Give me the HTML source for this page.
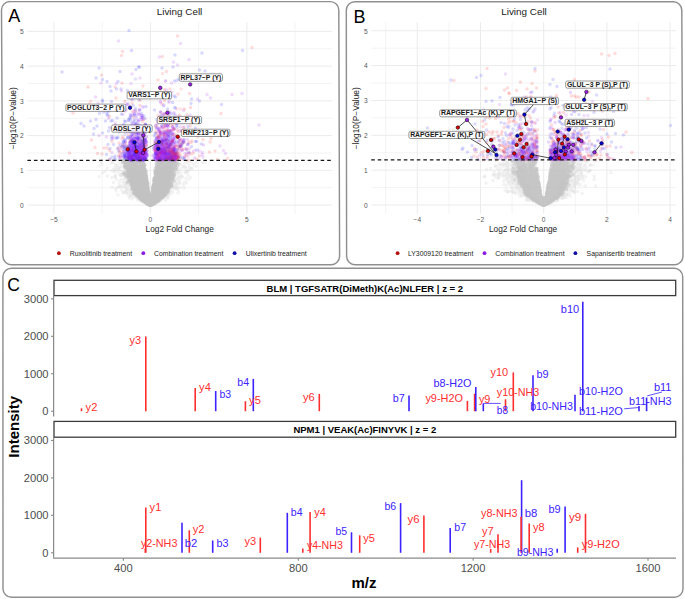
<!DOCTYPE html>
<html><head><meta charset="utf-8"><style>
html,body{margin:0;padding:0;background:#fff;}
svg{display:block;font-family:"Liberation Sans", sans-serif;}
</style></head><body>
<svg width="685" height="599" viewBox="0 0 685 599">
<path d="M10.00 1.60L330.30 1.60A8.5 8.5 0 0 1 338.80 10.10L339.60 256.30A8.5 8.5 0 0 1 331.10 264.80L11.40 264.80A8.5 8.5 0 0 1 2.90 256.30L1.50 10.10A8.5 8.5 0 0 1 10.00 1.60Z" fill="none" stroke="#8f8f8f" stroke-width="1.45"/>
<path d="M354.80 1.70L673.30 1.70A8.5 8.5 0 0 1 681.80 10.20L683.00 256.30A8.5 8.5 0 0 1 674.50 264.80L355.10 264.80A8.5 8.5 0 0 1 346.60 256.30L346.30 10.20A8.5 8.5 0 0 1 354.80 1.70Z" fill="none" stroke="#8f8f8f" stroke-width="1.45"/>
<path d="M11.40 268.20L674.20 268.20A8.5 8.5 0 0 1 682.70 276.70L683.00 588.80A8.5 8.5 0 0 1 674.50 597.30L11.50 597.30A8.5 8.5 0 0 1 3.00 588.80L2.90 276.70A8.5 8.5 0 0 1 11.40 268.20Z" fill="none" stroke="#8f8f8f" stroke-width="1.45"/>
<text x="8.2" y="22.3" font-size="18" fill="#000" text-anchor="start" font-weight="normal" >A</text>
<text x="353.6" y="22.5" font-size="18" fill="#000" text-anchor="start" font-weight="normal" >B</text>
<text x="7.3" y="290.6" font-size="17.5" fill="#000" text-anchor="start" font-weight="normal" >C</text>
<line x1="27.4" x2="332" y1="187.73" y2="187.73" stroke="#ebebeb" stroke-width="0.6"/>
<line x1="27.4" x2="332" y1="152.99" y2="152.99" stroke="#ebebeb" stroke-width="0.6"/>
<line x1="27.4" x2="332" y1="118.25" y2="118.25" stroke="#ebebeb" stroke-width="0.6"/>
<line x1="27.4" x2="332" y1="83.51" y2="83.51" stroke="#ebebeb" stroke-width="0.6"/>
<line x1="27.4" x2="332" y1="48.77" y2="48.77" stroke="#ebebeb" stroke-width="0.6"/>
<line x1="27.4" x2="332" y1="205.10" y2="205.10" stroke="#ebebeb" stroke-width="1"/>
<line x1="27.4" x2="332" y1="170.36" y2="170.36" stroke="#ebebeb" stroke-width="1"/>
<line x1="27.4" x2="332" y1="135.62" y2="135.62" stroke="#ebebeb" stroke-width="1"/>
<line x1="27.4" x2="332" y1="100.88" y2="100.88" stroke="#ebebeb" stroke-width="1"/>
<line x1="27.4" x2="332" y1="66.14" y2="66.14" stroke="#ebebeb" stroke-width="1"/>
<line x1="27.4" x2="332" y1="31.40" y2="31.40" stroke="#ebebeb" stroke-width="1"/>
<line y1="22.3" y2="213.7" x1="102.15" x2="102.15" stroke="#ebebeb" stroke-width="0.6"/>
<line y1="22.3" y2="213.7" x1="198.65" x2="198.65" stroke="#ebebeb" stroke-width="0.6"/>
<line y1="22.3" y2="213.7" x1="295.15" x2="295.15" stroke="#ebebeb" stroke-width="0.6"/>
<line y1="22.3" y2="213.7" x1="53.90" x2="53.90" stroke="#ebebeb" stroke-width="1"/>
<line y1="22.3" y2="213.7" x1="150.40" x2="150.40" stroke="#ebebeb" stroke-width="1"/>
<line y1="22.3" y2="213.7" x1="246.90" x2="246.90" stroke="#ebebeb" stroke-width="1"/>
<line x1="371.4" x2="676" y1="187.57" y2="187.57" stroke="#ebebeb" stroke-width="0.6"/>
<line x1="371.4" x2="676" y1="152.72" y2="152.72" stroke="#ebebeb" stroke-width="0.6"/>
<line x1="371.4" x2="676" y1="117.88" y2="117.88" stroke="#ebebeb" stroke-width="0.6"/>
<line x1="371.4" x2="676" y1="83.02" y2="83.02" stroke="#ebebeb" stroke-width="0.6"/>
<line x1="371.4" x2="676" y1="48.17" y2="48.17" stroke="#ebebeb" stroke-width="0.6"/>
<line x1="371.4" x2="676" y1="205.00" y2="205.00" stroke="#ebebeb" stroke-width="1"/>
<line x1="371.4" x2="676" y1="170.15" y2="170.15" stroke="#ebebeb" stroke-width="1"/>
<line x1="371.4" x2="676" y1="135.30" y2="135.30" stroke="#ebebeb" stroke-width="1"/>
<line x1="371.4" x2="676" y1="100.45" y2="100.45" stroke="#ebebeb" stroke-width="1"/>
<line x1="371.4" x2="676" y1="65.60" y2="65.60" stroke="#ebebeb" stroke-width="1"/>
<line x1="371.4" x2="676" y1="30.75" y2="30.75" stroke="#ebebeb" stroke-width="1"/>
<line y1="22.3" y2="213.7" x1="385.70" x2="385.70" stroke="#ebebeb" stroke-width="0.6"/>
<line y1="22.3" y2="213.7" x1="448.90" x2="448.90" stroke="#ebebeb" stroke-width="0.6"/>
<line y1="22.3" y2="213.7" x1="512.10" x2="512.10" stroke="#ebebeb" stroke-width="0.6"/>
<line y1="22.3" y2="213.7" x1="575.30" x2="575.30" stroke="#ebebeb" stroke-width="0.6"/>
<line y1="22.3" y2="213.7" x1="638.50" x2="638.50" stroke="#ebebeb" stroke-width="0.6"/>
<line y1="22.3" y2="213.7" x1="417.30" x2="417.30" stroke="#ebebeb" stroke-width="1"/>
<line y1="22.3" y2="213.7" x1="480.50" x2="480.50" stroke="#ebebeb" stroke-width="1"/>
<line y1="22.3" y2="213.7" x1="543.70" x2="543.70" stroke="#ebebeb" stroke-width="1"/>
<line y1="22.3" y2="213.7" x1="606.90" x2="606.90" stroke="#ebebeb" stroke-width="1"/>
<line y1="22.3" y2="213.7" x1="670.10" x2="670.10" stroke="#ebebeb" stroke-width="1"/>
<g transform="scale(.5)" fill="none" stroke="#c2c2c2" stroke-opacity="0.45" stroke-width="7.00" stroke-linecap="round"><path d="M246 325h0m0 23h0m2-23h0m4-4h0m1 11h0m0 34h0m1-32h0m1-12h0m1 5h0m0 2h0m0 5h0m0 7h0m0 5h0m0 18h0m1-15h0m1-15h0m1 11h0m0 7h0m1-2h0m1-28h0m0 19h0m0 7h0m0 3h0m0 5h0m0 10h0m1-34h0m0 7h0m0 19h0m0 2h0m0 2h0m0 2h0m0 3h0m1-34h0m0 11h0m0 14h0m0 1h0m0 3h0m0 0h0m0 3h0m0 6h0m1-18h0m0 15h0m0 3h0m0 6h0m0 0h0m1-50h0m0 11h0m0 10h0m0 1h0m0 8h0m0 1h0m0 6h0m0 3h0m0 10h0m0 1h0m1-38h0m0 13h0m0 2h0m1-31h0m0 2h0m0 3h0m0 25h0m0 7h0m0 7h0m0 0h0m0 2h0m0 0h0m0 7h0m1-47h0m0 2h0m0 3h0m0 19h0m0 5h0m0 5h0m0 14h0m1-33h0m0 1h0m0 5h0m0 7h0m0 4h0m0 4h0m0 3h0m0 3h0m0 4h0m0 2h0m0 4h0m0 5h0m1-51h0m0 16h0m0 8h0m0 8h0m0 1h0m0 0h0m0 2h0m0 6h0m0 1h0m0 0h0m0 7h0m1-51h0m0 7h0m0 25h0m0 1h0m0 0h0m0 1h0m0 7h0m0 3h0m0 3h0m0 3h0m1-61h0m0 16h0m0 15h0m0 14h0m0 1h0m0 1h0m0 0h0m0 2h0m0 3h0m0 9h0m0 1h0m0 0h0m0 3h0m1-39h0m0 1h0m0 4h0m0 4h0m0 6h0m0 5h0m0 7h0m0 0h0m0 2h0m0 0h0m0 1h0m0 4h0m1-60h0m0 20h0m0 1h0m0 23h0m0 2h0m0 3h0m0 0h0m0 1h0m0 4h0m0 1h0m0 9h0m0 3h0m1-53h0m0 14h0m0 15h0m0 0h0m0 3h0m0 6h0m0 7h0m0 0h0m0 1h0m0 1h0m0 1h0m0 2h0m0 3h0m1-69h0m0 4h0m0 6h0m0 12h0m0 9h0m0 0h0m0 7h0m0 5h0m0 2h0m0 6h0m0 0h0m0 1h0m0 9h0m0 0h0m0 2h0m0 0h0m0 5h0m1-67h0m0 23h0m0 0h0m0 2h0m0 2h0m0 14h0m0 4h0m0 1h0m0 0h0m0 2h0m0 1h0m0 2h0m0 2h0m0 3h0m0 2h0m0 2h0m0 3h0m0 0h0m0 1h0m0 0h0m0 4h0m0 2h0m1-42h0m0 16h0m0 1h0m0 8h0m0 4h0m0 2h0m0 0h0m0 3h0m0 1h0m0 1h0m0 0h0m0 3h0m0 0h0m0 0h0m0 3h0m1-68h0m0 10h0m0 2h0m0 7h0m0 20h0m0 2h0m0 1h0m0 1h0m0 6h0m0 0h0m0 0h0m0 1h0m0 0h0m0 6h0m0 0h0m0 2h0m0 0h0m0 2h0m0 0h0m0 1h0m0 0h0m0 3h0m0 2h0m0 2h0m0 2h0m0 0h0m0 2h0m1-67h0m0 1h0m0 6h0m0 10h0m0 1h0m0 14h0m0 8h0m0 2h0m0 1h0m0 3h0m0 2h0m0 1h0m0 5h0m0 5h0m0 1h0m0 1h0m0 1h0m0 1h0m1-58h0m0 7h0m0 2h0m0 26h0m0 3h0m0 4h0m0 7h0m0 0h0m0 1h0m0 3h0m0 2h0m0 2h0m0 0h0m0 1h0m0 0h0m0 2h0m0 1h0m1-46h0m0 14h0m0 7h0m0 1h0m0 2h0m0 2h0m0 4h0m0 0h0m0 1h0m0 4h0m0 1h0m0 0h0m0 1h0m0 2h0m0 0h0m0 1h0m0 0h0m0 1h0m0 0h0m0 2h0m0 1h0m0 2h0m0 0h0m0 0h0m0 0h0m0 1h0m0 0h0m1-63h0m0 11h0m0 4h0m0 5h0m0 6h0m0 4h0m0 2h0m0 9h0m0 1h0m0 0h0m0 4h0m0 3h0m0 1h0m0 1h0m0 1h0m0 1h0m0 1h0m0 1h0m0 0h0m0 6h0m0 0h0m0 1h0m0 0h0m0 0h0m0 1h0m0 1h0m0 3h0m1-56h0m0 21h0m0 3h0m0 5h0m0 0h0m0 7h0m0 0h0m0 2h0m0 0h0m0 1h0m0 0h0m0 1h0m0 0h0m0 1h0m0 1h0m0 0h0m0 0h0m0 2h0m0 0h0m0 2h0m0 2h0m0 2h0m0 0h0m0 1h0m0 1h0m0 4h0m0 0h0m1-77h0m0 3h0m0 6h0m0 1h0m0 36h0m0 2h0m0 4h0m0 0h0m0 1h0m0 2h0m0 0h0m0 5h0m0 0h0m0 3h0m0 2h0m0 1h0m0 2h0m0 1h0m0 2h0m0 0h0m0 1h0m0 0h0m1-73h0m0 21h0m0 6h0m0 7h0m0 4h0m0 1h0m0 3h0m0 0h0m0 3h0m0 3h0m0 0h0m0 1h0m0 3h0m0 1h0m0 2h0m0 8h0m0 1h0m0 0h0m0 5h0m0 0h0m0 3h0m0 2h0m0 0h0m0 0h0m0 1h0m0 0h0m0 1h0m0 0h0m0 0h0m0 0h0m0 1h0m0 1h0m1-75h0m0 5h0m0 6h0m0 2h0m0 7h0m0 5h0m0 5h0m0 6h0m0 8h0m0 1h0m0 1h0m0 3h0m0 2h0m0 3h0m0 1h0m0 0h0m0 1h0m0 2h0m0 4h0m0 0h0m0 0h0m0 2h0m0 2h0m0 1h0m0 1h0m0 1h0m0 0h0m0 1h0m0 0h0m0 1h0m0 4h0m0 0h0m0 1h0m0 0h0m0 0h0m0 0h0m1-76h0m0 1h0m0 2h0m0 14h0m0 2h0m0 1h0m0 6h0m0 4h0m0 3h0m0 7h0m0 0h0m0 5h0m0 0h0m0 3h0m0 2h0m0 1h0m0 1h0m0 0h0m0 5h0m0 4h0m0 2h0m0 1h0m0 3h0m0 1h0m0 2h0m0 1h0m0 0h0m0 0h0m0 1h0m0 1h0m0 0h0m0 1h0m0 0h0m0 2h0m0 1h0m0 0h0m1-49h0m0 8h0m0 1h0m0 3h0m0 3h0m0 8h0m0 3h0m0 2h0m0 2h0m0 2h0m0 1h0m0 1h0m0 3h0m0 1h0m0 1h0m0 3h0m0 0h0m0 1h0m0 1h0m0 2h0m0 0h0m0 0h0m0 1h0m0 1h0m0 1h0m0 0h0m0 1h0m0 0h0m1-45h0m0 6h0m0 2h0m0 1h0m0 4h0m0 5h0m0 4h0m0 0h0m0 0h0m0 0h0m0 3h0m0 1h0m0 5h0m0 1h0m0 2h0m0 1h0m0 1h0m0 2h0m0 0h0m0 1h0m0 0h0m0 1h0m0 0h0m0 1h0m0 0h0m0 1h0m0 0h0m0 4h0m1-61h0m0 1h0m0 7h0m0 1h0m0 1h0m0 1h0m0 7h0m0 4h0m0 4h0m0 0h0m0 4h0m0 5h0m0 5h0m0 2h0m0 1h0m0 0h0m0 1h0m0 1h0m0 1h0m0 1h0m0 0h0m0 4h0m0 0h0m0 0h0m0 2h0m0 0h0m0 1h0m0 0h0m0 0h0m0 0h0m0 0h0m0 2h0m0 0h0m0 0h0m0 0h0m0 2h0m0 0h0m0 1h0m0 1h0m0 0h0m0 0h0m0 0h0m0 0h0m0 0h0m1-59h0m0 18h0m0 2h0m0 4h0m0 3h0m0 1h0m0 0h0m0 1h0m0 2h0m0 1h0m0 2h0m0 2h0m0 4h0m0 4h0m0 2h0m0 0h0m0 0h0m0 2h0m0 0h0m0 0h0m0 1h0m0 1h0m0 0h0m0 0h0m0 1h0m0 1h0m0 1h0m0 0h0m0 0h0m0 1h0m0 0h0m0 0h0m0 0h0m0 0h0m0 1h0m0 0h0m0 1h0m0 1h0m0 0h0m0 1h0m0 0h0m0 0h0m0 1h0m0 0h0m0 0h0m0 0h0m0 1h0m0 0h0m0 1h0m0 1h0m1-52h0m0 4h0m0 10h0m0 3h0m0 1h0m0 2h0m0 2h0m0 1h0m0 0h0m0 5h0m0 1h0m0 0h0m0 2h0m0 3h0m0 1h0m0 1h0m0 0h0m0 0h0m0 1h0m0 0h0m0 5h0m0 0h0m0 1h0m0 1h0m0 1h0m0 0h0m0 1h0m0 0h0m0 0h0m0 0h0m0 0h0m0 1h0m0 2h0m0 0h0m0 0h0m0 1h0m0 0h0m0 1h0m0 0h0m0 1h0m0 0h0m1-42h0m0 3h0m0 3h0m0 4h0m0 1h0m0 3h0m0 1h0m0 0h0m0 1h0m0 1h0m0 2h0m0 3h0m0 1h0m0 1h0m0 4h0m0 1h0m0 1h0m0 1h0m0 3h0m0 0h0m0 1h0m0 1h0m0 1h0m0 1h0m0 0h0m0 0h0m0 1h0m0 0h0m0 0h0m0 0h0m0 1h0m0 0h0m0 2h0m0 0h0m0 0h0m0 0h0m0 1h0m1-28h0m0 5h0m0 1h0m0 4h0m0 1h0m0 2h0m0 3h0m0 1h0m0 1h0m0 1h0m0 0h0m0 0h0m0 0h0m0 1h0m0 0h0m0 0h0m0 1h0m0 0h0m0 0h0m0 0h0m0 1h0m0 0h0m0 0h0m0 0h0m0 0h0m0 0h0m0 1h0m0 1h0m0 0h0m0 0h0m0 1h0m0 1h0m0 0h0m0 0h0m0 0h0m0 0h0m0 0h0m0 1h0m0 0h0m0 0h0m0 0h0m0 0h0m0 1h0m0 1h0m1-32h0m0 5h0m0 4h0m0 2h0m0 0h0m0 4h0m0 1h0m0 1h0m0 0h0m0 1h0m0 0h0m0 1h0m0 0h0m0 1h0m0 2h0m0 0h0m0 2h0m0 0h0m0 1h0m0 0h0m0 1h0m0 1h0m0 0h0m0 0h0m0 0h0m0 0h0m0 0h0m0 0h0m0 0h0m0 0h0m0 1h0m0 0h0m0 0h0m0 1h0m0 0h0m0 1h0m0 1h0m0 0h0m0 0h0m0 0h0m0 0h0m0 0h0m0 0h0m0 1h0m0 0h0m1-27h0m0 4h0m0 6h0m0 2h0m0 2h0m0 1h0m0 0h0m0 0h0m0 3h0m0 0h0m0 1h0m0 0h0m0 0h0m0 1h0m0 0h0m0 0h0m0 1h0m0 0h0m0 0h0m0 0h0m0 0h0m0 1h0m0 0h0m0 0h0m0 1h0m0 0h0m0 0h0m0 0h0m0 1h0m0 0h0m0 0h0m0 0h0m0 0h0m0 0h0m0 0h0m0 1h0m0 0h0m0 0h0m0 0h0m0 0h0m0 0h0m0 1h0m0 0h0m0 0h0m0 0h0m0 0h0m0 1h0m0 0h0m0 0h0m0 0h0m0 0h0m0 0h0m0 0h0m0 1h0m0 0h0m0 0h0m1-17h0m0 1h0m0 1h0m0 2h0m0 1h0m0 0h0m0 1h0m0 0h0m0 1h0m0 0h0m0 1h0m0 1h0m0 0h0m0 1h0m0 0h0m0 0h0m0 0h0m0 1h0m0 0h0m0 1h0m0 0h0m0 0h0m0 0h0m0 0h0m0 1h0m0 0h0m0 0h0m0 0h0m0 0h0m0 0h0m0 1h0m0 0h0m0 0h0m0 0h0m0 0h0m0 1h0m0 0h0m0 0h0m0 0h0m0 1h0m0 0h0m0 0h0m0 0h0m0 0h0m0 0h0m0 0h0m0 0h0m0 0h0m0 0h0m0 0h0m0 1h0m0 0h0m1-18h0m0 1h0m0 0h0m0 1h0m0 1h0m0 0h0m0 1h0m0 0h0m0 3h0m0 1h0m0 0h0m0 0h0m0 1h0m0 1h0m0 0h0m0 0h0m0 2h0m0 0h0m0 2h0m0 0h0m0 0h0m0 0h0m0 0h0m0 0h0m0 1h0m0 0h0m0 0h0m0 0h0m0 0h0m0 1h0m0 0h0m0 0h0m0 0h0m0 0h0m0 0h0m0 1h0m0 0h0m0 0h0m0 0h0m0 0h0m0 0h0m0 0h0m0 0h0m0 1h0m0 0h0m0 0h0m0 0h0m0 0h0m0 0h0m0 0h0m0 0h0m0 0h0m0 0h0m0 0h0m0 0h0m0 0h0m0 0h0m0 0h0m0 0h0m0 0h0m0 0h0m0 0h0m0 0h0m0 0h0m0 0h0m0 0h0m0 1h0m0 0h0m0 0h0m0 0h0m1-19h0m0 1h0m0 0h0m0 1h0m0 1h0m0 1h0m0 0h0m0 0h0m0 1h0m0 1h0m0 0h0m0 0h0m0 1h0m0 0h0m0 0h0m0 1h0m0 0h0m0 1h0m0 0h0m0 0h0m0 1h0m0 1h0m0 0h0m0 0h0m0 2h0m0 0h0m0 0h0m0 1h0m0 0h0m0 0h0m0 1h0m0 0h0m0 0h0m0 0h0m0 0h0m0 1h0m0 0h0m0 0h0m0 0h0m0 0h0m0 0h0m0 0h0m0 0h0m0 1h0m0 0h0m0 0h0m0 0h0m0 0h0m0 1h0m0 0h0m0 0h0m0 0h0m0 0h0m0 0h0m0 0h0m0 0h0m0 0h0m0 0h0m0 0h0m0 0h0m0 0h0m0 0h0m0 0h0m0 0h0m0 0h0m0 1h0m0 0h0m0 0h0m0 0h0m0 0h0m0 0h0m0 0h0m0 0h0m0 0h0m0 0h0m0 0h0m1-18h0m0 1h0m0 0h0m0 0h0m0 1h0m0 1h0m0 0h0m0 2h0m0 1h0m0 1h0m0 1h0m0 0h0m0 0h0m0 1h0m0 0h0m0 0h0m0 0h0m0 1h0m0 1h0m0 0h0m0 0h0m0 0h0m0 1h0m0 0h0m0 0h0m0 0h0m0 0h0m0 0h0m0 1h0m0 0h0m0 0h0m0 1h0m0 0h0m0 0h0m0 1h0m0 0h0m0 0h0m0 0h0m0 0h0m0 1h0m0 0h0m0 0h0m0 0h0m0 0h0m0 0h0m0 0h0m0 0h0m0 0h0m0 0h0m0 1h0m0 0h0m0 0h0m0 0h0m0 0h0m0 0h0m0 0h0m0 0h0m0 0h0m0 0h0m0 0h0m0 0h0m0 0h0m0 0h0m0 0h0m0 0h0m0 1h0m0 0h0m0 0h0m0 0h0m0 0h0m0 0h0m0 0h0m0 0h0m0 0h0m0 0h0m0 0h0m0 0h0m0 0h0m0 0h0m0 0h0m0 0h0m0 0h0m0 0h0m0 0h0m0 0h0m0 0h0m0 0h0m0 0h0m1-18h0m0 2h0m0 1h0m0 2h0m0 1h0m0 1h0m0 0h0m0 1h0m0 0h0m0 1h0m0 0h0m0 0h0m0 1h0m0 0h0m0 0h0m0 1h0m0 0h0m0 0h0m0 0h0m0 1h0m0 0h0m0 0h0m0 0h0m0 0h0m0 0h0m0 1h0m0 0h0m0 0h0m0 1h0m0 0h0m0 0h0m0 0h0m0 1h0m0 0h0m0 0h0m0 0h0m0 0h0m0 0h0m0 1h0m0 0h0m0 0h0m0 0h0m0 0h0m0 0h0m0 1h0m0 0h0m0 0h0m0 0h0m0 0h0m0 0h0m0 0h0m0 0h0m0 0h0m0 0h0m0 0h0m0 0h0m0 0h0m0 0h0m0 1h0m0 0h0m0 0h0m0 0h0m0 0h0m0 0h0m0 0h0m0 0h0m0 0h0m1-18h0m0 2h0m0 0h0m0 4h0m0 0h0m0 2h0m0 1h0m0 1h0m0 0h0m0 0h0m0 1h0m0 0h0m0 0h0m0 0h0m0 1h0m0 0h0m0 0h0m0 1h0m0 0h0m0 0h0m0 0h0m0 0h0m0 1h0m0 0h0m0 0h0m0 0h0m0 0h0m0 0h0m0 0h0m0 0h0m0 0h0m0 1h0m0 0h0m0 0h0m0 0h0m0 0h0m0 0h0m0 0h0m0 0h0m0 0h0m0 0h0m0 0h0m0 0h0m0 1h0m0 0h0m0 0h0m0 0h0m0 0h0m0 0h0m0 0h0m0 0h0m0 0h0m0 0h0m0 0h0m0 0h0m0 0h0m0 0h0m0 1h0m0 0h0m0 0h0m0 0h0m0 0h0m0 0h0m0 0h0m0 0h0m0 0h0m0 0h0m0 0h0m0 0h0m0 1h0m1-20h0m0 2h0m0 0h0m0 1h0m0 0h0m0 1h0m0 0h0m0 0h0m0 0h0m0 0h0m0 1h0m0 1h0m0 1h0m0 0h0m0 1h0m0 0h0m0 2h0m0 2h0m0 0h0m0 0h0m0 1h0m0 0h0m0 1h0m0 0h0m0 0h0m0 0h0m0 1h0m0 0h0m0 0h0m0 1h0m0 0h0m0 0h0m0 1h0m0 0h0m0 0h0m0 1h0m0 0h0m0 0h0m0 0h0m0 0h0m0 0h0m0 0h0m0 0h0m0 0h0m0 1h0m0 0h0m0 0h0m1-28h0m0 1h0m0 1h0m0 2h0m0 1h0m0 0h0m0 6h0m0 0h0m0 4h0m0 1h0m0 0h0m0 1h0m0 0h0m0 2h0m0 0h0m0 0h0m0 1h0m0 0h0m0 0h0m0 1h0m0 1h0m0 0h0m0 1h0m0 1h0m0 0h0m0 0h0m0 0h0m0 0h0m0 0h0m0 1h0m0 0h0m0 0h0m0 0h0m0 0h0m0 0h0m0 1h0m0 0h0m0 0h0m0 0h0m0 0h0m0 0h0m0 0h0m0 0h0m0 0h0m0 0h0m0 1h0m0 0h0m0 0h0m0 0h0m0 1h0m1-33h0m0 3h0m0 8h0m0 1h0m0 4h0m0 0h0m0 1h0m0 0h0m0 1h0m0 1h0m0 0h0m0 0h0m0 3h0m0 2h0m0 1h0m0 0h0m0 1h0m0 0h0m0 0h0m0 1h0m0 0h0m0 0h0m0 0h0m0 0h0m0 1h0m0 0h0m0 0h0m0 1h0m0 0h0m0 0h0m0 0h0m0 0h0m0 1h0m0 0h0m0 0h0m0 1h0m0 0h0m0 0h0m0 0h0m0 0h0m0 1h0m1-39h0m0 0h0m0 1h0m0 5h0m0 3h0m0 2h0m0 1h0m0 0h0m0 4h0m0 0h0m0 2h0m0 0h0m0 1h0m0 1h0m0 3h0m0 0h0m0 3h0m0 1h0m0 0h0m0 1h0m0 0h0m0 1h0m0 1h0m0 0h0m0 0h0m0 0h0m0 1h0m0 0h0m0 1h0m0 1h0m0 0h0m0 0h0m0 1h0m0 0h0m0 0h0m0 0h0m0 0h0m0 0h0m0 0h0m0 1h0m0 1h0m0 0h0m0 0h0m0 0h0m0 1h0m0 1h0m1-49h0m0 11h0m0 1h0m0 2h0m0 0h0m0 0h0m0 1h0m0 0h0m0 0h0m0 1h0m0 1h0m0 4h0m0 2h0m0 5h0m0 1h0m0 1h0m0 1h0m0 1h0m0 1h0m0 0h0m0 3h0m0 0h0m0 0h0m0 1h0m0 0h0m0 1h0m0 0h0m0 1h0m0 0h0m0 1h0m0 1h0m0 0h0m0 1h0m0 1h0m0 0h0m0 0h0m0 1h0m0 0h0m0 0h0m0 1h0m0 0h0m0 0h0m0 0h0m0 1h0m0 0h0m0 1h0m0 0h0m0 0h0m0 0h0m0 1h0m0 1h0m1-48h0m0 12h0m0 0h0m0 1h0m0 1h0m0 2h0m0 3h0m0 1h0m0 2h0m0 3h0m0 2h0m0 2h0m0 0h0m0 1h0m0 3h0m0 1h0m0 1h0m0 2h0m0 0h0m0 1h0m0 0h0m0 0h0m0 0h0m0 1h0m0 2h0m0 0h0m0 0h0m0 0h0m0 1h0m0 0h0m0 0h0m0 0h0m0 1h0m0 0h0m0 0h0m0 1h0m0 0h0m0 0h0m0 1h0m0 0h0m0 0h0m0 1h0m0 0h0m0 0h0m0 0h0m0 1h0m1-69h0m0 9h0m0 0h0m0 11h0m0 13h0m0 2h0m0 2h0m0 6h0m0 0h0m0 1h0m0 3h0m0 1h0m0 1h0m0 0h0m0 1h0m0 1h0m0 3h0m0 1h0m0 1h0m0 0h0m0 0h0m0 2h0m0 0h0m0 2h0m0 1h0m0 0h0m0 1h0m0 0h0m0 0h0m0 1h0m0 1h0m0 0h0m0 1h0m0 0h0m0 1h0m0 0h0m0 0h0m0 0h0m0 1h0m0 1h0m0 0h0m0 0h0m0 1h0m1-45h0m0 1h0m0 10h0m0 2h0m0 7h0m0 4h0m0 3h0m0 2h0m0 0h0m0 2h0m0 2h0m0 1h0m0 1h0m0 0h0m0 1h0m0 0h0m0 1h0m0 0h0m0 0h0m0 1h0m0 0h0m0 2h0m0 0h0m0 1h0m0 0h0m0 1h0m0 0h0m0 1h0m0 0h0m1-77h0m0 16h0m0 23h0m0 6h0m0 1h0m0 2h0m0 3h0m0 0h0m0 1h0m0 0h0m0 2h0m0 0h0m0 1h0m0 5h0m0 2h0m0 0h0m0 1h0m0 0h0m0 0h0m0 2h0m0 1h0m0 0h0m0 2h0m0 0h0m0 0h0m0 1h0m0 2h0m0 2h0m0 1h0m0 1h0m0 0h0m0 1h0m0 0h0m0 1h0m1-76h0m0 18h0m0 3h0m0 0h0m0 1h0m0 16h0m0 7h0m0 0h0m0 1h0m0 1h0m0 1h0m0 2h0m0 3h0m0 2h0m0 2h0m0 1h0m0 0h0m0 5h0m0 0h0m0 1h0m0 0h0m0 1h0m0 3h0m0 2h0m0 0h0m0 2h0m0 0h0m0 0h0m0 1h0m0 1h0m0 0h0m0 0h0m1-73h0m0 3h0m0 5h0m0 3h0m0 1h0m0 15h0m0 3h0m0 0h0m0 10h0m0 2h0m0 2h0m0 4h0m0 0h0m0 1h0m0 6h0m0 0h0m0 3h0m0 1h0m0 0h0m0 2h0m0 0h0m0 1h0m0 2h0m0 0h0m0 0h0m0 1h0m0 0h0m0 1h0m0 0h0m0 1h0m0 1h0m0 0h0m0 0h0m0 1h0m0 0h0m0 1h0m0 0h0m0 0h0m0 1h0m0 0h0m0 1h0m0 0h0m0 0h0m1-64h0m0 9h0m0 4h0m0 4h0m0 0h0m0 7h0m0 3h0m0 7h0m0 0h0m0 5h0m0 1h0m0 0h0m0 1h0m0 0h0m0 1h0m0 0h0m0 1h0m0 0h0m0 5h0m0 1h0m0 1h0m0 1h0m0 4h0m0 0h0m0 1h0m0 0h0m0 1h0m0 1h0m0 0h0m0 2h0m0 0h0m0 2h0m0 0h0m0 1h0m1-46h0m0 6h0m0 0h0m0 0h0m0 2h0m0 0h0m0 1h0m0 4h0m0 6h0m0 3h0m0 3h0m0 4h0m0 1h0m0 4h0m0 3h0m0 1h0m0 2h0m0 0h0m0 3h0m0 1h0m0 2h0m1-70h0m0 30h0m0 4h0m0 2h0m0 2h0m0 6h0m0 1h0m0 1h0m0 0h0m0 1h0m0 1h0m0 5h0m0 1h0m0 2h0m0 5h0m0 0h0m0 0h0m0 0h0m0 1h0m0 0h0m0 1h0m0 2h0m0 0h0m0 0h0m0 2h0m0 0h0m0 0h0m0 1h0m0 3h0m0 2h0m1-78h0m0 3h0m0 8h0m0 0h0m0 11h0m0 1h0m0 1h0m0 1h0m0 7h0m0 1h0m0 6h0m0 0h0m0 3h0m0 2h0m0 5h0m0 1h0m0 6h0m0 0h0m0 1h0m0 0h0m0 1h0m0 0h0m0 2h0m0 4h0m0 3h0m0 1h0m0 1h0m0 1h0m0 0h0m0 0h0m0 2h0m0 1h0m1-76h0m0 5h0m0 16h0m0 1h0m0 3h0m0 5h0m0 5h0m0 9h0m0 1h0m0 5h0m0 1h0m0 3h0m0 0h0m0 4h0m0 3h0m0 1h0m0 1h0m0 1h0m0 0h0m0 5h0m0 3h0m0 0h0m0 3h0m1-52h0m0 4h0m0 8h0m0 7h0m0 5h0m0 2h0m0 2h0m0 2h0m0 0h0m0 4h0m0 2h0m0 0h0m0 1h0m0 1h0m0 1h0m0 1h0m0 1h0m0 0h0m0 1h0m0 0h0m0 2h0m0 1h0m1-66h0m0 11h0m0 4h0m0 16h0m0 1h0m0 3h0m0 3h0m0 1h0m0 1h0m0 4h0m0 3h0m0 1h0m0 2h0m0 2h0m0 2h0m0 7h0m0 1h0m0 1h0m0 1h0m0 2h0m0 1h0m0 2h0m0 0h0m0 0h0m1-66h0m0 16h0m0 2h0m0 4h0m0 4h0m0 6h0m0 1h0m0 6h0m0 1h0m0 2h0m0 6h0m0 4h0m0 5h0m0 2h0m0 0h0m0 1h0m0 0h0m0 2h0m0 0h0m0 0h0m0 0h0m0 2h0m0 1h0m0 0h0m0 0h0m0 2h0m1-67h0m0 16h0m0 22h0m0 4h0m0 3h0m0 6h0m0 1h0m0 2h0m0 1h0m0 0h0m0 1h0m0 2h0m0 1h0m0 0h0m0 1h0m0 0h0m0 1h0m0 0h0m0 0h0m0 3h0m0 1h0m0 1h0m0 1h0m0 1h0m0 0h0m0 0h0m1-70h0m0 11h0m0 10h0m0 6h0m0 6h0m0 0h0m0 6h0m0 4h0m0 3h0m0 1h0m0 1h0m0 1h0m0 2h0m0 1h0m0 0h0m0 5h0m0 3h0m0 0h0m0 2h0m0 3h0m1-69h0m0 13h0m0 24h0m0 3h0m0 1h0m0 4h0m0 4h0m0 1h0m0 1h0m0 1h0m0 1h0m0 2h0m0 1h0m0 7h0m0 0h0m0 4h0m0 1h0m0 1h0m0 2h0m1-59h0m0 4h0m0 23h0m0 3h0m0 1h0m0 6h0m0 1h0m0 6h0m0 0h0m0 1h0m0 5h0m0 1h0m0 2h0m0 0h0m0 1h0m0 1h0m0 1h0m1-37h0m0 4h0m0 8h0m0 2h0m0 2h0m0 0h0m0 3h0m0 2h0m0 2h0m0 0h0m0 0h0m0 1h0m0 0h0m0 0h0m0 4h0m0 4h0m0 2h0m0 2h0m0 1h0m0 1h0m0 1h0m1-60h0m0 17h0m0 10h0m0 6h0m0 12h0m0 0h0m0 5h0m0 2h0m0 0h0m0 4h0m1-33h0m0 1h0m0 1h0m0 4h0m0 1h0m0 2h0m0 4h0m0 1h0m0 3h0m0 1h0m0 1h0m0 0h0m0 1h0m0 0h0m0 4h0m0 5h0m0 2h0m0 1h0m1-57h0m0 3h0m0 9h0m0 9h0m0 3h0m0 11h0m0 2h0m0 3h0m0 2h0m0 3h0m0 2h0m0 0h0m0 2h0m0 2h0m1-55h0m0 5h0m0 15h0m0 11h0m0 5h0m0 4h0m0 4h0m0 1h0m0 3h0m0 4h0m0 7h0m1-62h0m0 0h0m0 19h0m0 8h0m0 11h0m0 3h0m0 1h0m0 3h0m0 13h0m0 3h0m1-55h0m0 5h0m0 25h0m0 9h0m0 3h0m0 3h0m0 7h0m1-43h0m0 6h0m0 0h0m0 2h0m0 13h0m0 2h0m0 9h0m0 14h0m1-62h0m0 17h0m0 5h0m0 0h0m0 11h0m0 11h0m0 7h0m0 3h0m0 4h0m0 3h0m1-59h0m0 2h0m0 3h0m0 6h0m0 11h0m0 9h0m0 0h0m0 1h0m0 3h0m1-16h0m0 13h0m0 6h0m0 2h0m0 3h0m0 11h0m1-51h0m0 16h0m0 0h0m0 2h0m0 3h0m0 11h0m0 1h0m0 1h0m0 1h0m0 0h0m0 2h0m0 8h0m1-43h0m0 18h0m0 1h0m0 5h0m0 15h0m1-37h0m0 20h0m0 3h0m0 5h0m0 13h0m0 1h0m1-36h0m0 10h0m0 1h0m0 18h0m1-5h0m1-29h0m0 4h0m0 11h0m0 14h0m0 8h0m0 5h0m2-47h0m0 32h0m4-37h0m0 1h0m0 15h0m1-16h0m0 6h0m0 6h0m3 4h0m3-10h0"/><path d="M249 334h0m1-9h0m0 7h0m0 16h0m3-24h0m2 29h0m1-20h0m0 5h0m0 0h0m1-17h0m0 21h0m1-16h0m0 14h0m0 2h0m0 10h0m1-15h0m0 4h0m0 11h0m1-12h0m0 7h0m0 3h0m1-19h0m0 3h0m0 1h0m0 6h0m0 8h0m0 12h0m0 1h0m1-35h0m0 1h0m0 1h0m0 17h0m0 4h0m0 18h0m1-46h0m0 2h0m0 19h0m0 9h0m0 2h0m0 8h0m1-31h0m0 0h0m0 9h0m0 3h0m0 8h0m0 5h0m0 1h0m1-36h0m0 30h0m0 0h0m0 1h0m0 9h0m1-35h0m0 5h0m0 11h0m0 0h0m0 13h0m0 4h0m0 4h0m0 17h0m1-47h0m0 8h0m0 1h0m0 2h0m0 6h0m0 6h0m0 5h0m0 6h0m0 2h0m0 1h0m0 6h0m0 4h0m0 6h0m1-45h0m0 4h0m0 0h0m0 8h0m0 1h0m0 4h0m0 4h0m0 4h0m0 0h0m0 5h0m0 2h0m0 10h0m1-47h0m0 8h0m0 4h0m0 9h0m0 9h0m0 4h0m0 5h0m0 1h0m0 0h0m1-38h0m0 28h0m0 1h0m0 5h0m0 2h0m0 1h0m0 1h0m0 8h0m1-56h0m0 5h0m0 10h0m0 14h0m0 17h0m0 6h0m0 0h0m1-54h0m0 0h0m0 19h0m0 5h0m0 1h0m0 6h0m0 4h0m0 4h0m0 1h0m0 3h0m0 0h0m0 2h0m0 1h0m0 10h0m1-55h0m0 8h0m0 12h0m0 2h0m0 5h0m0 6h0m0 1h0m0 1h0m0 8h0m0 0h0m0 4h0m0 3h0m0 2h0m0 1h0m0 1h0m0 1h0m0 2h0m0 1h0m1-64h0m0 22h0m0 1h0m0 7h0m0 0h0m0 1h0m0 5h0m0 3h0m0 4h0m0 3h0m0 4h0m0 11h0m0 2h0m0 2h0m0 2h0m0 1h0m1-67h0m0 12h0m0 3h0m0 14h0m0 0h0m0 5h0m0 9h0m0 2h0m0 6h0m0 2h0m0 4h0m0 2h0m0 4h0m0 1h0m0 2h0m0 0h0m0 1h0m1-48h0m0 16h0m0 3h0m0 1h0m0 3h0m0 6h0m0 1h0m0 1h0m0 3h0m0 2h0m0 1h0m0 5h0m0 5h0m0 2h0m0 1h0m0 0h0m0 1h0m1-49h0m0 3h0m0 3h0m0 5h0m0 0h0m0 9h0m0 0h0m0 1h0m0 1h0m0 7h0m0 5h0m0 2h0m0 0h0m0 3h0m0 1h0m0 1h0m0 0h0m0 1h0m0 0h0m0 0h0m0 3h0m0 0h0m0 1h0m0 1h0m0 3h0m1-42h0m0 3h0m0 0h0m0 3h0m0 4h0m0 3h0m0 3h0m0 1h0m0 1h0m0 5h0m0 1h0m0 2h0m0 2h0m0 1h0m0 3h0m0 6h0m0 1h0m0 2h0m1-68h0m0 19h0m0 20h0m0 10h0m0 0h0m0 0h0m0 3h0m0 1h0m0 2h0m0 4h0m0 1h0m0 0h0m0 2h0m0 3h0m0 0h0m0 1h0m0 2h0m0 2h0m1-69h0m0 21h0m0 2h0m0 12h0m0 1h0m0 2h0m0 4h0m0 0h0m0 7h0m0 0h0m0 2h0m0 0h0m0 1h0m0 1h0m0 2h0m0 0h0m0 3h0m0 0h0m0 5h0m0 0h0m0 0h0m0 0h0m0 3h0m0 6h0m1-53h0m0 2h0m0 6h0m0 0h0m0 1h0m0 6h0m0 3h0m0 3h0m0 3h0m0 2h0m0 5h0m0 2h0m0 3h0m0 2h0m0 1h0m0 1h0m0 1h0m0 0h0m0 2h0m0 1h0m0 2h0m0 1h0m0 3h0m0 3h0m1-68h0m0 5h0m0 4h0m0 1h0m0 3h0m0 3h0m0 15h0m0 10h0m0 2h0m0 5h0m0 1h0m0 2h0m0 0h0m0 0h0m0 1h0m0 2h0m0 3h0m0 2h0m0 4h0m0 1h0m1-73h0m0 6h0m0 19h0m0 1h0m0 6h0m0 2h0m0 2h0m0 4h0m0 4h0m0 10h0m0 1h0m0 2h0m0 2h0m0 1h0m0 3h0m0 1h0m0 1h0m0 0h0m0 8h0m0 1h0m0 1h0m0 0h0m0 1h0m0 1h0m1-75h0m0 24h0m0 7h0m0 0h0m0 2h0m0 2h0m0 1h0m0 1h0m0 1h0m0 4h0m0 2h0m0 0h0m0 2h0m0 5h0m0 1h0m0 4h0m0 2h0m0 7h0m0 2h0m0 2h0m0 0h0m0 1h0m0 0h0m0 0h0m0 1h0m0 1h0m0 1h0m0 0h0m0 2h0m0 3h0m0 0h0m1-74h0m0 5h0m0 0h0m0 21h0m0 25h0m0 1h0m0 2h0m0 1h0m0 2h0m0 2h0m0 0h0m0 1h0m0 0h0m0 1h0m0 2h0m0 1h0m0 0h0m0 0h0m0 2h0m0 1h0m0 0h0m0 0h0m0 1h0m0 0h0m0 1h0m0 1h0m0 0h0m0 1h0m0 2h0m1-79h0m0 8h0m0 12h0m0 2h0m0 15h0m0 1h0m0 0h0m0 2h0m0 1h0m0 0h0m0 6h0m0 1h0m0 1h0m0 1h0m0 1h0m0 2h0m0 2h0m0 1h0m0 1h0m0 3h0m0 0h0m0 1h0m0 0h0m0 0h0m0 3h0m0 0h0m0 0h0m0 0h0m0 2h0m0 2h0m0 0h0m0 1h0m0 1h0m0 1h0m0 1h0m0 2h0m0 0h0m0 0h0m0 1h0m0 0h0m0 0h0m0 2h0m0 0h0m0 0h0m0 2h0m0 0h0m0 1h0m0 2h0m1-69h0m0 14h0m0 2h0m0 5h0m0 12h0m0 5h0m0 5h0m0 1h0m0 0h0m0 2h0m0 2h0m0 1h0m0 1h0m0 3h0m0 2h0m0 1h0m0 0h0m0 1h0m0 1h0m0 1h0m0 0h0m0 1h0m0 0h0m0 3h0m0 0h0m0 2h0m0 0h0m0 0h0m0 0h0m0 1h0m0 0h0m0 0h0m0 1h0m0 1h0m0 1h0m1-61h0m0 19h0m0 2h0m0 1h0m0 1h0m0 5h0m0 1h0m0 3h0m0 2h0m0 1h0m0 2h0m0 1h0m0 2h0m0 1h0m0 2h0m0 1h0m0 1h0m0 1h0m0 1h0m0 1h0m0 3h0m0 1h0m0 0h0m0 0h0m0 1h0m0 0h0m0 1h0m0 0h0m0 2h0m0 3h0m0 0h0m0 0h0m0 1h0m0 0h0m0 1h0m1-50h0m0 3h0m0 1h0m0 5h0m0 1h0m0 2h0m0 1h0m0 1h0m0 2h0m0 0h0m0 11h0m0 0h0m0 2h0m0 1h0m0 0h0m0 1h0m0 0h0m0 0h0m0 3h0m0 3h0m0 1h0m0 2h0m0 0h0m0 1h0m0 1h0m0 0h0m0 1h0m0 0h0m0 0h0m0 0h0m0 1h0m0 1h0m0 0h0m0 0h0m0 3h0m0 0h0m0 1h0m0 0h0m0 0h0m0 0h0m0 0h0m0 1h0m0 0h0m0 1h0m0 0h0m0 1h0m1-59h0m0 5h0m0 3h0m0 3h0m0 6h0m0 0h0m0 2h0m0 2h0m0 9h0m0 2h0m0 2h0m0 2h0m0 1h0m0 3h0m0 3h0m0 0h0m0 1h0m0 4h0m0 2h0m0 0h0m0 1h0m0 0h0m0 0h0m0 0h0m0 1h0m0 0h0m0 0h0m0 0h0m0 1h0m0 0h0m0 1h0m0 0h0m0 2h0m0 0h0m0 1h0m0 1h0m0 0h0m0 0h0m0 0h0m0 1h0m1-52h0m0 1h0m0 1h0m0 4h0m0 9h0m0 0h0m0 4h0m0 5h0m0 0h0m0 3h0m0 4h0m0 0h0m0 4h0m0 2h0m0 1h0m0 3h0m0 0h0m0 0h0m0 1h0m0 0h0m0 1h0m0 2h0m0 0h0m0 1h0m0 1h0m0 0h0m0 1h0m0 1h0m0 0h0m0 0h0m0 1h0m1-48h0m0 5h0m0 3h0m0 10h0m0 2h0m0 6h0m0 3h0m0 2h0m0 3h0m0 3h0m0 2h0m0 0h0m0 0h0m0 0h0m0 1h0m0 0h0m0 1h0m0 3h0m0 0h0m0 0h0m0 1h0m0 0h0m0 0h0m0 2h0m0 1h0m0 1h0m0 0h0m0 0h0m0 0h0m0 1h0m0 1h0m0 0h0m0 0h0m0 1h0m0 0h0m1-54h0m0 15h0m0 1h0m0 1h0m0 3h0m0 0h0m0 0h0m0 1h0m0 4h0m0 0h0m0 1h0m0 2h0m0 0h0m0 2h0m0 0h0m0 2h0m0 1h0m0 1h0m0 1h0m0 0h0m0 0h0m0 3h0m0 1h0m0 0h0m0 3h0m0 0h0m0 1h0m0 0h0m0 1h0m0 0h0m0 0h0m0 1h0m0 1h0m0 1h0m0 0h0m0 0h0m0 0h0m0 0h0m0 1h0m0 0h0m0 0h0m0 0h0m0 2h0m0 0h0m0 0h0m0 0h0m0 0h0m0 1h0m0 0h0m0 0h0m0 0h0m0 0h0m0 1h0m0 0h0m0 0h0m0 0h0m0 0h0m0 0h0m0 1h0m0 0h0m0 0h0m1-42h0m0 1h0m0 5h0m0 0h0m0 3h0m0 5h0m0 2h0m0 6h0m0 1h0m0 3h0m0 1h0m0 1h0m0 2h0m0 0h0m0 1h0m0 1h0m0 0h0m0 1h0m0 2h0m0 0h0m0 1h0m0 1h0m0 0h0m0 1h0m0 0h0m0 0h0m0 0h0m0 0h0m0 0h0m0 0h0m0 1h0m0 0h0m0 0h0m0 0h0m0 0h0m0 1h0m0 0h0m0 1h0m0 1h0m0 0h0m0 0h0m0 0h0m0 0h0m0 1h0m0 0h0m0 0h0m0 1h0m1-40h0m0 17h0m0 1h0m0 0h0m0 1h0m0 0h0m0 2h0m0 1h0m0 2h0m0 2h0m0 1h0m0 5h0m0 1h0m0 0h0m0 0h0m0 1h0m0 2h0m0 1h0m0 0h0m0 1h0m0 0h0m0 0h0m0 1h0m0 0h0m0 0h0m0 0h0m0 0h0m0 0h0m0 0h0m0 0h0m0 0h0m0 0h0m0 0h0m0 0h0m0 0h0m0 1h0m0 0h0m0 0h0m1-31h0m0 10h0m0 3h0m0 3h0m0 0h0m0 1h0m0 0h0m0 0h0m0 2h0m0 0h0m0 0h0m0 1h0m0 0h0m0 0h0m0 1h0m0 0h0m0 1h0m0 1h0m0 1h0m0 0h0m0 0h0m0 0h0m0 0h0m0 1h0m0 0h0m0 0h0m0 0h0m0 0h0m0 0h0m0 1h0m0 0h0m0 0h0m0 1h0m0 0h0m0 2h0m0 0h0m0 0h0m0 0h0m0 1h0m0 0h0m0 0h0m0 0h0m0 0h0m0 0h0m0 0h0m0 1h0m0 0h0m0 0h0m0 0h0m0 1h0m0 0h0m0 0h0m1-18h0m0 0h0m0 1h0m0 1h0m0 0h0m0 1h0m0 0h0m0 1h0m0 1h0m0 1h0m0 1h0m0 2h0m0 1h0m0 0h0m0 0h0m0 0h0m0 1h0m0 0h0m0 1h0m0 1h0m0 0h0m0 0h0m0 0h0m0 0h0m0 1h0m0 0h0m0 0h0m0 0h0m0 1h0m0 0h0m0 0h0m0 1h0m0 0h0m0 0h0m0 0h0m0 0h0m0 1h0m0 0h0m0 0h0m0 0h0m0 0h0m0 0h0m0 1h0m0 0h0m0 0h0m0 0h0m0 0h0m0 0h0m0 1h0m1-19h0m0 1h0m0 1h0m0 1h0m0 1h0m0 0h0m0 1h0m0 0h0m0 1h0m0 1h0m0 1h0m0 0h0m0 1h0m0 0h0m0 1h0m0 2h0m0 0h0m0 1h0m0 0h0m0 1h0m0 0h0m0 0h0m0 1h0m0 0h0m0 0h0m0 1h0m0 1h0m0 0h0m0 0h0m0 0h0m0 0h0m0 0h0m0 0h0m0 0h0m0 0h0m0 0h0m0 0h0m0 0h0m0 0h0m0 1h0m0 0h0m0 0h0m0 0h0m0 0h0m0 0h0m0 0h0m0 0h0m0 0h0m0 0h0m0 0h0m0 1h0m0 0h0m0 0h0m0 0h0m0 1h0m1-18h0m0 3h0m0 1h0m0 1h0m0 2h0m0 0h0m0 0h0m0 1h0m0 0h0m0 1h0m0 0h0m0 0h0m0 1h0m0 0h0m0 2h0m0 0h0m0 1h0m0 0h0m0 0h0m0 0h0m0 1h0m0 0h0m0 0h0m0 0h0m0 0h0m0 0h0m0 0h0m0 0h0m0 1h0m0 0h0m0 0h0m0 0h0m0 0h0m0 0h0m0 1h0m0 0h0m0 0h0m0 0h0m0 0h0m0 0h0m0 0h0m0 0h0m0 0h0m0 0h0m0 0h0m0 1h0m0 0h0m0 0h0m0 0h0m0 0h0m0 0h0m0 0h0m0 0h0m0 0h0m0 0h0m0 0h0m0 0h0m0 1h0m0 0h0m1-21h0m0 3h0m0 0h0m0 0h0m0 0h0m0 1h0m0 0h0m0 1h0m0 1h0m0 1h0m0 3h0m0 0h0m0 1h0m0 1h0m0 0h0m0 1h0m0 0h0m0 0h0m0 0h0m0 1h0m0 0h0m0 0h0m0 0h0m0 0h0m0 1h0m0 0h0m0 0h0m0 0h0m0 0h0m0 0h0m0 1h0m0 0h0m0 0h0m0 0h0m0 0h0m0 0h0m0 1h0m0 0h0m0 0h0m0 1h0m0 0h0m0 0h0m0 0h0m0 0h0m0 1h0m0 0h0m0 0h0m0 0h0m0 0h0m0 0h0m0 0h0m0 0h0m0 0h0m0 0h0m0 1h0m0 0h0m0 0h0m0 0h0m0 0h0m0 0h0m0 0h0m0 0h0m0 0h0m0 0h0m0 0h0m0 0h0m0 0h0m0 1h0m0 0h0m0 0h0m0 0h0m0 0h0m0 0h0m0 0h0m0 0h0m0 0h0m0 0h0m0 0h0m1-20h0m0 0h0m0 1h0m0 2h0m0 0h0m0 0h0m0 2h0m0 0h0m0 0h0m0 1h0m0 1h0m0 1h0m0 1h0m0 1h0m0 0h0m0 0h0m0 0h0m0 0h0m0 1h0m0 0h0m0 0h0m0 1h0m0 0h0m0 0h0m0 1h0m0 0h0m0 1h0m0 0h0m0 0h0m0 0h0m0 0h0m0 1h0m0 0h0m0 0h0m0 1h0m0 0h0m0 0h0m0 1h0m0 0h0m0 0h0m0 0h0m0 1h0m0 0h0m0 1h0m0 0h0m0 0h0m0 0h0m0 0h0m0 0h0m0 0h0m0 0h0m0 0h0m0 0h0m0 0h0m0 0h0m0 0h0m0 0h0m0 0h0m0 1h0m0 0h0m0 0h0m0 0h0m0 0h0m0 0h0m0 0h0m0 0h0m0 0h0m0 0h0m0 0h0m0 0h0m0 0h0m0 0h0m0 0h0m0 0h0m0 0h0m0 0h0m0 0h0m0 0h0m1-19h0m0 2h0m0 1h0m0 0h0m0 0h0m0 0h0m0 1h0m0 1h0m0 0h0m0 1h0m0 0h0m0 0h0m0 1h0m0 1h0m0 1h0m0 1h0m0 1h0m0 0h0m0 1h0m0 0h0m0 1h0m0 1h0m0 0h0m0 0h0m0 1h0m0 0h0m0 0h0m0 0h0m0 1h0m0 0h0m0 0h0m0 0h0m0 0h0m0 0h0m0 1h0m0 0h0m0 0h0m0 0h0m0 0h0m0 0h0m0 0h0m0 0h0m0 0h0m0 0h0m0 0h0m0 1h0m0 0h0m0 0h0m0 0h0m0 0h0m0 0h0m0 0h0m0 0h0m0 1h0m0 0h0m0 0h0m0 0h0m0 0h0m0 0h0m0 0h0m1-19h0m0 1h0m0 2h0m0 1h0m0 0h0m0 1h0m0 2h0m0 0h0m0 0h0m0 1h0m0 0h0m0 1h0m0 1h0m0 0h0m0 2h0m0 1h0m0 0h0m0 1h0m0 0h0m0 0h0m0 1h0m0 0h0m0 0h0m0 0h0m0 0h0m0 1h0m0 0h0m0 0h0m0 0h0m0 0h0m0 0h0m0 1h0m0 0h0m0 0h0m0 0h0m0 0h0m0 0h0m0 0h0m0 0h0m0 0h0m0 1h0m0 0h0m0 0h0m0 0h0m0 0h0m0 0h0m0 0h0m0 0h0m0 0h0m0 0h0m0 0h0m0 0h0m0 1h0m0 0h0m1-21h0m0 1h0m0 1h0m0 0h0m0 1h0m0 0h0m0 1h0m0 0h0m0 0h0m0 2h0m0 0h0m0 0h0m0 0h0m0 1h0m0 0h0m0 1h0m0 0h0m0 0h0m0 1h0m0 1h0m0 1h0m0 0h0m0 3h0m0 1h0m0 0h0m0 1h0m0 0h0m0 0h0m0 0h0m0 0h0m0 1h0m0 0h0m0 0h0m0 0h0m0 0h0m0 0h0m0 1h0m0 0h0m0 1h0m0 0h0m0 0h0m0 0h0m0 0h0m0 0h0m0 0h0m0 1h0m0 0h0m0 0h0m0 0h0m0 0h0m0 0h0m1-26h0m0 2h0m0 2h0m0 1h0m0 3h0m0 1h0m0 0h0m0 0h0m0 4h0m0 1h0m0 1h0m0 1h0m0 0h0m0 0h0m0 1h0m0 0h0m0 0h0m0 0h0m0 1h0m0 0h0m0 0h0m0 1h0m0 1h0m0 0h0m0 0h0m0 0h0m0 0h0m0 0h0m0 1h0m0 0h0m0 0h0m0 1h0m0 0h0m0 0h0m0 0h0m0 0h0m0 0h0m0 1h0m0 0h0m0 0h0m0 0h0m0 0h0m0 1h0m0 0h0m0 0h0m0 0h0m0 0h0m0 0h0m0 0h0m0 1h0m0 0h0m0 0h0m1-35h0m0 2h0m0 4h0m0 2h0m0 1h0m0 1h0m0 3h0m0 1h0m0 2h0m0 0h0m0 0h0m0 3h0m0 0h0m0 1h0m0 2h0m0 1h0m0 2h0m0 1h0m0 0h0m0 1h0m0 0h0m0 1h0m0 0h0m0 0h0m0 1h0m0 0h0m0 0h0m0 0h0m0 0h0m0 1h0m0 0h0m0 0h0m0 0h0m0 1h0m0 0h0m0 1h0m0 0h0m0 0h0m0 1h0m0 0h0m0 0h0m0 0h0m0 0h0m0 0h0m0 0h0m0 1h0m0 0h0m0 0h0m0 0h0m0 0h0m0 1h0m1-36h0m0 4h0m0 1h0m0 2h0m0 2h0m0 0h0m0 1h0m0 2h0m0 0h0m0 4h0m0 0h0m0 0h0m0 1h0m0 1h0m0 0h0m0 4h0m0 1h0m0 1h0m0 0h0m0 2h0m0 0h0m0 0h0m0 0h0m0 0h0m0 0h0m0 1h0m0 0h0m0 0h0m0 1h0m0 0h0m0 1h0m0 0h0m0 1h0m0 2h0m0 0h0m0 0h0m0 0h0m0 0h0m0 1h0m0 0h0m0 0h0m0 1h0m0 0h0m0 0h0m0 0h0m0 0h0m0 1h0m0 1h0m0 0h0m1-41h0m0 3h0m0 12h0m0 3h0m0 3h0m0 1h0m0 0h0m0 2h0m0 0h0m0 1h0m0 1h0m0 2h0m0 0h0m0 0h0m0 1h0m0 0h0m0 1h0m0 1h0m0 0h0m0 2h0m0 1h0m0 1h0m0 0h0m0 0h0m0 0h0m0 0h0m0 1h0m0 1h0m0 1h0m0 2h0m1-49h0m0 3h0m0 0h0m0 3h0m0 2h0m0 7h0m0 1h0m0 0h0m0 3h0m0 4h0m0 4h0m0 1h0m0 0h0m0 0h0m0 1h0m0 0h0m0 4h0m0 0h0m0 1h0m0 1h0m0 0h0m0 1h0m0 0h0m0 0h0m0 1h0m0 1h0m0 0h0m0 2h0m0 1h0m0 1h0m0 0h0m0 0h0m0 0h0m0 0h0m0 0h0m0 1h0m0 0h0m0 0h0m0 0h0m0 1h0m0 2h0m0 0h0m0 0h0m0 1h0m0 0h0m0 0h0m1-45h0m0 0h0m0 1h0m0 7h0m0 2h0m0 4h0m0 2h0m0 1h0m0 1h0m0 0h0m0 1h0m0 1h0m0 1h0m0 1h0m0 4h0m0 0h0m0 0h0m0 0h0m0 1h0m0 1h0m0 2h0m0 2h0m0 0h0m0 1h0m0 0h0m0 1h0m0 1h0m0 0h0m0 2h0m0 1h0m0 0h0m0 1h0m0 0h0m0 1h0m0 0h0m0 1h0m0 1h0m0 0h0m0 1h0m0 0h0m0 0h0m0 1h0m0 0h0m1-60h0m0 2h0m0 7h0m0 6h0m0 6h0m0 2h0m0 6h0m0 2h0m0 0h0m0 2h0m0 1h0m0 1h0m0 4h0m0 1h0m0 1h0m0 0h0m0 0h0m0 2h0m0 2h0m0 5h0m0 3h0m0 0h0m0 1h0m0 1h0m0 0h0m0 0h0m0 1h0m0 0h0m0 1h0m0 1h0m0 0h0m0 0h0m0 0h0m0 1h0m0 1h0m1-69h0m0 11h0m0 14h0m0 3h0m0 2h0m0 7h0m0 0h0m0 1h0m0 3h0m0 2h0m0 0h0m0 2h0m0 2h0m0 1h0m0 0h0m0 2h0m0 0h0m0 0h0m0 2h0m0 0h0m0 0h0m0 1h0m0 5h0m0 1h0m0 0h0m0 0h0m0 1h0m0 0h0m0 1h0m0 1h0m0 1h0m0 0h0m0 0h0m0 0h0m0 1h0m0 0h0m0 0h0m0 0h0m0 1h0m0 0h0m0 1h0m0 1h0m0 0h0m0 0h0m0 1h0m0 0h0m0 0h0m1-55h0m0 1h0m0 11h0m0 4h0m0 5h0m0 11h0m0 0h0m0 1h0m0 3h0m0 3h0m0 2h0m0 1h0m0 1h0m0 0h0m0 0h0m0 2h0m0 0h0m0 2h0m0 1h0m0 0h0m0 1h0m0 2h0m0 0h0m0 0h0m0 1h0m0 1h0m0 0h0m0 1h0m0 1h0m1-82h0m0 9h0m0 19h0m0 5h0m0 12h0m0 3h0m0 10h0m0 1h0m0 1h0m0 0h0m0 2h0m0 2h0m0 2h0m0 0h0m0 0h0m0 1h0m0 2h0m0 1h0m0 1h0m0 1h0m0 1h0m0 2h0m0 1h0m0 0h0m0 1h0m0 1h0m0 0h0m0 0h0m0 2h0m1-65h0m0 3h0m0 2h0m0 12h0m0 5h0m0 2h0m0 4h0m0 1h0m0 1h0m0 10h0m0 4h0m0 0h0m0 3h0m0 1h0m0 4h0m0 0h0m0 2h0m0 3h0m0 2h0m0 0h0m0 2h0m0 1h0m0 1h0m0 0h0m0 1h0m0 0h0m0 1h0m0 1h0m1-81h0m0 15h0m0 2h0m0 18h0m0 1h0m0 1h0m0 3h0m0 0h0m0 7h0m0 9h0m0 1h0m0 2h0m0 5h0m0 5h0m0 2h0m0 0h0m0 1h0m0 3h0m0 1h0m0 2h0m1-56h0m0 1h0m0 0h0m0 7h0m0 2h0m0 10h0m0 9h0m0 1h0m0 9h0m0 1h0m0 0h0m0 3h0m0 0h0m0 4h0m0 0h0m0 1h0m0 1h0m0 1h0m0 2h0m0 1h0m0 1h0m1-66h0m0 7h0m0 11h0m0 4h0m0 4h0m0 2h0m0 0h0m0 3h0m0 3h0m0 1h0m0 4h0m0 1h0m0 4h0m0 2h0m0 2h0m0 0h0m0 4h0m0 1h0m0 0h0m0 4h0m0 0h0m0 4h0m0 1h0m0 0h0m0 1h0m0 0h0m0 1h0m0 0h0m0 0h0m0 0h0m0 3h0m1-48h0m0 3h0m0 10h0m0 4h0m0 4h0m0 0h0m0 6h0m0 3h0m0 0h0m0 1h0m0 2h0m0 1h0m0 1h0m0 1h0m0 1h0m0 1h0m0 4h0m0 1h0m0 0h0m0 1h0m0 0h0m0 1h0m0 2h0m0 1h0m1-62h0m0 4h0m0 6h0m0 12h0m0 2h0m0 5h0m0 5h0m0 0h0m0 1h0m0 9h0m0 0h0m0 4h0m0 1h0m0 3h0m0 3h0m0 1h0m0 0h0m0 1h0m0 0h0m0 0h0m0 1h0m1-67h0m0 20h0m0 14h0m0 2h0m0 8h0m0 1h0m0 2h0m0 2h0m0 1h0m0 0h0m0 2h0m0 2h0m0 2h0m0 2h0m0 5h0m0 1h0m0 1h0m0 0h0m0 2h0m0 0h0m1-55h0m0 3h0m0 20h0m0 5h0m0 7h0m0 4h0m0 1h0m0 0h0m0 1h0m0 2h0m0 1h0m0 2h0m0 0h0m0 2h0m0 2h0m0 0h0m0 1h0m0 1h0m0 1h0m0 1h0m0 1h0m1-56h0m0 7h0m0 18h0m0 1h0m0 10h0m0 1h0m0 0h0m0 1h0m0 1h0m0 4h0m0 2h0m0 2h0m0 1h0m0 0h0m0 1h0m0 1h0m0 0h0m0 1h0m0 1h0m0 1h0m0 1h0m0 1h0m0 0h0m0 1h0m0 1h0m1-72h0m0 11h0m0 9h0m0 0h0m0 3h0m0 8h0m0 5h0m0 1h0m0 1h0m0 2h0m0 10h0m0 2h0m0 0h0m0 1h0m0 2h0m0 0h0m0 2h0m0 1h0m0 0h0m0 1h0m0 3h0m0 1h0m0 3h0m0 0h0m0 3h0m1-51h0m0 3h0m0 3h0m0 7h0m0 3h0m0 1h0m0 0h0m0 6h0m0 4h0m0 11h0m0 0h0m0 5h0m0 0h0m0 3h0m1-61h0m0 6h0m0 16h0m0 8h0m0 16h0m0 2h0m0 1h0m0 2h0m0 0h0m0 1h0m0 2h0m0 1h0m0 0h0m0 2h0m0 2h0m0 3h0m0 2h0m0 4h0m1-73h0m0 5h0m0 1h0m0 12h0m0 1h0m0 13h0m0 14h0m0 1h0m0 3h0m0 1h0m0 1h0m0 0h0m0 5h0m0 1h0m0 1h0m0 1h0m0 2h0m0 1h0m0 1h0m0 2h0m0 1h0m0 2h0m0 0h0m0 1h0m0 0h0m1-51h0m0 11h0m0 0h0m0 3h0m0 0h0m0 3h0m0 3h0m0 2h0m0 8h0m0 0h0m0 3h0m0 1h0m0 6h0m0 0h0m0 2h0m0 2h0m0 5h0m1-37h0m0 15h0m0 2h0m0 1h0m0 1h0m0 5h0m0 1h0m0 7h0m0 6h0m1-63h0m0 12h0m0 5h0m0 1h0m0 14h0m0 3h0m0 3h0m0 2h0m0 1h0m0 0h0m0 3h0m0 5h0m0 1h0m0 1h0m0 0h0m0 1h0m0 1h0m0 0h0m0 1h0m0 1h0m0 3h0m1-62h0m0 8h0m0 4h0m0 27h0m0 1h0m0 9h0m0 2h0m0 1h0m0 1h0m0 5h0m0 2h0m1-58h0m0 5h0m0 9h0m0 12h0m0 12h0m0 1h0m0 0h0m0 2h0m0 1h0m0 0h0m0 3h0m0 8h0m1-30h0m0 20h0m0 9h0m0 1h0m0 0h0m0 2h0m1-32h0m0 1h0m0 0h0m0 1h0m0 6h0m0 7h0m0 2h0m0 4h0m0 3h0m0 1h0m0 3h0m0 0h0m1-40h0m0 10h0m0 19h0m0 0h0m0 1h0m0 9h0m0 1h0m1-43h0m0 6h0m0 0h0m0 9h0m0 3h0m0 4h0m0 3h0m0 3h0m0 1h0m0 1h0m0 1h0m0 3h0m0 6h0m1-41h0m0 26h0m0 6h0m0 1h0m0 1h0m1-43h0m0 7h0m0 16h0m0 2h0m0 10h0m0 4h0m1-31h0m0 8h0m0 7h0m0 3h0m0 3h0m0 9h0m0 9h0m1-35h0m0 0h0m0 14h0m0 3h0m1-23h0m0 2h0m1 1h0m0 8h0m0 16h0m0 11h0m1-44h0m0 1h0m0 4h0m0 4h0m0 8h0m0 2h0m0 10h0m1-21h0m1 6h0m0 2h0m0 10h0m1-29h0m0 19h0m2-12h0m0 21h0m1-5h0m1-16h0m1 2h0m2-2h0"/><path d="M248 345h0m3-17h0m0 4h0m1-3h0m1-4h0m1 27h0m3-7h0m0 18h0m1-31h0m0 6h0m0 17h0m1-26h0m1-4h0m0 12h0m0 2h0m0 11h0m1 0h0m0 12h0m1-19h0m0 5h0m0 11h0m1-37h0m0 41h0m0 8h0m1-49h0m0 22h0m0 3h0m0 22h0m0 7h0m1-55h0m0 7h0m0 2h0m0 7h0m0 3h0m0 8h0m0 6h0m1-29h0m0 1h0m0 4h0m0 24h0m0 8h0m0 1h0m0 5h0m0 7h0m0 0h0m1-46h0m0 15h0m0 3h0m0 21h0m0 2h0m1-39h0m0 22h0m0 4h0m0 3h0m0 1h0m0 1h0m0 4h0m0 3h0m0 0h0m0 1h0m0 1h0m0 15h0m1-62h0m0 3h0m0 33h0m0 9h0m0 3h0m0 4h0m0 0h0m1-39h0m0 1h0m0 3h0m0 6h0m0 15h0m0 5h0m0 9h0m0 2h0m0 4h0m1-50h0m0 15h0m0 7h0m0 1h0m0 13h0m0 1h0m0 1h0m0 1h0m0 2h0m0 9h0m0 4h0m1-30h0m0 0h0m0 3h0m0 9h0m0 4h0m0 2h0m0 0h0m0 4h0m0 2h0m1-30h0m0 13h0m0 4h0m0 13h0m0 0h0m0 1h0m0 2h0m0 7h0m1-66h0m0 10h0m0 8h0m0 24h0m0 1h0m0 5h0m0 1h0m0 2h0m0 5h0m0 5h0m0 2h0m0 1h0m0 2h0m1-58h0m0 12h0m0 0h0m0 6h0m0 2h0m0 3h0m0 12h0m0 15h0m0 2h0m0 3h0m0 1h0m0 0h0m0 2h0m1-19h0m0 1h0m0 0h0m0 0h0m0 1h0m0 4h0m0 3h0m0 2h0m0 2h0m0 1h0m0 1h0m0 2h0m0 1h0m0 3h0m1-69h0m0 0h0m0 10h0m0 23h0m0 3h0m0 3h0m0 0h0m0 1h0m0 0h0m0 2h0m0 4h0m0 1h0m0 2h0m0 1h0m0 1h0m0 2h0m0 1h0m0 1h0m0 2h0m0 0h0m0 3h0m0 6h0m0 5h0m1-46h0m0 7h0m0 2h0m0 1h0m0 2h0m0 6h0m0 2h0m0 10h0m0 1h0m0 0h0m0 2h0m0 2h0m0 1h0m0 1h0m0 4h0m0 0h0m0 5h0m0 0h0m1-62h0m0 12h0m0 6h0m0 5h0m0 8h0m0 1h0m0 4h0m0 4h0m0 0h0m0 1h0m0 2h0m0 9h0m0 1h0m0 1h0m0 3h0m0 6h0m1-71h0m0 5h0m0 9h0m0 13h0m0 2h0m0 3h0m0 8h0m0 4h0m0 1h0m0 8h0m0 3h0m0 1h0m0 1h0m0 2h0m0 2h0m0 0h0m0 3h0m0 3h0m0 3h0m0 2h0m1-70h0m0 5h0m0 10h0m0 17h0m0 6h0m0 5h0m0 1h0m0 7h0m0 1h0m0 2h0m0 0h0m0 0h0m0 1h0m0 2h0m0 0h0m0 0h0m0 1h0m0 7h0m0 2h0m0 0h0m0 1h0m1-65h0m0 2h0m0 1h0m0 13h0m0 4h0m0 15h0m0 2h0m0 2h0m0 8h0m0 2h0m0 3h0m0 4h0m0 0h0m0 1h0m0 1h0m0 1h0m0 0h0m0 2h0m0 1h0m0 1h0m0 2h0m0 1h0m1-74h0m0 27h0m0 3h0m0 4h0m0 1h0m0 0h0m0 6h0m0 7h0m0 1h0m0 2h0m0 3h0m0 0h0m0 2h0m0 0h0m0 2h0m0 1h0m0 0h0m0 1h0m0 0h0m0 5h0m0 0h0m0 0h0m0 0h0m0 1h0m0 3h0m0 1h0m0 0h0m0 1h0m0 3h0m0 1h0m0 1h0m1-59h0m0 18h0m0 5h0m0 13h0m0 4h0m0 13h0m0 1h0m0 1h0m0 0h0m0 0h0m0 0h0m0 1h0m0 0h0m0 4h0m1-70h0m0 3h0m0 17h0m0 10h0m0 8h0m0 2h0m0 1h0m0 4h0m0 0h0m0 1h0m0 1h0m0 3h0m0 3h0m0 1h0m0 0h0m0 1h0m0 2h0m0 4h0m0 1h0m0 2h0m0 0h0m0 1h0m0 0h0m0 3h0m0 1h0m0 1h0m1-61h0m0 20h0m0 9h0m0 1h0m0 7h0m0 3h0m0 1h0m0 0h0m0 1h0m0 3h0m0 1h0m0 1h0m0 1h0m0 0h0m0 1h0m0 0h0m0 0h0m0 1h0m0 1h0m0 1h0m0 1h0m0 1h0m0 0h0m0 1h0m0 0h0m0 2h0m0 1h0m0 0h0m0 2h0m0 0h0m0 1h0m0 0h0m0 2h0m1-51h0m0 5h0m0 0h0m0 1h0m0 4h0m0 3h0m0 9h0m0 6h0m0 4h0m0 1h0m0 2h0m0 5h0m0 0h0m0 1h0m0 1h0m0 0h0m0 0h0m0 1h0m0 1h0m0 2h0m0 3h0m0 2h0m1-69h0m0 7h0m0 29h0m0 5h0m0 0h0m0 9h0m0 1h0m0 1h0m0 0h0m0 2h0m0 0h0m0 1h0m0 0h0m0 0h0m0 3h0m0 1h0m0 1h0m0 1h0m0 1h0m0 1h0m0 0h0m0 0h0m0 1h0m0 0h0m0 1h0m0 2h0m0 0h0m0 0h0m0 1h0m0 0h0m0 0h0m0 0h0m0 1h0m0 1h0m1-64h0m0 8h0m0 0h0m0 4h0m0 2h0m0 0h0m0 12h0m0 3h0m0 10h0m0 1h0m0 1h0m0 6h0m0 2h0m0 6h0m0 1h0m0 3h0m0 0h0m0 0h0m0 0h0m0 0h0m0 1h0m0 1h0m0 2h0m0 0h0m0 0h0m0 1h0m0 0h0m0 0h0m0 0h0m0 0h0m0 2h0m1-75h0m0 12h0m0 7h0m0 3h0m0 3h0m0 3h0m0 2h0m0 2h0m0 4h0m0 1h0m0 1h0m0 1h0m0 1h0m0 1h0m0 3h0m0 0h0m0 3h0m0 2h0m0 6h0m0 2h0m0 1h0m0 4h0m0 1h0m0 1h0m0 2h0m0 0h0m0 1h0m0 0h0m0 1h0m0 0h0m0 0h0m0 1h0m0 0h0m0 2h0m0 0h0m0 0h0m0 1h0m0 1h0m0 0h0m0 0h0m0 1h0m0 0h0m1-60h0m0 5h0m0 5h0m0 1h0m0 0h0m0 5h0m0 1h0m0 2h0m0 7h0m0 1h0m0 3h0m0 1h0m0 2h0m0 2h0m0 2h0m0 4h0m0 1h0m0 1h0m0 0h0m0 1h0m0 0h0m0 1h0m0 2h0m0 0h0m0 0h0m0 1h0m0 1h0m0 1h0m0 2h0m0 1h0m0 3h0m0 1h0m0 1h0m0 1h0m0 0h0m0 0h0m0 1h0m0 0h0m0 0h0m0 2h0m1-61h0m0 6h0m0 2h0m0 1h0m0 23h0m0 1h0m0 4h0m0 1h0m0 0h0m0 1h0m0 6h0m0 1h0m0 0h0m0 1h0m0 1h0m0 1h0m0 1h0m0 0h0m0 0h0m0 1h0m0 1h0m0 1h0m0 0h0m0 0h0m0 1h0m0 0h0m0 1h0m0 1h0m0 1h0m0 0h0m0 1h0m0 1h0m0 1h0m0 0h0m1-53h0m0 12h0m0 1h0m0 9h0m0 0h0m0 3h0m0 1h0m0 3h0m0 0h0m0 1h0m0 2h0m0 1h0m0 0h0m0 1h0m0 0h0m0 4h0m0 1h0m0 2h0m0 0h0m0 1h0m0 1h0m0 2h0m0 1h0m0 0h0m0 2h0m0 1h0m0 0h0m0 1h0m0 0h0m0 1h0m0 0h0m0 0h0m0 0h0m0 1h0m0 0h0m0 0h0m0 0h0m0 1h0m0 0h0m0 2h0m1-38h0m0 0h0m0 7h0m0 3h0m0 5h0m0 5h0m0 1h0m0 1h0m0 2h0m0 1h0m0 1h0m0 0h0m0 1h0m0 1h0m0 1h0m0 0h0m0 1h0m0 0h0m0 1h0m0 0h0m0 1h0m0 0h0m0 0h0m0 0h0m0 0h0m0 0h0m0 1h0m0 0h0m0 0h0m0 1h0m0 0h0m0 1h0m0 0h0m0 0h0m0 1h0m0 0h0m0 1h0m0 0h0m0 0h0m0 0h0m0 1h0m0 1h0m1-36h0m0 0h0m0 1h0m0 6h0m0 2h0m0 1h0m0 2h0m0 3h0m0 0h0m0 1h0m0 1h0m0 0h0m0 5h0m0 2h0m0 1h0m0 1h0m0 2h0m0 2h0m0 1h0m0 0h0m0 0h0m0 1h0m0 0h0m0 0h0m0 0h0m0 0h0m0 1h0m0 1h0m0 0h0m0 0h0m0 0h0m0 0h0m0 0h0m0 1h0m0 0h0m0 0h0m0 0h0m0 0h0m0 0h0m0 1h0m0 0h0m0 0h0m0 0h0m1-33h0m0 9h0m0 2h0m0 1h0m0 3h0m0 2h0m0 0h0m0 2h0m0 1h0m0 1h0m0 0h0m0 2h0m0 0h0m0 0h0m0 0h0m0 0h0m0 1h0m0 1h0m0 0h0m0 1h0m0 1h0m0 0h0m0 0h0m0 0h0m0 0h0m0 1h0m0 1h0m0 0h0m0 0h0m0 0h0m0 0h0m0 1h0m0 0h0m0 0h0m0 1h0m0 0h0m0 0h0m0 0h0m0 1h0m0 0h0m0 0h0m0 0h0m0 0h0m0 0h0m0 0h0m0 1h0m0 0h0m0 0h0m0 0h0m0 0h0m0 0h0m0 0h0m0 0h0m0 2h0m1-26h0m0 3h0m0 1h0m0 2h0m0 1h0m0 1h0m0 2h0m0 1h0m0 1h0m0 1h0m0 0h0m0 2h0m0 0h0m0 2h0m0 0h0m0 0h0m0 1h0m0 2h0m0 0h0m0 0h0m0 1h0m0 0h0m0 1h0m0 0h0m0 1h0m0 1h0m0 0h0m0 0h0m0 0h0m0 0h0m0 0h0m0 0h0m0 1h0m0 0h0m0 0h0m0 0h0m1-18h0m0 1h0m0 1h0m0 1h0m0 2h0m0 2h0m0 1h0m0 0h0m0 0h0m0 1h0m0 0h0m0 0h0m0 1h0m0 0h0m0 1h0m0 0h0m0 0h0m0 0h0m0 1h0m0 1h0m0 0h0m0 0h0m0 0h0m0 0h0m0 0h0m0 1h0m0 1h0m0 0h0m0 0h0m0 0h0m0 0h0m0 1h0m0 0h0m0 0h0m0 1h0m0 0h0m0 0h0m0 0h0m0 0h0m0 0h0m0 1h0m0 0h0m0 0h0m0 1h0m0 0h0m0 0h0m0 0h0m1-20h0m0 3h0m0 1h0m0 1h0m0 1h0m0 0h0m0 1h0m0 0h0m0 2h0m0 0h0m0 1h0m0 1h0m0 1h0m0 0h0m0 0h0m0 1h0m0 0h0m0 0h0m0 1h0m0 0h0m0 0h0m0 0h0m0 0h0m0 1h0m0 0h0m0 0h0m0 0h0m0 0h0m0 1h0m0 0h0m0 0h0m0 0h0m0 0h0m0 0h0m0 0h0m0 1h0m0 0h0m0 0h0m0 0h0m0 0h0m0 1h0m0 0h0m0 0h0m0 0h0m0 0h0m0 1h0m0 0h0m0 0h0m0 0h0m0 0h0m0 1h0m0 0h0m0 0h0m0 0h0m0 0h0m0 0h0m0 0h0m0 0h0m0 0h0m0 0h0m0 1h0m0 0h0m1-19h0m0 3h0m0 1h0m0 4h0m0 0h0m0 1h0m0 1h0m0 0h0m0 1h0m0 0h0m0 1h0m0 0h0m0 0h0m0 0h0m0 0h0m0 0h0m0 0h0m0 0h0m0 1h0m0 0h0m0 0h0m0 0h0m0 0h0m0 1h0m0 0h0m0 0h0m0 0h0m0 0h0m0 1h0m0 0h0m0 0h0m0 1h0m0 0h0m0 0h0m0 0h0m0 0h0m0 1h0m0 0h0m0 0h0m0 0h0m0 0h0m0 0h0m0 1h0m0 0h0m0 0h0m0 0h0m0 0h0m0 0h0m0 0h0m0 0h0m0 0h0m0 0h0m0 0h0m0 0h0m0 0h0m0 0h0m0 0h0m0 0h0m0 0h0m0 0h0m0 0h0m0 1h0m0 0h0m0 0h0m0 0h0m0 0h0m0 0h0m0 0h0m0 0h0m0 0h0m0 0h0m0 0h0m1-19h0m0 1h0m0 1h0m0 0h0m0 1h0m0 0h0m0 2h0m0 0h0m0 1h0m0 1h0m0 0h0m0 1h0m0 1h0m0 0h0m0 1h0m0 1h0m0 0h0m0 0h0m0 0h0m0 0h0m0 0h0m0 0h0m0 1h0m0 1h0m0 0h0m0 0h0m0 0h0m0 0h0m0 0h0m0 1h0m0 0h0m0 0h0m0 0h0m0 0h0m0 0h0m0 0h0m0 0h0m0 1h0m0 1h0m0 0h0m0 0h0m0 0h0m0 1h0m0 0h0m0 0h0m0 0h0m0 0h0m0 0h0m0 0h0m0 0h0m0 0h0m0 1h0m0 0h0m0 0h0m0 0h0m0 0h0m0 0h0m0 0h0m0 0h0m0 0h0m0 0h0m0 0h0m0 0h0m0 0h0m0 0h0m0 0h0m0 0h0m0 0h0m0 0h0m0 0h0m0 1h0m0 0h0m0 0h0m0 0h0m0 0h0m0 0h0m0 0h0m0 0h0m0 0h0m0 0h0m0 0h0m0 0h0m0 0h0m0 0h0m0 0h0m0 0h0m0 0h0m0 0h0m0 0h0m1-16h0m0 2h0m0 0h0m0 2h0m0 0h0m0 0h0m0 1h0m0 0h0m0 0h0m0 1h0m0 0h0m0 0h0m0 0h0m0 0h0m0 0h0m0 1h0m0 0h0m0 0h0m0 0h0m0 1h0m0 0h0m0 0h0m0 0h0m0 0h0m0 0h0m0 0h0m0 1h0m0 0h0m0 1h0m0 0h0m0 1h0m0 0h0m0 0h0m0 1h0m0 1h0m0 0h0m0 0h0m0 0h0m0 0h0m0 0h0m0 1h0m0 0h0m0 0h0m0 0h0m0 0h0m0 0h0m0 0h0m0 1h0m0 0h0m0 0h0m0 0h0m0 0h0m0 0h0m0 0h0m0 0h0m0 0h0m0 0h0m0 0h0m0 0h0m0 0h0m0 0h0m0 0h0m0 0h0m0 0h0m0 1h0m0 0h0m0 0h0m0 0h0m0 0h0m0 0h0m0 0h0m0 0h0m0 0h0m0 0h0m1-16h0m0 0h0m0 1h0m0 1h0m0 0h0m0 0h0m0 2h0m0 0h0m0 0h0m0 2h0m0 0h0m0 0h0m0 1h0m0 1h0m0 0h0m0 0h0m0 1h0m0 1h0m0 0h0m0 0h0m0 0h0m0 0h0m0 1h0m0 0h0m0 0h0m0 1h0m0 0h0m0 1h0m0 0h0m0 0h0m0 0h0m0 0h0m0 0h0m0 0h0m0 0h0m0 0h0m0 1h0m0 0h0m0 0h0m0 0h0m0 0h0m0 0h0m0 0h0m0 0h0m0 0h0m0 1h0m0 0h0m0 0h0m0 0h0m0 0h0m0 1h0m0 0h0m1-19h0m0 0h0m0 0h0m0 1h0m0 2h0m0 0h0m0 3h0m0 0h0m0 1h0m0 0h0m0 1h0m0 0h0m0 1h0m0 2h0m0 0h0m0 0h0m0 2h0m0 0h0m0 1h0m0 0h0m0 0h0m0 1h0m0 0h0m0 0h0m0 0h0m0 0h0m0 0h0m0 0h0m0 0h0m0 1h0m0 0h0m0 0h0m0 0h0m0 0h0m0 0h0m0 0h0m0 0h0m0 1h0m0 0h0m0 0h0m0 0h0m0 0h0m0 0h0m0 0h0m0 1h0m0 0h0m1-23h0m0 1h0m0 3h0m0 0h0m0 1h0m0 1h0m0 0h0m0 0h0m0 0h0m0 1h0m0 1h0m0 0h0m0 1h0m0 1h0m0 0h0m0 0h0m0 1h0m0 1h0m0 0h0m0 0h0m0 1h0m0 1h0m0 0h0m0 1h0m0 0h0m0 0h0m0 0h0m0 0h0m0 1h0m0 0h0m0 0h0m0 1h0m0 1h0m0 0h0m0 0h0m0 0h0m0 1h0m0 0h0m0 0h0m0 0h0m0 1h0m0 0h0m0 0h0m0 1h0m0 0h0m0 0h0m0 0h0m0 1h0m0 0h0m0 0h0m0 1h0m1-33h0m0 3h0m0 1h0m0 0h0m0 5h0m0 0h0m0 1h0m0 0h0m0 1h0m0 4h0m0 4h0m0 2h0m0 0h0m0 0h0m0 1h0m0 1h0m0 3h0m0 0h0m0 0h0m0 0h0m0 1h0m0 0h0m0 1h0m0 1h0m0 0h0m0 0h0m0 0h0m0 1h0m0 0h0m0 0h0m0 1h0m0 0h0m0 0h0m0 0h0m0 0h0m0 1h0m0 0h0m1-46h0m0 10h0m0 1h0m0 5h0m0 6h0m0 2h0m0 1h0m0 0h0m0 0h0m0 3h0m0 1h0m0 3h0m0 3h0m0 1h0m0 2h0m0 0h0m0 1h0m0 0h0m0 0h0m0 0h0m0 0h0m0 1h0m0 0h0m0 1h0m0 0h0m0 1h0m0 0h0m0 0h0m0 1h0m0 0h0m0 0h0m0 0h0m0 0h0m0 0h0m0 1h0m0 0h0m0 0h0m0 1h0m0 0h0m1-44h0m0 6h0m0 4h0m0 2h0m0 1h0m0 2h0m0 3h0m0 1h0m0 0h0m0 1h0m0 2h0m0 1h0m0 1h0m0 0h0m0 3h0m0 1h0m0 2h0m0 0h0m0 0h0m0 2h0m0 1h0m0 2h0m0 0h0m0 0h0m0 1h0m0 0h0m0 1h0m0 0h0m0 1h0m0 2h0m0 0h0m0 0h0m0 0h0m0 0h0m0 1h0m0 0h0m0 0h0m0 1h0m0 0h0m0 0h0m0 1h0m0 1h0m1-51h0m0 1h0m0 2h0m0 4h0m0 1h0m0 3h0m0 4h0m0 5h0m0 2h0m0 1h0m0 1h0m0 0h0m0 0h0m0 3h0m0 0h0m0 5h0m0 2h0m0 1h0m0 0h0m0 0h0m0 2h0m0 1h0m0 0h0m0 0h0m0 0h0m0 2h0m0 1h0m0 3h0m0 0h0m0 0h0m0 1h0m0 0h0m0 0h0m0 0h0m0 1h0m0 1h0m0 0h0m0 0h0m0 1h0m0 0h0m0 0h0m0 1h0m0 0h0m0 0h0m0 0h0m1-49h0m0 4h0m0 10h0m0 2h0m0 1h0m0 2h0m0 3h0m0 1h0m0 1h0m0 2h0m0 2h0m0 0h0m0 2h0m0 1h0m0 1h0m0 5h0m0 0h0m0 1h0m0 0h0m0 1h0m0 0h0m0 0h0m0 1h0m0 1h0m0 1h0m0 2h0m0 0h0m0 0h0m0 1h0m0 0h0m0 0h0m0 0h0m0 1h0m0 0h0m0 1h0m0 1h0m0 2h0m0 0h0m1-58h0m0 1h0m0 6h0m0 2h0m0 8h0m0 0h0m0 1h0m0 1h0m0 0h0m0 0h0m0 5h0m0 2h0m0 0h0m0 3h0m0 1h0m0 6h0m0 2h0m0 1h0m0 3h0m0 1h0m0 1h0m0 0h0m0 2h0m0 2h0m0 0h0m0 0h0m0 0h0m0 1h0m0 0h0m0 1h0m0 1h0m0 0h0m0 1h0m0 0h0m0 0h0m0 1h0m0 1h0m0 0h0m0 0h0m0 2h0m0 0h0m1-43h0m0 2h0m0 1h0m0 6h0m0 3h0m0 2h0m0 1h0m0 1h0m0 2h0m0 1h0m0 0h0m0 2h0m0 1h0m0 1h0m0 1h0m0 1h0m0 0h0m0 4h0m0 1h0m0 0h0m0 2h0m0 1h0m0 0h0m0 2h0m0 2h0m0 1h0m0 1h0m0 0h0m0 0h0m0 1h0m0 0h0m0 0h0m0 0h0m0 0h0m1-62h0m0 8h0m0 7h0m0 1h0m0 2h0m0 5h0m0 4h0m0 1h0m0 0h0m0 3h0m0 7h0m0 0h0m0 1h0m0 1h0m0 0h0m0 0h0m0 1h0m0 2h0m0 1h0m0 1h0m0 0h0m0 2h0m0 1h0m0 2h0m0 1h0m0 2h0m0 3h0m0 0h0m0 0h0m0 0h0m0 1h0m0 0h0m0 2h0m0 0h0m0 1h0m0 0h0m0 1h0m0 0h0m0 1h0m0 0h0m0 0h0m0 0h0m0 1h0m1-52h0m0 18h0m0 4h0m0 1h0m0 0h0m0 2h0m0 2h0m0 0h0m0 0h0m0 3h0m0 0h0m0 3h0m0 2h0m0 3h0m0 2h0m0 1h0m0 1h0m0 2h0m0 0h0m0 1h0m0 0h0m0 1h0m0 1h0m0 0h0m0 2h0m0 1h0m0 0h0m0 0h0m0 0h0m1-72h0m0 1h0m0 14h0m0 1h0m0 26h0m0 3h0m0 0h0m0 3h0m0 0h0m0 1h0m0 3h0m0 2h0m0 0h0m0 1h0m0 1h0m0 0h0m0 0h0m0 1h0m0 3h0m0 1h0m0 1h0m0 1h0m0 2h0m0 0h0m0 1h0m0 1h0m0 1h0m0 0h0m0 2h0m0 1h0m0 1h0m0 1h0m1-72h0m0 13h0m0 12h0m0 0h0m0 3h0m0 7h0m0 4h0m0 1h0m0 4h0m0 1h0m0 6h0m0 4h0m0 0h0m0 1h0m0 0h0m0 4h0m0 2h0m0 0h0m0 4h0m0 0h0m0 1h0m0 0h0m0 0h0m0 0h0m0 1h0m0 0h0m0 0h0m0 1h0m0 2h0m0 0h0m1-67h0m0 27h0m0 1h0m0 2h0m0 1h0m0 0h0m0 2h0m0 2h0m0 1h0m0 2h0m0 3h0m0 1h0m0 1h0m0 5h0m0 3h0m0 1h0m0 0h0m0 2h0m0 0h0m0 0h0m0 2h0m0 3h0m0 1h0m0 1h0m0 2h0m0 1h0m0 0h0m0 0h0m0 0h0m1-62h0m0 2h0m0 16h0m0 4h0m0 3h0m0 1h0m0 1h0m0 7h0m0 8h0m0 1h0m0 0h0m0 2h0m0 2h0m0 3h0m0 0h0m0 4h0m0 4h0m0 2h0m0 0h0m0 1h0m0 1h0m0 2h0m1-61h0m0 5h0m0 18h0m0 7h0m0 1h0m0 14h0m0 1h0m0 3h0m0 1h0m0 2h0m0 2h0m0 8h0m1-61h0m0 1h0m0 12h0m0 5h0m0 2h0m0 3h0m0 9h0m0 0h0m0 7h0m0 1h0m0 3h0m0 0h0m0 2h0m0 0h0m0 0h0m0 1h0m0 1h0m0 0h0m0 2h0m0 0h0m0 1h0m0 3h0m0 1h0m0 2h0m0 0h0m1-73h0m0 22h0m0 10h0m0 0h0m0 3h0m0 0h0m0 1h0m0 5h0m0 1h0m0 5h0m0 4h0m0 0h0m0 1h0m0 1h0m0 0h0m0 4h0m0 3h0m0 1h0m0 3h0m0 0h0m0 1h0m0 1h0m0 0h0m0 0h0m0 0h0m0 4h0m0 2h0m1-68h0m0 1h0m0 1h0m0 9h0m0 1h0m0 2h0m0 5h0m0 4h0m0 11h0m0 0h0m0 1h0m0 6h0m0 1h0m0 5h0m0 4h0m0 1h0m0 1h0m0 4h0m0 1h0m0 5h0m0 2h0m0 1h0m0 2h0m1-59h0m0 12h0m0 6h0m0 9h0m0 2h0m0 0h0m0 2h0m0 4h0m0 3h0m0 1h0m0 1h0m0 1h0m0 2h0m0 5h0m0 7h0m0 0h0m0 0h0m1-68h0m0 4h0m0 32h0m0 2h0m0 9h0m0 10h0m0 3h0m0 2h0m0 1h0m0 0h0m0 2h0m0 0h0m0 2h0m0 0h0m1-64h0m0 8h0m0 2h0m0 15h0m0 5h0m0 6h0m0 0h0m0 3h0m0 4h0m0 3h0m0 4h0m0 2h0m0 0h0m0 1h0m0 1h0m0 1h0m0 1h0m0 0h0m0 1h0m0 1h0m0 1h0m0 1h0m0 4h0m0 2h0m0 1h0m1-56h0m0 27h0m0 1h0m0 1h0m0 1h0m0 5h0m0 2h0m0 1h0m0 0h0m0 0h0m0 3h0m0 4h0m0 1h0m0 2h0m0 4h0m0 5h0m1-69h0m0 21h0m0 2h0m0 2h0m0 3h0m0 9h0m0 0h0m0 1h0m0 3h0m0 9h0m0 2h0m0 3h0m0 1h0m0 0h0m0 0h0m0 1h0m0 6h0m0 3h0m1-44h0m0 7h0m0 6h0m0 9h0m0 12h0m0 1h0m0 3h0m0 1h0m0 0h0m0 1h0m0 2h0m1-58h0m0 2h0m0 9h0m0 3h0m0 7h0m0 0h0m0 8h0m0 2h0m0 5h0m0 1h0m0 1h0m0 0h0m0 1h0m0 1h0m0 3h0m0 0h0m0 3h0m0 0h0m0 2h0m0 2h0m0 2h0m0 1h0m0 1h0m0 1h0m0 1h0m0 4h0m0 0h0m1-41h0m0 6h0m0 2h0m0 1h0m0 10h0m0 4h0m0 1h0m0 4h0m0 5h0m0 2h0m0 7h0m1-62h0m0 8h0m0 16h0m0 9h0m0 2h0m0 3h0m0 9h0m0 1h0m0 2h0m0 1h0m0 3h0m0 5h0m0 1h0m1-40h0m0 12h0m0 5h0m0 1h0m0 7h0m0 1h0m0 1h0m0 0h0m0 13h0m1-48h0m0 9h0m0 1h0m0 4h0m0 5h0m0 2h0m0 8h0m0 2h0m0 0h0m0 1h0m0 0h0m0 5h0m0 0h0m0 1h0m1-46h0m0 8h0m0 12h0m0 6h0m0 7h0m0 4h0m0 3h0m0 2h0m0 3h0m0 2h0m0 6h0m1-63h0m0 30h0m0 3h0m0 0h0m0 4h0m0 7h0m1-37h0m0 4h0m0 25h0m0 6h0m0 0h0m0 3h0m0 4h0m1-28h0m0 26h0m0 7h0m1-45h0m0 2h0m0 10h0m0 15h0m1-24h0m0 11h0m0 6h0m0 2h0m0 20h0m1-18h0m1-31h0m0 3h0m0 1h0m0 22h0m0 2h0m0 5h0m0 0h0m1-31h0m0 12h0m1-18h0m0 6h0m0 5h0m0 13h0m1-22h0m0 0h0m0 4h0m0 23h0m0 5h0m1-19h0m0 1h0m1 0h0m1-13h0m0 31h0m3-32h0m5-2h0"/><path d="M249 325h0m1 8h0m1-12h0m0 11h0m1-2h0m0 7h0m1-9h0m1 5h0m1-11h0m0 17h0m0 12h0m1-14h0m1 5h0m0 10h0m1-3h0m1-22h0m0 12h0m1-1h0m0 4h0m0 5h0m0 1h0m0 4h0m0 1h0m0 7h0m1-30h0m0 24h0m0 3h0m0 1h0m1-2h0m0 4h0m1-18h0m0 2h0m0 1h0m0 1h0m0 3h0m0 3h0m1-29h0m0 36h0m0 5h0m0 14h0m1-26h0m0 1h0m0 5h0m0 21h0m1-15h0m0 4h0m0 0h0m0 1h0m0 2h0m0 1h0m0 4h0m1-29h0m0 2h0m0 7h0m0 6h0m0 0h0m0 3h0m0 5h0m0 7h0m1-38h0m0 1h0m0 9h0m0 0h0m0 3h0m0 5h0m0 10h0m0 4h0m0 1h0m0 1h0m1-44h0m0 10h0m0 4h0m0 8h0m0 20h0m0 5h0m1-43h0m0 1h0m0 15h0m0 2h0m0 3h0m0 1h0m0 1h0m0 3h0m0 7h0m0 1h0m0 6h0m0 0h0m0 1h0m0 2h0m0 3h0m0 7h0m0 0h0m1-65h0m0 17h0m0 27h0m0 10h0m1-46h0m0 2h0m0 11h0m0 0h0m0 5h0m0 3h0m0 4h0m0 4h0m0 1h0m0 10h0m0 3h0m0 1h0m0 1h0m0 2h0m0 0h0m0 3h0m0 2h0m0 2h0m0 1h0m0 2h0m0 5h0m1-29h0m0 1h0m0 5h0m0 5h0m0 0h0m0 2h0m0 1h0m0 1h0m0 1h0m0 1h0m0 1h0m0 0h0m0 5h0m1-41h0m0 13h0m0 4h0m0 0h0m0 5h0m0 7h0m0 1h0m0 1h0m0 3h0m0 0h0m0 3h0m0 2h0m0 1h0m0 2h0m0 1h0m0 2h0m1-54h0m0 0h0m0 5h0m0 11h0m0 12h0m0 3h0m0 2h0m0 0h0m0 10h0m0 1h0m0 6h0m0 2h0m0 3h0m1-69h0m0 21h0m0 8h0m0 2h0m0 0h0m0 3h0m0 17h0m0 2h0m0 3h0m0 1h0m0 1h0m0 8h0m0 0h0m0 2h0m1-38h0m0 9h0m0 0h0m0 3h0m0 7h0m0 3h0m0 2h0m0 2h0m0 1h0m0 1h0m0 1h0m0 3h0m0 3h0m0 1h0m0 2h0m0 0h0m0 2h0m1-68h0m0 15h0m0 14h0m0 4h0m0 1h0m0 5h0m0 4h0m0 0h0m0 1h0m0 8h0m0 2h0m0 1h0m0 1h0m0 9h0m0 1h0m0 0h0m1-24h0m0 4h0m0 1h0m0 2h0m0 6h0m0 1h0m0 2h0m0 2h0m0 1h0m0 3h0m0 1h0m0 0h0m0 2h0m0 1h0m0 2h0m0 0h0m0 0h0m0 1h0m0 0h0m1-70h0m0 9h0m0 10h0m0 2h0m0 8h0m0 2h0m0 4h0m0 4h0m0 5h0m0 5h0m0 2h0m0 3h0m0 1h0m0 4h0m0 0h0m0 1h0m0 0h0m0 2h0m0 3h0m0 0h0m0 0h0m0 2h0m0 0h0m0 2h0m0 1h0m0 1h0m1-49h0m0 1h0m0 1h0m0 3h0m0 3h0m0 1h0m0 1h0m0 1h0m0 1h0m0 8h0m0 1h0m0 8h0m0 4h0m0 1h0m0 1h0m0 0h0m0 1h0m0 1h0m0 3h0m0 1h0m0 2h0m0 0h0m0 0h0m0 1h0m0 0h0m0 0h0m0 1h0m0 1h0m0 2h0m0 0h0m1-48h0m0 5h0m0 1h0m0 6h0m0 4h0m0 0h0m0 3h0m0 12h0m0 2h0m0 1h0m0 1h0m0 4h0m0 1h0m0 0h0m0 1h0m0 2h0m0 1h0m0 0h0m0 0h0m0 1h0m0 3h0m0 1h0m1-47h0m0 3h0m0 26h0m0 1h0m0 0h0m0 1h0m0 2h0m0 0h0m0 2h0m0 0h0m0 1h0m0 0h0m0 3h0m0 6h0m0 1h0m0 0h0m0 1h0m0 0h0m0 0h0m0 1h0m0 1h0m0 0h0m0 2h0m1-74h0m0 20h0m0 6h0m0 6h0m0 0h0m0 0h0m0 15h0m0 0h0m0 1h0m0 0h0m0 0h0m0 6h0m0 4h0m0 2h0m0 1h0m0 1h0m0 0h0m0 2h0m0 1h0m0 0h0m0 1h0m0 0h0m0 3h0m0 0h0m0 1h0m0 0h0m0 1h0m0 0h0m0 1h0m0 2h0m1-65h0m0 19h0m0 1h0m0 7h0m0 7h0m0 3h0m0 3h0m0 4h0m0 3h0m0 1h0m0 2h0m0 1h0m0 0h0m0 1h0m0 3h0m0 1h0m0 2h0m0 0h0m0 0h0m0 2h0m0 0h0m0 1h0m0 0h0m0 2h0m0 1h0m0 1h0m0 0h0m1-56h0m0 11h0m0 6h0m0 7h0m0 1h0m0 3h0m0 2h0m0 7h0m0 1h0m0 0h0m0 1h0m0 0h0m0 2h0m0 1h0m0 2h0m0 0h0m0 1h0m0 0h0m0 0h0m0 1h0m0 2h0m0 1h0m0 0h0m0 0h0m0 1h0m0 0h0m0 1h0m0 2h0m0 3h0m1-66h0m0 4h0m0 14h0m0 1h0m0 4h0m0 0h0m0 3h0m0 3h0m0 2h0m0 3h0m0 0h0m0 6h0m0 4h0m0 0h0m0 3h0m0 8h0m0 1h0m0 1h0m0 1h0m0 2h0m0 1h0m0 0h0m0 1h0m0 2h0m0 1h0m0 0h0m0 0h0m0 2h0m0 0h0m0 1h0m1-53h0m0 2h0m0 6h0m0 3h0m0 8h0m0 2h0m0 9h0m0 4h0m0 3h0m0 1h0m0 0h0m0 1h0m0 2h0m0 1h0m0 0h0m0 1h0m0 0h0m0 1h0m0 0h0m0 0h0m0 1h0m0 1h0m0 0h0m0 0h0m0 0h0m0 2h0m0 0h0m0 1h0m0 0h0m0 2h0m0 0h0m0 1h0m0 0h0m0 0h0m0 1h0m0 1h0m1-65h0m0 13h0m0 0h0m0 1h0m0 1h0m0 8h0m0 3h0m0 2h0m0 1h0m0 5h0m0 4h0m0 0h0m0 1h0m0 1h0m0 3h0m0 0h0m0 2h0m0 1h0m0 1h0m0 0h0m0 0h0m0 1h0m0 1h0m0 0h0m0 1h0m0 6h0m0 3h0m0 3h0m0 0h0m0 0h0m0 1h0m0 0h0m0 0h0m0 1h0m0 0h0m0 0h0m0 1h0m0 0h0m1-64h0m0 7h0m0 7h0m0 3h0m0 2h0m0 4h0m0 2h0m0 2h0m0 7h0m0 0h0m0 4h0m0 0h0m0 2h0m0 2h0m0 0h0m0 2h0m0 2h0m0 2h0m0 1h0m0 1h0m0 0h0m0 4h0m0 0h0m0 0h0m0 1h0m0 2h0m0 0h0m0 1h0m0 1h0m0 0h0m0 3h0m0 0h0m0 1h0m0 0h0m0 0h0m0 1h0m0 1h0m1-57h0m0 12h0m0 8h0m0 1h0m0 1h0m0 3h0m0 0h0m0 6h0m0 0h0m0 0h0m0 1h0m0 3h0m0 0h0m0 3h0m0 3h0m0 1h0m0 0h0m0 4h0m0 1h0m0 1h0m0 0h0m0 0h0m0 1h0m0 2h0m0 0h0m0 1h0m0 1h0m0 0h0m0 1h0m0 1h0m0 0h0m0 0h0m0 1h0m0 0h0m0 1h0m0 0h0m0 0h0m0 1h0m1-50h0m0 7h0m0 7h0m0 1h0m0 0h0m0 0h0m0 2h0m0 5h0m0 0h0m0 1h0m0 0h0m0 6h0m0 1h0m0 1h0m0 0h0m0 1h0m0 1h0m0 1h0m0 2h0m0 2h0m0 2h0m0 2h0m0 0h0m0 0h0m0 4h0m0 0h0m0 0h0m0 0h0m0 1h0m0 0h0m0 0h0m0 0h0m0 1h0m0 1h0m0 0h0m0 0h0m0 0h0m0 1h0m0 0h0m0 0h0m0 0h0m0 1h0m0 0h0m0 1h0m1-49h0m0 2h0m0 2h0m0 10h0m0 0h0m0 7h0m0 3h0m0 1h0m0 1h0m0 1h0m0 6h0m0 2h0m0 1h0m0 1h0m0 0h0m0 2h0m0 1h0m0 1h0m0 1h0m0 1h0m0 0h0m0 1h0m0 0h0m0 0h0m0 0h0m0 1h0m0 0h0m0 0h0m0 0h0m0 0h0m0 0h0m0 1h0m0 1h0m0 0h0m0 0h0m0 0h0m0 1h0m0 0h0m0 0h0m0 0h0m0 0h0m0 0h0m0 1h0m1-47h0m0 9h0m0 7h0m0 4h0m0 0h0m0 4h0m0 0h0m0 1h0m0 1h0m0 0h0m0 4h0m0 0h0m0 1h0m0 4h0m0 2h0m0 1h0m0 0h0m0 0h0m0 2h0m0 1h0m0 0h0m0 1h0m0 0h0m0 1h0m0 1h0m0 0h0m0 0h0m0 1h0m0 0h0m0 0h0m0 1h0m0 0h0m0 0h0m0 0h0m0 1h0m0 0h0m0 0h0m1-40h0m0 14h0m0 0h0m0 1h0m0 3h0m0 4h0m0 0h0m0 5h0m0 2h0m0 1h0m0 0h0m0 3h0m0 0h0m0 1h0m0 0h0m0 1h0m0 0h0m0 0h0m0 2h0m0 0h0m0 1h0m0 0h0m0 0h0m0 0h0m0 0h0m0 0h0m0 1h0m0 0h0m0 0h0m0 0h0m0 0h0m0 1h0m0 1h0m0 0h0m0 0h0m0 1h0m1-33h0m0 1h0m0 5h0m0 2h0m0 1h0m0 3h0m0 1h0m0 0h0m0 4h0m0 0h0m0 1h0m0 0h0m0 1h0m0 2h0m0 0h0m0 1h0m0 0h0m0 0h0m0 1h0m0 2h0m0 1h0m0 0h0m0 0h0m0 1h0m0 0h0m0 1h0m0 0h0m0 1h0m0 0h0m0 0h0m0 1h0m0 0h0m0 0h0m0 0h0m0 1h0m0 0h0m0 1h0m0 0h0m0 0h0m0 0h0m0 0h0m0 1h0m0 0h0m0 0h0m1-20h0m0 0h0m0 1h0m0 1h0m0 3h0m0 0h0m0 1h0m0 2h0m0 0h0m0 0h0m0 1h0m0 1h0m0 0h0m0 0h0m0 1h0m0 0h0m0 2h0m0 0h0m0 0h0m0 1h0m0 1h0m0 0h0m0 0h0m0 1h0m0 0h0m0 1h0m0 0h0m0 0h0m0 0h0m0 0h0m0 0h0m0 0h0m0 0h0m0 0h0m0 0h0m0 1h0m0 0h0m0 0h0m0 0h0m0 0h0m0 1h0m0 0h0m0 0h0m0 0h0m0 0h0m0 0h0m0 0h0m0 1h0m0 0h0m0 0h0m0 0h0m0 0h0m0 0h0m0 0h0m0 0h0m0 0h0m0 0h0m0 1h0m0 0h0m1-20h0m0 1h0m0 4h0m0 3h0m0 0h0m0 0h0m0 1h0m0 1h0m0 1h0m0 0h0m0 0h0m0 0h0m0 1h0m0 0h0m0 1h0m0 0h0m0 1h0m0 0h0m0 0h0m0 0h0m0 0h0m0 0h0m0 1h0m0 0h0m0 1h0m0 0h0m0 0h0m0 0h0m0 0h0m0 0h0m0 1h0m0 0h0m0 1h0m0 0h0m0 0h0m0 0h0m0 0h0m0 0h0m0 0h0m0 1h0m0 0h0m0 0h0m0 0h0m0 0h0m0 0h0m0 0h0m0 0h0m0 0h0m0 0h0m0 0h0m0 1h0m0 0h0m0 0h0m1-19h0m0 1h0m0 0h0m0 1h0m0 1h0m0 2h0m0 0h0m0 1h0m0 0h0m0 0h0m0 1h0m0 1h0m0 1h0m0 0h0m0 1h0m0 1h0m0 0h0m0 1h0m0 1h0m0 0h0m0 0h0m0 1h0m0 0h0m0 0h0m0 0h0m0 0h0m0 0h0m0 0h0m0 1h0m0 0h0m0 0h0m0 0h0m0 1h0m0 0h0m0 0h0m0 0h0m0 0h0m0 0h0m0 1h0m0 0h0m0 0h0m0 0h0m0 0h0m0 1h0m0 0h0m0 0h0m0 0h0m0 0h0m0 0h0m0 1h0m0 0h0m0 0h0m0 0h0m0 1h0m0 0h0m1-19h0m0 0h0m0 1h0m0 1h0m0 1h0m0 2h0m0 1h0m0 0h0m0 0h0m0 1h0m0 1h0m0 0h0m0 0h0m0 1h0m0 0h0m0 1h0m0 1h0m0 1h0m0 0h0m0 0h0m0 0h0m0 1h0m0 1h0m0 0h0m0 0h0m0 1h0m0 0h0m0 0h0m0 0h0m0 0h0m0 0h0m0 0h0m0 0h0m0 0h0m0 1h0m0 0h0m0 0h0m0 0h0m0 0h0m0 0h0m0 0h0m0 0h0m0 0h0m0 0h0m0 1h0m0 0h0m0 0h0m0 0h0m0 0h0m0 0h0m0 0h0m0 0h0m0 0h0m0 0h0m0 1h0m0 0h0m0 0h0m0 0h0m0 0h0m0 0h0m0 0h0m0 0h0m0 0h0m0 0h0m0 0h0m0 0h0m0 1h0m0 0h0m0 0h0m0 0h0m0 0h0m0 0h0m0 0h0m0 0h0m0 0h0m0 0h0m0 0h0m0 0h0m0 0h0m0 0h0m0 0h0m0 0h0m1-20h0m0 0h0m0 1h0m0 0h0m0 2h0m0 0h0m0 1h0m0 0h0m0 0h0m0 0h0m0 1h0m0 0h0m0 1h0m0 2h0m0 0h0m0 1h0m0 0h0m0 2h0m0 0h0m0 1h0m0 0h0m0 0h0m0 0h0m0 1h0m0 0h0m0 0h0m0 0h0m0 1h0m0 0h0m0 0h0m0 1h0m0 0h0m0 0h0m0 1h0m0 0h0m0 1h0m0 1h0m0 0h0m0 0h0m0 0h0m0 0h0m0 0h0m0 0h0m0 0h0m0 0h0m0 1h0m0 0h0m0 0h0m0 0h0m0 0h0m0 0h0m0 0h0m0 0h0m0 0h0m0 0h0m0 1h0m0 0h0m0 0h0m0 0h0m0 0h0m0 0h0m0 0h0m0 0h0m0 0h0m0 0h0m0 0h0m0 0h0m0 0h0m0 0h0m0 0h0m0 0h0m0 0h0m0 0h0m0 0h0m0 0h0m0 0h0m0 0h0m1-19h0m0 0h0m0 1h0m0 1h0m0 1h0m0 1h0m0 0h0m0 1h0m0 1h0m0 0h0m0 1h0m0 0h0m0 1h0m0 1h0m0 1h0m0 0h0m0 0h0m0 1h0m0 0h0m0 0h0m0 0h0m0 0h0m0 0h0m0 1h0m0 0h0m0 0h0m0 0h0m0 0h0m0 0h0m0 1h0m0 0h0m0 1h0m0 1h0m0 0h0m0 0h0m0 0h0m0 0h0m0 0h0m0 0h0m0 1h0m0 0h0m0 0h0m0 0h0m0 1h0m0 0h0m0 0h0m0 0h0m0 0h0m0 0h0m0 0h0m0 0h0m0 0h0m0 1h0m0 0h0m0 0h0m0 0h0m0 0h0m0 0h0m0 0h0m0 0h0m0 0h0m0 0h0m0 0h0m0 1h0m0 0h0m0 0h0m0 0h0m0 0h0m0 0h0m0 0h0m0 0h0m0 0h0m0 0h0m1-20h0m0 0h0m0 1h0m0 0h0m0 0h0m0 1h0m0 0h0m0 5h0m0 2h0m0 1h0m0 1h0m0 0h0m0 1h0m0 0h0m0 1h0m0 0h0m0 0h0m0 1h0m0 0h0m0 0h0m0 0h0m0 0h0m0 1h0m0 0h0m0 0h0m0 0h0m0 1h0m0 0h0m0 0h0m0 1h0m0 0h0m0 0h0m0 0h0m0 0h0m0 0h0m0 0h0m0 0h0m0 1h0m0 0h0m0 0h0m0 0h0m0 0h0m0 0h0m0 0h0m0 0h0m0 1h0m0 0h0m0 0h0m0 0h0m0 0h0m0 0h0m0 0h0m0 0h0m1-18h0m0 0h0m0 1h0m0 0h0m0 1h0m0 0h0m0 2h0m0 0h0m0 1h0m0 0h0m0 2h0m0 1h0m0 0h0m0 2h0m0 0h0m0 0h0m0 1h0m0 0h0m0 0h0m0 1h0m0 1h0m0 0h0m0 1h0m0 1h0m0 1h0m0 0h0m0 0h0m0 0h0m0 0h0m0 0h0m0 0h0m0 0h0m0 1h0m0 0h0m0 0h0m0 0h0m0 0h0m0 0h0m0 0h0m0 0h0m0 1h0m0 0h0m0 0h0m0 0h0m0 0h0m1-17h0m0 0h0m0 1h0m0 1h0m0 2h0m0 0h0m0 0h0m0 1h0m0 1h0m0 1h0m0 1h0m0 0h0m0 0h0m0 1h0m0 0h0m0 0h0m0 0h0m0 0h0m0 1h0m0 1h0m0 0h0m0 0h0m0 0h0m0 0h0m0 1h0m0 0h0m0 0h0m0 0h0m0 0h0m0 1h0m0 0h0m0 0h0m0 0h0m0 1h0m0 0h0m0 1h0m0 1h0m0 0h0m0 0h0m0 1h0m1-32h0m0 2h0m0 2h0m0 2h0m0 1h0m0 2h0m0 3h0m0 0h0m0 2h0m0 0h0m0 1h0m0 1h0m0 1h0m0 2h0m0 0h0m0 0h0m0 1h0m0 2h0m0 0h0m0 1h0m0 0h0m0 0h0m0 0h0m0 1h0m0 0h0m0 2h0m0 1h0m0 0h0m0 1h0m0 0h0m0 0h0m0 1h0m0 0h0m0 0h0m0 0h0m0 0h0m0 0h0m0 1h0m0 0h0m0 0h0m0 1h0m0 0h0m0 0h0m1-32h0m0 3h0m0 2h0m0 1h0m0 5h0m0 1h0m0 0h0m0 0h0m0 0h0m0 2h0m0 0h0m0 1h0m0 1h0m0 2h0m0 1h0m0 0h0m0 1h0m0 1h0m0 1h0m0 1h0m0 0h0m0 1h0m0 0h0m0 1h0m0 0h0m0 1h0m0 0h0m0 1h0m0 0h0m0 1h0m0 0h0m0 0h0m0 2h0m0 0h0m0 0h0m0 0h0m0 0h0m0 0h0m0 0h0m0 0h0m1-43h0m0 8h0m0 3h0m0 3h0m0 0h0m0 3h0m0 0h0m0 3h0m0 0h0m0 5h0m0 0h0m0 1h0m0 1h0m0 5h0m0 1h0m0 0h0m0 1h0m0 0h0m0 0h0m0 2h0m0 0h0m0 0h0m0 1h0m0 0h0m0 1h0m0 0h0m0 1h0m0 1h0m0 0h0m0 0h0m0 1h0m0 0h0m0 0h0m0 1h0m0 0h0m0 0h0m0 0h0m0 1h0m1-50h0m0 2h0m0 1h0m0 1h0m0 2h0m0 1h0m0 5h0m0 2h0m0 4h0m0 1h0m0 1h0m0 1h0m0 2h0m0 1h0m0 2h0m0 2h0m0 3h0m0 2h0m0 1h0m0 1h0m0 5h0m0 1h0m0 1h0m0 1h0m0 0h0m0 1h0m0 0h0m0 1h0m0 0h0m0 1h0m0 0h0m0 0h0m0 1h0m0 0h0m0 0h0m0 1h0m0 0h0m0 1h0m0 0h0m0 0h0m1-44h0m0 6h0m0 0h0m0 6h0m0 2h0m0 1h0m0 6h0m0 2h0m0 5h0m0 1h0m0 1h0m0 2h0m0 1h0m0 0h0m0 0h0m0 1h0m0 1h0m0 0h0m0 0h0m0 0h0m0 2h0m0 2h0m0 0h0m0 1h0m0 0h0m0 0h0m0 1h0m0 0h0m0 1h0m0 0h0m0 0h0m0 0h0m0 1h0m0 0h0m0 1h0m0 0h0m1-63h0m0 1h0m0 2h0m0 3h0m0 9h0m0 1h0m0 10h0m0 3h0m0 4h0m0 0h0m0 1h0m0 1h0m0 1h0m0 0h0m0 3h0m0 3h0m0 1h0m0 1h0m0 1h0m0 0h0m0 2h0m0 0h0m0 1h0m0 1h0m0 1h0m0 0h0m0 1h0m0 1h0m0 2h0m0 0h0m0 2h0m0 0h0m0 0h0m0 1h0m0 0h0m0 1h0m0 0h0m0 1h0m0 0h0m0 2h0m0 0h0m0 1h0m0 0h0m1-47h0m0 6h0m0 6h0m0 3h0m0 4h0m0 2h0m0 0h0m0 1h0m0 0h0m0 2h0m0 2h0m0 3h0m0 1h0m0 2h0m0 2h0m0 3h0m0 1h0m0 2h0m0 0h0m0 2h0m0 1h0m0 1h0m0 0h0m0 0h0m0 0h0m0 0h0m0 0h0m0 1h0m0 1h0m0 0h0m1-81h0m0 36h0m0 5h0m0 3h0m0 3h0m0 1h0m0 5h0m0 6h0m0 1h0m0 0h0m0 0h0m0 2h0m0 1h0m0 4h0m0 1h0m0 2h0m0 1h0m0 2h0m0 2h0m0 1h0m0 0h0m0 0h0m0 2h0m0 1h0m0 0h0m1-67h0m0 22h0m0 7h0m0 0h0m0 3h0m0 1h0m0 4h0m0 2h0m0 7h0m0 2h0m0 3h0m0 1h0m0 3h0m0 0h0m0 1h0m0 3h0m0 2h0m0 2h0m0 1h0m0 0h0m0 0h0m0 0h0m0 0h0m0 0h0m0 2h0m0 1h0m1-77h0m0 17h0m0 21h0m0 2h0m0 7h0m0 3h0m0 8h0m0 0h0m0 2h0m0 0h0m0 0h0m0 1h0m0 1h0m0 0h0m0 1h0m0 0h0m0 1h0m0 2h0m0 1h0m0 1h0m0 1h0m0 2h0m0 1h0m0 4h0m1-65h0m0 3h0m0 36h0m0 0h0m0 0h0m0 3h0m0 5h0m0 1h0m0 1h0m0 1h0m0 2h0m0 2h0m0 0h0m0 0h0m0 2h0m0 1h0m0 1h0m0 1h0m0 0h0m0 1h0m0 1h0m0 1h0m0 1h0m0 1h0m0 1h0m0 0h0m0 0h0m0 0h0m1-56h0m0 0h0m0 2h0m0 2h0m0 2h0m0 7h0m0 4h0m0 10h0m0 1h0m0 0h0m0 4h0m0 4h0m0 2h0m0 3h0m0 0h0m0 0h0m0 1h0m0 0h0m0 3h0m0 1h0m0 1h0m0 1h0m0 3h0m0 1h0m0 1h0m0 0h0m0 0h0m0 0h0m0 3h0m0 0h0m1-77h0m0 4h0m0 10h0m0 2h0m0 3h0m0 4h0m0 5h0m0 1h0m0 6h0m0 1h0m0 0h0m0 3h0m0 3h0m0 3h0m0 0h0m0 1h0m0 2h0m0 5h0m0 0h0m0 4h0m0 1h0m0 2h0m0 3h0m0 0h0m0 1h0m0 1h0m0 5h0m0 3h0m0 0h0m0 1h0m0 0h0m1-65h0m0 16h0m0 10h0m0 3h0m0 2h0m0 1h0m0 8h0m0 2h0m0 5h0m0 0h0m0 1h0m0 1h0m0 2h0m0 1h0m0 0h0m0 0h0m0 3h0m0 2h0m0 2h0m0 0h0m0 4h0m0 2h0m0 1h0m1-77h0m0 3h0m0 2h0m0 12h0m0 13h0m0 14h0m0 1h0m0 0h0m0 9h0m0 0h0m0 1h0m0 0h0m0 1h0m0 2h0m0 0h0m0 1h0m0 0h0m0 4h0m0 0h0m0 4h0m0 1h0m0 1h0m0 0h0m0 3h0m0 0h0m0 1h0m0 0h0m0 2h0m0 0h0m1-68h0m0 16h0m0 3h0m0 6h0m0 0h0m0 4h0m0 2h0m0 7h0m0 1h0m0 1h0m0 2h0m0 0h0m0 3h0m0 6h0m0 1h0m0 5h0m0 0h0m0 1h0m0 5h0m0 1h0m0 1h0m0 2h0m1-57h0m0 10h0m0 2h0m0 6h0m0 8h0m0 0h0m0 1h0m0 1h0m0 1h0m0 4h0m0 0h0m0 6h0m0 2h0m0 0h0m0 1h0m0 1h0m0 1h0m0 1h0m0 1h0m0 1h0m0 1h0m0 1h0m0 1h0m0 0h0m0 1h0m0 1h0m0 1h0m0 2h0m0 1h0m0 1h0m0 0h0m1-48h0m0 2h0m0 4h0m0 4h0m0 6h0m0 0h0m0 2h0m0 6h0m0 2h0m0 2h0m0 2h0m0 0h0m0 3h0m0 0h0m0 1h0m0 2h0m0 0h0m0 3h0m0 1h0m0 3h0m0 0h0m0 3h0m0 1h0m1-52h0m0 12h0m0 3h0m0 4h0m0 1h0m0 4h0m0 3h0m0 4h0m0 1h0m0 3h0m0 0h0m0 1h0m0 3h0m0 1h0m0 3h0m0 1h0m0 0h0m0 4h0m0 0h0m1-34h0m0 9h0m0 7h0m0 2h0m0 8h0m0 0h0m0 1h0m0 5h0m0 0h0m0 0h0m0 1h0m0 0h0m0 6h0m1-41h0m0 11h0m0 1h0m0 7h0m0 1h0m0 0h0m0 2h0m0 1h0m0 0h0m0 5h0m0 6h0m0 0h0m1-54h0m0 0h0m0 7h0m0 4h0m0 14h0m0 8h0m0 3h0m0 2h0m0 0h0m0 5h0m0 0h0m0 2h0m0 5h0m0 0h0m0 3h0m0 2h0m0 1h0m1-29h0m0 1h0m0 2h0m0 1h0m0 7h0m0 0h0m0 5h0m0 1h0m0 1h0m0 0h0m0 2h0m0 3h0m0 0h0m1-39h0m0 1h0m0 14h0m0 3h0m0 6h0m0 3h0m0 2h0m0 1h0m0 5h0m0 3h0m0 2h0m0 1h0m0 2h0m1-66h0m0 33h0m0 3h0m0 1h0m0 1h0m0 2h0m0 1h0m0 3h0m0 0h0m0 3h0m0 3h0m0 0h0m0 1h0m0 3h0m0 1h0m0 3h0m0 0h0m0 2h0m0 1h0m1-23h0m0 6h0m0 2h0m0 3h0m0 6h0m0 2h0m0 6h0m0 4h0m1-42h0m0 5h0m0 8h0m0 1h0m0 2h0m0 2h0m0 2h0m0 10h0m1-52h0m0 4h0m0 5h0m0 3h0m0 20h0m0 4h0m0 2h0m0 4h0m0 6h0m0 7h0m0 0h0m0 5h0m1-52h0m0 26h0m0 7h0m0 1h0m0 3h0m0 1h0m0 4h0m0 5h0m0 0h0m0 5h0m1-62h0m0 10h0m0 1h0m0 5h0m0 9h0m0 8h0m0 6h0m0 1h0m0 0h0m0 1h0m0 5h0m0 7h0m0 0h0m1-43h0m0 12h0m0 6h0m0 15h0m1-42h0m0 21h0m0 17h0m0 8h0m1-39h0m0 3h0m0 5h0m0 6h0m0 4h0m0 5h0m0 1h0m0 2h0m1-30h0m0 21h0m0 14h0m0 2h0m0 1h0m1-25h0m0 6h0m0 7h0m0 4h0m0 1h0m0 5h0m0 12h0m1-32h0m0 4h0m0 1h0m1-23h0m0 11h0m0 1h0m0 3h0m0 1h0m0 4h0m0 18h0m0 3h0m1-37h0m0 12h0m0 5h0m0 8h0m0 11h0m2-39h0m0 12h0m0 22h0m1-27h0m0 18h0m1-26h0m0 28h0m2-27h0m0 8h0m1 3h0"/><path d="M247 320h0m4 25h0m0 7h0m1-32h0m0 3h0m0 1h0m1 10h0m0 13h0m2-18h0m0 6h0m0 4h0m0 4h0m1-3h0m0 6h0m0 5h0m0 7h0m1-33h0m0 33h0m1-18h0m0 9h0m0 13h0m0 0h0m1-27h0m0 3h0m0 2h0m0 3h0m0 6h0m0 0h0m1-7h0m0 4h0m0 1h0m0 1h0m0 5h0m1 1h0m0 5h0m1-30h0m0 18h0m0 1h0m0 2h0m0 2h0m0 9h0m1-28h0m0 2h0m0 4h0m0 10h0m1-28h0m0 7h0m0 29h0m0 4h0m0 2h0m0 5h0m1-27h0m0 6h0m0 11h0m0 2h0m0 2h0m0 1h0m0 3h0m1-43h0m0 8h0m0 17h0m0 3h0m0 5h0m0 1h0m0 8h0m0 3h0m0 3h0m0 1h0m0 0h0m0 3h0m1-53h0m0 25h0m0 12h0m0 4h0m0 3h0m0 3h0m1-45h0m0 4h0m0 11h0m0 9h0m0 7h0m0 2h0m0 5h0m0 2h0m0 1h0m0 3h0m0 2h0m0 1h0m0 0h0m0 3h0m0 1h0m0 1h0m0 2h0m0 1h0m0 8h0m1-64h0m0 5h0m0 11h0m0 6h0m0 9h0m0 6h0m0 10h0m0 0h0m0 0h0m0 6h0m1-18h0m0 7h0m0 0h0m0 1h0m0 0h0m0 1h0m0 3h0m0 1h0m0 2h0m0 3h0m0 2h0m0 5h0m1-42h0m0 2h0m0 8h0m0 6h0m0 9h0m0 7h0m0 2h0m0 2h0m0 2h0m0 3h0m1-54h0m0 13h0m0 13h0m0 5h0m0 3h0m0 0h0m0 0h0m0 4h0m0 3h0m0 2h0m0 4h0m0 1h0m0 1h0m0 8h0m1-56h0m0 21h0m0 7h0m0 7h0m0 5h0m0 5h0m0 2h0m0 1h0m0 6h0m0 2h0m1-55h0m0 14h0m0 18h0m0 8h0m0 2h0m0 4h0m0 1h0m0 2h0m0 3h0m0 0h0m0 1h0m0 3h0m0 3h0m1-67h0m0 21h0m0 12h0m0 2h0m0 3h0m0 2h0m0 8h0m0 1h0m0 3h0m0 0h0m0 2h0m0 1h0m0 4h0m0 0h0m0 1h0m0 0h0m0 6h0m1-56h0m0 26h0m0 3h0m0 4h0m0 2h0m0 1h0m0 3h0m0 2h0m0 4h0m0 1h0m0 2h0m0 2h0m0 1h0m0 1h0m0 1h0m1-31h0m0 9h0m0 1h0m0 3h0m0 1h0m0 1h0m0 3h0m0 0h0m0 1h0m0 1h0m0 5h0m0 5h0m0 0h0m0 0h0m0 0h0m0 2h0m0 0h0m0 3h0m0 1h0m0 0h0m0 2h0m0 2h0m1-64h0m0 14h0m0 7h0m0 12h0m0 8h0m0 1h0m0 1h0m0 2h0m0 3h0m0 1h0m0 3h0m0 4h0m0 1h0m0 1h0m0 0h0m0 1h0m0 1h0m0 1h0m0 0h0m0 1h0m0 1h0m1-68h0m0 5h0m0 6h0m0 5h0m0 18h0m0 2h0m0 8h0m0 1h0m0 7h0m0 2h0m0 7h0m0 0h0m0 0h0m0 0h0m0 2h0m0 0h0m0 4h0m0 0h0m0 1h0m1-50h0m0 5h0m0 3h0m0 5h0m0 1h0m0 0h0m0 2h0m0 2h0m0 2h0m0 9h0m0 4h0m0 1h0m0 2h0m0 2h0m0 2h0m0 3h0m0 0h0m0 0h0m0 2h0m0 2h0m0 0h0m0 0h0m0 2h0m0 0h0m1-71h0m0 11h0m0 3h0m0 15h0m0 4h0m0 10h0m0 0h0m0 1h0m0 3h0m0 2h0m0 1h0m0 1h0m0 1h0m0 1h0m0 1h0m0 5h0m0 1h0m0 1h0m0 2h0m0 0h0m0 1h0m0 1h0m0 0h0m0 0h0m0 1h0m0 2h0m0 0h0m0 1h0m0 0h0m0 2h0m0 5h0m1-69h0m0 22h0m0 4h0m0 4h0m0 5h0m0 1h0m0 0h0m0 4h0m0 1h0m0 4h0m0 1h0m0 1h0m0 3h0m0 1h0m0 3h0m0 0h0m0 3h0m0 0h0m0 4h0m0 2h0m0 1h0m0 1h0m0 0h0m0 0h0m0 2h0m0 1h0m0 1h0m0 0h0m0 0h0m0 1h0m1-78h0m0 10h0m0 18h0m0 1h0m0 8h0m0 2h0m0 7h0m0 0h0m0 2h0m0 4h0m0 7h0m0 5h0m0 0h0m0 1h0m0 1h0m0 1h0m0 1h0m0 2h0m0 0h0m0 1h0m0 4h0m0 1h0m0 1h0m0 0h0m1-41h0m0 5h0m0 2h0m0 2h0m0 7h0m0 1h0m0 1h0m0 0h0m0 2h0m0 0h0m0 4h0m0 1h0m0 1h0m0 2h0m0 1h0m0 2h0m0 1h0m0 2h0m0 1h0m0 1h0m0 0h0m0 1h0m0 2h0m0 3h0m0 0h0m0 0h0m0 1h0m0 1h0m1-78h0m0 2h0m0 2h0m0 1h0m0 10h0m0 1h0m0 12h0m0 8h0m0 0h0m0 1h0m0 1h0m0 1h0m0 1h0m0 2h0m0 1h0m0 2h0m0 5h0m0 5h0m0 0h0m0 7h0m0 2h0m0 1h0m0 1h0m0 1h0m0 1h0m0 2h0m0 1h0m0 1h0m0 1h0m0 1h0m0 1h0m0 1h0m0 0h0m0 0h0m0 1h0m0 3h0m1-72h0m0 5h0m0 25h0m0 3h0m0 4h0m0 1h0m0 3h0m0 1h0m0 0h0m0 4h0m0 3h0m0 0h0m0 2h0m0 4h0m0 0h0m0 1h0m0 2h0m0 1h0m0 1h0m0 0h0m0 2h0m0 0h0m0 1h0m0 2h0m0 1h0m0 2h0m0 4h0m1-80h0m0 6h0m0 17h0m0 10h0m0 5h0m0 3h0m0 2h0m0 1h0m0 11h0m0 2h0m0 1h0m0 3h0m0 2h0m0 0h0m0 1h0m0 2h0m0 1h0m0 3h0m0 1h0m0 0h0m0 3h0m0 0h0m0 1h0m0 1h0m0 0h0m0 0h0m0 3h0m1-60h0m0 17h0m0 5h0m0 0h0m0 8h0m0 2h0m0 1h0m0 0h0m0 2h0m0 2h0m0 6h0m0 1h0m0 1h0m0 0h0m0 0h0m0 2h0m0 0h0m0 0h0m0 1h0m0 2h0m0 1h0m0 0h0m0 0h0m0 3h0m0 3h0m0 0h0m0 0h0m0 0h0m0 0h0m0 0h0m0 0h0m0 1h0m0 0h0m0 0h0m0 0h0m0 1h0m0 0h0m0 1h0m0 0h0m0 0h0m0 1h0m1-69h0m0 7h0m0 18h0m0 3h0m0 6h0m0 6h0m0 5h0m0 1h0m0 4h0m0 2h0m0 0h0m0 2h0m0 1h0m0 0h0m0 2h0m0 1h0m0 1h0m0 1h0m0 0h0m0 3h0m0 0h0m0 0h0m0 1h0m0 0h0m0 1h0m0 1h0m0 1h0m0 0h0m0 1h0m0 0h0m1-62h0m0 10h0m0 5h0m0 1h0m0 4h0m0 5h0m0 8h0m0 1h0m0 4h0m0 0h0m0 4h0m0 0h0m0 3h0m0 7h0m0 2h0m0 3h0m0 1h0m0 0h0m0 1h0m0 0h0m0 1h0m0 0h0m0 0h0m0 1h0m0 0h0m0 1h0m0 0h0m0 1h0m0 0h0m1-62h0m0 11h0m0 0h0m0 6h0m0 13h0m0 4h0m0 2h0m0 1h0m0 3h0m0 2h0m0 0h0m0 0h0m0 4h0m0 0h0m0 7h0m0 1h0m0 0h0m0 3h0m0 0h0m0 1h0m0 1h0m0 1h0m0 0h0m0 0h0m0 2h0m0 0h0m0 1h0m0 0h0m0 0h0m0 0h0m0 0h0m0 0h0m0 0h0m0 0h0m1-50h0m0 6h0m0 4h0m0 1h0m0 3h0m0 6h0m0 1h0m0 0h0m0 1h0m0 0h0m0 1h0m0 2h0m0 2h0m0 1h0m0 0h0m0 2h0m0 1h0m0 0h0m0 0h0m0 0h0m0 2h0m0 0h0m0 2h0m0 0h0m0 1h0m0 0h0m0 1h0m0 1h0m0 0h0m0 0h0m0 0h0m0 0h0m0 1h0m0 1h0m0 2h0m0 0h0m0 1h0m0 0h0m0 2h0m0 0h0m0 0h0m0 1h0m0 0h0m0 1h0m0 0h0m0 1h0m0 1h0m0 0h0m0 0h0m0 1h0m0 0h0m0 0h0m0 1h0m0 0h0m0 0h0m0 1h0m1-40h0m0 1h0m0 2h0m0 1h0m0 4h0m0 0h0m0 2h0m0 4h0m0 0h0m0 1h0m0 1h0m0 5h0m0 0h0m0 0h0m0 1h0m0 0h0m0 0h0m0 2h0m0 0h0m0 1h0m0 0h0m0 1h0m0 2h0m0 4h0m0 0h0m0 1h0m0 0h0m0 2h0m0 1h0m0 0h0m0 1h0m0 1h0m0 0h0m0 0h0m0 1h0m0 0h0m0 0h0m0 1h0m0 0h0m0 0h0m1-44h0m0 3h0m0 4h0m0 1h0m0 2h0m0 4h0m0 1h0m0 1h0m0 3h0m0 0h0m0 1h0m0 4h0m0 0h0m0 1h0m0 1h0m0 3h0m0 1h0m0 1h0m0 1h0m0 0h0m0 0h0m0 2h0m0 0h0m0 1h0m0 0h0m0 1h0m0 0h0m0 1h0m0 0h0m0 0h0m0 1h0m0 0h0m0 0h0m0 0h0m0 1h0m0 1h0m0 0h0m0 0h0m0 1h0m0 0h0m0 0h0m0 0h0m0 1h0m0 0h0m0 0h0m0 1h0m0 0h0m0 1h0m0 1h0m0 0h0m0 1h0m0 0h0m1-29h0m0 2h0m0 1h0m0 0h0m0 3h0m0 3h0m0 1h0m0 2h0m0 0h0m0 1h0m0 2h0m0 0h0m0 0h0m0 1h0m0 0h0m0 0h0m0 1h0m0 0h0m0 1h0m0 1h0m0 0h0m0 1h0m0 0h0m0 0h0m0 0h0m0 1h0m0 0h0m0 1h0m0 0h0m0 1h0m0 0h0m0 1h0m0 0h0m0 1h0m0 0h0m0 0h0m0 0h0m0 1h0m0 0h0m0 0h0m0 0h0m0 2h0m0 0h0m0 0h0m0 0h0m0 0h0m0 0h0m0 0h0m0 0h0m0 0h0m0 0h0m0 1h0m0 0h0m0 0h0m0 1h0m1-40h0m0 13h0m0 3h0m0 1h0m0 2h0m0 1h0m0 2h0m0 1h0m0 1h0m0 1h0m0 0h0m0 1h0m0 2h0m0 1h0m0 1h0m0 1h0m0 1h0m0 0h0m0 0h0m0 1h0m0 0h0m0 1h0m0 0h0m0 0h0m0 0h0m0 0h0m0 1h0m0 0h0m0 0h0m0 0h0m0 1h0m0 0h0m0 0h0m0 0h0m0 0h0m0 0h0m0 0h0m0 1h0m0 0h0m0 0h0m0 0h0m0 0h0m0 1h0m0 0h0m0 0h0m0 0h0m0 0h0m0 1h0m0 0h0m0 0h0m0 0h0m0 0h0m0 0h0m0 0h0m0 1h0m1-22h0m0 1h0m0 1h0m0 2h0m0 0h0m0 1h0m0 0h0m0 0h0m0 1h0m0 0h0m0 2h0m0 1h0m0 1h0m0 1h0m0 0h0m0 0h0m0 1h0m0 0h0m0 3h0m0 1h0m0 0h0m0 0h0m0 1h0m0 0h0m0 1h0m0 0h0m0 0h0m0 1h0m0 0h0m0 0h0m0 0h0m0 0h0m0 0h0m0 0h0m0 0h0m0 1h0m0 0h0m0 0h0m0 1h0m0 0h0m0 1h0m0 0h0m0 0h0m0 0h0m0 0h0m0 0h0m0 0h0m0 0h0m0 0h0m0 1h0m1-19h0m0 2h0m0 1h0m0 0h0m0 1h0m0 1h0m0 0h0m0 1h0m0 1h0m0 1h0m0 1h0m0 0h0m0 0h0m0 1h0m0 0h0m0 1h0m0 1h0m0 0h0m0 0h0m0 0h0m0 0h0m0 1h0m0 0h0m0 0h0m0 1h0m0 1h0m0 0h0m0 0h0m0 0h0m0 0h0m0 1h0m0 0h0m0 0h0m0 0h0m0 0h0m0 0h0m0 1h0m0 0h0m0 0h0m0 0h0m0 0h0m0 0h0m0 0h0m0 0h0m0 0h0m0 1h0m0 0h0m0 0h0m0 0h0m0 0h0m0 0h0m0 0h0m0 0h0m0 0h0m0 1h0m0 0h0m0 0h0m0 0h0m0 0h0m1-19h0m0 1h0m0 1h0m0 1h0m0 0h0m0 1h0m0 0h0m0 1h0m0 2h0m0 1h0m0 1h0m0 1h0m0 1h0m0 4h0m0 0h0m0 0h0m0 1h0m0 0h0m0 0h0m0 0h0m0 0h0m0 1h0m0 0h0m0 0h0m0 0h0m0 0h0m0 0h0m0 0h0m0 0h0m0 0h0m0 1h0m0 0h0m0 0h0m0 0h0m0 0h0m0 0h0m0 1h0m0 0h0m0 0h0m0 0h0m0 0h0m0 0h0m0 1h0m0 0h0m0 0h0m0 0h0m1-18h0m0 1h0m0 0h0m0 0h0m0 1h0m0 1h0m0 1h0m0 1h0m0 0h0m0 0h0m0 1h0m0 1h0m0 0h0m0 0h0m0 1h0m0 0h0m0 0h0m0 0h0m0 0h0m0 0h0m0 1h0m0 2h0m0 0h0m0 0h0m0 0h0m0 0h0m0 0h0m0 0h0m0 1h0m0 0h0m0 0h0m0 0h0m0 1h0m0 0h0m0 0h0m0 0h0m0 0h0m0 0h0m0 0h0m0 1h0m0 0h0m0 0h0m0 0h0m0 0h0m0 0h0m0 0h0m0 1h0m0 0h0m0 0h0m0 0h0m0 0h0m0 0h0m0 0h0m0 1h0m0 0h0m0 0h0m0 0h0m0 0h0m0 0h0m0 0h0m0 0h0m0 0h0m0 0h0m0 1h0m0 0h0m0 0h0m0 0h0m0 0h0m0 0h0m0 0h0m0 0h0m0 0h0m0 0h0m0 1h0m0 0h0m0 0h0m0 0h0m0 0h0m0 0h0m0 0h0m0 0h0m0 0h0m0 0h0m0 0h0m0 0h0m0 0h0m0 0h0m0 0h0m1-20h0m0 0h0m0 1h0m0 1h0m0 1h0m0 0h0m0 1h0m0 3h0m0 0h0m0 1h0m0 1h0m0 0h0m0 0h0m0 1h0m0 0h0m0 0h0m0 2h0m0 0h0m0 0h0m0 1h0m0 0h0m0 0h0m0 1h0m0 0h0m0 0h0m0 1h0m0 0h0m0 0h0m0 1h0m0 0h0m0 0h0m0 0h0m0 0h0m0 0h0m0 0h0m0 1h0m0 0h0m0 0h0m0 0h0m0 1h0m0 0h0m0 0h0m0 0h0m0 0h0m0 0h0m0 0h0m0 0h0m0 1h0m0 0h0m0 0h0m0 0h0m0 0h0m0 0h0m0 0h0m0 0h0m0 0h0m0 0h0m0 0h0m0 0h0m0 0h0m0 0h0m0 1h0m0 0h0m0 0h0m0 0h0m0 0h0m0 0h0m0 0h0m0 0h0m0 0h0m0 0h0m0 0h0m0 0h0m0 0h0m0 0h0m0 0h0m0 0h0m1-19h0m0 1h0m0 3h0m0 1h0m0 0h0m0 0h0m0 0h0m0 1h0m0 1h0m0 1h0m0 1h0m0 1h0m0 0h0m0 0h0m0 1h0m0 0h0m0 1h0m0 0h0m0 0h0m0 1h0m0 0h0m0 0h0m0 1h0m0 0h0m0 1h0m0 0h0m0 0h0m0 1h0m0 0h0m0 0h0m0 0h0m0 0h0m0 1h0m0 0h0m0 0h0m0 0h0m0 0h0m0 0h0m0 0h0m0 0h0m0 0h0m0 0h0m0 0h0m0 0h0m0 0h0m0 0h0m0 0h0m0 1h0m0 0h0m0 0h0m0 0h0m0 0h0m0 0h0m0 0h0m0 1h0m0 0h0m0 0h0m0 0h0m0 0h0m0 0h0m0 0h0m0 0h0m0 0h0m0 0h0m0 0h0m1-20h0m0 0h0m0 1h0m0 3h0m0 2h0m0 0h0m0 1h0m0 0h0m0 1h0m0 0h0m0 1h0m0 0h0m0 0h0m0 1h0m0 0h0m0 1h0m0 1h0m0 0h0m0 0h0m0 0h0m0 2h0m0 1h0m0 0h0m0 0h0m0 1h0m0 0h0m0 1h0m0 0h0m0 0h0m0 0h0m0 0h0m0 0h0m0 1h0m0 0h0m0 0h0m0 1h0m0 0h0m0 0h0m0 0h0m0 0h0m0 0h0m0 0h0m0 0h0m0 0h0m0 0h0m0 0h0m1-18h0m0 0h0m0 1h0m0 0h0m0 0h0m0 2h0m0 0h0m0 2h0m0 1h0m0 0h0m0 0h0m0 0h0m0 1h0m0 0h0m0 0h0m0 0h0m0 1h0m0 0h0m0 1h0m0 1h0m0 1h0m0 0h0m0 1h0m0 0h0m0 0h0m0 0h0m0 1h0m0 0h0m0 0h0m0 0h0m0 0h0m0 0h0m0 1h0m0 0h0m0 1h0m0 0h0m0 0h0m0 0h0m0 1h0m0 1h0m0 0h0m0 0h0m0 0h0m0 1h0m0 0h0m0 0h0m0 0h0m1-22h0m0 2h0m0 0h0m0 0h0m0 2h0m0 1h0m0 0h0m0 1h0m0 3h0m0 0h0m0 1h0m0 1h0m0 1h0m0 0h0m0 1h0m0 1h0m0 0h0m0 0h0m0 0h0m0 1h0m0 0h0m0 0h0m0 1h0m0 0h0m0 0h0m0 1h0m0 0h0m0 0h0m0 0h0m0 1h0m0 0h0m0 0h0m0 0h0m0 1h0m0 0h0m0 0h0m0 0h0m0 0h0m0 0h0m0 0h0m0 1h0m0 0h0m0 0h0m0 0h0m0 0h0m0 0h0m0 1h0m0 0h0m0 0h0m0 0h0m1-27h0m0 1h0m0 2h0m0 1h0m0 1h0m0 3h0m0 1h0m0 2h0m0 1h0m0 0h0m0 3h0m0 0h0m0 1h0m0 1h0m0 1h0m0 1h0m0 0h0m0 1h0m0 0h0m0 0h0m0 1h0m0 1h0m0 0h0m0 1h0m0 0h0m0 0h0m0 1h0m0 0h0m0 1h0m0 0h0m0 0h0m0 0h0m0 1h0m0 0h0m0 0h0m0 0h0m0 0h0m0 0h0m0 1h0m0 0h0m0 1h0m1-38h0m0 3h0m0 0h0m0 1h0m0 2h0m0 0h0m0 1h0m0 0h0m0 7h0m0 1h0m0 1h0m0 1h0m0 0h0m0 0h0m0 1h0m0 1h0m0 0h0m0 1h0m0 1h0m0 1h0m0 2h0m0 0h0m0 1h0m0 1h0m0 0h0m0 1h0m0 0h0m0 0h0m0 0h0m0 0h0m0 1h0m0 1h0m0 0h0m0 0h0m0 1h0m0 2h0m0 0h0m0 0h0m0 1h0m0 0h0m0 0h0m0 0h0m0 0h0m0 1h0m0 0h0m0 0h0m0 0h0m0 1h0m0 0h0m0 0h0m0 0h0m1-36h0m0 2h0m0 2h0m0 1h0m0 5h0m0 2h0m0 1h0m0 1h0m0 5h0m0 1h0m0 1h0m0 2h0m0 1h0m0 2h0m0 0h0m0 1h0m0 2h0m0 0h0m0 0h0m0 1h0m0 0h0m0 1h0m0 0h0m0 1h0m0 0h0m0 0h0m0 0h0m0 1h0m0 0h0m0 1h0m0 0h0m0 0h0m0 1h0m0 0h0m0 0h0m0 0h0m0 0h0m0 1h0m0 0h0m0 0h0m1-47h0m0 3h0m0 10h0m0 3h0m0 3h0m0 0h0m0 1h0m0 0h0m0 3h0m0 5h0m0 2h0m0 1h0m0 2h0m0 1h0m0 0h0m0 0h0m0 1h0m0 0h0m0 1h0m0 3h0m0 0h0m0 0h0m0 1h0m0 1h0m0 0h0m0 1h0m0 1h0m0 0h0m0 0h0m0 1h0m0 1h0m0 0h0m0 0h0m0 1h0m0 0h0m0 1h0m1-52h0m0 3h0m0 13h0m0 1h0m0 0h0m0 3h0m0 4h0m0 0h0m0 9h0m0 3h0m0 1h0m0 0h0m0 1h0m0 1h0m0 4h0m0 0h0m0 1h0m0 0h0m0 2h0m0 0h0m0 0h0m0 1h0m0 0h0m0 1h0m0 1h0m0 0h0m0 1h0m1-56h0m0 3h0m0 1h0m0 3h0m0 8h0m0 3h0m0 3h0m0 2h0m0 1h0m0 0h0m0 0h0m0 1h0m0 2h0m0 4h0m0 0h0m0 1h0m0 0h0m0 2h0m0 0h0m0 1h0m0 7h0m0 1h0m0 1h0m0 0h0m0 1h0m0 1h0m0 1h0m0 1h0m0 1h0m0 0h0m0 2h0m0 0h0m0 1h0m0 0h0m0 0h0m0 1h0m0 0h0m0 1h0m0 0h0m0 2h0m0 0h0m1-60h0m0 7h0m0 2h0m0 2h0m0 2h0m0 9h0m0 2h0m0 6h0m0 1h0m0 1h0m0 0h0m0 1h0m0 3h0m0 4h0m0 0h0m0 1h0m0 3h0m0 0h0m0 4h0m0 0h0m0 0h0m0 0h0m0 1h0m0 2h0m0 1h0m0 0h0m0 1h0m0 0h0m0 1h0m0 0h0m0 0h0m0 1h0m0 1h0m0 1h0m0 0h0m0 0h0m0 2h0m0 0h0m1-73h0m0 2h0m0 18h0m0 3h0m0 9h0m0 4h0m0 2h0m0 2h0m0 1h0m0 1h0m0 8h0m0 2h0m0 1h0m0 2h0m0 1h0m0 0h0m0 2h0m0 0h0m0 0h0m0 4h0m0 0h0m0 0h0m0 2h0m0 0h0m0 1h0m0 0h0m0 2h0m0 0h0m0 0h0m0 0h0m0 2h0m0 0h0m0 0h0m0 3h0m0 1h0m1-68h0m0 13h0m0 1h0m0 4h0m0 2h0m0 1h0m0 3h0m0 2h0m0 2h0m0 2h0m0 1h0m0 0h0m0 3h0m0 0h0m0 0h0m0 2h0m0 1h0m0 0h0m0 2h0m0 2h0m0 4h0m0 1h0m0 4h0m0 2h0m0 5h0m0 2h0m0 1h0m0 2h0m0 0h0m0 0h0m0 1h0m0 1h0m0 1h0m0 2h0m1-66h0m0 10h0m0 5h0m0 2h0m0 7h0m0 4h0m0 1h0m0 7h0m0 2h0m0 0h0m0 1h0m0 4h0m0 4h0m0 1h0m0 0h0m0 2h0m0 0h0m0 1h0m0 1h0m0 5h0m0 3h0m0 2h0m0 1h0m1-65h0m0 27h0m0 1h0m0 3h0m0 1h0m0 4h0m0 5h0m0 2h0m0 1h0m0 0h0m0 1h0m0 1h0m0 1h0m0 1h0m0 1h0m0 0h0m0 1h0m0 1h0m0 3h0m0 1h0m0 0h0m0 4h0m0 1h0m0 0h0m0 0h0m0 1h0m0 0h0m0 1h0m0 1h0m0 0h0m0 0h0m0 2h0m1-73h0m0 10h0m0 10h0m0 5h0m0 4h0m0 3h0m0 2h0m0 3h0m0 11h0m0 2h0m0 3h0m0 0h0m0 1h0m0 1h0m0 2h0m0 1h0m0 2h0m0 0h0m0 2h0m0 0h0m0 1h0m0 4h0m0 3h0m0 1h0m0 2h0m1-78h0m0 8h0m0 4h0m0 11h0m0 6h0m0 2h0m0 15h0m0 4h0m0 0h0m0 4h0m0 3h0m0 3h0m0 1h0m0 0h0m0 1h0m0 0h0m0 1h0m0 0h0m0 1h0m0 0h0m0 0h0m0 0h0m0 1h0m0 1h0m0 2h0m0 0h0m0 4h0m0 0h0m0 0h0m0 1h0m0 2h0m0 1h0m0 0h0m0 1h0m0 1h0m1-76h0m0 16h0m0 9h0m0 4h0m0 7h0m0 6h0m0 4h0m0 0h0m0 4h0m0 0h0m0 2h0m0 0h0m0 1h0m0 2h0m0 5h0m0 0h0m0 1h0m0 0h0m0 1h0m0 4h0m0 0h0m0 1h0m0 1h0m0 1h0m0 0h0m0 0h0m0 1h0m0 1h0m0 0h0m0 0h0m0 0h0m0 1h0m0 1h0m0 0h0m1-53h0m0 2h0m0 15h0m0 5h0m0 3h0m0 1h0m0 2h0m0 2h0m0 0h0m0 2h0m0 2h0m0 2h0m0 1h0m0 4h0m0 1h0m0 1h0m0 1h0m0 1h0m0 0h0m0 0h0m0 1h0m0 0h0m0 1h0m0 1h0m0 1h0m0 0h0m0 1h0m1-72h0m0 2h0m0 3h0m0 36h0m0 1h0m0 2h0m0 2h0m0 7h0m0 2h0m0 4h0m0 1h0m0 2h0m0 1h0m0 1h0m0 0h0m0 0h0m0 1h0m0 1h0m0 0h0m0 3h0m0 0h0m0 0h0m0 1h0m0 0h0m0 2h0m0 1h0m0 1h0m1-52h0m0 2h0m0 0h0m0 10h0m0 2h0m0 0h0m0 8h0m0 6h0m0 7h0m0 0h0m0 4h0m0 1h0m0 0h0m0 1h0m0 0h0m0 1h0m0 4h0m0 0h0m0 0h0m0 0h0m0 1h0m0 2h0m0 1h0m1-70h0m0 31h0m0 3h0m0 4h0m0 1h0m0 7h0m0 0h0m0 2h0m0 2h0m0 2h0m0 6h0m0 2h0m0 2h0m0 4h0m0 1h0m0 2h0m0 1h0m0 0h0m0 3h0m1-74h0m0 20h0m0 3h0m0 4h0m0 9h0m0 1h0m0 4h0m0 3h0m0 4h0m0 1h0m0 0h0m0 0h0m0 5h0m0 3h0m0 0h0m0 0h0m0 2h0m0 2h0m0 3h0m0 10h0m1-50h0m0 3h0m0 2h0m0 8h0m0 1h0m0 3h0m0 2h0m0 1h0m0 2h0m0 1h0m0 1h0m0 2h0m0 4h0m0 4h0m0 1h0m0 2h0m0 3h0m0 0h0m0 3h0m0 0h0m1-63h0m0 11h0m0 5h0m0 11h0m0 8h0m0 2h0m0 1h0m0 1h0m0 1h0m0 6h0m0 4h0m0 2h0m0 0h0m0 2h0m0 1h0m0 2h0m0 0h0m0 2h0m0 4h0m0 0h0m0 1h0m0 0h0m0 0h0m0 0h0m0 1h0m0 2h0m1-72h0m0 12h0m0 1h0m0 14h0m0 0h0m0 2h0m0 3h0m0 7h0m0 1h0m0 7h0m0 1h0m0 8h0m0 0h0m0 2h0m0 3h0m0 1h0m0 2h0m0 1h0m0 2h0m0 1h0m1-51h0m0 5h0m0 2h0m0 17h0m0 5h0m0 4h0m0 1h0m0 2h0m0 10h0m0 0h0m0 4h0m0 0h0m0 0h0m1-55h0m0 0h0m0 8h0m0 2h0m0 1h0m0 5h0m0 9h0m0 4h0m0 3h0m0 1h0m0 5h0m0 1h0m0 6h0m0 2h0m0 0h0m0 1h0m0 1h0m0 1h0m0 2h0m0 3h0m0 0h0m0 3h0m1-60h0m0 10h0m0 4h0m0 0h0m0 0h0m0 10h0m0 2h0m0 2h0m0 2h0m0 3h0m0 5h0m0 1h0m0 3h0m0 2h0m0 1h0m0 2h0m0 6h0m1-39h0m0 2h0m0 3h0m0 1h0m0 1h0m0 4h0m0 0h0m0 3h0m0 0h0m0 4h0m0 3h0m0 7h0m0 5h0m0 0h0m0 9h0m1-50h0m0 12h0m0 0h0m0 6h0m0 2h0m0 3h0m0 17h0m0 7h0m1-56h0m0 11h0m0 15h0m0 6h0m0 3h0m0 0h0m0 2h0m0 5h0m0 1h0m0 2h0m1-46h0m0 16h0m0 3h0m0 1h0m0 7h0m0 1h0m0 1h0m0 7h0m0 3h0m0 3h0m0 4h0m0 1h0m0 1h0m1-51h0m0 4h0m0 8h0m0 14h0m0 2h0m0 4h0m0 1h0m0 0h0m0 3h0m0 2h0m0 3h0m0 6h0m0 8h0m0 4h0m1-61h0m0 2h0m0 11h0m0 11h0m0 9h0m0 5h0m0 2h0m0 5h0m1-31h0m0 4h0m0 4h0m0 21h0m0 1h0m0 1h0m0 2h0m0 12h0m0 1h0m1-53h0m0 3h0m0 4h0m0 4h0m0 8h0m0 18h0m1-14h0m0 4h0m0 2h0m0 2h0m1-26h0m0 0h0m0 11h0m0 4h0m0 22h0m1-40h0m0 7h0m0 14h0m0 2h0m0 2h0m1-16h0m0 2h0m0 1h0m0 28h0m1-38h0m0 16h0m0 0h0m1-27h0m0 8h0m0 27h0m0 3h0m1-15h0m1-23h0m1 4h0m0 18h0m2 5h0m3-17h0m0 7h0"/><path d="M246 322h0m3 9h0m1 5h0m0 12h0m3-1h0m2-8h0m2-9h0m0 7h0m0 8h0m0 10h0m1-10h0m0 3h0m0 10h0m0 1h0m1-26h0m0 6h0m0 2h0m0 10h0m1-4h0m0 13h0m1-26h0m0 24h0m0 1h0m0 1h0m1-36h0m0 9h0m0 5h0m0 0h0m0 5h0m0 7h0m0 1h0m0 7h0m0 3h0m1-21h0m0 5h0m0 12h0m0 9h0m1-20h0m0 17h0m0 1h0m0 1h0m0 2h0m0 1h0m1-46h0m0 40h0m0 2h0m0 0h0m0 5h0m0 2h0m1-42h0m0 1h0m0 3h0m0 17h0m0 1h0m0 10h0m0 9h0m0 5h0m0 2h0m1-14h0m0 0h0m0 2h0m0 1h0m0 5h0m1-37h0m0 13h0m0 0h0m0 5h0m0 1h0m0 3h0m0 2h0m0 2h0m0 9h0m1-38h0m0 1h0m0 4h0m0 26h0m0 0h0m0 1h0m0 7h0m0 0h0m0 8h0m0 3h0m0 1h0m1-56h0m0 6h0m0 5h0m0 11h0m0 14h0m0 2h0m0 3h0m0 2h0m0 4h0m0 2h0m0 8h0m0 0h0m1-58h0m0 2h0m0 1h0m0 4h0m0 0h0m0 7h0m0 12h0m0 2h0m0 3h0m0 7h0m0 3h0m0 6h0m0 3h0m0 6h0m0 5h0m1-54h0m0 24h0m0 0h0m0 1h0m0 6h0m0 4h0m0 3h0m0 10h0m0 3h0m0 1h0m1-62h0m0 6h0m0 1h0m0 8h0m0 15h0m0 8h0m0 1h0m0 4h0m0 0h0m0 3h0m0 3h0m0 9h0m0 7h0m0 0h0m1-57h0m0 10h0m0 9h0m0 1h0m0 18h0m0 5h0m0 1h0m0 0h0m0 3h0m0 2h0m0 4h0m0 1h0m0 4h0m0 2h0m1-50h0m0 4h0m0 17h0m0 7h0m0 8h0m0 2h0m0 2h0m0 0h0m0 3h0m0 0h0m0 1h0m0 3h0m0 5h0m1-54h0m0 7h0m0 9h0m0 10h0m0 1h0m0 1h0m0 5h0m0 1h0m0 3h0m0 5h0m0 1h0m0 2h0m0 1h0m0 2h0m0 2h0m0 0h0m0 3h0m0 1h0m1-57h0m0 8h0m0 8h0m0 0h0m0 10h0m0 3h0m0 2h0m0 0h0m0 6h0m0 3h0m0 0h0m0 2h0m0 5h0m0 3h0m0 0h0m0 1h0m0 1h0m0 1h0m0 3h0m1-44h0m0 5h0m0 5h0m0 15h0m0 13h0m0 1h0m0 1h0m0 0h0m0 1h0m0 1h0m0 3h0m0 2h0m1-70h0m0 10h0m0 1h0m0 1h0m0 1h0m0 1h0m0 14h0m0 2h0m0 10h0m0 0h0m0 4h0m0 2h0m0 12h0m0 1h0m0 1h0m0 3h0m0 5h0m0 1h0m0 1h0m1-43h0m0 5h0m0 10h0m0 2h0m0 5h0m0 4h0m0 1h0m0 0h0m0 1h0m0 1h0m0 0h0m0 2h0m0 1h0m0 1h0m0 2h0m0 0h0m0 1h0m0 6h0m1-47h0m0 5h0m0 2h0m0 9h0m0 8h0m0 4h0m0 9h0m0 1h0m0 1h0m0 1h0m0 1h0m0 2h0m0 0h0m0 1h0m0 0h0m0 0h0m0 1h0m0 0h0m0 1h0m0 0h0m0 1h0m0 2h0m1-46h0m0 1h0m0 9h0m0 3h0m0 7h0m0 3h0m0 2h0m0 3h0m0 0h0m0 2h0m0 3h0m0 1h0m0 1h0m0 0h0m0 1h0m0 1h0m0 0h0m0 0h0m0 6h0m0 1h0m0 0h0m1-51h0m0 19h0m0 5h0m0 6h0m0 2h0m0 3h0m0 2h0m0 0h0m0 3h0m0 4h0m0 4h0m0 0h0m0 0h0m0 1h0m0 2h0m0 0h0m0 2h0m0 1h0m0 0h0m0 1h0m0 2h0m1-68h0m0 10h0m0 12h0m0 17h0m0 1h0m0 1h0m0 1h0m0 5h0m0 3h0m0 1h0m0 3h0m0 1h0m0 0h0m0 1h0m0 2h0m0 1h0m0 1h0m0 0h0m0 3h0m0 0h0m0 4h0m1-51h0m0 2h0m0 3h0m0 5h0m0 4h0m0 1h0m0 3h0m0 1h0m0 0h0m0 2h0m0 1h0m0 1h0m0 0h0m0 0h0m0 5h0m0 0h0m0 4h0m0 0h0m0 2h0m0 1h0m0 0h0m0 4h0m0 0h0m0 1h0m0 2h0m0 1h0m0 1h0m0 1h0m0 2h0m0 1h0m0 2h0m0 0h0m0 1h0m1-32h0m0 2h0m0 6h0m0 6h0m0 2h0m0 0h0m0 2h0m0 4h0m0 0h0m0 0h0m0 0h0m0 3h0m0 0h0m0 1h0m0 1h0m0 0h0m0 0h0m0 1h0m0 1h0m0 1h0m0 0h0m0 1h0m0 1h0m0 1h0m0 1h0m0 0h0m0 0h0m1-58h0m0 5h0m0 4h0m0 8h0m0 3h0m0 3h0m0 5h0m0 1h0m0 1h0m0 0h0m0 9h0m0 0h0m0 1h0m0 4h0m0 1h0m0 1h0m0 3h0m0 1h0m0 1h0m0 1h0m0 1h0m0 0h0m0 3h0m0 1h0m0 0h0m1-61h0m0 5h0m0 8h0m0 3h0m0 5h0m0 2h0m0 3h0m0 2h0m0 1h0m0 2h0m0 4h0m0 0h0m0 4h0m0 4h0m0 1h0m0 3h0m0 2h0m0 1h0m0 1h0m0 1h0m0 2h0m0 1h0m0 1h0m0 0h0m0 0h0m0 0h0m0 1h0m0 0h0m0 1h0m0 2h0m0 0h0m0 1h0m0 1h0m0 0h0m0 0h0m0 0h0m0 1h0m0 1h0m1-71h0m0 10h0m0 6h0m0 8h0m0 4h0m0 2h0m0 1h0m0 1h0m0 6h0m0 1h0m0 2h0m0 2h0m0 0h0m0 1h0m0 6h0m0 1h0m0 1h0m0 1h0m0 1h0m0 3h0m0 1h0m0 2h0m0 1h0m0 0h0m0 0h0m0 2h0m0 0h0m0 0h0m0 1h0m0 1h0m0 0h0m0 0h0m0 1h0m0 2h0m0 1h0m0 1h0m0 1h0m0 0h0m0 0h0m0 0h0m0 1h0m1-57h0m0 1h0m0 8h0m0 3h0m0 0h0m0 3h0m0 1h0m0 7h0m0 2h0m0 1h0m0 1h0m0 3h0m0 0h0m0 0h0m0 0h0m0 1h0m0 0h0m0 0h0m0 1h0m0 3h0m0 4h0m0 3h0m0 2h0m0 3h0m0 1h0m0 1h0m0 0h0m0 1h0m0 0h0m0 0h0m0 1h0m0 1h0m0 0h0m0 1h0m0 0h0m0 0h0m0 1h0m0 1h0m0 0h0m0 0h0m0 0h0m0 1h0m0 1h0m0 1h0m0 0h0m1-52h0m0 12h0m0 2h0m0 3h0m0 2h0m0 8h0m0 1h0m0 2h0m0 1h0m0 2h0m0 2h0m0 3h0m0 0h0m0 0h0m0 0h0m0 2h0m0 1h0m0 2h0m0 0h0m0 1h0m0 1h0m0 0h0m0 3h0m0 2h0m0 0h0m0 0h0m0 0h0m0 1h0m0 0h0m0 0h0m0 1h0m1-56h0m0 8h0m0 9h0m0 1h0m0 0h0m0 6h0m0 0h0m0 5h0m0 1h0m0 3h0m0 0h0m0 3h0m0 4h0m0 4h0m0 1h0m0 2h0m0 1h0m0 1h0m0 0h0m0 1h0m0 0h0m0 0h0m0 1h0m0 0h0m0 0h0m0 1h0m0 0h0m0 0h0m0 1h0m0 1h0m0 0h0m0 0h0m0 0h0m0 1h0m0 0h0m0 0h0m0 1h0m0 0h0m0 1h0m0 0h0m1-49h0m0 2h0m0 8h0m0 1h0m0 1h0m0 0h0m0 3h0m0 6h0m0 1h0m0 1h0m0 5h0m0 4h0m0 1h0m0 0h0m0 1h0m0 2h0m0 1h0m0 1h0m0 0h0m0 0h0m0 1h0m0 1h0m0 1h0m0 0h0m0 1h0m0 1h0m0 2h0m0 0h0m0 0h0m0 1h0m0 1h0m0 0h0m0 0h0m0 0h0m0 0h0m0 0h0m0 0h0m0 1h0m0 0h0m0 0h0m0 0h0m0 0h0m0 1h0m0 0h0m0 1h0m1-41h0m0 9h0m0 0h0m0 1h0m0 2h0m0 0h0m0 3h0m0 1h0m0 0h0m0 2h0m0 0h0m0 2h0m0 1h0m0 2h0m0 0h0m0 1h0m0 1h0m0 5h0m0 0h0m0 1h0m0 1h0m0 0h0m0 1h0m0 0h0m0 0h0m0 0h0m0 0h0m0 1h0m0 0h0m0 0h0m0 1h0m0 0h0m0 2h0m0 0h0m0 0h0m0 0h0m0 1h0m0 1h0m0 0h0m0 0h0m0 1h0m0 0h0m0 0h0m0 0h0m0 0h0m0 0h0m0 1h0m0 0h0m0 0h0m0 0h0m0 1h0m0 0h0m1-39h0m0 4h0m0 7h0m0 3h0m0 3h0m0 0h0m0 4h0m0 1h0m0 0h0m0 1h0m0 1h0m0 0h0m0 1h0m0 2h0m0 0h0m0 3h0m0 0h0m0 0h0m0 1h0m0 1h0m0 1h0m0 0h0m0 0h0m0 0h0m0 0h0m0 1h0m0 0h0m0 0h0m0 1h0m0 0h0m0 0h0m0 0h0m0 1h0m0 0h0m0 1h0m0 0h0m0 0h0m0 0h0m0 1h0m0 0h0m0 0h0m0 0h0m0 1h0m0 0h0m0 0h0m0 0h0m1-23h0m0 1h0m0 11h0m0 1h0m0 0h0m0 0h0m0 1h0m0 0h0m0 3h0m0 0h0m0 0h0m0 1h0m0 0h0m0 1h0m0 0h0m0 1h0m0 0h0m0 0h0m0 0h0m0 1h0m0 0h0m0 1h0m0 0h0m0 0h0m0 1h0m0 0h0m0 0h0m0 0h0m0 0h0m0 0h0m0 0h0m0 0h0m0 0h0m0 0h0m0 1h0m0 0h0m0 0h0m1-23h0m0 3h0m0 3h0m0 0h0m0 0h0m0 0h0m0 1h0m0 0h0m0 1h0m0 0h0m0 2h0m0 1h0m0 1h0m0 0h0m0 0h0m0 1h0m0 1h0m0 0h0m0 0h0m0 0h0m0 1h0m0 0h0m0 1h0m0 0h0m0 0h0m0 0h0m0 0h0m0 1h0m0 1h0m0 1h0m0 0h0m0 1h0m0 0h0m0 0h0m0 0h0m0 0h0m0 1h0m0 0h0m0 0h0m0 0h0m0 0h0m0 0h0m0 1h0m0 0h0m0 0h0m0 1h0m0 0h0m0 0h0m0 0h0m0 0h0m0 0h0m0 1h0m0 0h0m1-19h0m0 1h0m0 0h0m0 3h0m0 0h0m0 1h0m0 3h0m0 0h0m0 3h0m0 3h0m0 0h0m0 0h0m0 1h0m0 0h0m0 0h0m0 0h0m0 0h0m0 0h0m0 1h0m0 0h0m0 0h0m0 0h0m0 0h0m0 1h0m0 0h0m0 0h0m0 0h0m0 1h0m0 0h0m0 0h0m0 0h0m0 0h0m0 0h0m0 0h0m0 0h0m0 0h0m0 0h0m0 0h0m0 1h0m0 0h0m0 0h0m0 0h0m0 0h0m1-19h0m0 0h0m0 0h0m0 2h0m0 2h0m0 0h0m0 0h0m0 1h0m0 1h0m0 0h0m0 0h0m0 0h0m0 0h0m0 0h0m0 0h0m0 1h0m0 0h0m0 2h0m0 0h0m0 0h0m0 1h0m0 0h0m0 1h0m0 0h0m0 1h0m0 0h0m0 1h0m0 0h0m0 1h0m0 0h0m0 0h0m0 0h0m0 1h0m0 0h0m0 0h0m0 0h0m0 0h0m0 0h0m0 0h0m0 1h0m0 0h0m0 0h0m0 0h0m0 0h0m0 1h0m0 0h0m0 0h0m0 1h0m0 0h0m0 0h0m0 0h0m0 0h0m0 1h0m0 0h0m0 0h0m0 0h0m0 0h0m0 0h0m0 0h0m0 0h0m0 0h0m1-17h0m0 0h0m0 2h0m0 1h0m0 0h0m0 1h0m0 1h0m0 0h0m0 0h0m0 0h0m0 1h0m0 1h0m0 1h0m0 1h0m0 0h0m0 0h0m0 1h0m0 0h0m0 1h0m0 0h0m0 0h0m0 0h0m0 0h0m0 0h0m0 1h0m0 0h0m0 0h0m0 1h0m0 0h0m0 0h0m0 1h0m0 0h0m0 0h0m0 0h0m0 0h0m0 0h0m0 1h0m0 0h0m0 1h0m0 0h0m0 0h0m0 0h0m0 0h0m0 0h0m0 1h0m0 0h0m0 0h0m0 0h0m0 0h0m0 0h0m0 0h0m0 0h0m0 0h0m0 0h0m0 0h0m0 0h0m0 0h0m0 0h0m0 0h0m0 0h0m0 0h0m0 1h0m0 0h0m0 0h0m0 0h0m0 0h0m0 0h0m0 0h0m0 0h0m0 0h0m0 0h0m0 0h0m0 0h0m0 0h0m0 0h0m0 0h0m0 0h0m0 0h0m1-20h0m0 0h0m0 0h0m0 1h0m0 1h0m0 4h0m0 1h0m0 0h0m0 2h0m0 1h0m0 1h0m0 0h0m0 2h0m0 0h0m0 1h0m0 0h0m0 0h0m0 1h0m0 0h0m0 0h0m0 1h0m0 0h0m0 0h0m0 0h0m0 0h0m0 0h0m0 0h0m0 0h0m0 0h0m0 1h0m0 0h0m0 1h0m0 0h0m0 0h0m0 0h0m0 0h0m0 0h0m0 0h0m0 0h0m0 0h0m0 1h0m0 0h0m0 0h0m0 0h0m0 0h0m0 0h0m0 0h0m0 0h0m0 0h0m0 0h0m0 0h0m0 0h0m0 0h0m0 0h0m0 0h0m0 0h0m0 0h0m0 1h0m0 0h0m0 0h0m0 0h0m0 0h0m0 0h0m0 0h0m0 0h0m0 0h0m0 0h0m0 0h0m0 0h0m0 0h0m0 0h0m0 0h0m1-16h0m0 0h0m0 1h0m0 0h0m0 0h0m0 1h0m0 1h0m0 0h0m0 1h0m0 0h0m0 0h0m0 1h0m0 0h0m0 1h0m0 0h0m0 0h0m0 1h0m0 1h0m0 0h0m0 0h0m0 1h0m0 1h0m0 0h0m0 0h0m0 0h0m0 1h0m0 0h0m0 0h0m0 0h0m0 1h0m0 0h0m0 0h0m0 0h0m0 0h0m0 0h0m0 0h0m0 0h0m0 0h0m0 1h0m0 0h0m0 0h0m0 1h0m0 0h0m0 0h0m0 0h0m0 0h0m0 0h0m0 0h0m0 1h0m0 0h0m0 0h0m0 0h0m0 0h0m0 0h0m0 0h0m0 0h0m0 0h0m0 0h0m0 1h0m0 0h0m0 0h0m0 0h0m0 0h0m0 0h0m0 0h0m0 0h0m1-19h0m0 0h0m0 0h0m0 1h0m0 2h0m0 0h0m0 3h0m0 1h0m0 1h0m0 0h0m0 2h0m0 1h0m0 0h0m0 0h0m0 1h0m0 0h0m0 0h0m0 0h0m0 1h0m0 0h0m0 0h0m0 0h0m0 0h0m0 0h0m0 1h0m0 0h0m0 0h0m0 0h0m0 0h0m0 1h0m0 0h0m0 0h0m0 0h0m0 1h0m0 0h0m0 0h0m0 0h0m0 0h0m0 1h0m0 0h0m0 0h0m0 0h0m0 0h0m0 0h0m0 0h0m0 0h0m0 1h0m0 0h0m0 0h0m0 0h0m0 0h0m0 0h0m0 0h0m0 0h0m0 0h0m0 0h0m0 0h0m0 1h0m1-22h0m0 0h0m0 0h0m0 2h0m0 1h0m0 0h0m0 1h0m0 0h0m0 1h0m0 1h0m0 1h0m0 1h0m0 0h0m0 1h0m0 1h0m0 1h0m0 0h0m0 0h0m0 1h0m0 0h0m0 0h0m0 1h0m0 1h0m0 0h0m0 0h0m0 1h0m0 0h0m0 1h0m0 0h0m0 0h0m0 0h0m0 0h0m0 1h0m0 0h0m0 1h0m0 0h0m0 0h0m0 0h0m0 0h0m0 0h0m0 0h0m0 1h0m0 0h0m0 0h0m0 0h0m0 0h0m0 0h0m0 0h0m0 0h0m0 1h0m0 0h0m0 0h0m0 0h0m0 0h0m0 0h0m0 0h0m0 0h0m0 0h0m0 1h0m0 0h0m0 0h0m0 0h0m0 0h0m0 0h0m1-24h0m0 5h0m0 1h0m0 2h0m0 1h0m0 2h0m0 2h0m0 0h0m0 1h0m0 0h0m0 1h0m0 1h0m0 0h0m0 1h0m0 0h0m0 1h0m0 0h0m0 1h0m0 0h0m0 0h0m0 1h0m0 0h0m0 0h0m0 0h0m0 1h0m0 0h0m0 0h0m0 0h0m0 0h0m0 0h0m0 0h0m0 0h0m0 1h0m0 0h0m0 0h0m0 0h0m0 0h0m0 0h0m0 0h0m0 1h0m1-36h0m0 5h0m0 4h0m0 4h0m0 1h0m0 6h0m0 3h0m0 1h0m0 1h0m0 1h0m0 1h0m0 0h0m0 1h0m0 0h0m0 2h0m0 0h0m0 2h0m0 0h0m0 0h0m0 1h0m0 0h0m0 0h0m0 0h0m0 0h0m0 1h0m0 0h0m0 0h0m0 0h0m0 0h0m0 0h0m0 1h0m0 0h0m0 0h0m0 0h0m0 0h0m0 0h0m0 0h0m0 0h0m1-31h0m0 6h0m0 0h0m0 2h0m0 4h0m0 1h0m0 1h0m0 2h0m0 1h0m0 1h0m0 0h0m0 2h0m0 3h0m0 0h0m0 1h0m0 1h0m0 0h0m0 1h0m0 1h0m0 0h0m0 0h0m0 0h0m0 0h0m0 1h0m0 0h0m0 0h0m0 1h0m0 0h0m0 0h0m0 0h0m0 0h0m0 0h0m0 1h0m0 0h0m0 0h0m0 0h0m0 0h0m0 0h0m0 1h0m0 0h0m0 0h0m0 1h0m1-46h0m0 7h0m0 3h0m0 3h0m0 2h0m0 4h0m0 2h0m0 1h0m0 0h0m0 2h0m0 3h0m0 4h0m0 2h0m0 0h0m0 1h0m0 1h0m0 0h0m0 1h0m0 0h0m0 1h0m0 0h0m0 0h0m0 0h0m0 0h0m0 2h0m0 0h0m0 1h0m0 0h0m0 0h0m0 0h0m0 0h0m0 0h0m0 1h0m0 0h0m0 0h0m0 1h0m0 0h0m0 0h0m0 0h0m0 1h0m0 0h0m0 0h0m0 1h0m0 1h0m1-51h0m0 1h0m0 0h0m0 4h0m0 6h0m0 2h0m0 14h0m0 0h0m0 1h0m0 2h0m0 4h0m0 2h0m0 0h0m0 1h0m0 1h0m0 1h0m0 0h0m0 1h0m0 0h0m0 2h0m0 1h0m0 1h0m0 0h0m0 0h0m0 0h0m0 1h0m0 1h0m0 1h0m0 0h0m0 0h0m0 0h0m0 1h0m0 1h0m0 0h0m0 0h0m0 0h0m0 0h0m0 1h0m1-64h0m0 13h0m0 2h0m0 16h0m0 4h0m0 3h0m0 1h0m0 0h0m0 1h0m0 3h0m0 1h0m0 2h0m0 0h0m0 2h0m0 0h0m0 1h0m0 3h0m0 0h0m0 1h0m0 2h0m0 0h0m0 1h0m0 0h0m0 0h0m0 0h0m0 1h0m0 1h0m0 0h0m0 1h0m0 1h0m0 0h0m0 1h0m0 0h0m0 0h0m0 1h0m0 0h0m0 1h0m1-58h0m0 2h0m0 4h0m0 4h0m0 2h0m0 1h0m0 10h0m0 0h0m0 0h0m0 2h0m0 4h0m0 2h0m0 1h0m0 2h0m0 5h0m0 4h0m0 0h0m0 1h0m0 0h0m0 2h0m0 1h0m0 1h0m0 3h0m0 0h0m0 2h0m0 1h0m0 1h0m0 0h0m0 1h0m0 0h0m0 0h0m0 0h0m0 0h0m0 2h0m0 0h0m1-49h0m0 5h0m0 4h0m0 1h0m0 1h0m0 0h0m0 8h0m0 4h0m0 5h0m0 0h0m0 3h0m0 2h0m0 1h0m0 2h0m0 0h0m0 0h0m0 2h0m0 0h0m0 0h0m0 0h0m0 1h0m0 1h0m0 1h0m0 0h0m0 0h0m0 1h0m0 2h0m0 1h0m0 0h0m0 0h0m0 1h0m0 1h0m0 0h0m0 0h0m1-60h0m0 4h0m0 10h0m0 4h0m0 1h0m0 1h0m0 5h0m0 2h0m0 4h0m0 1h0m0 0h0m0 3h0m0 5h0m0 0h0m0 1h0m0 0h0m0 1h0m0 2h0m0 3h0m0 0h0m0 3h0m0 2h0m0 0h0m0 1h0m0 1h0m0 0h0m0 0h0m0 2h0m0 0h0m0 1h0m0 0h0m0 1h0m0 0h0m0 2h0m1-66h0m0 14h0m0 1h0m0 23h0m0 1h0m0 0h0m0 1h0m0 0h0m0 0h0m0 4h0m0 0h0m0 1h0m0 3h0m0 0h0m0 4h0m0 2h0m0 1h0m0 1h0m0 0h0m0 0h0m0 1h0m0 0h0m0 3h0m0 0h0m0 1h0m0 0h0m0 1h0m0 0h0m0 0h0m0 1h0m0 0h0m0 2h0m1-59h0m0 6h0m0 8h0m0 1h0m0 4h0m0 0h0m0 4h0m0 0h0m0 4h0m0 0h0m0 5h0m0 1h0m0 3h0m0 3h0m0 1h0m0 8h0m0 1h0m0 0h0m0 2h0m0 2h0m0 0h0m0 1h0m0 1h0m0 1h0m0 0h0m1-77h0m0 18h0m0 2h0m0 11h0m0 4h0m0 3h0m0 5h0m0 9h0m0 0h0m0 0h0m0 1h0m0 5h0m0 4h0m0 1h0m0 0h0m0 0h0m0 6h0m0 0h0m0 2h0m0 0h0m0 0h0m0 1h0m0 0h0m0 1h0m0 1h0m0 1h0m0 1h0m0 0h0m0 0h0m0 0h0m0 2h0m1-40h0m0 2h0m0 2h0m0 5h0m0 6h0m0 1h0m0 1h0m0 1h0m0 5h0m0 5h0m0 4h0m0 1h0m0 0h0m0 0h0m0 2h0m0 0h0m0 2h0m0 1h0m0 0h0m0 1h0m0 0h0m1-68h0m0 8h0m0 7h0m0 8h0m0 1h0m0 4h0m0 4h0m0 6h0m0 0h0m0 1h0m0 1h0m0 1h0m0 5h0m0 2h0m0 2h0m0 2h0m0 1h0m0 0h0m0 1h0m0 1h0m0 3h0m0 0h0m0 0h0m0 2h0m0 1h0m0 0h0m0 4h0m0 0h0m0 1h0m0 3h0m1-61h0m0 3h0m0 2h0m0 6h0m0 0h0m0 1h0m0 13h0m0 1h0m0 9h0m0 3h0m0 0h0m0 0h0m0 2h0m0 2h0m0 0h0m0 2h0m0 1h0m0 3h0m0 0h0m0 4h0m0 0h0m0 2h0m0 0h0m0 2h0m0 0h0m0 1h0m0 1h0m0 2h0m1-65h0m0 1h0m0 1h0m0 5h0m0 5h0m0 11h0m0 3h0m0 1h0m0 3h0m0 4h0m0 2h0m0 1h0m0 1h0m0 2h0m0 0h0m0 4h0m0 3h0m0 2h0m0 4h0m0 0h0m0 3h0m0 3h0m0 0h0m0 2h0m0 0h0m0 1h0m0 0h0m1-63h0m0 9h0m0 17h0m0 4h0m0 9h0m0 3h0m0 2h0m0 0h0m0 0h0m0 1h0m0 4h0m0 0h0m0 1h0m0 0h0m0 2h0m0 1h0m0 1h0m0 1h0m0 0h0m0 1h0m0 2h0m0 0h0m0 3h0m0 1h0m0 2h0m1-75h0m0 18h0m0 20h0m0 2h0m0 9h0m0 3h0m0 15h0m0 0h0m0 1h0m0 2h0m0 1h0m0 1h0m0 2h0m1-65h0m0 6h0m0 10h0m0 3h0m0 8h0m0 1h0m0 8h0m0 3h0m0 0h0m0 1h0m0 1h0m0 0h0m0 1h0m0 1h0m0 5h0m0 2h0m0 1h0m0 2h0m0 1h0m0 3h0m0 0h0m0 0h0m0 2h0m0 1h0m0 3h0m1-48h0m0 6h0m0 15h0m0 0h0m0 5h0m0 6h0m0 0h0m0 1h0m0 0h0m0 1h0m0 0h0m0 2h0m0 3h0m0 0h0m0 0h0m0 1h0m0 1h0m0 1h0m0 0h0m0 3h0m1-43h0m0 5h0m0 14h0m0 9h0m0 1h0m0 1h0m0 1h0m0 1h0m0 0h0m0 2h0m0 4h0m0 3h0m0 1h0m0 1h0m0 4h0m1-74h0m0 8h0m0 14h0m0 3h0m0 7h0m0 6h0m0 1h0m0 6h0m0 1h0m0 5h0m0 2h0m0 0h0m0 0h0m0 0h0m0 2h0m0 3h0m0 0h0m0 1h0m0 0h0m0 0h0m0 2h0m0 1h0m0 3h0m0 0h0m0 1h0m0 1h0m0 2h0m0 1h0m1-59h0m0 18h0m0 7h0m0 2h0m0 3h0m0 2h0m0 4h0m0 2h0m0 2h0m0 2h0m0 5h0m0 0h0m0 3h0m0 1h0m0 4h0m1-64h0m0 4h0m0 1h0m0 6h0m0 7h0m0 21h0m0 0h0m0 0h0m0 1h0m0 5h0m0 1h0m0 3h0m0 1h0m0 3h0m0 6h0m0 2h0m0 6h0m1-54h0m0 14h0m0 10h0m0 1h0m0 1h0m0 2h0m0 8h0m0 3h0m0 8h0m0 1h0m0 1h0m0 0h0m0 2h0m0 0h0m1-40h0m0 7h0m0 14h0m0 7h0m0 1h0m0 3h0m0 3h0m0 1h0m1-42h0m0 5h0m0 0h0m0 10h0m0 0h0m0 1h0m0 1h0m0 2h0m0 4h0m0 1h0m0 1h0m0 1h0m0 4h0m0 2h0m0 4h0m0 1h0m0 5h0m1-54h0m0 22h0m0 7h0m0 18h0m0 0h0m0 2h0m1-57h0m0 9h0m0 3h0m0 11h0m0 6h0m0 0h0m0 3h0m0 9h0m0 2h0m0 4h0m0 0h0m0 1h0m0 2h0m0 1h0m0 1h0m0 10h0m1-47h0m0 10h0m0 6h0m0 0h0m0 4h0m0 6h0m0 12h0m0 4h0m1-35h0m0 29h0m1-27h0m0 17h0m0 3h0m0 4h0m0 2h0m0 4h0m0 5h0m0 4h0m1-57h0m0 11h0m0 22h0m0 13h0m0 6h0m1-52h0m0 8h0m0 7h0m0 4h0m0 14h0m0 7h0m1-12h0m1-34h0m0 22h0m0 7h0m0 0h0m0 5h0m0 1h0m0 2h0m1-18h0m0 13h0m0 16h0m1-40h0m0 8h0m0 3h0m0 5h0m0 7h0m0 1h0m1-28h0m0 6h0m0 16h0m1-6h0m0 31h0m1-35h0m1 8h0m0 1h0m1-19h0m0 1h0m0 6h0m1 17h0m0 9h0m0 2h0m1-40h0m2 2h0m0 7h0m3-1h0m1 2h0"/></g><g transform="scale(.5)" fill="none" stroke="#c4c4c4" stroke-opacity="0.2" stroke-width="7.00" stroke-linecap="round"><path d="M198 353h0m1-21h0m5-4h0m1 18h0m9-9h0m10 4h0m0 14h0m0 19h0m1-53h0m1 4h0m1 13h0m0 5h0m0 22h0m3-30h0m0 18h0m2 29h0m2-51h0m2 13h0m0 46h0m1-51h0m0 5h0m1 29h0m1-25h0m1-13h0m1-14h0m0 18h0m1 12h0m1 22h0m0 7h0m1-36h0m1 4h0m1-23h0m0 23h0m1 19h0m0 7h0m1-29h0m0 39h0m1-56h0m1 3h0m0 25h0m1 16h0m1-31h0m0 13h0m0 19h0m0 4h0m0 5h0m1-43h0m0 4h0m0 42h0m1-44h0m0 19h0m1-18h0m0 6h0m0 12h0m0 5h0m0 0h0m0 13h0m1-36h0m0 6h0m2 2h0m1 12h0m0 5h0m0 2h0m0 1h0m0 1h0m0 25h0m2-37h0m0 23h0m0 8h0m0 4h0m1-15h0m0 7h0m0 1h0m0 4h0m2-22h0m0 0h0m0 29h0m1-22h0m1-21h0m0 35h0m1-3h0m0 2h0m2-2h0m1-4h0m0 6h0m1-3h0m1 3h0m1-8h0m0 10h0m0 1h0m1 4h0m1 2h0m1 0h0m0 2h0m5 0h0m1-1h0m1-2h0m1 4h0m8 4h0m3 3h0m4 1h0m0 1h0m14-4h0m2-3h0m0 1h0m1 0h0m3-6h0m1 2h0m2-7h0m1 4h0m2-2h0m1-6h0m1-4h0m0 10h0m2-9h0m0 6h0m2 8h0m1-22h0m0 12h0m1-30h0m1 34h0m1-24h0m0 8h0m0 4h0m0 4h0m1-10h0m0 16h0m1-30h0m0 6h0m0 17h0m1 1h0m0 4h0m1-20h0m0 9h0m1-5h0m0 8h0m1-18h0m1-17h0m0 14h0m2-5h0m1-12h0m0 9h0m0 15h0m2-32h0m0 7h0m0 11h0m0 17h0m1-25h0m0 1h0m0 14h0m0 2h0m1 11h0m0 1h0m2-26h0m0 6h0m0 1h0m1 0h0m0 17h0m1-6h0m0 10h0m1-20h0m1-20h0m0 5h0m0 1h0m0 33h0m1-45h0m0 17h0m0 26h0m1-31h0m1-1h0m0 12h0m1-26h0m0 24h0m0 8h0m1 7h0m0 8h0m2-29h0m0 10h0m2-2h0m0 1h0m4-21h0m2 2h0m2 9h0m1 21h0m1-24h0m1-17h0m1 15h0m1-13h0m1 11h0m4-13h0m2 11h0m8-11h0m0 8h0m13-8h0m5 0h0"/><path d="M202 323h0m2-3h0m6 23h0m5 9h0m7-26h0m5-5h0m3 21h0m1-13h0m0 10h0m0 11h0m0 4h0m0 23h0m2-18h0m2-24h0m1 40h0m1-40h0m0 2h0m1 29h0m1-40h0m1 0h0m0 45h0m1-20h0m0 10h0m0 11h0m1-44h0m1 21h0m0 10h0m1-26h0m1-13h0m0 42h0m1-36h0m0 60h0m1-35h0m1-17h0m0 29h0m1-14h0m0 10h0m0 2h0m1-25h0m0 36h0m1-36h0m0 13h0m0 5h0m0 29h0m1 2h0m1-31h0m1-10h0m0 25h0m0 10h0m1-14h0m0 3h0m0 20h0m1-24h0m0 16h0m0 2h0m1-11h0m0 1h0m0 20h0m1-7h0m1-28h0m0 12h0m1-15h0m0 1h0m0 8h0m0 6h0m1 13h0m0 7h0m1 3h0m0 0h0m1-14h0m0 2h0m1 3h0m1-1h0m1-7h0m0 10h0m1-7h0m0 15h0m1-12h0m0 2h0m0 1h0m1 5h0m0 6h0m5-1h0m1 1h0m2 3h0m2-1h0m1 4h0m3-2h0m1 1h0m0 2h0m3 2h0m1-1h0m8 5h0m12-2h0m3-1h0m0 2h0m3-2h0m1-2h0m0 0h0m1-4h0m0 4h0m6-7h0m0 5h0m1-3h0m1-3h0m0 2h0m1-3h0m0 1h0m3-7h0m0 2h0m3 1h0m1-7h0m1 4h0m1-2h0m1-11h0m0 1h0m0 14h0m1-13h0m0 3h0m0 16h0m1-7h0m3-34h0m0 30h0m0 0h0m2-15h0m1-10h0m1-6h0m0 9h0m0 11h0m0 12h0m1-37h0m0 29h0m0 2h0m1-36h0m0 8h0m0 2h0m0 12h0m0 9h0m0 9h0m1-43h0m0 13h0m1-1h0m0 18h0m0 5h0m1-25h0m0 17h0m1-4h0m1-40h0m0 10h0m0 31h0m1 7h0m1-35h0m0 39h0m1-31h0m0 15h0m0 18h0m1-51h0m0 39h0m1-22h0m0 23h0m0 19h0m1-3h0m1-29h0m1 10h0m1-35h0m2 8h0m1-7h0m1 1h0m0 21h0m1-21h0m2 1h0m0 36h0m0 4h0m1-43h0m0 0h0m0 47h0m1-12h0m1-41h0m0 21h0m1-22h0m0 11h0m1 24h0m4-13h0m0 7h0m1 8h0m2-26h0m2 22h0m1-18h0m5-8h0"/></g><g transform="scale(.5)" fill="none" stroke="#ff0000" stroke-opacity="0.14" stroke-width="7.00" stroke-linecap="round"><path d="M208 296h0m11 5h0m14-47h0m14 49h0m4 11h0m8-54h0m3 59h0m5-85h0m0 85h0m4-38h0m11 26h0m2-21h0m4-47h0m47 78h0m3-14h0m6-43h0m1 21h0m0 23h0m17-14h0m8 23h0m14-31h0m46 20h0m12-144h0m62-63h0"/><path d="M139 306h0m39-97h0m46 74h0m14 3h0m2 15h0m4-135h0m0 111h0m1-19h0m5-55h0m1 83h0m9-73h0m2 84h0m2 19h0m22-43h0m0 21h0m6-3h0m0 26h0m20-54h0m2 38h0m6-2h0m3 4h0m0 6h0m1-3h0m0 5h0m1-198h0m1 205h0m3-45h0m1 36h0m2-14h0m9-32h0m2 23h0m2-37h0m4 20h0m16-7h0m2-7h0m1 30h0m0 13h0m13-83h0m12 103h0m5-50h0m46 0h0"/><path d="M146 226h0m57-76h0m16 83h0m13-37h0m9 112h0m19-5h0m1-21h0m3-76h0m4 54h0m2 46h0m6-10h0m4-85h0m10 37h0m0 16h0m0 21h0m19 11h0m2 2h0m0 8h0m2-56h0m2 32h0m0 5h0m1 32h0m1 1h0m4-22h0m3-15h0m3 28h0m1-48h0m1-84h0m4-36h0m2 126h0m10 14h0m5-36h0m6-59h0m1 46h0m7 52h0m55 18h0m1-20h0m35 33h0"/><path d="M176 174h0m38 122h0m16-122h0m6 122h0m3 8h0m2 10h0m2-203h0m0 184h0m2-192h0m4 191h0m6 21h0m3-55h0m7-37h0m5 79h0m1-80h0m9 46h0m3 42h0m3-138h0m25 82h0m6 22h0m0 29h0m4-36h0m3-61h0m0 36h0m3 71h0m4-20h0m0 2h0m5-2h0m19-223h0m4 158h0m2 63h0m2 6h0m1-17h0m0 17h0m10-69h0m0 69h0m3 21h0m1-36h0m0 1h0m4 0h0m1 23h0m3-2h0m9-33h0m11 6h0m29 40h0"/><path d="M183 280h0m7 15h0m5 12h0m28-50h0m10-4h0m4 58h0m8-21h0m12 12h0m5 18h0m1-5h0m7-47h0m0 16h0m0 32h0m6-55h0m3 32h0m7-17h0m2 41h0m28-157h0m3 129h0m2 16h0m3-16h0m4-37h0m1-51h0m1 102h0m5-51h0m5-74h0m2 135h0m1 2h0m1-13h0m1-18h0m1 20h0m1 14h0m4-8h0m5-47h0m1 12h0m3 3h0m13 32h0m5-3h0m1-120h0m43 90h0"/><path d="M181 203h0m23 105h0m15 11h0m14-65h0m13 20h0m16-15h0m5 28h0m9 3h0m1-1h0m3-88h0m5 116h0m2-26h0m4 0h0m19-5h0m4-19h0m14 37h0m1 16h0m4-33h0m1-58h0m1 86h0m3-23h0m1 25h0m3 2h0m7-26h0m2 12h0m3-5h0m2 13h0m13-95h0m4 27h0m8 7h0m18 60h0m43-85h0"/></g><g transform="scale(.5)" fill="none" stroke="#0000ff" stroke-opacity="0.15" stroke-width="7.00" stroke-linecap="round"><path d="M168 252h0m31-25h0m6 39h0m11-36h0m8 84h0m5 2h0m4-138h0m1 58h0m12 76h0m2-63h0m1 62h0m7-103h0m0 67h0m8-6h0m4-29h0m0 46h0m1 17h0m1 5h0m3-10h0m5 21h0m1-65h0m0 42h0m1 23h0m3-22h0m1-65h0m0 62h0m0 11h0m0 12h0m2-37h0m0 11h0m0 0h0m1 16h0m5 0h0m18-40h0m8-9h0m4 45h0m1-16h0m1-151h0m6 127h0m1 3h0m0 14h0m1 39h0m5-54h0m1 25h0m1-11h0m0 23h0m0 3h0m19-12h0m0 19h0m0 2h0m5-52h0m4-102h0m2 158h0m9-13h0m13-49h0m0 27h0m3 17h0m5-98h0"/><path d="M198 136h0m7 23h0m11 63h0m4 96h0m2-76h0m9 18h0m1 16h0m3 21h0m1-134h0m0 94h0m4-114h0m7 141h0m3 27h0m6 2h0m5-23h0m3-2h0m12-22h0m1-6h0m1 16h0m0 30h0m1-172h0m0 182h0m0 1h0m1-97h0m1 60h0m1-89h0m1 36h0m3 78h0m0 14h0m1-36h0m0 0h0m0 20h0m3 16h0m1-41h0m0 7h0m0 12h0m0 1h0m20-18h0m0 37h0m4-7h0m1 0h0m0 8h0m4 0h0m1-94h0m2 65h0m1-59h0m3 12h0m1 56h0m3 17h0m1-69h0m0 62h0m5-37h0m5 16h0m6 13h0m2-190h0m4 137h0m0 56h0m2-4h0m2-62h0m0 55h0m9-8h0m1-5h0m8-26h0m0 35h0m109-187h0"/><path d="M162 247h0m51-22h0m0 84h0m1-146h0m8 19h0m20-4h0m4 121h0m2-17h0m1-40h0m2 67h0m0 6h0m1-5h0m1 7h0m1-1h0m2-57h0m0 57h0m1-15h0m2-65h0m7 74h0m1-1h0m3-56h0m2-114h0m0 93h0m1 63h0m2-41h0m2 14h0m4 37h0m4 6h0m3-79h0m1 84h0m2-67h0m0 68h0m2-4h0m17-1h0m2-19h0m2-4h0m2 13h0m6-125h0m3 105h0m1 7h0m4 13h0m0 5h0m11-15h0m2-65h0m2 42h0m3-41h0m5 55h0m1-29h0m0 64h0m6-3h0m3-22h0m17-52h0m3 52h0m10-10h0m10 5h0m1-182h0"/><path d="M205 203h0m12 19h0m2 33h0m8 34h0m3 23h0m1 7h0m3-43h0m12 17h0m4 25h0m1-75h0m4-62h0m1 113h0m2-233h0m2 156h0m1 12h0m0 2h0m2-130h0m0 203h0m2-20h0m0 35h0m2-25h0m1 7h0m0 4h0m3-88h0m0 95h0m1 0h0m1-65h0m0 64h0m2-2h0m1-7h0m1-168h0m0 115h0m1-50h0m1 97h0m1-100h0m3 62h0m1-5h0m1 30h0m0 4h0m2 9h0m2-17h0m0 33h0m3-99h0m20 96h0m2-70h0m2 49h0m3-54h0m0 64h0m0 11h0m2 3h0m1-8h0m2-53h0m7 65h0m1-68h0m3-30h0m2 64h0m8-77h0m1-71h0m1 104h0m1-46h0m4 119h0m2-150h0m0 139h0m3-15h0m7 2h0m1 28h0m2-76h0m1 24h0m5 36h0m26-159h0m11 2h0"/><path d="M124 144h0m57 98h0m11-86h0m5 64h0m8-20h0m2 24h0m7 6h0m6-57h0m0 48h0m0 76h0m3-24h0m15 41h0m5-86h0m3 56h0m3-5h0m0 14h0m0 20h0m5-54h0m2 48h0m1-68h0m0 1h0m4 44h0m2-4h0m4 16h0m2-67h0m4 76h0m2-27h0m0 27h0m1-13h0m5-1h0m0 21h0m1-31h0m3 12h0m1-56h0m4 0h0m0 28h0m1 48h0m0 2h0m1-64h0m17 21h0m1 35h0m1-56h0m0 33h0m1 17h0m1 8h0m2 9h0m5-27h0m0 25h0m1-50h0m2 38h0m1-16h0m2 12h0m1-2h0m1-15h0m1-1h0m0 33h0m1-8h0m2-18h0m3-2h0m5 32h0m4-29h0m4 11h0m3-107h0m4 113h0m28-109h0"/><path d="M187 268h0m1-11h0m4-18h0m2 13h0m17-10h0m5 47h0m1-27h0m6-59h0m0 75h0m2-37h0m11 34h0m1 27h0m3-11h0m4-2h0m5 19h0m3-8h0m2 5h0m4 1h0m2-112h0m1 42h0m0 27h0m1 48h0m4-113h0m0 13h0m0 107h0m0 1h0m1-5h0m1-53h0m1 41h0m1-55h0m1 39h0m0 25h0m1 1h0m2-36h0m1-21h0m3-69h0m0 119h0m0 12h0m1-5h0m2 1h0m0 3h0m0 3h0m1-4h0m2-39h0m0 6h0m0 24h0m1 11h0m1-16h0m1-26h0m0 4h0m0 6h0m0 27h0m1-48h0m0 22h0m3-37h0m0 54h0m1-20h0m0 34h0m17-97h0m1 94h0m1-21h0m2-37h0m0 21h0m3 13h0m6 14h0m3 5h0m3-3h0m14-39h0m0 36h0m0 16h0m3 1h0m3-84h0m1-74h0m1 158h0m1-104h0m2 35h0m5-93h0m3 133h0m3-2h0m2-5h0m2 34h0m7-50h0m3-27h0m4-34h0m61 2h0"/></g><g transform="scale(.5)" fill="none" stroke="#9428ff" stroke-opacity="0.28" stroke-width="7.00" stroke-linecap="round"><path d="M258 315h0m1-10h0m1-9h0m0 20h0m0 2h0m1-3h0m1-20h0m1 18h0m1-22h0m0 10h0m2-11h0m0 29h0m2-17h0m1-25h0m0 24h0m1 2h0m0 5h0m0 7h0m1-22h0m0 14h0m0 8h0m0 0h0m1 2h0m0 1h0m1-18h0m1 5h0m0 14h0m1-4h0m2-46h0m0 3h0m0 34h0m0 4h0m0 7h0m0 2h0m1-7h0m1-1h0m0 6h0m1-31h0m1 25h0m1-3h0m2-14h0m0 12h0m0 10h0m1-48h0m0 45h0m1 0h0m0 6h0m1-25h0m1-7h0m0 28h0m0 1h0m0 2h0m1-17h0m0 4h0m1 12h0m1-37h0m2-6h0m13 37h0m2 7h0m1-4h0m1-18h0m0 20h0m1-24h0m0 27h0m1-14h0m1 4h0m1-29h0m0 19h0m0 2h0m0 12h0m1-9h0m0 3h0m1 6h0m4-43h0m2 49h0m0 1h0m0 0h0m1-38h0m4 23h0m2-1h0m1-40h0m0 26h0m0 12h0m1-34h0m0 34h0m0 2h0m0 13h0m1-9h0m1-38h0m0 17h0m1-10h0m0 23h0m1-48h0m0 11h0m1 32h0m1-22h0m1-69h0m0 99h0m2 10h0m0 6h0m1-6h0m1-23h0m0 27h0m1-55h0m0 50h0m0 1h0m1-16h0m0 19h0m1-49h0m2 32h0m0 11h0m0 2h0m1-13h0m0 19h0m1-10h0m0 7h0m1-18h0m0 14h0m0 1h0m1 1h0m0 6h0m0 0h0m4-3h0"/><path d="M258 307h0m2-6h0m0 9h0m1 0h0m0 5h0m0 2h0m1 3h0m1-44h0m0 5h0m0 15h0m0 20h0m0 2h0m2-45h0m0 23h0m1-50h0m0 66h0m0 1h0m1-24h0m0 5h0m0 4h0m0 2h0m0 13h0m1-57h0m0 28h0m0 23h0m0 2h0m1-7h0m0 4h0m1-11h0m0 8h0m0 8h0m1-13h0m0 7h0m1-28h0m1 5h0m0 30h0m0 4h0m0 2h0m3-37h0m0 26h0m0 7h0m0 6h0m1-78h0m0 66h0m1-9h0m0 0h0m0 20h0m0 1h0m2-24h0m0 20h0m0 3h0m1-7h0m0 4h0m1-64h0m0 48h0m0 7h0m2-37h0m1 40h0m0 4h0m1-100h0m0 40h0m0 41h0m1 19h0m1 6h0m1-3h0m4-33h0m0 22h0m14-11h0m5-5h0m2 17h0m0 2h0m2 6h0m1-21h0m1-31h0m0 9h0m0 29h0m1 14h0m2-12h0m2 11h0m1-7h0m1 5h0m1-30h0m0 37h0m1-21h0m0 13h0m0 8h0m1-39h0m0 14h0m1-19h0m0 28h0m1 8h0m1-59h0m0 58h0m1-23h0m0 6h0m0 13h0m0 2h0m2-66h0m1 59h0m0 5h0m1-67h0m0 34h0m0 28h0m0 13h0m0 5h0m1-22h0m1-59h0m0 57h0m1 21h0m1-10h0m1-21h0m0 29h0m2 2h0m1-10h0m0 3h0m1-1h0m0 9h0m1-63h0m0 63h0m1-4h0m1 0h0m1-7h0m1-21h0m0 34h0m2-15h0"/><path d="M257 304h0m0 9h0m1-4h0m0 7h0m1-29h0m0 25h0m0 3h0m1-9h0m1-19h0m1 16h0m0 15h0m1-67h0m0 65h0m0 2h0m1-1h0m1-35h0m0 22h0m0 3h0m0 12h0m1-32h0m0 19h0m0 4h0m0 2h0m1-52h0m0 54h0m0 2h0m0 0h0m1-18h0m0 18h0m0 2h0m0 1h0m1-4h0m1-65h0m0 56h0m1-14h0m1-31h0m0 41h0m0 11h0m1-40h0m0 23h0m0 12h0m1-41h0m0 42h0m1-11h0m0 11h0m0 5h0m0 2h0m1-40h0m0 5h0m0 16h0m0 6h0m0 3h0m0 5h0m1-58h0m0 58h0m1-19h0m0 15h0m0 10h0m1-12h0m1 1h0m0 10h0m1-15h0m0 12h0m1-53h0m1 46h0m1-71h0m0 49h0m0 35h0m1-14h0m0 6h0m1 0h0m0 5h0m0 4h0m1-7h0m1-6h0m1-26h0m0 36h0m1-51h0m0 33h0m1 7h0m1 2h0m1-7h0m0 9h0m1 2h0m17-7h0m1 12h0m1-9h0m0 12h0m2-27h0m1 1h0m0 24h0m2-58h0m0 22h0m3-16h0m1 28h0m0 21h0m1-4h0m1-13h0m0 5h0m0 9h0m0 7h0m1-52h0m0 31h0m0 9h0m0 6h0m1-32h0m0 16h0m1 15h0m1-20h0m2-11h0m0 15h0m0 4h0m0 18h0m1-29h0m0 19h0m1-9h0m1 8h0m0 6h0m1-6h0m1-2h0m1-14h0m0 2h0m0 12h0m2-23h0m0 14h0m0 10h0m1-82h0m0 67h0m1-30h0m1 24h0m3-11h0m1 43h0m2-1h0m1-58h0m0 20h0m0 27h0m1 7h0m1 3h0m0 3h0m1-6h0m0 5h0m2-2h0m1-2h0m1 1h0"/><path d="M257 311h0m1-10h0m1 0h0m1-15h0m0 11h0m0 11h0m0 9h0m0 2h0m1-29h0m0 22h0m0 2h0m2 2h0m1-18h0m0 13h0m1-51h0m0 52h0m1-45h0m0 18h0m0 8h0m1-5h0m2 9h0m0 19h0m1-57h0m1 52h0m3-26h0m0 17h0m0 12h0m1-11h0m0 3h0m0 8h0m0 5h0m1-6h0m1-2h0m2-12h0m0 8h0m0 10h0m1 0h0m1-19h0m0 18h0m3-11h0m0 13h0m0 0h0m2-15h0m0 16h0m1-66h0m0 61h0m1 1h0m1-15h0m1-21h0m0 30h0m0 1h0m1-60h0m0 69h0m1 0h0m3-9h0m13-10h0m3-2h0m1 17h0m0 1h0m2-26h0m0 20h0m1-35h0m0 43h0m3-10h0m2 0h0m0 6h0m2-15h0m1 6h0m1-25h0m0 16h0m0 16h0m1-1h0m0 1h0m2-43h0m0 38h0m0 4h0m3-1h0m1-7h0m0 7h0m1-14h0m2-17h0m3 9h0m0 26h0m1-85h0m0 73h0m0 7h0m1 9h0m1-16h0m0 7h0m1-2h0m1-8h0m0 11h0m1-1h0m1-7h0m0 13h0m1 3h0m1-7h0m0 7h0m1-11h0m0 8h0m1-4h0m0 7h0m1-20h0m1 11h0m0 6h0m2 3h0"/><path d="M257 318h0m2-1h0m1-33h0m0 14h0m0 14h0m1-22h0m0 4h0m1-63h0m0 75h0m0 2h0m0 5h0m1-5h0m0 8h0m2-11h0m0 4h0m0 2h0m0 8h0m1-27h0m0 15h0m1-30h0m0 1h0m0 33h0m3-33h0m0 27h0m0 6h0m2-22h0m0 13h0m0 10h0m0 3h0m1-4h0m0 3h0m1 1h0m0 2h0m1-38h0m0 26h0m1-48h0m0 29h0m0 6h0m0 25h0m0 2h0m1-16h0m0 2h0m0 12h0m1-24h0m0 17h0m0 4h0m0 5h0m1-90h0m1 57h0m0 20h0m0 14h0m2-20h0m0 9h0m1-35h0m0 13h0m0 6h0m0 18h0m1-80h0m0 8h0m1 51h0m2 2h0m0 22h0m0 1h0m4-7h0m0 7h0m2-5h0m1-8h0m17 7h0m2 0h0m1-8h0m2-45h0m0 57h0m1-5h0m2 12h0m1-44h0m2 37h0m1-60h0m0 23h0m0 38h0m1-25h0m0 17h0m0 11h0m1-31h0m0 15h0m0 1h0m1 7h0m1-35h0m0 33h0m0 7h0m1-19h0m1 14h0m0 10h0m2-157h0m0 151h0m1 5h0m0 1h0m1-3h0m1-51h0m1 52h0m1-10h0m0 11h0m2-10h0m2-8h0m0 9h0m0 3h0m1-33h0m0 35h0m1-25h0m1-3h0m2-3h0m0 17h0m0 8h0m0 2h0m0 6h0m1-27h0m0 7h0m1-9h0m0 6h0m0 6h0m1 10h0m1-2h0m0 3h0m1 1h0"/><path d="M254 312h0m3 5h0m1-22h0m3-22h0m1-9h0m0 55h0m1-121h0m0 105h0m0 1h0m0 2h0m0 4h0m0 7h0m0 2h0m1-7h0m1-32h0m0 6h0m0 2h0m0 6h0m0 14h0m0 4h0m0 3h0m0 1h0m1-19h0m2-70h0m0 72h0m1 1h0m0 1h0m1 18h0m1-60h0m0 33h0m0 10h0m0 7h0m1 4h0m0 3h0m1 2h0m1-53h0m0 37h0m2-26h0m0 1h0m0 37h0m1-15h0m2 13h0m1-6h0m1-43h0m0 26h0m2-31h0m1 41h0m0 21h0m1-2h0m1-25h0m0 12h0m1-11h0m0 12h0m0 11h0m1-24h0m0 21h0m1-11h0m23-4h0m0 1h0m1-24h0m0 31h0m0 1h0m1-9h0m0 7h0m0 9h0m1-27h0m0 24h0m1-20h0m1-9h0m0 23h0m1 12h0m1-25h0m1 0h0m0 4h0m1 6h0m0 13h0m1-3h0m0 6h0m1-22h0m0 5h0m1-20h0m0 20h0m1-8h0m0 2h0m0 22h0m0 1h0m1-23h0m1 14h0m1-82h0m0 52h0m0 14h0m0 4h0m0 10h0m0 2h0m0 4h0m2-7h0m0 1h0m1-27h0m0 0h0m0 29h0m1-25h0m0 19h0m2-16h0m0 22h0m0 4h0m1-43h0m0 46h0m1-57h0m0 57h0m1-69h0m0 66h0m0 2h0m1-4h0m1-51h0m0 8h0m0 21h0m1 7h0m0 19h0m1-8h0m2-4h0m0 1h0m0 5h0m0 7h0m1-13h0m0 12h0m0 3h0m1-65h0m0 27h0m0 22h0m1-4h0m2-41h0m0 38h0m1-21h0m0 39h0m0 2h0m0 1h0m0 0h0m3-8h0m1 4h0"/></g><g transform="scale(.5)" fill="none" stroke="#ff2020" stroke-opacity="0.13" stroke-width="7.00" stroke-linecap="round"><path d="M255 293h0m5-13h0m6-85h0m16 123h0m34-46h0m4 35h0m2-82h0m1 60h0m2 15h0m3-31h0m2-18h0m2 62h0m2-15h0m1 17h0m3-13h0m0 1h0m0 7h0m2-14h0m1-46h0m3 32h0m0 18h0m0 19h0m3-14h0m0 10h0m6-6h0m1-91h0m2 89h0m0 7h0"/><path d="M263 318h0m1-5h0m7-12h0m0 17h0m1-19h0m2 16h0m8-9h0m7 4h0m22-9h0m5-28h0m1 38h0m0 8h0m2-55h0m3 19h0m7-15h0m5-9h0m2 43h0m2-18h0m1 34h0m2-11h0m3-9h0m1-16h0m1 32h0m1-10h0m1 7h0m3-19h0m0 17h0m0 4h0m0 0h0m0 4h0m2 2h0m3-47h0m3 10h0m0 14h0m3-118h0m1 84h0"/><path d="M259 308h0m0 6h0m8-13h0m7 7h0m14 10h0m2-11h0m19-6h0m6-16h0m0 28h0m1-19h0m0 15h0m5-4h0m1 14h0m4-29h0m2-61h0m1 8h0m6 57h0m2 22h0m5-13h0m0 12h0m3-1h0m1-5h0m3-51h0m2 49h0m1 8h0m1-23h0m2-15h0m1 41h0m1-13h0m0 10h0m6 4h0"/><path d="M257 269h0m23 46h0m1 5h0m2-27h0m33 12h0m1-30h0m1 34h0m1 3h0m2-5h0m1-52h0m2 63h0m4-28h0m0 0h0m2 9h0m0 4h0m2 0h0m1-27h0m8 13h0m2 20h0m3 9h0m2-10h0m0 2h0m5 9h0m1-10h0m2 4h0m4-20h0m1 16h0"/><path d="M256 316h0m25 4h0m2-38h0m33-51h0m0 85h0m1-22h0m5-31h0m0 9h0m0 33h0m3-158h0m1 156h0m3-24h0m4 39h0m5-54h0m0 50h0m3-2h0m5-8h0m0 16h0m1-24h0m4 12h0m2-37h0m2-11h0m0 45h0m2 10h0m2-27h0m0 23h0m2-93h0"/><path d="M255 291h0m8 23h0m12-54h0m0 50h0m0 7h0m4-38h0m2 29h0m4-65h0m26 43h0m9-107h0m8 78h0m2 50h0m2-21h0m0 32h0m2-57h0m0 20h0m0 10h0m3 21h0m0 7h0m3-19h0m2-8h0m2-22h0m0 47h0m1-13h0m1-46h0m0 54h0m7 4h0m1-7h0m1-16h0m1 3h0m0 21h0"/></g><g transform="scale(.5)" fill="none" stroke="#2020ff" stroke-opacity="0.14" stroke-width="7.00" stroke-linecap="round"><path d="M244 307h0m5-11h0m4 7h0m4-62h0m1 75h0m7 4h0m5-14h0m3-13h0m4 13h0m1 13h0m2-28h0m4 10h0m3-15h0m36 13h0m2-15h0m2 33h0m2-76h0m0 42h0m6-1h0m2 5h0m1 30h0m2-51h0m1 8h0m2 41h0"/><path d="M251 283h0m0 32h0m5-41h0m0 1h0m2 26h0m0 7h0m1 12h0m4-75h0m0 70h0m4-35h0m3-14h0m0 23h0m2 9h0m1-49h0m0 62h0m0 8h0m3-7h0m3 7h0m1-66h0m0 66h0m7-28h0m0 29h0m37-44h0m3-64h0m4 94h0m5 3h0m5 0h0m8-94h0"/><path d="M248 305h0m1-7h0m6-2h0m3 5h0m0 6h0m1-48h0m0 49h0m5 9h0m1-31h0m3-34h0m1 59h0m2-89h0m0 71h0m0 11h0m3 12h0m2-21h0m2-19h0m34-10h0m14-21h0m6 54h0m3-48h0m0 57h0m2-14h0m14 11h0"/><path d="M249 313h0m1-45h0m2 24h0m0 25h0m1-7h0m1 1h0m0 2h0m5-21h0m2-52h0m2 30h0m1 43h0m2-18h0m2 16h0m1-69h0m2 33h0m1 30h0m2-64h0m1 47h0m0 5h0m0 15h0m0 9h0m2-2h0m0 3h0m5-30h0m6 31h0m30-38h0m14-2h0m2 37h0m2-48h0m3 45h0m1 3h0m2 4h0m5-35h0"/><path d="M249 287h0m6-11h0m1 24h0m1 13h0m1-12h0m1 15h0m1-41h0m1 38h0m1 6h0m1-64h0m1 27h0m1-22h0m0 40h0m0 19h0m1 1h0m1-12h0m2 4h0m1 0h0m2-43h0m0 48h0m4-4h0m8-6h0m1 11h0m26-11h0m9 12h0m20-44h0m6 36h0m2-10h0"/><path d="M244 293h0m2-43h0m6 46h0m0 10h0m6-14h0m0 22h0m3-4h0m1-28h0m2 21h0m3-72h0m2 77h0m2-150h0m1 133h0m3-4h0m1-11h0m4 38h0m1-47h0m0 48h0m9 3h0m26-14h0m3 14h0m15-42h0m2 19h0"/></g><g transform="scale(.5)" fill="none" stroke="#a020f0" stroke-opacity="0.16" stroke-width="7.00" stroke-linecap="round"><path d="M217 237h0m9 40h0m5-31h0m8 15h0m6 54h0m12-7h0m7 7h0m1-32h0m5 11h0m1 16h0m1-15h0m10-60h0m4 78h0m2-26h0m3 20h0m1-22h0m1 6h0m18 9h0m0 4h0m2-11h0m1-36h0m6 60h0m1-114h0m1 98h0m0 3h0m4-48h0m0 29h0m2 22h0m2-67h0m14-56h0m4 96h0m0 38h0m2-80h0m0 78h0m2-2h0m6-80h0m1 46h0m3 10h0m1-140h0m4 71h0m11 84h0m11 11h0m10-14h0m41-10h0"/><path d="M191 194h0m33 111h0m2-31h0m13 44h0m4-136h0m3 124h0m1 2h0m6-89h0m2-10h0m6 108h0m3-169h0m0 125h0m1 4h0m3-2h0m9 33h0m0 7h0m2-96h0m0 91h0m2-18h0m0 7h0m0 2h0m5 8h0m1-11h0m1-37h0m0 18h0m0 35h0m2-6h0m19-26h0m6-34h0m2 50h0m2-105h0m0 68h0m3-30h0m1 66h0m1 10h0m1-2h0m5-38h0m4 44h0m1-29h0m8 2h0m4-6h0m1-53h0m0 72h0m2-8h0m1-59h0m0 87h0m4-187h0m4 147h0m2-190h0m15 201h0m2-20h0m2-38h0m7 72h0m3-1h0m16 13h0m41-13h0"/><path d="M198 271h0m4-105h0m11 108h0m24-192h0m4 230h0m9-1h0m1-89h0m1 81h0m8-6h0m1 19h0m6-48h0m16 33h0m2 8h0m28-4h0m1 8h0m1-70h0m0 69h0m1 3h0m3-201h0m0 170h0m0 12h0m1 10h0m5-61h0m4 70h0m1-61h0m0 20h0m1 39h0m4-5h0m2-55h0m3 54h0m2-63h0m4 52h0m1-172h0m0 178h0m3 13h0m1-24h0m17-7h0m4 13h0m3-18h0m0 11h0m3-171h0m1 178h0m9-58h0m16 70h0m3-19h0m44 17h0m13-118h0"/><path d="M230 250h0m25 54h0m0 2h0m6-7h0m4-1h0m1 20h0m2-97h0m5 7h0m3 37h0m2 38h0m1-120h0m0 106h0m1-133h0m1 151h0m7-18h0m2 8h0m19 19h0m8 1h0m2-4h0m0 2h0m2-49h0m0 28h0m3-38h0m2 50h0m2-59h0m2 56h0m5 8h0m1 4h0m5-125h0m2 126h0m3-38h0m5 36h0m0 0h0m7-32h0m3 11h0m0 9h0m3-67h0m5 78h0m36-8h0m9-116h0m104 61h0"/><path d="M196 207h0m37-40h0m5 91h0m1 6h0m1 32h0m8 6h0m0 10h0m0 2h0m1-24h0m4-81h0m2 55h0m6 50h0m1-147h0m3 137h0m2-51h0m4 39h0m3-44h0m3-21h0m0 69h0m1 15h0m1-33h0m31 9h0m3 3h0m1 26h0m1-9h0m1 12h0m2-4h0m0 2h0m2-27h0m1-85h0m0 93h0m0 10h0m1-30h0m0 30h0m1-44h0m3 53h0m1-31h0m0 19h0m0 0h0m1-95h0m1 17h0m2 40h0m2-87h0m3 135h0m4-118h0m0 113h0m3-144h0m3 146h0m1-46h0m5 47h0m0 2h0m1-2h0m1-74h0m6 23h0m0 34h0m4-52h0m0 56h0m2-20h0m7 26h0m22-108h0m26-2h0m63-9h0"/><path d="M246 229h0m5 51h0m0 3h0m2 23h0m0 12h0m7-40h0m1 23h0m6 14h0m0 1h0m1-6h0m5-74h0m0 20h0m4 29h0m1-64h0m1 19h0m12 68h0m1-19h0m1-32h0m25 19h0m3-52h0m1 66h0m0 17h0m0 12h0m2-21h0m1-3h0m1-31h0m1 35h0m1 2h0m0 7h0m3-71h0m3 82h0m1-2h0m2-25h0m12-20h0m1 27h0m4-51h0m1 62h0m1-23h0m5-33h0m2 26h0m1-35h0m1-8h0m0 64h0m3-47h0m0 27h0m2 26h0m6-44h0m0 49h0m4-42h0"/></g>
<g transform="scale(.5)" fill="none" stroke="#c2c2c2" stroke-opacity="0.38" stroke-width="7.00" stroke-linecap="round"><path d="M1025 342h0m4 6h0m1-2h0m3-2h0m2-22h0m1-3h0m1 14h0m0 29h0m1-34h0m0 2h0m0 1h0m0 20h0m1-10h0m0 2h0m0 1h0m1-16h0m0 14h0m1-20h0m0 1h0m1 14h0m0 1h0m0 2h0m0 14h0m0 1h0m0 12h0m1-11h0m1-14h0m0 3h0m1-1h0m0 6h0m1-20h0m0 1h0m0 28h0m0 1h0m0 8h0m1-43h0m0 18h0m0 15h0m0 3h0m0 4h0m0 13h0m1-37h0m0 4h0m0 11h0m0 4h0m0 15h0m0 10h0m1-31h0m0 2h0m0 10h0m0 2h0m0 3h0m0 6h0m1-34h0m0 19h0m0 8h0m0 0h0m1-24h0m0 3h0m0 0h0m0 22h0m0 3h0m0 7h0m1-49h0m0 21h0m0 6h0m0 0h0m0 2h0m0 1h0m0 3h0m0 2h0m0 2h0m0 5h0m0 2h0m0 0h0m0 10h0m1-32h0m0 5h0m0 3h0m0 4h0m0 3h0m0 9h0m0 2h0m0 6h0m1-65h0m0 30h0m0 11h0m0 7h0m0 2h0m0 1h0m0 1h0m0 4h0m0 4h0m0 1h0m0 3h0m1-60h0m0 3h0m0 10h0m0 24h0m0 1h0m0 6h0m0 11h0m0 2h0m0 2h0m0 0h0m0 3h0m0 3h0m1-53h0m0 9h0m0 16h0m0 3h0m0 2h0m0 0h0m0 7h0m0 2h0m0 3h0m0 1h0m0 2h0m0 0h0m0 4h0m1-36h0m0 12h0m0 2h0m0 5h0m0 2h0m0 1h0m0 6h0m0 2h0m0 2h0m0 2h0m1-22h0m0 3h0m0 3h0m0 6h0m0 3h0m0 4h0m0 1h0m0 1h0m0 2h0m0 1h0m0 1h0m0 2h0m1-55h0m0 4h0m0 7h0m0 11h0m0 7h0m0 1h0m0 3h0m0 4h0m0 4h0m0 3h0m0 0h0m0 9h0m0 0h0m0 4h0m1-70h0m0 7h0m0 21h0m0 7h0m0 2h0m0 11h0m0 1h0m0 12h0m0 1h0m0 1h0m0 3h0m0 2h0m0 0h0m0 3h0m0 1h0m0 1h0m1-62h0m0 9h0m0 13h0m0 12h0m0 11h0m0 7h0m0 3h0m0 4h0m0 2h0m0 1h0m1-73h0m0 13h0m0 4h0m0 4h0m0 9h0m0 4h0m0 1h0m0 8h0m0 3h0m0 8h0m0 2h0m0 0h0m0 6h0m0 2h0m0 1h0m0 0h0m0 6h0m0 0h0m0 0h0m0 2h0m0 1h0m1-73h0m0 20h0m0 10h0m0 16h0m0 4h0m0 7h0m0 0h0m0 3h0m0 3h0m0 1h0m0 1h0m0 0h0m0 1h0m0 0h0m0 3h0m0 2h0m0 0h0m1-21h0m0 5h0m0 0h0m0 4h0m0 1h0m0 1h0m0 0h0m0 0h0m0 0h0m0 5h0m0 2h0m0 2h0m0 1h0m0 1h0m0 0h0m0 0h0m0 1h0m1-35h0m0 6h0m0 8h0m0 1h0m0 2h0m0 3h0m0 4h0m0 3h0m0 1h0m0 4h0m0 3h0m0 0h0m1-64h0m0 24h0m0 9h0m0 1h0m0 0h0m0 1h0m0 1h0m0 0h0m0 2h0m0 12h0m0 2h0m0 0h0m0 3h0m0 0h0m0 3h0m0 1h0m0 1h0m0 2h0m0 3h0m1-47h0m0 5h0m0 0h0m0 2h0m0 17h0m0 2h0m0 2h0m0 5h0m0 1h0m0 1h0m0 4h0m0 1h0m0 1h0m0 1h0m0 0h0m0 1h0m0 0h0m0 0h0m0 0h0m0 0h0m0 2h0m0 0h0m0 1h0m0 0h0m0 1h0m0 1h0m0 1h0m0 1h0m1-77h0m0 23h0m0 6h0m0 5h0m0 4h0m0 1h0m0 5h0m0 1h0m0 0h0m0 6h0m0 3h0m0 1h0m0 1h0m0 3h0m0 2h0m0 1h0m0 0h0m0 3h0m0 1h0m0 2h0m0 0h0m0 1h0m0 2h0m0 0h0m0 1h0m0 1h0m0 0h0m0 1h0m1-53h0m0 9h0m0 3h0m0 3h0m0 5h0m0 3h0m0 1h0m0 4h0m0 4h0m0 1h0m0 3h0m0 1h0m0 5h0m0 1h0m0 2h0m0 1h0m0 3h0m0 2h0m0 1h0m0 0h0m1-35h0m0 7h0m0 2h0m0 3h0m0 1h0m0 3h0m0 3h0m0 4h0m0 0h0m0 2h0m0 5h0m0 0h0m0 0h0m0 1h0m0 1h0m0 0h0m0 0h0m0 2h0m0 0h0m0 1h0m0 0h0m0 0h0m0 1h0m0 0h0m0 1h0m0 0h0m0 0h0m0 1h0m0 0h0m1-47h0m0 1h0m0 18h0m0 1h0m0 7h0m0 3h0m0 2h0m0 1h0m0 1h0m0 3h0m0 1h0m0 0h0m0 3h0m0 1h0m0 0h0m0 0h0m0 3h0m0 1h0m0 1h0m0 1h0m0 1h0m1-60h0m0 16h0m0 3h0m0 8h0m0 1h0m0 1h0m0 6h0m0 1h0m0 5h0m0 0h0m0 1h0m0 0h0m0 2h0m0 1h0m0 0h0m0 1h0m0 4h0m0 0h0m0 1h0m0 1h0m0 0h0m0 1h0m0 1h0m0 1h0m0 1h0m0 0h0m0 1h0m0 1h0m0 0h0m0 2h0m1-60h0m0 23h0m0 4h0m0 11h0m0 1h0m0 2h0m0 2h0m0 1h0m0 4h0m0 0h0m0 1h0m0 0h0m0 2h0m0 2h0m0 1h0m0 1h0m0 3h0m0 2h0m0 0h0m0 0h0m0 1h0m0 0h0m0 1h0m0 0h0m0 0h0m1-65h0m0 10h0m0 1h0m0 4h0m0 2h0m0 2h0m0 13h0m0 4h0m0 0h0m0 0h0m0 8h0m0 1h0m0 1h0m0 2h0m0 0h0m0 2h0m0 1h0m0 1h0m0 4h0m0 0h0m0 1h0m0 0h0m0 1h0m0 0h0m0 1h0m0 3h0m0 1h0m0 0h0m0 1h0m0 1h0m0 0h0m0 1h0m0 0h0m1-51h0m0 7h0m0 8h0m0 0h0m0 7h0m0 6h0m0 1h0m0 2h0m0 0h0m0 5h0m0 3h0m0 1h0m0 1h0m0 1h0m0 1h0m0 0h0m0 4h0m0 2h0m0 1h0m0 1h0m1-50h0m0 15h0m0 1h0m0 1h0m0 1h0m0 4h0m0 0h0m0 1h0m0 2h0m0 0h0m0 2h0m0 2h0m0 1h0m0 3h0m0 3h0m0 0h0m0 1h0m0 0h0m0 1h0m0 3h0m0 1h0m0 2h0m0 1h0m0 2h0m0 0h0m0 0h0m0 0h0m0 0h0m0 3h0m0 0h0m0 1h0m0 0h0m1-41h0m0 5h0m0 3h0m0 4h0m0 2h0m0 0h0m0 1h0m0 1h0m0 0h0m0 1h0m0 2h0m0 4h0m0 1h0m0 1h0m0 1h0m0 1h0m0 1h0m0 1h0m0 0h0m0 0h0m0 0h0m0 2h0m0 0h0m0 1h0m0 3h0m0 2h0m0 1h0m0 0h0m0 1h0m0 0h0m0 1h0m0 0h0m0 0h0m0 0h0m1-34h0m0 7h0m0 1h0m0 3h0m0 0h0m0 4h0m0 3h0m0 1h0m0 3h0m0 0h0m0 2h0m0 0h0m0 2h0m0 0h0m0 0h0m0 0h0m0 2h0m0 0h0m0 1h0m0 0h0m0 1h0m0 1h0m0 0h0m0 1h0m0 0h0m0 1h0m0 0h0m0 0h0m0 1h0m0 0h0m0 1h0m0 0h0m0 0h0m0 1h0m0 0h0m1-32h0m0 2h0m0 1h0m0 4h0m0 6h0m0 1h0m0 3h0m0 3h0m0 0h0m0 0h0m0 2h0m0 1h0m0 1h0m0 0h0m0 0h0m0 1h0m0 1h0m0 0h0m0 1h0m0 0h0m0 0h0m0 0h0m0 0h0m0 1h0m0 1h0m0 0h0m0 1h0m0 0h0m0 0h0m0 1h0m0 0h0m0 1h0m0 0h0m0 0h0m0 1h0m0 0h0m1-24h0m0 6h0m0 3h0m0 2h0m0 0h0m0 3h0m0 0h0m0 1h0m0 1h0m0 3h0m0 1h0m0 1h0m0 0h0m0 2h0m0 0h0m0 0h0m0 0h0m0 0h0m0 1h0m0 0h0m0 0h0m0 1h0m1-14h0m0 1h0m0 0h0m0 1h0m0 1h0m0 0h0m0 0h0m0 2h0m0 0h0m0 0h0m0 0h0m0 2h0m0 0h0m0 0h0m0 1h0m0 0h0m0 0h0m0 2h0m0 0h0m0 0h0m0 0h0m0 1h0m0 0h0m0 0h0m0 0h0m0 1h0m0 1h0m0 1h0m0 0h0m0 0h0m1-10h0m0 0h0m0 0h0m0 2h0m0 1h0m0 0h0m0 1h0m0 0h0m0 0h0m0 1h0m0 0h0m0 1h0m0 0h0m0 0h0m0 1h0m0 0h0m0 0h0m0 1h0m0 0h0m0 0h0m0 1h0m0 0h0m0 0h0m0 0h0m0 0h0m0 1h0m0 0h0m1-10h0m0 1h0m0 1h0m0 0h0m0 1h0m0 1h0m0 0h0m0 1h0m0 0h0m0 0h0m0 2h0m0 0h0m0 0h0m0 1h0m0 0h0m0 0h0m0 0h0m0 0h0m0 0h0m0 1h0m0 1h0m0 0h0m0 0h0m0 0h0m0 0h0m0 0h0m0 0h0m0 1h0m0 0h0m0 1h0m0 0h0m1-12h0m0 0h0m0 0h0m0 0h0m0 1h0m0 0h0m0 1h0m0 0h0m0 1h0m0 1h0m0 0h0m0 0h0m0 1h0m0 0h0m0 1h0m0 1h0m0 0h0m0 0h0m0 1h0m0 0h0m0 1h0m0 0h0m0 0h0m0 0h0m0 1h0m0 0h0m0 0h0m0 0h0m0 1h0m0 0h0m0 0h0m0 0h0m0 1h0m0 0h0m1-13h0m0 2h0m0 2h0m0 0h0m0 0h0m0 1h0m0 0h0m0 1h0m0 0h0m0 0h0m0 1h0m0 1h0m0 0h0m0 0h0m0 2h0m0 0h0m0 0h0m0 0h0m0 1h0m0 0h0m0 1h0m0 0h0m0 0h0m0 1h0m0 0h0m0 0h0m0 0h0m0 0h0m0 0h0m1-13h0m0 1h0m0 1h0m0 0h0m0 0h0m0 0h0m0 1h0m0 1h0m0 0h0m0 1h0m0 0h0m0 1h0m0 1h0m0 0h0m0 1h0m0 0h0m0 0h0m0 1h0m0 0h0m0 0h0m0 0h0m0 0h0m0 0h0m0 1h0m0 0h0m0 0h0m0 0h0m0 1h0m0 0h0m0 0h0m0 0h0m0 1h0m0 0h0m0 0h0m0 1h0m0 0h0m0 0h0m0 0h0m0 0h0m0 0h0m0 0h0m0 0h0m0 0h0m0 0h0m0 0h0m0 0h0m0 0h0m0 0h0m0 0h0m0 0h0m0 0h0m0 0h0m0 0h0m0 1h0m0 0h0m0 0h0m0 0h0m0 0h0m0 0h0m0 0h0m1-12h0m0 1h0m0 2h0m0 0h0m0 0h0m0 0h0m0 1h0m0 1h0m0 0h0m0 1h0m0 0h0m0 0h0m0 1h0m0 0h0m0 0h0m0 0h0m0 0h0m0 1h0m0 0h0m0 0h0m0 1h0m0 0h0m0 1h0m0 0h0m0 0h0m0 0h0m0 0h0m0 0h0m0 0h0m0 0h0m0 1h0m0 0h0m0 0h0m0 0h0m0 0h0m0 0h0m0 0h0m0 0h0m0 0h0m0 0h0m0 0h0m0 0h0m0 0h0m0 0h0m0 0h0m0 0h0m0 1h0m0 0h0m0 0h0m0 0h0m0 0h0m0 0h0m0 0h0m0 0h0m0 0h0m0 0h0m1-12h0m0 1h0m0 1h0m0 0h0m0 0h0m0 1h0m0 2h0m0 0h0m0 0h0m0 1h0m0 0h0m0 0h0m0 0h0m0 0h0m0 1h0m0 0h0m0 0h0m0 1h0m0 0h0m0 0h0m0 0h0m0 0h0m0 1h0m0 0h0m0 1h0m0 0h0m0 0h0m0 0h0m0 0h0m0 0h0m0 0h0m0 1h0m0 0h0m0 0h0m0 0h0m0 0h0m0 0h0m0 0h0m0 0h0m0 0h0m0 0h0m0 0h0m0 0h0m0 1h0m0 0h0m0 0h0m0 0h0m0 0h0m0 0h0m0 0h0m0 0h0m0 0h0m0 0h0m0 0h0m0 0h0m0 0h0m0 0h0m1-13h0m0 1h0m0 3h0m0 0h0m0 0h0m0 1h0m0 0h0m0 1h0m0 0h0m0 0h0m0 2h0m0 0h0m0 0h0m0 0h0m0 1h0m0 0h0m0 0h0m0 0h0m0 1h0m0 0h0m0 0h0m0 1h0m0 0h0m0 0h0m0 0h0m0 0h0m0 0h0m0 0h0m0 0h0m0 0h0m0 1h0m0 0h0m0 0h0m0 0h0m0 0h0m0 0h0m0 0h0m0 0h0m0 0h0m0 0h0m0 1h0m0 0h0m0 0h0m1-11h0m0 1h0m0 0h0m0 0h0m0 0h0m0 0h0m0 2h0m0 0h0m0 1h0m0 0h0m0 1h0m0 0h0m0 1h0m0 0h0m0 1h0m0 1h0m0 0h0m0 0h0m0 1h0m0 0h0m0 0h0m0 0h0m0 0h0m0 0h0m0 0h0m0 0h0m0 1h0m0 0h0m0 0h0m0 0h0m1-12h0m0 2h0m0 3h0m0 0h0m0 1h0m0 0h0m0 1h0m0 0h0m0 0h0m0 0h0m0 1h0m0 0h0m0 0h0m0 0h0m0 0h0m0 1h0m0 0h0m0 0h0m0 1h0m0 0h0m0 0h0m0 0h0m0 0h0m0 0h0m0 1h0m0 0h0m0 0h0m0 0h0m0 0h0m1-12h0m0 1h0m0 1h0m0 0h0m0 2h0m0 0h0m0 1h0m0 0h0m0 0h0m0 0h0m0 1h0m0 0h0m0 2h0m0 1h0m0 0h0m0 0h0m0 0h0m0 0h0m0 1h0m0 0h0m0 1h0m0 0h0m0 0h0m0 0h0m0 0h0m0 0h0m0 0h0m0 0h0m0 0h0m0 1h0m0 0h0m0 0h0m0 0h0m0 0h0m1-18h0m0 4h0m0 2h0m0 1h0m0 4h0m0 0h0m0 1h0m0 0h0m0 2h0m0 0h0m0 0h0m0 0h0m0 0h0m0 0h0m0 0h0m0 1h0m0 0h0m0 0h0m0 0h0m0 0h0m0 0h0m0 1h0m0 0h0m0 1h0m0 0h0m0 0h0m0 1h0m0 0h0m1-22h0m0 1h0m0 0h0m0 4h0m0 1h0m0 2h0m0 1h0m0 1h0m0 1h0m0 0h0m0 3h0m0 0h0m0 0h0m0 2h0m0 0h0m0 0h0m0 0h0m0 1h0m0 1h0m0 0h0m0 1h0m0 1h0m0 0h0m0 1h0m1-30h0m0 7h0m0 1h0m0 2h0m0 1h0m0 1h0m0 2h0m0 0h0m0 1h0m0 1h0m0 0h0m0 1h0m0 0h0m0 1h0m0 2h0m0 1h0m0 1h0m0 0h0m0 1h0m0 1h0m0 0h0m0 1h0m0 0h0m0 1h0m0 0h0m0 0h0m0 1h0m0 0h0m0 0h0m0 0h0m0 0h0m0 1h0m0 0h0m0 0h0m0 1h0m1-34h0m0 1h0m0 4h0m0 1h0m0 1h0m0 1h0m0 0h0m0 3h0m0 3h0m0 4h0m0 1h0m0 0h0m0 1h0m0 2h0m0 0h0m0 3h0m0 2h0m0 0h0m0 1h0m0 0h0m0 2h0m0 1h0m0 0h0m0 1h0m0 0h0m0 0h0m0 1h0m0 0h0m0 0h0m0 0h0m1-31h0m0 6h0m0 0h0m0 1h0m0 1h0m0 1h0m0 1h0m0 1h0m0 1h0m0 0h0m0 0h0m0 1h0m0 3h0m0 1h0m0 1h0m0 2h0m0 0h0m0 2h0m0 0h0m0 2h0m0 1h0m0 2h0m0 2h0m0 0h0m0 3h0m1-40h0m0 3h0m0 2h0m0 4h0m0 1h0m0 6h0m0 2h0m0 0h0m0 1h0m0 2h0m0 0h0m0 1h0m0 2h0m0 2h0m0 1h0m0 1h0m0 0h0m0 2h0m0 2h0m0 0h0m0 1h0m0 0h0m0 2h0m0 0h0m0 1h0m0 0h0m0 0h0m0 1h0m0 1h0m0 0h0m0 1h0m1-46h0m0 2h0m0 15h0m0 1h0m0 1h0m0 6h0m0 2h0m0 6h0m0 2h0m0 1h0m0 0h0m0 1h0m0 0h0m0 0h0m0 1h0m0 2h0m0 2h0m0 0h0m0 0h0m0 1h0m0 0h0m0 1h0m0 1h0m0 1h0m1-52h0m0 5h0m0 4h0m0 6h0m0 0h0m0 11h0m0 2h0m0 0h0m0 3h0m0 1h0m0 2h0m0 1h0m0 0h0m0 2h0m0 1h0m0 0h0m0 1h0m0 2h0m0 2h0m0 1h0m0 1h0m0 0h0m0 1h0m0 1h0m0 1h0m0 1h0m0 0h0m1-46h0m0 18h0m0 7h0m0 4h0m0 1h0m0 1h0m0 1h0m0 1h0m0 1h0m0 1h0m0 1h0m0 1h0m0 3h0m0 0h0m0 0h0m0 2h0m0 0h0m0 1h0m0 0h0m0 1h0m0 0h0m0 1h0m0 0h0m0 1h0m0 0h0m0 2h0m1-65h0m0 3h0m0 1h0m0 1h0m0 1h0m0 1h0m0 3h0m0 11h0m0 2h0m0 1h0m0 2h0m0 1h0m0 1h0m0 4h0m0 1h0m0 6h0m0 5h0m0 3h0m0 3h0m0 3h0m0 0h0m0 0h0m0 2h0m0 1h0m0 0h0m0 1h0m0 0h0m0 2h0m0 0h0m0 0h0m0 1h0m0 0h0m0 1h0m0 0h0m0 0h0m0 0h0m0 2h0m1-71h0m0 15h0m0 10h0m0 8h0m0 5h0m0 3h0m0 1h0m0 8h0m0 7h0m0 1h0m0 1h0m0 2h0m0 0h0m0 0h0m0 2h0m0 0h0m0 1h0m0 2h0m0 0h0m0 1h0m0 1h0m0 0h0m0 1h0m0 1h0m0 0h0m1-60h0m0 15h0m0 11h0m0 2h0m0 3h0m0 11h0m0 1h0m0 1h0m0 0h0m0 0h0m0 1h0m0 0h0m0 1h0m0 0h0m0 3h0m0 0h0m0 0h0m0 2h0m0 1h0m0 0h0m0 0h0m0 3h0m0 0h0m0 1h0m0 0h0m0 0h0m1-49h0m0 11h0m0 1h0m0 4h0m0 5h0m0 7h0m0 0h0m0 7h0m0 0h0m0 1h0m0 0h0m0 2h0m0 2h0m0 0h0m0 1h0m0 3h0m0 1h0m0 1h0m0 1h0m0 4h0m1-48h0m0 21h0m0 1h0m0 4h0m0 1h0m0 0h0m0 4h0m0 0h0m0 2h0m0 1h0m0 0h0m0 2h0m0 4h0m0 3h0m0 1h0m0 0h0m0 1h0m0 0h0m0 1h0m0 2h0m0 1h0m1-49h0m0 6h0m0 2h0m0 9h0m0 6h0m0 4h0m0 7h0m0 2h0m0 3h0m0 1h0m0 2h0m0 0h0m0 2h0m0 1h0m0 0h0m0 0h0m0 1h0m0 2h0m1-73h0m0 9h0m0 10h0m0 4h0m0 4h0m0 7h0m0 3h0m0 9h0m0 1h0m0 5h0m0 1h0m0 1h0m0 1h0m0 0h0m0 2h0m0 2h0m0 0h0m0 2h0m0 3h0m0 1h0m0 0h0m0 1h0m0 0h0m0 2h0m0 2h0m0 2h0m1-77h0m0 37h0m0 6h0m0 5h0m0 1h0m0 8h0m0 2h0m0 1h0m0 3h0m0 1h0m0 0h0m0 2h0m0 0h0m0 1h0m0 1h0m0 0h0m0 0h0m0 2h0m0 0h0m0 1h0m0 1h0m0 2h0m0 1h0m0 0h0m1-72h0m0 9h0m0 5h0m0 7h0m0 2h0m0 16h0m0 1h0m0 1h0m0 7h0m0 1h0m0 4h0m0 1h0m0 1h0m0 4h0m0 0h0m0 2h0m0 1h0m0 1h0m0 0h0m0 2h0m0 1h0m0 0h0m0 2h0m0 1h0m0 0h0m0 0h0m0 1h0m1-71h0m0 6h0m0 10h0m0 18h0m0 0h0m0 1h0m0 3h0m0 1h0m0 10h0m0 0h0m0 2h0m0 2h0m0 4h0m0 2h0m0 1h0m0 1h0m0 3h0m0 6h0m0 1h0m0 1h0m1-59h0m0 22h0m0 3h0m0 2h0m0 6h0m0 4h0m0 2h0m0 5h0m0 1h0m0 1h0m0 2h0m0 1h0m0 0h0m0 1h0m0 1h0m0 1h0m0 1h0m0 0h0m0 1h0m0 0h0m0 1h0m0 0h0m0 1h0m0 2h0m0 0h0m1-65h0m0 4h0m0 19h0m0 6h0m0 0h0m0 3h0m0 1h0m0 2h0m0 7h0m0 0h0m0 1h0m0 7h0m0 1h0m0 2h0m0 1h0m0 1h0m0 0h0m0 1h0m0 0h0m0 0h0m1-60h0m0 14h0m0 5h0m0 3h0m0 11h0m0 0h0m0 5h0m0 8h0m0 3h0m0 0h0m0 2h0m0 1h0m0 3h0m0 1h0m0 0h0m0 1h0m0 2h0m0 0h0m0 1h0m0 0h0m0 1h0m0 3h0m0 2h0m0 2h0m0 2h0m1-54h0m0 16h0m0 2h0m0 5h0m0 2h0m0 19h0m0 0h0m0 1h0m0 4h0m0 3h0m1-42h0m0 6h0m0 7h0m0 2h0m0 2h0m0 0h0m0 3h0m0 3h0m0 1h0m0 4h0m0 0h0m0 1h0m0 1h0m0 1h0m0 1h0m0 3h0m0 0h0m0 1h0m0 1h0m0 0h0m0 1h0m0 1h0m1-61h0m0 9h0m0 0h0m0 21h0m0 6h0m0 6h0m0 7h0m0 3h0m0 2h0m0 3h0m1-61h0m0 14h0m0 20h0m0 3h0m0 2h0m0 0h0m0 4h0m0 2h0m0 2h0m0 3h0m0 1h0m0 3h0m0 4h0m0 2h0m0 4h0m1-40h0m0 4h0m0 1h0m0 5h0m0 2h0m0 4h0m0 0h0m0 2h0m0 0h0m0 10h0m0 2h0m0 3h0m0 0h0m1-42h0m0 13h0m0 16h0m0 1h0m0 1h0m0 1h0m0 6h0m1-52h0m0 10h0m0 13h0m0 6h0m0 8h0m0 0h0m0 4h0m0 0h0m0 3h0m0 8h0m0 1h0m0 0h0m0 1h0m0 3h0m1-54h0m0 3h0m0 4h0m0 2h0m0 1h0m0 4h0m0 1h0m0 9h0m0 8h0m0 3h0m0 3h0m0 4h0m0 5h0m0 5h0m0 1h0m0 0h0m0 4h0m1-65h0m0 34h0m0 3h0m0 3h0m0 3h0m0 3h0m0 4h0m0 2h0m0 0h0m0 5h0m1-54h0m0 13h0m0 13h0m0 2h0m0 1h0m0 22h0m0 3h0m0 4h0m1-52h0m0 12h0m0 14h0m0 17h0m0 3h0m1-51h0m0 24h0m0 12h0m0 1h0m0 3h0m0 4h0m0 2h0m0 4h0m1-52h0m0 39h0m0 3h0m0 6h0m0 1h0m1-43h0m0 2h0m0 37h0m1-36h0m0 20h0m0 2h0m0 2h0m0 10h0m0 6h0m1-33h0m0 9h0m0 4h0m0 14h0m0 6h0m0 0h0m1-32h0m0 2h0m0 9h0m0 1h0m1-8h0m0 6h0m1 3h0m0 12h0m0 6h0m0 7h0m1-38h0m0 2h0m1-1h0m0 5h0m0 2h0m0 6h0m0 6h0m1-35h0m1 9h0m1-11h0m0 20h0m3 10h0m2-20h0m1-1h0m3-11h0"/><path d="M1027 336h0m6-2h0m0 16h0m2-24h0m1 17h0m3-7h0m0 1h0m0 15h0m0 4h0m1-34h0m0 37h0m0 4h0m1-21h0m0 9h0m0 1h0m1-29h0m0 10h0m0 8h0m1 9h0m0 9h0m0 2h0m0 1h0m1-17h0m0 25h0m0 0h0m1-40h0m0 22h0m0 3h0m0 3h0m1-28h0m0 14h0m0 2h0m0 8h0m0 5h0m0 5h0m0 1h0m1-25h0m0 12h0m0 1h0m0 3h0m0 7h0m0 4h0m0 5h0m1-41h0m0 2h0m0 5h0m0 4h0m0 3h0m0 10h0m0 17h0m1-42h0m0 12h0m0 15h0m0 12h0m0 0h0m0 1h0m0 0h0m0 10h0m1-40h0m0 1h0m0 5h0m0 22h0m0 1h0m0 1h0m0 0h0m0 9h0m1-34h0m0 8h0m0 2h0m0 7h0m0 5h0m0 2h0m0 9h0m0 0h0m0 1h0m0 0h0m0 8h0m1-51h0m0 4h0m0 35h0m0 4h0m0 2h0m0 1h0m0 0h0m0 3h0m1-39h0m0 14h0m0 3h0m0 9h0m0 2h0m1-37h0m0 29h0m0 3h0m0 1h0m0 1h0m0 4h0m0 3h0m0 0h0m0 1h0m0 5h0m0 4h0m1-61h0m0 24h0m0 1h0m0 0h0m0 15h0m0 2h0m0 7h0m0 5h0m0 6h0m0 4h0m1-22h0m0 3h0m0 0h0m0 0h0m0 4h0m0 1h0m0 3h0m0 3h0m1-19h0m0 7h0m0 0h0m0 2h0m0 4h0m0 3h0m0 0h0m0 2h0m0 1h0m0 0h0m0 9h0m1-67h0m0 15h0m0 19h0m0 5h0m0 6h0m0 1h0m0 3h0m0 2h0m0 8h0m0 0h0m0 0h0m0 1h0m0 5h0m1-68h0m0 3h0m0 31h0m0 3h0m0 3h0m0 3h0m0 2h0m0 4h0m0 5h0m0 0h0m0 2h0m0 3h0m0 8h0m0 0h0m1-38h0m0 0h0m0 3h0m0 10h0m0 6h0m0 3h0m0 2h0m0 2h0m0 6h0m0 1h0m0 0h0m0 0h0m0 3h0m0 0h0m0 1h0m0 2h0m1-53h0m0 14h0m0 14h0m0 2h0m0 1h0m0 2h0m0 2h0m0 2h0m0 12h0m0 1h0m0 1h0m0 1h0m0 1h0m0 1h0m0 1h0m0 4h0m1-40h0m0 9h0m0 0h0m0 2h0m0 5h0m0 7h0m0 3h0m0 1h0m0 2h0m0 0h0m0 1h0m0 3h0m0 6h0m1-68h0m0 38h0m0 1h0m0 1h0m0 2h0m0 7h0m0 3h0m0 1h0m0 0h0m0 9h0m0 1h0m0 3h0m0 0h0m0 2h0m0 1h0m1-68h0m0 3h0m0 13h0m0 5h0m0 1h0m0 7h0m0 7h0m0 2h0m0 13h0m0 1h0m0 6h0m0 0h0m0 2h0m0 1h0m0 1h0m0 1h0m0 2h0m0 2h0m0 1h0m1-73h0m0 2h0m0 24h0m0 3h0m0 3h0m0 10h0m0 2h0m0 0h0m0 1h0m0 2h0m0 8h0m0 6h0m0 2h0m0 2h0m0 1h0m0 2h0m0 2h0m0 1h0m0 2h0m1-71h0m0 3h0m0 5h0m0 19h0m0 9h0m0 0h0m0 11h0m0 0h0m0 3h0m0 1h0m0 0h0m0 1h0m0 1h0m0 3h0m0 1h0m0 3h0m0 3h0m0 1h0m0 3h0m0 1h0m0 1h0m0 0h0m0 3h0m1-75h0m0 11h0m0 2h0m0 2h0m0 11h0m0 3h0m0 9h0m0 6h0m0 0h0m0 5h0m0 2h0m0 3h0m0 6h0m0 0h0m0 1h0m0 1h0m0 3h0m0 1h0m0 3h0m0 1h0m0 4h0m0 0h0m0 2h0m1-52h0m0 5h0m0 13h0m0 1h0m0 2h0m0 2h0m0 1h0m0 5h0m0 4h0m0 1h0m0 2h0m0 2h0m0 4h0m0 0h0m0 4h0m0 2h0m0 0h0m0 2h0m0 5h0m1-63h0m0 22h0m0 4h0m0 4h0m0 5h0m0 4h0m0 0h0m0 0h0m0 0h0m0 1h0m0 6h0m0 1h0m0 1h0m0 1h0m0 2h0m0 1h0m0 1h0m0 0h0m0 1h0m0 0h0m0 0h0m0 1h0m0 0h0m0 1h0m0 0h0m0 0h0m0 2h0m0 0h0m0 1h0m1-37h0m0 5h0m0 8h0m0 6h0m0 1h0m0 1h0m0 6h0m0 6h0m0 0h0m0 5h0m0 1h0m0 1h0m1-49h0m0 4h0m0 0h0m0 1h0m0 4h0m0 2h0m0 10h0m0 2h0m0 1h0m0 2h0m0 9h0m0 3h0m0 2h0m0 0h0m0 3h0m0 1h0m0 0h0m0 2h0m0 0h0m0 2h0m0 2h0m1-62h0m0 12h0m0 3h0m0 0h0m0 7h0m0 1h0m0 10h0m0 3h0m0 9h0m0 3h0m0 1h0m0 1h0m0 1h0m0 1h0m0 1h0m0 2h0m0 1h0m0 1h0m0 2h0m0 0h0m0 1h0m0 0h0m0 1h0m0 1h0m1-41h0m0 1h0m0 4h0m0 8h0m0 0h0m0 2h0m0 2h0m0 4h0m0 5h0m0 0h0m0 2h0m0 0h0m0 0h0m0 0h0m0 0h0m0 3h0m0 1h0m0 1h0m0 0h0m0 2h0m0 2h0m0 1h0m0 0h0m0 1h0m0 0h0m0 0h0m0 1h0m0 3h0m1-36h0m0 14h0m0 2h0m0 3h0m0 0h0m0 3h0m0 1h0m0 1h0m0 0h0m0 1h0m0 1h0m0 1h0m0 1h0m0 0h0m0 1h0m0 0h0m0 1h0m0 1h0m0 0h0m0 1h0m0 1h0m0 0h0m0 2h0m0 1h0m1-45h0m0 0h0m0 5h0m0 0h0m0 2h0m0 1h0m0 0h0m0 5h0m0 1h0m0 10h0m0 4h0m0 2h0m0 2h0m0 1h0m0 1h0m0 1h0m0 5h0m0 0h0m0 0h0m0 0h0m0 1h0m0 3h0m0 0h0m0 0h0m0 1h0m1-43h0m0 11h0m0 0h0m0 3h0m0 8h0m0 5h0m0 2h0m0 3h0m0 0h0m0 0h0m0 4h0m0 0h0m0 1h0m0 0h0m0 1h0m0 3h0m0 1h0m0 1h0m1-38h0m0 6h0m0 5h0m0 0h0m0 2h0m0 0h0m0 4h0m0 1h0m0 2h0m0 2h0m0 1h0m0 2h0m0 0h0m0 1h0m0 1h0m0 2h0m0 4h0m0 0h0m0 1h0m0 0h0m0 1h0m0 0h0m0 1h0m0 0h0m0 0h0m0 1h0m0 1h0m0 0h0m0 1h0m1-32h0m0 6h0m0 1h0m0 0h0m0 5h0m0 1h0m0 0h0m0 0h0m0 1h0m0 3h0m0 1h0m0 0h0m0 0h0m0 1h0m0 2h0m0 2h0m0 0h0m0 1h0m0 2h0m0 2h0m0 1h0m0 0h0m0 1h0m0 0h0m0 1h0m0 0h0m0 1h0m0 0h0m0 0h0m0 1h0m0 0h0m0 1h0m1-33h0m0 11h0m0 2h0m0 0h0m0 6h0m0 1h0m0 0h0m0 1h0m0 0h0m0 1h0m0 0h0m0 2h0m0 1h0m0 1h0m0 0h0m0 1h0m0 0h0m0 1h0m0 1h0m0 1h0m0 0h0m0 1h0m0 0h0m0 1h0m1-24h0m0 7h0m0 5h0m0 0h0m0 0h0m0 0h0m0 2h0m0 1h0m0 1h0m0 0h0m0 2h0m0 1h0m0 0h0m0 1h0m0 0h0m0 0h0m0 0h0m0 1h0m0 0h0m0 1h0m0 0h0m0 0h0m0 1h0m0 1h0m0 0h0m0 0h0m0 0h0m0 1h0m0 1h0m0 0h0m0 0h0m0 0h0m1-19h0m0 7h0m0 1h0m0 1h0m0 4h0m0 1h0m0 0h0m0 0h0m0 1h0m0 1h0m0 0h0m0 1h0m0 0h0m0 0h0m0 0h0m0 0h0m0 1h0m0 0h0m0 0h0m0 0h0m0 1h0m0 0h0m1-14h0m0 1h0m0 4h0m0 2h0m0 1h0m0 0h0m0 0h0m0 2h0m0 0h0m0 0h0m0 0h0m0 1h0m0 0h0m0 0h0m0 1h0m0 0h0m0 0h0m0 0h0m0 0h0m0 1h0m0 0h0m0 0h0m0 0h0m0 0h0m0 2h0m0 0h0m1-14h0m0 4h0m0 0h0m0 1h0m0 1h0m0 0h0m0 2h0m0 1h0m0 0h0m0 0h0m0 1h0m0 1h0m0 0h0m0 1h0m0 0h0m0 0h0m0 0h0m0 1h0m0 0h0m0 0h0m0 0h0m0 0h0m0 1h0m0 0h0m0 0h0m0 0h0m0 0h0m0 1h0m1-11h0m0 3h0m0 0h0m0 0h0m0 1h0m0 0h0m0 0h0m0 1h0m0 0h0m0 1h0m0 0h0m0 1h0m0 1h0m0 0h0m0 1h0m0 0h0m0 0h0m0 0h0m0 0h0m0 0h0m0 0h0m0 1h0m0 0h0m0 0h0m0 0h0m0 0h0m0 1h0m0 0h0m1-12h0m0 1h0m0 0h0m0 2h0m0 0h0m0 1h0m0 1h0m0 0h0m0 1h0m0 0h0m0 0h0m0 1h0m0 0h0m0 0h0m0 1h0m0 0h0m0 2h0m0 1h0m0 0h0m0 0h0m0 0h0m0 0h0m0 0h0m0 0h0m0 1h0m0 0h0m0 0h0m0 0h0m0 0h0m0 0h0m0 0h0m0 0h0m0 0h0m0 0h0m0 0h0m0 0h0m1-12h0m0 0h0m0 1h0m0 0h0m0 1h0m0 0h0m0 0h0m0 0h0m0 1h0m0 2h0m0 1h0m0 0h0m0 0h0m0 1h0m0 0h0m0 0h0m0 2h0m0 0h0m0 0h0m0 0h0m0 0h0m0 1h0m0 0h0m0 0h0m0 0h0m0 0h0m0 0h0m0 0h0m0 1h0m0 0h0m0 0h0m0 0h0m0 0h0m0 0h0m0 0h0m0 0h0m0 0h0m0 0h0m0 0h0m0 1h0m0 0h0m0 0h0m0 0h0m0 0h0m0 0h0m0 0h0m0 0h0m0 0h0m0 1h0m0 0h0m0 0h0m1-14h0m0 0h0m0 1h0m0 0h0m0 3h0m0 1h0m0 0h0m0 1h0m0 0h0m0 0h0m0 1h0m0 1h0m0 0h0m0 0h0m0 0h0m0 1h0m0 0h0m0 1h0m0 0h0m0 0h0m0 0h0m0 1h0m0 0h0m0 0h0m0 1h0m0 0h0m0 0h0m0 0h0m0 0h0m0 0h0m0 0h0m0 0h0m0 1h0m0 0h0m0 0h0m0 0h0m0 0h0m0 0h0m0 0h0m0 0h0m0 0h0m0 0h0m0 0h0m0 0h0m0 0h0m0 0h0m0 0h0m0 1h0m0 0h0m0 0h0m0 0h0m0 0h0m0 0h0m0 0h0m0 0h0m0 0h0m0 0h0m0 0h0m0 0h0m1-13h0m0 0h0m0 2h0m0 1h0m0 0h0m0 1h0m0 1h0m0 0h0m0 0h0m0 2h0m0 0h0m0 0h0m0 1h0m0 0h0m0 1h0m0 0h0m0 0h0m0 0h0m0 0h0m0 1h0m0 0h0m0 0h0m0 0h0m0 1h0m0 0h0m0 0h0m0 0h0m0 0h0m0 0h0m0 1h0m0 0h0m0 0h0m0 0h0m0 0h0m0 0h0m0 0h0m0 0h0m0 0h0m0 0h0m0 0h0m0 0h0m0 0h0m0 0h0m0 0h0m0 0h0m0 0h0m0 0h0m0 0h0m0 1h0m0 0h0m0 0h0m0 0h0m0 0h0m0 0h0m0 0h0m0 0h0m0 0h0m0 0h0m0 0h0m1-11h0m0 1h0m0 0h0m0 1h0m0 0h0m0 2h0m0 0h0m0 0h0m0 1h0m0 0h0m0 1h0m0 0h0m0 1h0m0 0h0m0 0h0m0 0h0m0 0h0m0 0h0m0 0h0m0 1h0m0 1h0m0 0h0m0 0h0m0 0h0m0 0h0m0 0h0m0 0h0m0 0h0m0 1h0m0 0h0m0 0h0m0 0h0m0 0h0m0 0h0m0 0h0m0 0h0m0 0h0m0 0h0m0 0h0m0 0h0m0 0h0m0 1h0m0 0h0m1-14h0m0 2h0m0 0h0m0 0h0m0 0h0m0 2h0m0 1h0m0 0h0m0 1h0m0 0h0m0 0h0m0 0h0m0 1h0m0 0h0m0 1h0m0 1h0m0 0h0m0 1h0m0 0h0m0 0h0m0 0h0m0 0h0m0 0h0m0 1h0m0 0h0m0 0h0m0 0h0m0 0h0m0 0h0m0 0h0m0 1h0m0 0h0m0 0h0m0 0h0m0 0h0m0 1h0m0 0h0m0 0h0m0 0h0m0 0h0m0 0h0m0 0h0m1-12h0m0 0h0m0 1h0m0 1h0m0 1h0m0 0h0m0 0h0m0 1h0m0 1h0m0 1h0m0 0h0m0 0h0m0 1h0m0 0h0m0 0h0m0 0h0m0 0h0m0 1h0m0 0h0m0 0h0m0 1h0m0 0h0m0 0h0m0 0h0m0 0h0m0 0h0m0 1h0m0 0h0m0 0h0m0 0h0m0 0h0m0 0h0m0 0h0m0 0h0m0 1h0m0 0h0m0 0h0m0 0h0m0 0h0m0 0h0m0 1h0m1-12h0m0 0h0m0 2h0m0 0h0m0 1h0m0 0h0m0 0h0m0 0h0m0 1h0m0 1h0m0 0h0m0 0h0m0 0h0m0 0h0m0 1h0m0 0h0m0 0h0m0 1h0m0 0h0m0 0h0m0 1h0m0 0h0m0 0h0m0 0h0m0 0h0m0 1h0m0 0h0m0 0h0m0 0h0m0 1h0m0 0h0m0 1h0m0 0h0m0 0h0m0 0h0m1-12h0m0 1h0m0 0h0m0 2h0m0 0h0m0 1h0m0 0h0m0 1h0m0 0h0m0 1h0m0 0h0m0 1h0m0 0h0m0 0h0m0 0h0m0 0h0m0 0h0m0 2h0m0 0h0m0 0h0m0 1h0m0 0h0m0 0h0m0 0h0m0 0h0m0 0h0m0 0h0m0 1h0m0 0h0m1-25h0m0 2h0m0 2h0m0 3h0m0 1h0m0 2h0m0 1h0m0 0h0m0 0h0m0 1h0m0 3h0m0 2h0m0 0h0m0 0h0m0 0h0m0 3h0m0 0h0m0 1h0m0 0h0m0 0h0m0 1h0m0 1h0m0 0h0m0 1h0m0 0h0m0 1h0m1-24h0m0 1h0m0 5h0m0 0h0m0 1h0m0 1h0m0 3h0m0 1h0m0 0h0m0 1h0m0 1h0m0 1h0m0 0h0m0 3h0m0 1h0m0 1h0m0 1h0m0 1h0m0 0h0m0 0h0m0 1h0m1-29h0m0 3h0m0 2h0m0 0h0m0 2h0m0 0h0m0 2h0m0 1h0m0 2h0m0 4h0m0 0h0m0 1h0m0 0h0m0 1h0m0 1h0m0 1h0m0 2h0m0 0h0m0 1h0m0 1h0m0 2h0m0 0h0m0 0h0m0 0h0m0 1h0m0 0h0m0 2h0m0 0h0m0 0h0m0 0h0m1-30h0m0 7h0m0 3h0m0 1h0m0 2h0m0 1h0m0 2h0m0 0h0m0 1h0m0 0h0m0 1h0m0 4h0m0 2h0m0 1h0m0 2h0m0 0h0m0 0h0m0 0h0m0 1h0m0 0h0m0 1h0m0 0h0m1-35h0m0 0h0m0 2h0m0 0h0m0 6h0m0 2h0m0 3h0m0 1h0m0 2h0m0 0h0m0 2h0m0 3h0m0 1h0m0 1h0m0 1h0m0 1h0m0 2h0m0 0h0m0 0h0m0 2h0m0 1h0m0 0h0m0 0h0m0 2h0m0 0h0m0 0h0m0 2h0m0 0h0m0 0h0m1-40h0m0 0h0m0 3h0m0 8h0m0 8h0m0 0h0m0 2h0m0 3h0m0 2h0m0 1h0m0 0h0m0 2h0m0 0h0m0 1h0m0 1h0m0 2h0m0 2h0m0 1h0m0 1h0m0 0h0m0 0h0m0 1h0m0 0h0m0 0h0m0 0h0m0 1h0m0 2h0m1-53h0m0 1h0m0 4h0m0 2h0m0 7h0m0 9h0m0 1h0m0 0h0m0 0h0m0 4h0m0 0h0m0 5h0m0 1h0m0 0h0m0 0h0m0 2h0m0 2h0m0 0h0m0 1h0m0 0h0m0 1h0m0 1h0m0 0h0m0 1h0m0 1h0m0 3h0m0 1h0m0 0h0m0 0h0m0 0h0m0 1h0m0 0h0m0 1h0m0 0h0m0 1h0m0 1h0m1-55h0m0 7h0m0 2h0m0 0h0m0 10h0m0 0h0m0 12h0m0 2h0m0 5h0m0 3h0m0 1h0m0 1h0m0 0h0m0 0h0m0 0h0m0 2h0m0 2h0m0 0h0m0 0h0m0 1h0m0 0h0m0 1h0m0 1h0m0 0h0m0 0h0m0 0h0m0 3h0m0 0h0m0 1h0m0 0h0m0 0h0m1-60h0m0 10h0m0 1h0m0 2h0m0 4h0m0 7h0m0 4h0m0 2h0m0 8h0m0 0h0m0 1h0m0 4h0m0 2h0m0 0h0m0 1h0m0 1h0m0 1h0m0 1h0m0 1h0m0 1h0m0 2h0m0 0h0m0 2h0m0 0h0m0 1h0m0 1h0m0 1h0m0 0h0m0 0h0m0 1h0m0 1h0m1-38h0m0 12h0m0 1h0m0 3h0m0 0h0m0 3h0m0 1h0m0 2h0m0 1h0m0 1h0m0 5h0m0 0h0m0 1h0m0 0h0m0 1h0m0 1h0m0 1h0m0 2h0m0 0h0m0 3h0m0 0h0m1-69h0m0 8h0m0 1h0m0 3h0m0 7h0m0 1h0m0 7h0m0 1h0m0 1h0m0 2h0m0 9h0m0 7h0m0 2h0m0 1h0m0 4h0m0 0h0m0 4h0m0 2h0m0 1h0m0 1h0m0 0h0m0 0h0m0 1h0m0 1h0m0 0h0m0 0h0m0 2h0m0 1h0m0 0h0m0 2h0m1-53h0m0 15h0m0 3h0m0 2h0m0 1h0m0 5h0m0 4h0m0 1h0m0 4h0m0 1h0m0 3h0m0 1h0m0 1h0m0 2h0m0 2h0m0 1h0m0 1h0m0 1h0m1-35h0m0 3h0m0 6h0m0 4h0m0 7h0m0 1h0m0 6h0m0 2h0m0 1h0m0 1h0m0 2h0m0 1h0m0 1h0m0 1h0m0 1h0m1-59h0m0 25h0m0 1h0m0 0h0m0 1h0m0 3h0m0 2h0m0 2h0m0 0h0m0 0h0m0 5h0m0 2h0m0 0h0m0 6h0m0 1h0m0 2h0m0 4h0m0 0h0m1-59h0m0 3h0m0 0h0m0 3h0m0 8h0m0 1h0m0 9h0m0 2h0m0 0h0m0 9h0m0 13h0m0 1h0m0 1h0m0 0h0m0 2h0m0 1h0m0 2h0m0 1h0m0 1h0m0 2h0m0 0h0m0 1h0m0 0h0m0 2h0m1-68h0m0 17h0m0 9h0m0 7h0m0 2h0m0 3h0m0 5h0m0 0h0m0 2h0m0 1h0m0 2h0m0 2h0m0 7h0m0 2h0m0 3h0m0 0h0m0 1h0m0 0h0m0 1h0m0 1h0m0 0h0m0 3h0m0 0h0m1-56h0m0 20h0m0 9h0m0 4h0m0 0h0m0 0h0m0 7h0m0 1h0m0 0h0m0 0h0m0 1h0m0 0h0m0 1h0m0 3h0m0 3h0m0 4h0m1-59h0m0 8h0m0 18h0m0 5h0m0 3h0m0 7h0m0 3h0m0 12h0m0 0h0m0 0h0m0 1h0m0 1h0m0 4h0m1-74h0m0 25h0m0 2h0m0 7h0m0 4h0m0 6h0m0 3h0m0 1h0m0 0h0m0 12h0m0 2h0m0 2h0m0 6h0m0 1h0m0 0h0m1-47h0m0 13h0m0 7h0m0 3h0m0 0h0m0 9h0m0 1h0m0 0h0m0 3h0m0 4h0m0 0h0m0 1h0m0 1h0m0 1h0m0 0h0m1-60h0m0 16h0m0 7h0m0 27h0m0 4h0m0 1h0m0 3h0m0 2h0m0 1h0m1-62h0m0 12h0m0 7h0m0 2h0m0 3h0m0 15h0m0 6h0m0 2h0m0 5h0m0 5h0m0 1h0m0 0h0m0 3h0m0 1h0m0 2h0m1-67h0m0 22h0m0 5h0m0 11h0m0 0h0m0 2h0m0 0h0m0 1h0m0 0h0m0 2h0m0 2h0m0 7h0m0 4h0m0 5h0m0 3h0m0 1h0m0 1h0m0 0h0m1-46h0m0 8h0m0 1h0m0 18h0m0 4h0m0 8h0m0 5h0m1-53h0m0 35h0m0 1h0m0 4h0m0 2h0m0 6h0m1-49h0m0 1h0m0 25h0m0 8h0m0 5h0m0 4h0m0 4h0m0 2h0m0 4h0m0 1h0m1-42h0m0 18h0m0 1h0m0 0h0m0 4h0m0 11h0m0 2h0m0 3h0m1-66h0m0 42h0m0 1h0m0 1h0m0 0h0m0 3h0m0 3h0m0 5h0m0 3h0m0 0h0m0 2h0m0 3h0m0 1h0m1-57h0m0 3h0m0 12h0m0 3h0m0 2h0m0 10h0m0 3h0m0 0h0m0 1h0m0 4h0m0 2h0m0 2h0m0 0h0m0 4h0m0 3h0m1-28h0m0 10h0m0 3h0m0 8h0m0 3h0m0 2h0m0 1h0m0 11h0m1-49h0m0 15h0m0 3h0m0 15h0m0 1h0m0 6h0m1-29h0m0 15h0m0 7h0m0 0h0m0 4h0m1-28h0m0 23h0m1-1h0m0 2h0m0 6h0m0 2h0m1-58h0m0 8h0m0 13h0m0 5h0m0 1h0m0 17h0m0 2h0m0 3h0m0 1h0m1-21h0m0 5h0m1-10h0m0 4h0m0 9h0m0 14h0m1-17h0m0 20h0m1-50h0m0 3h0m1 22h0m0 4h0m0 16h0m1-34h0m0 2h0m0 21h0m0 10h0m1-31h0m0 31h0m2-34h0m0 4h0m0 3h0m1 29h0m1-33h0m0 15h0m1-17h0m1-5h0m3 4h0m1-6h0m1-2h0"/><path d="M1028 321h0m1 39h0m3-16h0m3-23h0m0 3h0m1 11h0m1 1h0m0 12h0m0 14h0m0 5h0m1-17h0m1 6h0m0 5h0m0 6h0m1-46h0m1 20h0m0 10h0m0 1h0m0 4h0m1-36h0m0 15h0m0 4h0m0 4h0m0 24h0m1-32h0m1-9h0m0 12h0m0 12h0m0 5h0m0 4h0m0 0h0m0 7h0m1-11h0m0 4h0m0 14h0m1-52h0m0 7h0m0 13h0m0 12h0m0 13h0m0 1h0m0 3h0m1-27h0m0 2h0m0 2h0m0 8h0m1-31h0m0 2h0m0 29h0m0 8h0m0 6h0m0 0h0m1-26h0m0 0h0m0 14h0m0 4h0m0 15h0m0 2h0m1-49h0m0 15h0m0 12h0m0 1h0m0 5h0m0 0h0m0 2h0m0 4h0m0 0h0m0 3h0m0 7h0m0 5h0m1-63h0m0 50h0m0 1h0m0 1h0m0 1h0m0 6h0m1-44h0m0 10h0m0 12h0m0 26h0m0 1h0m1-48h0m0 9h0m0 5h0m0 19h0m0 0h0m0 2h0m0 5h0m0 1h0m0 10h0m1-49h0m0 19h0m0 5h0m0 8h0m0 4h0m0 3h0m0 5h0m0 4h0m1-58h0m0 11h0m0 19h0m0 3h0m0 4h0m0 12h0m0 2h0m0 1h0m0 2h0m0 3h0m0 4h0m1-41h0m0 2h0m0 5h0m0 6h0m0 1h0m0 7h0m0 8h0m0 3h0m0 7h0m1-32h0m0 1h0m0 1h0m0 6h0m0 5h0m0 0h0m0 3h0m0 0h0m0 8h0m0 6h0m0 1h0m0 0h0m0 2h0m1-61h0m0 21h0m0 6h0m0 4h0m0 11h0m0 5h0m0 1h0m0 2h0m0 0h0m0 2h0m0 3h0m0 2h0m0 0h0m0 1h0m0 2h0m0 5h0m1-67h0m0 3h0m0 6h0m0 32h0m0 1h0m0 1h0m0 4h0m0 3h0m0 4h0m0 0h0m0 3h0m0 1h0m0 2h0m0 2h0m0 0h0m0 1h0m1-42h0m0 14h0m0 6h0m0 2h0m0 1h0m0 4h0m0 7h0m0 1h0m0 4h0m0 2h0m0 2h0m0 2h0m0 1h0m1-40h0m0 5h0m0 8h0m0 0h0m0 0h0m0 8h0m0 9h0m0 1h0m0 1h0m0 2h0m0 3h0m0 1h0m1-38h0m0 8h0m0 6h0m0 12h0m0 3h0m0 2h0m0 0h0m0 1h0m0 0h0m0 2h0m0 2h0m0 0h0m0 2h0m0 1h0m0 1h0m0 2h0m0 1h0m1-61h0m0 2h0m0 6h0m0 2h0m0 3h0m0 21h0m0 4h0m0 1h0m0 5h0m0 1h0m0 2h0m0 1h0m0 1h0m0 2h0m0 8h0m0 0h0m1-44h0m0 2h0m0 15h0m0 5h0m0 2h0m0 4h0m0 3h0m0 5h0m0 0h0m0 1h0m0 2h0m0 1h0m0 0h0m1-48h0m0 4h0m0 10h0m0 16h0m0 1h0m0 1h0m0 5h0m0 1h0m0 0h0m0 0h0m0 5h0m0 2h0m0 1h0m0 0h0m0 0h0m0 2h0m0 1h0m0 2h0m0 0h0m0 1h0m0 2h0m1-50h0m0 3h0m0 20h0m0 7h0m0 0h0m0 0h0m0 8h0m0 1h0m0 1h0m0 1h0m0 1h0m0 0h0m0 2h0m0 2h0m0 0h0m0 1h0m0 0h0m0 2h0m0 0h0m0 1h0m0 0h0m0 1h0m0 0h0m0 1h0m0 0h0m1-74h0m0 21h0m0 11h0m0 1h0m0 0h0m0 4h0m0 7h0m0 1h0m0 1h0m0 0h0m0 2h0m0 3h0m0 3h0m0 5h0m0 0h0m0 2h0m0 2h0m0 2h0m0 1h0m0 2h0m0 4h0m1-70h0m0 17h0m0 6h0m0 7h0m0 6h0m0 16h0m0 7h0m0 1h0m0 4h0m0 1h0m0 1h0m0 1h0m0 0h0m0 3h0m0 0h0m0 0h0m0 1h0m0 0h0m0 0h0m0 1h0m1-76h0m0 7h0m0 25h0m0 8h0m0 3h0m0 2h0m0 9h0m0 3h0m0 2h0m0 2h0m0 2h0m0 3h0m0 0h0m0 1h0m0 0h0m0 1h0m0 2h0m0 3h0m0 0h0m0 0h0m0 0h0m0 1h0m0 2h0m0 0h0m1-54h0m0 12h0m0 8h0m0 3h0m0 3h0m0 4h0m0 2h0m0 1h0m0 7h0m0 2h0m0 1h0m0 3h0m0 0h0m0 2h0m0 1h0m0 0h0m0 0h0m0 1h0m0 1h0m0 3h0m0 1h0m0 1h0m1-45h0m0 7h0m0 6h0m0 13h0m0 6h0m0 2h0m0 1h0m0 1h0m0 3h0m0 0h0m0 2h0m0 0h0m0 1h0m0 0h0m0 1h0m0 0h0m0 1h0m0 0h0m0 1h0m0 1h0m1-61h0m0 5h0m0 23h0m0 4h0m0 1h0m0 13h0m0 1h0m0 3h0m0 0h0m0 1h0m0 1h0m0 1h0m0 0h0m0 1h0m0 0h0m0 2h0m0 0h0m0 0h0m0 1h0m0 0h0m0 1h0m0 2h0m0 0h0m0 2h0m1-64h0m0 5h0m0 1h0m0 2h0m0 12h0m0 11h0m0 3h0m0 0h0m0 5h0m0 8h0m0 0h0m0 1h0m0 0h0m0 8h0m0 3h0m0 1h0m0 1h0m0 2h0m0 0h0m0 1h0m0 0h0m0 1h0m1-43h0m0 5h0m0 0h0m0 5h0m0 6h0m0 1h0m0 1h0m0 1h0m0 1h0m0 2h0m0 1h0m0 0h0m0 2h0m0 1h0m0 0h0m0 0h0m0 1h0m0 2h0m0 3h0m0 1h0m0 1h0m0 0h0m0 3h0m0 1h0m0 1h0m0 0h0m0 2h0m0 1h0m0 0h0m0 1h0m0 0h0m0 0h0m0 2h0m1-53h0m0 9h0m0 4h0m0 3h0m0 9h0m0 2h0m0 1h0m0 2h0m0 6h0m0 1h0m0 0h0m0 1h0m0 1h0m0 2h0m0 1h0m0 3h0m0 1h0m0 2h0m0 1h0m0 0h0m0 2h0m1-42h0m0 1h0m0 7h0m0 5h0m0 2h0m0 6h0m0 1h0m0 2h0m0 1h0m0 0h0m0 0h0m0 2h0m0 0h0m0 0h0m0 1h0m0 0h0m0 0h0m0 2h0m0 2h0m0 2h0m0 5h0m0 0h0m0 0h0m0 0h0m0 1h0m0 1h0m0 0h0m0 1h0m0 0h0m0 0h0m0 1h0m0 1h0m1-33h0m0 1h0m0 10h0m0 2h0m0 1h0m0 1h0m0 1h0m0 0h0m0 0h0m0 0h0m0 2h0m0 0h0m0 1h0m0 2h0m0 1h0m0 1h0m0 0h0m0 1h0m0 0h0m0 1h0m0 1h0m0 1h0m0 0h0m0 2h0m0 1h0m0 0h0m0 1h0m0 0h0m0 1h0m0 0h0m0 0h0m0 0h0m0 0h0m0 1h0m0 0h0m0 0h0m1-37h0m0 2h0m0 12h0m0 3h0m0 3h0m0 0h0m0 2h0m0 1h0m0 2h0m0 0h0m0 2h0m0 1h0m0 0h0m0 3h0m0 0h0m0 0h0m0 2h0m0 1h0m0 0h0m0 0h0m0 0h0m0 1h0m0 0h0m0 0h0m0 2h0m0 0h0m1-26h0m0 9h0m0 1h0m0 1h0m0 0h0m0 2h0m0 1h0m0 1h0m0 0h0m0 0h0m0 0h0m0 1h0m0 1h0m0 0h0m0 1h0m0 3h0m0 1h0m0 0h0m0 0h0m0 1h0m0 0h0m0 2h0m0 0h0m0 0h0m0 1h0m0 1h0m0 0h0m0 0h0m1-27h0m0 5h0m0 0h0m0 1h0m0 1h0m0 1h0m0 4h0m0 0h0m0 0h0m0 1h0m0 1h0m0 3h0m0 0h0m0 1h0m0 1h0m0 0h0m0 0h0m0 1h0m0 3h0m0 1h0m0 0h0m0 1h0m0 0h0m0 0h0m0 1h0m0 1h0m0 0h0m0 0h0m1-13h0m0 0h0m0 2h0m0 0h0m0 2h0m0 1h0m0 0h0m0 0h0m0 1h0m0 3h0m0 2h0m0 0h0m0 1h0m0 0h0m0 1h0m0 0h0m0 1h0m0 0h0m0 0h0m0 0h0m0 2h0m1-12h0m0 0h0m0 1h0m0 0h0m0 1h0m0 1h0m0 0h0m0 0h0m0 1h0m0 1h0m0 0h0m0 0h0m0 0h0m0 0h0m0 0h0m0 1h0m0 1h0m0 0h0m0 0h0m0 0h0m0 0h0m0 1h0m0 0h0m0 0h0m0 0h0m0 0h0m0 0h0m0 0h0m0 1h0m0 0h0m0 1h0m0 0h0m0 0h0m0 1h0m0 0h0m1-10h0m0 1h0m0 0h0m0 0h0m0 0h0m0 2h0m0 1h0m0 2h0m0 0h0m0 0h0m0 0h0m0 0h0m0 1h0m0 0h0m0 1h0m0 1h0m0 0h0m0 0h0m0 0h0m0 1h0m0 0h0m0 0h0m0 1h0m0 0h0m0 0h0m0 0h0m1-10h0m0 1h0m0 0h0m0 3h0m0 1h0m0 0h0m0 0h0m0 0h0m0 0h0m0 0h0m0 1h0m0 0h0m0 0h0m0 1h0m0 0h0m0 0h0m0 1h0m0 1h0m0 0h0m0 0h0m0 0h0m0 0h0m0 0h0m0 0h0m0 0h0m0 1h0m0 0h0m0 0h0m0 0h0m0 0h0m0 1h0m0 0h0m0 0h0m0 0h0m0 0h0m1-11h0m0 1h0m0 2h0m0 0h0m0 2h0m0 0h0m0 0h0m0 1h0m0 1h0m0 0h0m0 0h0m0 1h0m0 0h0m0 1h0m0 0h0m0 0h0m0 0h0m0 0h0m0 0h0m0 0h0m0 0h0m0 0h0m0 1h0m0 0h0m0 0h0m0 0h0m0 0h0m0 0h0m0 0h0m0 0h0m0 0h0m0 1h0m0 0h0m0 0h0m1-12h0m0 2h0m0 0h0m0 0h0m0 1h0m0 1h0m0 0h0m0 0h0m0 1h0m0 0h0m0 1h0m0 1h0m0 0h0m0 0h0m0 1h0m0 0h0m0 1h0m0 1h0m0 0h0m0 0h0m0 0h0m0 1h0m0 0h0m0 0h0m0 0h0m0 0h0m0 0h0m0 0h0m0 0h0m0 0h0m0 1h0m0 0h0m0 0h0m0 0h0m0 0h0m0 0h0m0 0h0m0 0h0m0 0h0m0 0h0m0 0h0m0 0h0m0 0h0m0 1h0m0 0h0m0 0h0m0 0h0m0 0h0m1-13h0m0 1h0m0 0h0m0 2h0m0 2h0m0 0h0m0 1h0m0 0h0m0 1h0m0 0h0m0 0h0m0 0h0m0 1h0m0 0h0m0 1h0m0 0h0m0 0h0m0 1h0m0 0h0m0 0h0m0 0h0m0 1h0m0 0h0m0 0h0m0 0h0m0 0h0m0 0h0m0 1h0m0 0h0m0 0h0m0 0h0m0 0h0m0 0h0m0 0h0m0 0h0m0 0h0m0 0h0m0 0h0m0 0h0m0 0h0m0 1h0m0 0h0m0 0h0m0 0h0m0 0h0m0 0h0m0 0h0m0 0h0m0 0h0m0 0h0m0 0h0m0 0h0m0 0h0m0 0h0m0 0h0m0 0h0m0 0h0m0 0h0m0 0h0m0 0h0m0 0h0m1-12h0m0 1h0m0 3h0m0 1h0m0 0h0m0 0h0m0 0h0m0 1h0m0 0h0m0 1h0m0 0h0m0 1h0m0 0h0m0 0h0m0 0h0m0 1h0m0 0h0m0 1h0m0 0h0m0 0h0m0 0h0m0 0h0m0 0h0m0 0h0m0 0h0m0 0h0m0 0h0m0 0h0m0 1h0m0 0h0m0 0h0m0 0h0m0 0h0m0 0h0m0 0h0m0 0h0m0 0h0m0 0h0m0 0h0m0 0h0m0 1h0m0 0h0m0 0h0m0 0h0m0 0h0m0 0h0m0 0h0m0 0h0m0 0h0m0 0h0m0 0h0m0 0h0m0 0h0m1-13h0m0 1h0m0 1h0m0 1h0m0 1h0m0 1h0m0 0h0m0 2h0m0 0h0m0 0h0m0 1h0m0 0h0m0 1h0m0 0h0m0 0h0m0 1h0m0 0h0m0 0h0m0 0h0m0 0h0m0 1h0m0 0h0m0 0h0m0 0h0m0 0h0m0 0h0m0 0h0m0 0h0m0 0h0m0 0h0m0 0h0m0 0h0m0 0h0m0 1h0m0 0h0m0 0h0m0 0h0m0 0h0m0 0h0m0 0h0m0 0h0m0 0h0m0 0h0m0 0h0m0 0h0m0 0h0m0 0h0m0 1h0m0 0h0m0 0h0m0 0h0m0 0h0m0 0h0m1-12h0m0 0h0m0 2h0m0 0h0m0 1h0m0 0h0m0 0h0m0 1h0m0 0h0m0 2h0m0 0h0m0 1h0m0 0h0m0 1h0m0 1h0m0 0h0m0 0h0m0 0h0m0 0h0m0 0h0m0 0h0m0 0h0m0 1h0m0 0h0m0 0h0m0 0h0m0 1h0m0 0h0m0 0h0m0 0h0m1-11h0m0 2h0m0 1h0m0 1h0m0 0h0m0 0h0m0 1h0m0 2h0m0 0h0m0 0h0m0 0h0m0 0h0m0 1h0m0 0h0m0 0h0m0 0h0m0 0h0m0 0h0m0 1h0m0 0h0m0 0h0m0 0h0m0 1h0m0 0h0m0 0h0m0 0h0m0 0h0m0 0h0m0 0h0m0 1h0m1-13h0m0 1h0m0 1h0m0 1h0m0 1h0m0 0h0m0 2h0m0 0h0m0 1h0m0 0h0m0 0h0m0 0h0m0 1h0m0 0h0m0 1h0m0 0h0m0 1h0m0 0h0m0 0h0m0 0h0m0 1h0m0 0h0m0 0h0m0 1h0m0 0h0m0 0h0m0 0h0m0 0h0m0 0h0m0 0h0m0 0h0m0 0h0m1-21h0m0 5h0m0 3h0m0 3h0m0 0h0m0 2h0m0 3h0m0 0h0m0 0h0m0 1h0m0 0h0m0 0h0m0 0h0m0 1h0m0 0h0m0 0h0m0 0h0m0 0h0m0 0h0m0 0h0m0 1h0m0 1h0m0 0h0m0 0h0m0 0h0m0 0h0m0 1h0m0 0h0m1-20h0m0 2h0m0 1h0m0 1h0m0 3h0m0 1h0m0 0h0m0 0h0m0 1h0m0 0h0m0 2h0m0 0h0m0 1h0m0 0h0m0 1h0m0 0h0m0 4h0m0 1h0m0 0h0m0 0h0m0 1h0m1-21h0m0 1h0m0 2h0m0 3h0m0 1h0m0 1h0m0 0h0m0 1h0m0 0h0m0 2h0m0 1h0m0 0h0m0 0h0m0 0h0m0 1h0m0 0h0m0 0h0m0 1h0m0 1h0m0 1h0m0 1h0m0 0h0m0 0h0m0 1h0m0 0h0m0 0h0m0 1h0m0 0h0m0 0h0m0 0h0m0 0h0m0 0h0m1-36h0m0 4h0m0 7h0m0 2h0m0 1h0m0 0h0m0 3h0m0 1h0m0 1h0m0 0h0m0 1h0m0 0h0m0 2h0m0 0h0m0 4h0m0 1h0m0 0h0m0 1h0m0 0h0m0 1h0m0 1h0m0 0h0m0 1h0m0 0h0m0 1h0m0 1h0m0 0h0m0 0h0m0 0h0m0 0h0m0 1h0m0 1h0m0 0h0m0 0h0m0 0h0m0 0h0m0 1h0m0 0h0m0 0h0m0 1h0m1-40h0m0 2h0m0 4h0m0 3h0m0 6h0m0 1h0m0 4h0m0 0h0m0 4h0m0 1h0m0 1h0m0 0h0m0 3h0m0 0h0m0 1h0m0 1h0m0 0h0m0 1h0m0 1h0m0 1h0m0 0h0m0 0h0m0 0h0m0 2h0m0 0h0m0 0h0m0 0h0m0 0h0m0 1h0m0 1h0m0 2h0m1-41h0m0 6h0m0 13h0m0 2h0m0 1h0m0 0h0m0 3h0m0 2h0m0 2h0m0 3h0m0 0h0m0 3h0m0 0h0m0 1h0m0 1h0m0 1h0m0 0h0m0 0h0m0 0h0m0 2h0m1-43h0m0 14h0m0 3h0m0 6h0m0 1h0m0 3h0m0 1h0m0 0h0m0 1h0m0 0h0m0 3h0m0 0h0m0 1h0m0 0h0m0 1h0m0 1h0m0 2h0m0 0h0m0 0h0m0 0h0m0 1h0m0 2h0m0 0h0m0 0h0m0 1h0m0 0h0m1-37h0m0 2h0m0 0h0m0 6h0m0 4h0m0 0h0m0 1h0m0 0h0m0 2h0m0 1h0m0 1h0m0 4h0m0 0h0m0 1h0m0 0h0m0 1h0m0 1h0m0 2h0m0 2h0m0 0h0m0 1h0m0 0h0m0 0h0m0 1h0m0 1h0m0 0h0m0 0h0m0 1h0m0 1h0m0 0h0m0 1h0m0 1h0m0 1h0m0 1h0m1-61h0m0 3h0m0 4h0m0 8h0m0 10h0m0 0h0m0 0h0m0 7h0m0 6h0m0 0h0m0 2h0m0 3h0m0 1h0m0 1h0m0 3h0m0 0h0m0 1h0m0 2h0m0 2h0m0 0h0m0 0h0m0 1h0m0 1h0m0 0h0m0 2h0m0 0h0m0 1h0m0 0h0m0 0h0m0 2h0m0 0h0m1-76h0m0 14h0m0 9h0m0 2h0m0 7h0m0 3h0m0 6h0m0 2h0m0 7h0m0 0h0m0 6h0m0 1h0m0 4h0m0 1h0m0 1h0m0 0h0m0 2h0m0 2h0m0 1h0m0 1h0m0 1h0m0 0h0m0 0h0m0 1h0m0 1h0m0 1h0m0 3h0m1-58h0m0 5h0m0 5h0m0 6h0m0 1h0m0 7h0m0 0h0m0 1h0m0 7h0m0 0h0m0 1h0m0 4h0m0 1h0m0 0h0m0 0h0m0 1h0m0 0h0m0 0h0m0 1h0m0 4h0m0 1h0m0 2h0m0 2h0m0 3h0m0 1h0m0 4h0m0 1h0m1-61h0m0 18h0m0 15h0m0 4h0m0 5h0m0 0h0m0 2h0m0 1h0m0 1h0m0 2h0m0 2h0m0 1h0m0 0h0m0 1h0m0 2h0m0 2h0m0 0h0m0 1h0m0 0h0m0 2h0m0 1h0m1-58h0m0 4h0m0 0h0m0 17h0m0 7h0m0 5h0m0 2h0m0 1h0m0 0h0m0 2h0m0 0h0m0 1h0m0 4h0m0 2h0m0 0h0m0 4h0m0 1h0m0 1h0m0 3h0m0 1h0m0 1h0m0 1h0m0 0h0m1-71h0m0 8h0m0 4h0m0 9h0m0 15h0m0 3h0m0 2h0m0 9h0m0 3h0m0 3h0m0 1h0m0 0h0m0 4h0m0 1h0m0 1h0m0 1h0m0 1h0m0 0h0m0 1h0m0 1h0m0 0h0m0 1h0m0 1h0m1-45h0m0 22h0m0 2h0m0 5h0m0 2h0m0 7h0m0 1h0m0 0h0m0 0h0m0 1h0m0 1h0m0 0h0m0 1h0m0 1h0m0 0h0m1-56h0m0 0h0m0 12h0m0 7h0m0 3h0m0 7h0m0 15h0m0 0h0m0 1h0m0 5h0m0 2h0m0 0h0m0 2h0m0 0h0m0 1h0m0 1h0m1-64h0m0 11h0m0 0h0m0 8h0m0 0h0m0 5h0m0 3h0m0 1h0m0 2h0m0 7h0m0 1h0m0 2h0m0 2h0m0 2h0m0 6h0m0 1h0m0 1h0m0 2h0m0 1h0m0 0h0m0 2h0m0 1h0m0 2h0m0 3h0m1-55h0m0 12h0m0 6h0m0 1h0m0 3h0m0 8h0m0 1h0m0 3h0m0 5h0m0 0h0m0 0h0m0 1h0m0 3h0m0 2h0m0 0h0m0 2h0m0 0h0m0 0h0m0 2h0m0 1h0m0 0h0m0 1h0m0 2h0m0 1h0m0 1h0m1-55h0m0 6h0m0 17h0m0 1h0m0 2h0m0 1h0m0 3h0m0 0h0m0 6h0m0 8h0m0 1h0m0 0h0m0 1h0m0 1h0m0 1h0m0 0h0m0 1h0m0 2h0m0 5h0m1-50h0m0 14h0m0 3h0m0 0h0m0 14h0m0 0h0m0 2h0m0 2h0m0 0h0m0 2h0m0 3h0m0 2h0m0 1h0m0 1h0m0 1h0m0 2h0m1-73h0m0 45h0m0 1h0m0 1h0m0 2h0m0 3h0m0 4h0m0 1h0m0 3h0m0 0h0m0 2h0m0 3h0m0 1h0m0 2h0m0 0h0m0 2h0m0 1h0m1-46h0m0 9h0m0 24h0m0 1h0m0 0h0m0 2h0m0 0h0m0 2h0m0 2h0m0 0h0m0 2h0m0 0h0m0 3h0m0 0h0m0 1h0m0 3h0m1-50h0m0 0h0m0 6h0m0 2h0m0 0h0m0 25h0m0 1h0m0 0h0m0 1h0m0 1h0m0 2h0m0 0h0m0 3h0m0 0h0m0 1h0m0 1h0m0 0h0m0 0h0m0 0h0m0 1h0m0 1h0m0 1h0m1-67h0m0 11h0m0 3h0m0 12h0m0 9h0m0 5h0m0 2h0m0 2h0m0 8h0m0 9h0m0 10h0m1-65h0m0 7h0m0 9h0m0 5h0m0 16h0m0 5h0m0 3h0m0 7h0m0 0h0m0 9h0m1-46h0m0 8h0m0 7h0m0 0h0m0 5h0m0 9h0m0 2h0m0 2h0m0 2h0m0 4h0m0 6h0m0 1h0m1-67h0m0 4h0m0 32h0m0 13h0m0 1h0m0 3h0m0 1h0m0 1h0m0 1h0m1-20h0m0 1h0m0 3h0m0 1h0m0 2h0m0 0h0m0 7h0m0 7h0m0 1h0m0 2h0m0 1h0m1-30h0m0 2h0m0 2h0m0 2h0m0 9h0m0 2h0m0 7h0m0 3h0m0 1h0m0 1h0m0 0h0m0 1h0m1-24h0m0 2h0m0 5h0m0 2h0m0 7h0m0 1h0m0 2h0m0 4h0m0 1h0m0 0h0m1-39h0m0 0h0m0 8h0m0 2h0m0 1h0m0 3h0m0 5h0m0 4h0m0 5h0m0 2h0m0 2h0m0 3h0m0 0h0m0 4h0m0 1h0m1-59h0m0 18h0m0 1h0m0 8h0m0 10h0m0 6h0m0 4h0m0 0h0m0 2h0m0 10h0m1-62h0m0 29h0m0 7h0m0 0h0m0 5h0m0 11h0m0 0h0m0 1h0m0 0h0m1-43h0m0 27h0m0 0h0m0 1h0m0 5h0m0 10h0m1-44h0m0 12h0m0 2h0m0 6h0m0 3h0m0 2h0m1-30h0m0 8h0m0 18h0m0 5h0m0 10h0m1-45h0m0 1h0m0 13h0m0 34h0m1-36h0m0 3h0m0 6h0m0 5h0m0 14h0m0 3h0m1-10h0m0 2h0m1-11h0m0 4h0m0 1h0m0 2h0m1-31h0m0 8h0m0 6h0m0 5h0m0 2h0m1-19h0m0 22h0m1-8h0m0 27h0m1-26h0m1 0h0m0 3h0m0 2h0m0 6h0m0 2h0m2-21h0m0 2h0m0 4h0m2 3h0m1-9h0m0 9h0m2-12h0m1 0h0m0 7h0"/><path d="M1028 336h0m4-16h0m1 9h0m0 17h0m1-11h0m0 13h0m1-23h0m1 5h0m0 24h0m1-5h0m0 5h0m1-21h0m0 1h0m0 21h0m1-26h0m0 4h0m1 8h0m0 11h0m0 5h0m0 1h0m0 9h0m1-47h0m0 29h0m1-15h0m0 6h0m0 2h0m0 5h0m0 17h0m1-26h0m0 5h0m0 3h0m0 2h0m0 10h0m0 13h0m0 2h0m1-18h0m0 13h0m1-8h0m1-36h0m0 19h0m0 16h0m1-36h0m0 2h0m0 1h0m0 12h0m0 13h0m0 1h0m0 5h0m0 10h0m1-24h0m0 13h0m0 1h0m0 2h0m0 2h0m0 6h0m0 4h0m1-39h0m0 1h0m0 5h0m0 10h0m0 10h0m0 3h0m0 10h0m0 1h0m1-30h0m0 15h0m0 4h0m0 4h0m0 3h0m0 0h0m0 9h0m0 7h0m1-30h0m0 3h0m0 9h0m0 12h0m0 7h0m0 2h0m1-26h0m0 1h0m0 3h0m0 3h0m0 2h0m0 5h0m0 1h0m0 2h0m1-24h0m0 11h0m0 3h0m0 2h0m0 0h0m0 4h0m0 8h0m1-18h0m0 6h0m0 2h0m0 6h0m0 3h0m0 3h0m1-40h0m0 2h0m0 1h0m0 12h0m0 12h0m0 2h0m0 3h0m0 0h0m0 1h0m0 1h0m0 14h0m1-38h0m0 1h0m0 2h0m0 1h0m0 2h0m0 6h0m0 7h0m0 1h0m0 1h0m0 5h0m0 2h0m0 0h0m0 8h0m1-45h0m0 7h0m0 5h0m0 23h0m0 0h0m0 0h0m0 2h0m0 0h0m0 0h0m0 0h0m0 2h0m0 2h0m1-31h0m0 5h0m0 6h0m0 1h0m0 4h0m0 3h0m0 2h0m0 6h0m0 2h0m0 3h0m0 0h0m0 0h0m0 0h0m0 2h0m1-52h0m0 19h0m0 1h0m0 1h0m0 1h0m0 21h0m0 4h0m0 2h0m0 0h0m0 0h0m1-65h0m0 10h0m0 2h0m0 1h0m0 15h0m0 6h0m0 5h0m0 7h0m0 4h0m0 7h0m0 0h0m0 0h0m0 5h0m0 6h0m1-57h0m0 19h0m0 2h0m0 7h0m0 1h0m0 1h0m0 4h0m0 2h0m0 3h0m0 11h0m0 4h0m0 5h0m0 0h0m0 3h0m1-70h0m0 7h0m0 13h0m0 0h0m0 2h0m0 6h0m0 11h0m0 2h0m0 1h0m0 5h0m0 1h0m0 0h0m0 2h0m0 2h0m0 6h0m0 5h0m0 2h0m0 1h0m0 0h0m0 2h0m0 0h0m0 0h0m0 2h0m1-48h0m0 5h0m0 8h0m0 1h0m0 9h0m0 2h0m0 2h0m0 1h0m0 0h0m0 4h0m0 2h0m0 2h0m0 3h0m0 1h0m0 5h0m0 3h0m1-44h0m0 0h0m0 11h0m0 7h0m0 2h0m0 2h0m0 2h0m0 4h0m0 0h0m0 9h0m0 0h0m0 2h0m0 2h0m0 0h0m0 2h0m0 1h0m0 0h0m1-65h0m0 0h0m0 9h0m0 4h0m0 4h0m0 1h0m0 1h0m0 2h0m0 3h0m0 2h0m0 4h0m0 2h0m0 1h0m0 5h0m0 4h0m0 2h0m0 5h0m0 3h0m0 3h0m0 4h0m0 0h0m0 2h0m0 1h0m0 0h0m0 3h0m0 0h0m0 1h0m0 0h0m0 2h0m1-66h0m0 24h0m0 17h0m0 0h0m0 0h0m0 0h0m0 1h0m0 3h0m0 1h0m0 2h0m0 1h0m0 2h0m0 3h0m0 0h0m0 3h0m0 2h0m0 4h0m0 4h0m0 0h0m0 0h0m1-35h0m0 7h0m0 0h0m0 2h0m0 3h0m0 2h0m0 4h0m0 3h0m0 1h0m0 3h0m0 1h0m0 1h0m0 0h0m0 2h0m0 3h0m0 0h0m0 1h0m0 2h0m0 1h0m1-56h0m0 5h0m0 5h0m0 3h0m0 1h0m0 0h0m0 8h0m0 5h0m0 8h0m0 1h0m0 1h0m0 5h0m0 3h0m0 2h0m0 2h0m0 0h0m0 1h0m0 0h0m0 1h0m1-40h0m0 6h0m0 13h0m0 1h0m0 0h0m0 2h0m0 0h0m0 2h0m0 8h0m0 6h0m0 0h0m0 1h0m0 1h0m0 1h0m0 0h0m0 1h0m0 1h0m0 0h0m1-72h0m0 1h0m0 11h0m0 3h0m0 1h0m0 1h0m0 0h0m0 13h0m0 10h0m0 3h0m0 3h0m0 2h0m0 2h0m0 5h0m0 3h0m0 4h0m0 0h0m0 1h0m0 2h0m0 1h0m0 4h0m0 0h0m0 0h0m0 1h0m0 0h0m0 1h0m0 1h0m0 1h0m0 0h0m0 0h0m1-59h0m0 3h0m0 1h0m0 1h0m0 3h0m0 17h0m0 17h0m0 1h0m0 2h0m0 1h0m0 1h0m0 3h0m0 1h0m0 3h0m0 0h0m0 1h0m0 0h0m0 0h0m0 1h0m0 0h0m0 0h0m0 1h0m0 1h0m0 0h0m0 0h0m1-73h0m0 16h0m0 7h0m0 5h0m0 1h0m0 1h0m0 0h0m0 10h0m0 4h0m0 6h0m0 1h0m0 7h0m0 2h0m0 3h0m0 0h0m0 2h0m0 1h0m0 5h0m0 1h0m0 1h0m0 0h0m0 2h0m0 0h0m0 0h0m0 0h0m0 0h0m0 0h0m0 0h0m1-59h0m0 4h0m0 11h0m0 4h0m0 11h0m0 13h0m0 1h0m0 0h0m0 1h0m0 3h0m0 5h0m0 1h0m0 1h0m0 2h0m0 0h0m0 0h0m0 0h0m0 2h0m0 1h0m1-46h0m0 1h0m0 2h0m0 8h0m0 6h0m0 1h0m0 2h0m0 8h0m0 1h0m0 8h0m0 0h0m0 0h0m0 2h0m0 0h0m0 1h0m0 0h0m0 1h0m0 0h0m0 1h0m0 0h0m0 0h0m0 1h0m0 0h0m0 1h0m0 0h0m0 1h0m0 0h0m0 1h0m0 1h0m0 1h0m1-49h0m0 1h0m0 10h0m0 7h0m0 1h0m0 1h0m0 3h0m0 7h0m0 4h0m0 1h0m0 0h0m0 0h0m0 1h0m0 2h0m0 2h0m0 0h0m0 0h0m0 0h0m0 1h0m0 0h0m0 1h0m0 0h0m0 1h0m0 2h0m0 1h0m0 0h0m0 1h0m0 1h0m1-32h0m0 2h0m0 1h0m0 5h0m0 5h0m0 3h0m0 1h0m0 1h0m0 0h0m0 2h0m0 0h0m0 1h0m0 2h0m0 0h0m0 2h0m0 2h0m0 2h0m0 1h0m0 1h0m0 0h0m0 1h0m0 1h0m1-48h0m0 27h0m0 1h0m0 0h0m0 3h0m0 2h0m0 1h0m0 2h0m0 1h0m0 1h0m0 1h0m0 1h0m0 1h0m0 1h0m0 1h0m0 1h0m0 0h0m0 1h0m0 0h0m0 1h0m0 0h0m0 0h0m0 0h0m0 0h0m0 1h0m0 0h0m1-35h0m0 9h0m0 1h0m0 1h0m0 4h0m0 0h0m0 2h0m0 1h0m0 1h0m0 2h0m0 5h0m0 0h0m0 0h0m0 1h0m0 5h0m0 0h0m0 0h0m0 0h0m0 3h0m0 1h0m0 0h0m0 0h0m0 0h0m0 1h0m0 1h0m1-31h0m0 8h0m0 2h0m0 0h0m0 2h0m0 0h0m0 3h0m0 0h0m0 0h0m0 1h0m0 0h0m0 1h0m0 1h0m0 0h0m0 0h0m0 0h0m0 0h0m0 0h0m0 2h0m0 3h0m0 0h0m0 2h0m0 1h0m0 0h0m0 0h0m0 1h0m0 2h0m0 0h0m0 1h0m0 0h0m0 1h0m0 1h0m0 0h0m0 0h0m1-25h0m0 3h0m0 1h0m0 0h0m0 7h0m0 1h0m0 3h0m0 1h0m0 0h0m0 0h0m0 2h0m0 1h0m0 0h0m0 1h0m0 1h0m0 1h0m0 0h0m0 1h0m0 0h0m0 1h0m0 0h0m0 1h0m0 0h0m0 0h0m0 0h0m1-16h0m0 1h0m0 0h0m0 0h0m0 7h0m0 0h0m0 0h0m0 0h0m0 1h0m0 0h0m0 1h0m0 1h0m0 1h0m0 1h0m0 0h0m0 1h0m0 0h0m0 1h0m0 0h0m0 0h0m0 0h0m0 0h0m0 1h0m0 1h0m0 0h0m1-12h0m0 2h0m0 2h0m0 3h0m0 0h0m0 1h0m0 0h0m0 0h0m0 1h0m0 1h0m0 0h0m0 0h0m0 1h0m0 0h0m0 0h0m0 0h0m0 1h0m0 0h0m0 0h0m0 0h0m0 0h0m0 0h0m0 1h0m1-12h0m0 0h0m0 1h0m0 1h0m0 0h0m0 1h0m0 2h0m0 0h0m0 1h0m0 0h0m0 0h0m0 1h0m0 1h0m0 0h0m0 1h0m0 0h0m0 0h0m0 0h0m0 0h0m0 1h0m0 0h0m0 0h0m0 0h0m0 0h0m0 1h0m0 0h0m0 1h0m0 0h0m0 0h0m1-12h0m0 1h0m0 1h0m0 1h0m0 1h0m0 1h0m0 1h0m0 0h0m0 1h0m0 1h0m0 0h0m0 0h0m0 1h0m0 0h0m0 0h0m0 0h0m0 0h0m0 0h0m0 1h0m0 0h0m0 1h0m0 0h0m0 1h0m0 0h0m0 0h0m0 0h0m0 0h0m0 0h0m0 1h0m0 0h0m0 0h0m0 0h0m1-13h0m0 1h0m0 2h0m0 0h0m0 1h0m0 1h0m0 1h0m0 0h0m0 0h0m0 1h0m0 0h0m0 1h0m0 1h0m0 0h0m0 0h0m0 1h0m0 0h0m0 0h0m0 0h0m0 0h0m0 0h0m0 1h0m0 0h0m0 1h0m0 0h0m0 0h0m0 0h0m0 0h0m0 0h0m0 0h0m0 0h0m0 1h0m0 0h0m0 0h0m0 0h0m0 0h0m0 0h0m0 0h0m0 0h0m1-12h0m0 0h0m0 2h0m0 0h0m0 0h0m0 2h0m0 0h0m0 0h0m0 0h0m0 0h0m0 1h0m0 0h0m0 1h0m0 1h0m0 0h0m0 1h0m0 0h0m0 1h0m0 0h0m0 0h0m0 0h0m0 0h0m0 0h0m0 0h0m0 0h0m0 0h0m0 1h0m0 0h0m0 0h0m0 0h0m0 0h0m0 1h0m0 0h0m0 0h0m0 0h0m0 0h0m0 0h0m0 0h0m0 1h0m0 0h0m0 0h0m0 0h0m0 0h0m0 0h0m0 0h0m0 0h0m0 0h0m0 0h0m0 0h0m0 0h0m0 0h0m0 0h0m0 0h0m0 1h0m0 0h0m1-13h0m0 1h0m0 1h0m0 1h0m0 0h0m0 1h0m0 1h0m0 0h0m0 0h0m0 1h0m0 0h0m0 1h0m0 0h0m0 1h0m0 0h0m0 0h0m0 1h0m0 0h0m0 1h0m0 0h0m0 1h0m0 0h0m0 0h0m0 0h0m0 0h0m0 1h0m0 0h0m0 0h0m0 0h0m0 0h0m0 0h0m0 0h0m0 0h0m0 0h0m0 0h0m0 1h0m0 0h0m0 0h0m0 0h0m0 0h0m0 0h0m0 0h0m0 0h0m0 0h0m0 0h0m0 0h0m0 0h0m0 0h0m1-13h0m0 0h0m0 0h0m0 0h0m0 1h0m0 0h0m0 2h0m0 0h0m0 1h0m0 1h0m0 0h0m0 1h0m0 1h0m0 0h0m0 1h0m0 0h0m0 1h0m0 0h0m0 1h0m0 0h0m0 0h0m0 0h0m0 0h0m0 0h0m0 0h0m0 1h0m0 0h0m0 0h0m0 0h0m0 0h0m0 0h0m0 0h0m0 0h0m0 0h0m0 0h0m0 0h0m0 0h0m0 1h0m0 0h0m0 0h0m0 0h0m0 0h0m0 0h0m0 0h0m0 0h0m0 0h0m0 0h0m0 0h0m0 0h0m0 0h0m0 0h0m0 0h0m0 0h0m0 0h0m0 1h0m0 0h0m0 0h0m0 0h0m0 0h0m0 0h0m0 0h0m0 0h0m0 0h0m0 0h0m0 0h0m1-14h0m0 1h0m0 0h0m0 1h0m0 0h0m0 1h0m0 2h0m0 0h0m0 1h0m0 1h0m0 0h0m0 1h0m0 1h0m0 0h0m0 0h0m0 1h0m0 0h0m0 1h0m0 0h0m0 0h0m0 0h0m0 0h0m0 1h0m0 0h0m0 0h0m0 0h0m0 0h0m0 0h0m0 0h0m0 0h0m0 0h0m0 0h0m0 1h0m0 0h0m0 0h0m0 0h0m0 0h0m0 0h0m0 0h0m0 0h0m0 0h0m0 0h0m0 0h0m0 1h0m0 0h0m0 0h0m0 0h0m1-12h0m0 0h0m0 1h0m0 0h0m0 0h0m0 1h0m0 1h0m0 0h0m0 0h0m0 0h0m0 1h0m0 0h0m0 1h0m0 0h0m0 1h0m0 1h0m0 0h0m0 0h0m0 1h0m0 0h0m0 0h0m0 0h0m0 1h0m0 0h0m0 0h0m0 0h0m0 0h0m0 0h0m0 1h0m0 0h0m0 0h0m0 0h0m0 1h0m0 0h0m0 0h0m0 0h0m0 0h0m0 0h0m0 0h0m1-13h0m0 1h0m0 0h0m0 1h0m0 2h0m0 0h0m0 0h0m0 0h0m0 1h0m0 1h0m0 1h0m0 0h0m0 0h0m0 0h0m0 0h0m0 0h0m0 1h0m0 0h0m0 1h0m0 0h0m0 0h0m0 0h0m0 0h0m0 0h0m0 1h0m0 0h0m0 0h0m0 0h0m0 0h0m0 0h0m0 1h0m0 0h0m0 0h0m0 1h0m0 0h0m0 0h0m0 0h0m0 0h0m0 0h0m0 1h0m1-12h0m0 1h0m0 2h0m0 1h0m0 0h0m0 1h0m0 1h0m0 0h0m0 1h0m0 1h0m0 1h0m0 0h0m0 0h0m0 0h0m0 0h0m0 0h0m0 0h0m0 1h0m0 0h0m0 0h0m0 0h0m0 0h0m0 0h0m0 0h0m0 0h0m0 1h0m0 0h0m0 0h0m0 0h0m0 0h0m1-15h0m0 4h0m0 0h0m0 1h0m0 0h0m0 1h0m0 0h0m0 1h0m0 0h0m0 1h0m0 0h0m0 2h0m0 0h0m0 0h0m0 1h0m0 0h0m0 1h0m0 0h0m0 1h0m0 0h0m0 0h0m0 1h0m0 0h0m0 0h0m0 1h0m0 0h0m1-20h0m0 0h0m0 1h0m0 2h0m0 1h0m0 3h0m0 3h0m0 3h0m0 0h0m0 1h0m0 0h0m0 1h0m0 1h0m0 0h0m0 0h0m0 1h0m0 0h0m0 0h0m0 0h0m0 1h0m0 0h0m0 0h0m0 0h0m0 0h0m0 0h0m0 1h0m0 0h0m0 0h0m0 0h0m0 0h0m1-23h0m0 1h0m0 2h0m0 2h0m0 1h0m0 1h0m0 0h0m0 0h0m0 0h0m0 2h0m0 5h0m0 0h0m0 1h0m0 1h0m0 0h0m0 0h0m0 1h0m0 0h0m0 1h0m0 1h0m0 2h0m0 0h0m0 0h0m0 1h0m0 0h0m0 0h0m1-33h0m0 2h0m0 4h0m0 0h0m0 4h0m0 1h0m0 8h0m0 1h0m0 2h0m0 0h0m0 0h0m0 1h0m0 2h0m0 0h0m0 1h0m0 1h0m0 0h0m0 1h0m0 0h0m0 1h0m0 0h0m0 1h0m0 0h0m0 1h0m0 0h0m0 1h0m0 0h0m0 1h0m0 0h0m1-34h0m0 5h0m0 1h0m0 1h0m0 4h0m0 5h0m0 6h0m0 0h0m0 0h0m0 0h0m0 0h0m0 2h0m0 1h0m0 0h0m0 2h0m0 1h0m0 0h0m0 1h0m0 2h0m0 0h0m0 0h0m0 2h0m0 0h0m0 1h0m1-43h0m0 10h0m0 1h0m0 3h0m0 6h0m0 1h0m0 0h0m0 0h0m0 1h0m0 3h0m0 4h0m0 1h0m0 2h0m0 0h0m0 0h0m0 2h0m0 1h0m0 1h0m0 0h0m0 1h0m0 2h0m0 1h0m0 0h0m1-41h0m0 0h0m0 1h0m0 2h0m0 9h0m0 5h0m0 4h0m0 0h0m0 0h0m0 1h0m0 3h0m0 0h0m0 5h0m0 2h0m0 0h0m0 0h0m0 2h0m0 0h0m0 0h0m0 0h0m0 2h0m0 0h0m0 0h0m0 0h0m0 1h0m0 1h0m0 1h0m0 1h0m0 2h0m1-57h0m0 8h0m0 7h0m0 2h0m0 2h0m0 9h0m0 0h0m0 2h0m0 4h0m0 1h0m0 5h0m0 2h0m0 1h0m0 0h0m0 1h0m0 0h0m0 2h0m0 0h0m0 4h0m0 0h0m0 1h0m0 1h0m0 2h0m0 0h0m0 1h0m0 1h0m0 0h0m1-46h0m0 9h0m0 13h0m0 3h0m0 0h0m0 1h0m0 2h0m0 2h0m0 2h0m0 0h0m0 1h0m0 0h0m0 3h0m0 1h0m0 1h0m0 2h0m0 0h0m0 3h0m0 1h0m1-55h0m0 8h0m0 2h0m0 6h0m0 2h0m0 4h0m0 2h0m0 2h0m0 5h0m0 3h0m0 1h0m0 2h0m0 1h0m0 3h0m0 1h0m0 1h0m0 1h0m0 2h0m0 0h0m0 1h0m0 0h0m0 1h0m0 0h0m0 0h0m0 1h0m0 0h0m0 1h0m0 1h0m0 0h0m0 0h0m0 2h0m0 1h0m0 0h0m1-68h0m0 5h0m0 20h0m0 4h0m0 1h0m0 4h0m0 4h0m0 4h0m0 1h0m0 4h0m0 1h0m0 4h0m0 1h0m0 1h0m0 1h0m0 1h0m0 3h0m0 0h0m0 1h0m0 1h0m0 1h0m0 0h0m0 1h0m0 0h0m0 1h0m0 1h0m0 2h0m0 0h0m0 1h0m0 0h0m1-54h0m0 7h0m0 3h0m0 4h0m0 1h0m0 8h0m0 1h0m0 10h0m0 2h0m0 1h0m0 2h0m0 0h0m0 1h0m0 1h0m0 1h0m0 0h0m0 3h0m0 1h0m0 0h0m0 0h0m0 2h0m0 2h0m0 1h0m0 1h0m0 2h0m1-64h0m0 5h0m0 0h0m0 16h0m0 10h0m0 0h0m0 4h0m0 4h0m0 1h0m0 0h0m0 0h0m0 2h0m0 1h0m0 2h0m0 0h0m0 4h0m0 0h0m0 1h0m0 1h0m0 3h0m0 0h0m0 2h0m0 1h0m0 1h0m0 0h0m0 1h0m0 1h0m0 1h0m0 0h0m0 1h0m0 1h0m0 0h0m0 1h0m1-74h0m0 20h0m0 8h0m0 5h0m0 1h0m0 2h0m0 2h0m0 3h0m0 4h0m0 1h0m0 2h0m0 2h0m0 0h0m0 2h0m0 1h0m0 3h0m0 1h0m0 2h0m0 2h0m0 1h0m0 1h0m0 3h0m0 1h0m0 0h0m0 0h0m0 1h0m0 1h0m0 1h0m0 0h0m0 2h0m1-71h0m0 31h0m0 1h0m0 5h0m0 3h0m0 1h0m0 1h0m0 2h0m0 0h0m0 2h0m0 1h0m0 2h0m0 1h0m0 1h0m0 1h0m0 1h0m0 10h0m0 2h0m0 0h0m0 1h0m0 1h0m0 1h0m0 1h0m0 5h0m1-67h0m0 5h0m0 9h0m0 9h0m0 6h0m0 6h0m0 2h0m0 0h0m0 0h0m0 1h0m0 5h0m0 2h0m0 2h0m0 3h0m0 1h0m0 3h0m0 2h0m0 1h0m0 2h0m0 2h0m1-45h0m0 13h0m0 2h0m0 2h0m0 13h0m0 4h0m0 2h0m0 3h0m0 1h0m0 2h0m0 1h0m0 0h0m0 0h0m1-67h0m0 19h0m0 10h0m0 1h0m0 1h0m0 1h0m0 10h0m0 3h0m0 1h0m0 3h0m0 4h0m0 6h0m0 5h0m0 3h0m0 1h0m0 2h0m1-73h0m0 15h0m0 19h0m0 5h0m0 8h0m0 7h0m0 1h0m0 0h0m0 6h0m0 0h0m0 0h0m0 0h0m0 2h0m0 5h0m0 0h0m0 2h0m0 1h0m1-54h0m0 3h0m0 1h0m0 14h0m0 5h0m0 2h0m0 9h0m0 3h0m0 0h0m0 1h0m0 1h0m0 1h0m0 0h0m0 5h0m0 3h0m0 0h0m0 4h0m1-67h0m0 23h0m0 13h0m0 0h0m0 12h0m0 1h0m0 0h0m0 0h0m0 7h0m0 0h0m0 0h0m0 1h0m0 2h0m0 4h0m0 0h0m0 2h0m0 1h0m0 2h0m0 1h0m0 1h0m1-57h0m0 15h0m0 4h0m0 0h0m0 3h0m0 6h0m0 6h0m0 1h0m0 1h0m0 1h0m0 3h0m0 5h0m0 2h0m0 1h0m0 5h0m1-60h0m0 4h0m0 18h0m0 10h0m0 0h0m0 0h0m0 1h0m0 4h0m0 0h0m0 1h0m0 1h0m0 2h0m0 2h0m0 3h0m0 0h0m0 8h0m0 5h0m0 2h0m0 0h0m0 5h0m1-61h0m0 4h0m0 17h0m0 8h0m0 0h0m0 2h0m0 0h0m0 7h0m0 4h0m0 1h0m0 3h0m0 1h0m0 1h0m0 0h0m0 2h0m0 0h0m0 2h0m0 3h0m1-53h0m0 5h0m0 7h0m0 8h0m0 15h0m0 5h0m0 5h0m0 0h0m0 8h0m1-33h0m0 6h0m0 2h0m0 9h0m0 3h0m0 0h0m0 6h0m0 1h0m0 0h0m1-55h0m0 14h0m0 2h0m0 7h0m0 8h0m0 5h0m0 1h0m0 16h0m1-33h0m0 11h0m0 10h0m0 4h0m0 8h0m0 6h0m0 0h0m1-64h0m0 27h0m0 0h0m0 12h0m0 2h0m0 3h0m0 9h0m0 3h0m0 2h0m1-44h0m0 21h0m0 5h0m0 5h0m0 1h0m0 2h0m0 0h0m0 13h0m1-32h0m0 9h0m0 8h0m0 0h0m0 7h0m0 3h0m0 8h0m1-46h0m0 5h0m0 1h0m0 9h0m0 0h0m0 3h0m0 5h0m0 3h0m0 0h0m0 9h0m1-52h0m0 14h0m0 11h0m0 3h0m0 7h0m0 7h0m1-17h0m0 17h0m0 5h0m0 4h0m1-55h0m0 14h0m0 12h0m0 4h0m0 7h0m0 1h0m0 21h0m1-32h0m0 2h0m0 2h0m0 11h0m0 4h0m1-25h0m0 30h0m1-27h0m0 8h0m0 9h0m1-22h0m0 14h0m0 7h0m1-6h0m1 10h0m1-31h0m0 2h0m0 11h0m0 3h0m1-16h0m0 27h0m1-12h0m1-23h0m0 2h0m0 2h0m0 22h0m1-18h0m1 8h0m1 2h0m1-20h0m3 9h0m2 3h0m2-12h0"/><path d="M1024 323h0m2 23h0m4-21h0m0 2h0m5 18h0m2-12h0m0 9h0m0 3h0m0 11h0m1-27h0m0 5h0m0 4h0m0 9h0m0 4h0m0 3h0m2-24h0m0 17h0m0 11h0m2-28h0m0 0h0m0 22h0m1-29h0m0 9h0m0 11h0m0 10h0m0 7h0m1-23h0m0 33h0m1-36h0m0 23h0m0 2h0m1 4h0m0 0h0m0 2h0m0 1h0m0 4h0m1-27h0m0 2h0m0 5h0m0 3h0m0 5h0m0 3h0m0 6h0m0 2h0m1-39h0m0 8h0m0 16h0m0 1h0m0 9h0m1-27h0m0 21h0m0 3h0m0 2h0m0 4h0m0 4h0m0 6h0m1-52h0m0 9h0m0 12h0m0 15h0m0 8h0m0 4h0m0 7h0m0 8h0m1-58h0m0 20h0m0 9h0m0 7h0m0 1h0m0 1h0m1-22h0m0 19h0m0 1h0m0 0h0m0 7h0m0 1h0m0 2h0m0 3h0m0 1h0m0 2h0m0 3h0m1-44h0m0 16h0m0 6h0m0 0h0m0 2h0m0 10h0m0 2h0m0 6h0m1-34h0m0 9h0m0 6h0m0 2h0m0 2h0m0 2h0m0 10h0m0 1h0m0 1h0m0 2h0m0 1h0m0 4h0m1-35h0m0 6h0m0 7h0m0 0h0m0 10h0m0 7h0m0 1h0m1-32h0m0 16h0m0 7h0m0 6h0m0 0h0m0 1h0m1-63h0m0 28h0m0 7h0m0 4h0m0 7h0m0 9h0m0 3h0m0 1h0m0 11h0m1-59h0m0 3h0m0 23h0m0 0h0m0 7h0m0 4h0m0 1h0m0 10h0m0 1h0m0 1h0m0 4h0m0 0h0m1-57h0m0 17h0m0 5h0m0 6h0m0 14h0m0 0h0m0 6h0m0 0h0m0 4h0m0 3h0m0 1h0m0 1h0m0 3h0m0 1h0m1-68h0m0 20h0m0 5h0m0 7h0m0 6h0m0 2h0m0 7h0m0 4h0m0 0h0m0 0h0m0 3h0m0 2h0m0 2h0m0 2h0m0 0h0m0 1h0m0 2h0m0 4h0m0 1h0m0 2h0m1-47h0m0 2h0m0 8h0m0 1h0m0 16h0m0 1h0m0 0h0m0 4h0m0 3h0m0 5h0m0 1h0m0 1h0m0 0h0m0 1h0m0 1h0m0 1h0m1-34h0m0 2h0m0 7h0m0 5h0m0 0h0m0 1h0m0 1h0m0 10h0m0 0h0m0 2h0m0 1h0m0 2h0m0 1h0m0 2h0m0 1h0m0 2h0m0 1h0m1-52h0m0 6h0m0 3h0m0 11h0m0 4h0m0 3h0m0 1h0m0 1h0m0 4h0m0 0h0m0 2h0m0 1h0m0 2h0m0 1h0m0 4h0m0 2h0m0 2h0m0 0h0m0 1h0m0 3h0m0 1h0m1-64h0m0 6h0m0 0h0m0 2h0m0 9h0m0 8h0m0 3h0m0 2h0m0 3h0m0 5h0m0 8h0m0 2h0m0 0h0m0 10h0m0 0h0m0 3h0m0 1h0m0 1h0m0 1h0m0 1h0m0 0h0m1-55h0m0 24h0m0 0h0m0 2h0m0 4h0m0 3h0m0 0h0m0 7h0m0 3h0m0 3h0m0 5h0m0 1h0m0 2h0m0 6h0m1-72h0m0 18h0m0 1h0m0 1h0m0 21h0m0 8h0m0 3h0m0 4h0m0 4h0m0 0h0m0 2h0m0 0h0m0 1h0m0 2h0m0 0h0m0 0h0m0 0h0m0 2h0m0 0h0m0 0h0m0 0h0m0 1h0m0 1h0m0 0h0m0 1h0m1-77h0m0 26h0m0 11h0m0 1h0m0 2h0m0 4h0m0 1h0m0 5h0m0 0h0m0 2h0m0 1h0m0 3h0m0 3h0m0 3h0m0 3h0m0 2h0m0 0h0m0 0h0m0 5h0m0 1h0m0 0h0m0 1h0m0 0h0m0 1h0m0 1h0m0 1h0m0 1h0m1-46h0m0 6h0m0 9h0m0 4h0m0 2h0m0 5h0m0 0h0m0 1h0m0 2h0m0 1h0m0 0h0m0 3h0m0 2h0m0 1h0m0 0h0m0 2h0m0 0h0m0 2h0m0 0h0m0 3h0m0 0h0m0 0h0m0 0h0m0 2h0m0 1h0m1-56h0m0 7h0m0 2h0m0 5h0m0 22h0m0 1h0m0 5h0m0 1h0m0 7h0m0 2h0m0 1h0m0 2h0m1-67h0m0 15h0m0 5h0m0 1h0m0 4h0m0 4h0m0 3h0m0 15h0m0 2h0m0 1h0m0 1h0m0 0h0m0 1h0m0 6h0m0 1h0m0 0h0m0 0h0m0 0h0m0 1h0m0 1h0m0 1h0m0 1h0m0 2h0m0 1h0m0 4h0m1-77h0m0 4h0m0 21h0m0 3h0m0 1h0m0 11h0m0 5h0m0 9h0m0 2h0m0 0h0m0 3h0m0 1h0m0 0h0m0 0h0m0 1h0m0 1h0m0 3h0m0 2h0m0 1h0m0 0h0m0 1h0m0 2h0m0 0h0m0 0h0m0 1h0m0 3h0m0 0h0m1-40h0m0 11h0m0 2h0m0 2h0m0 7h0m0 0h0m0 0h0m0 2h0m0 2h0m0 2h0m0 0h0m0 2h0m0 1h0m0 0h0m0 0h0m0 2h0m0 1h0m0 0h0m0 1h0m0 0h0m0 0h0m0 1h0m0 0h0m0 3h0m1-60h0m0 5h0m0 6h0m0 3h0m0 2h0m0 16h0m0 1h0m0 2h0m0 1h0m0 3h0m0 4h0m0 2h0m0 0h0m0 1h0m0 1h0m0 0h0m0 0h0m0 3h0m0 2h0m0 1h0m0 1h0m0 1h0m0 0h0m0 1h0m0 0h0m0 2h0m0 1h0m0 2h0m0 1h0m0 0h0m0 1h0m0 1h0m1-60h0m0 6h0m0 14h0m0 7h0m0 2h0m0 2h0m0 0h0m0 2h0m0 3h0m0 11h0m0 0h0m0 2h0m0 0h0m0 0h0m0 1h0m0 0h0m0 0h0m0 1h0m0 1h0m0 1h0m0 1h0m0 0h0m0 1h0m0 5h0m0 0h0m0 1h0m0 0h0m0 0h0m0 2h0m1-40h0m0 2h0m0 7h0m0 3h0m0 1h0m0 0h0m0 3h0m0 0h0m0 1h0m0 2h0m0 3h0m0 1h0m0 0h0m0 3h0m0 1h0m0 0h0m0 2h0m0 3h0m0 0h0m0 3h0m0 0h0m0 0h0m0 0h0m0 1h0m0 1h0m0 2h0m0 1h0m1-40h0m0 2h0m0 6h0m0 6h0m0 2h0m0 3h0m0 1h0m0 1h0m0 0h0m0 1h0m0 3h0m0 0h0m0 1h0m0 4h0m0 1h0m0 1h0m0 1h0m0 2h0m0 2h0m0 1h0m0 1h0m0 0h0m0 0h0m1-38h0m0 6h0m0 9h0m0 0h0m0 2h0m0 4h0m0 1h0m0 1h0m0 0h0m0 0h0m0 2h0m0 0h0m0 3h0m0 1h0m0 2h0m0 1h0m0 1h0m0 1h0m0 0h0m0 1h0m0 0h0m0 0h0m0 1h0m0 1h0m0 0h0m0 0h0m0 1h0m0 0h0m0 1h0m0 0h0m0 0h0m0 0h0m1-35h0m0 1h0m0 2h0m0 7h0m0 1h0m0 1h0m0 2h0m0 1h0m0 0h0m0 1h0m0 1h0m0 4h0m0 3h0m0 0h0m0 1h0m0 1h0m0 0h0m0 0h0m0 2h0m0 0h0m0 0h0m0 0h0m0 0h0m0 1h0m0 4h0m0 0h0m0 0h0m0 1h0m0 1h0m1-25h0m0 2h0m0 1h0m0 2h0m0 2h0m0 3h0m0 2h0m0 0h0m0 3h0m0 1h0m0 0h0m0 0h0m0 1h0m0 1h0m0 0h0m0 1h0m0 0h0m0 1h0m0 1h0m0 0h0m0 0h0m0 0h0m0 1h0m0 0h0m0 1h0m0 0h0m0 0h0m0 1h0m0 1h0m0 0h0m0 0h0m0 0h0m0 0h0m0 0h0m0 0h0m0 1h0m0 0h0m0 1h0m0 0h0m1-24h0m0 3h0m0 2h0m0 2h0m0 2h0m0 0h0m0 0h0m0 0h0m0 2h0m0 1h0m0 0h0m0 1h0m0 1h0m0 2h0m0 2h0m0 3h0m0 1h0m0 0h0m0 0h0m0 1h0m0 1h0m0 1h0m1-12h0m0 0h0m0 0h0m0 1h0m0 1h0m0 2h0m0 0h0m0 2h0m0 1h0m0 0h0m0 1h0m0 0h0m0 0h0m0 0h0m0 0h0m0 1h0m0 0h0m0 0h0m0 1h0m0 0h0m0 0h0m0 0h0m0 0h0m0 1h0m0 0h0m0 0h0m0 0h0m0 0h0m0 1h0m1-17h0m0 4h0m0 2h0m0 0h0m0 2h0m0 0h0m0 3h0m0 0h0m0 0h0m0 1h0m0 0h0m0 0h0m0 0h0m0 1h0m0 0h0m0 1h0m0 1h0m0 1h0m0 0h0m0 0h0m0 1h0m0 0h0m0 0h0m0 1h0m0 0h0m1-11h0m0 1h0m0 1h0m0 1h0m0 0h0m0 1h0m0 1h0m0 1h0m0 0h0m0 0h0m0 1h0m0 0h0m0 0h0m0 1h0m0 0h0m0 0h0m0 0h0m0 0h0m0 0h0m0 1h0m0 0h0m0 1h0m0 0h0m0 1h0m0 0h0m0 0h0m0 0h0m0 0h0m1-12h0m0 1h0m0 0h0m0 1h0m0 1h0m0 0h0m0 1h0m0 1h0m0 2h0m0 0h0m0 1h0m0 1h0m0 1h0m0 0h0m0 0h0m0 0h0m0 1h0m0 0h0m0 0h0m0 1h0m0 0h0m0 0h0m0 0h0m0 0h0m0 0h0m0 1h0m0 0h0m0 0h0m0 0h0m1-13h0m0 0h0m0 3h0m0 0h0m0 5h0m0 0h0m0 0h0m0 0h0m0 1h0m0 1h0m0 0h0m0 0h0m0 0h0m0 0h0m0 1h0m0 0h0m0 0h0m0 0h0m0 0h0m0 1h0m0 0h0m0 0h0m0 0h0m0 0h0m0 1h0m0 0h0m0 0h0m0 0h0m0 0h0m1-11h0m0 0h0m0 2h0m0 0h0m0 1h0m0 1h0m0 0h0m0 0h0m0 1h0m0 0h0m0 0h0m0 0h0m0 1h0m0 1h0m0 0h0m0 0h0m0 0h0m0 1h0m0 0h0m0 0h0m0 0h0m0 0h0m0 1h0m0 0h0m0 0h0m0 0h0m0 0h0m0 0h0m0 0h0m0 0h0m0 1h0m0 0h0m0 1h0m0 0h0m0 0h0m0 0h0m0 0h0m0 0h0m0 0h0m0 0h0m0 0h0m0 0h0m0 0h0m0 0h0m0 0h0m0 1h0m1-13h0m0 3h0m0 0h0m0 0h0m0 1h0m0 0h0m0 1h0m0 1h0m0 0h0m0 1h0m0 0h0m0 0h0m0 1h0m0 0h0m0 0h0m0 0h0m0 1h0m0 0h0m0 0h0m0 1h0m0 1h0m0 0h0m0 0h0m0 0h0m0 1h0m0 0h0m0 0h0m0 0h0m0 0h0m0 0h0m0 0h0m0 0h0m0 0h0m0 0h0m0 0h0m0 0h0m0 1h0m0 0h0m0 0h0m0 0h0m0 0h0m0 0h0m0 0h0m0 0h0m0 0h0m0 0h0m0 0h0m0 0h0m0 0h0m1-14h0m0 2h0m0 1h0m0 1h0m0 1h0m0 1h0m0 0h0m0 1h0m0 1h0m0 0h0m0 0h0m0 1h0m0 0h0m0 1h0m0 0h0m0 0h0m0 1h0m0 1h0m0 0h0m0 0h0m0 0h0m0 0h0m0 0h0m0 1h0m0 0h0m0 0h0m0 0h0m0 0h0m0 0h0m0 0h0m0 0h0m0 0h0m0 0h0m0 0h0m0 0h0m0 0h0m0 0h0m0 0h0m0 0h0m0 0h0m0 0h0m0 0h0m0 1h0m0 0h0m0 0h0m0 0h0m0 0h0m0 0h0m0 0h0m0 0h0m0 0h0m0 0h0m0 0h0m0 0h0m0 0h0m0 0h0m0 0h0m1-13h0m0 0h0m0 0h0m0 1h0m0 1h0m0 1h0m0 4h0m0 1h0m0 1h0m0 0h0m0 0h0m0 0h0m0 1h0m0 0h0m0 1h0m0 0h0m0 0h0m0 0h0m0 0h0m0 0h0m0 0h0m0 0h0m0 0h0m0 0h0m0 0h0m0 1h0m0 0h0m0 0h0m0 0h0m0 0h0m0 0h0m0 0h0m0 0h0m0 0h0m0 0h0m0 1h0m0 0h0m0 0h0m0 0h0m0 0h0m0 0h0m0 0h0m1-14h0m0 0h0m0 1h0m0 0h0m0 0h0m0 0h0m0 0h0m0 0h0m0 2h0m0 1h0m0 0h0m0 2h0m0 0h0m0 3h0m0 0h0m0 0h0m0 0h0m0 1h0m0 0h0m0 0h0m0 0h0m0 0h0m0 0h0m0 0h0m0 0h0m0 1h0m0 0h0m0 0h0m0 0h0m0 0h0m0 0h0m0 1h0m0 0h0m0 0h0m0 0h0m0 0h0m0 0h0m0 0h0m0 0h0m0 0h0m0 0h0m0 1h0m0 0h0m0 0h0m0 0h0m0 0h0m0 0h0m0 0h0m1-13h0m0 1h0m0 0h0m0 1h0m0 0h0m0 1h0m0 0h0m0 0h0m0 1h0m0 0h0m0 1h0m0 0h0m0 0h0m0 1h0m0 0h0m0 1h0m0 0h0m0 1h0m0 0h0m0 0h0m0 0h0m0 1h0m0 0h0m0 0h0m0 1h0m0 0h0m0 0h0m0 0h0m0 1h0m0 0h0m0 0h0m0 0h0m0 1h0m0 0h0m0 0h0m0 0h0m0 0h0m0 0h0m0 0h0m0 0h0m0 0h0m1-11h0m0 3h0m0 1h0m0 0h0m0 1h0m0 0h0m0 1h0m0 1h0m0 1h0m0 0h0m0 0h0m0 1h0m0 0h0m0 0h0m0 0h0m0 0h0m0 0h0m0 0h0m0 0h0m0 0h0m0 1h0m0 0h0m0 0h0m0 0h0m0 1h0m0 0h0m0 0h0m0 0h0m0 0h0m1-21h0m0 6h0m0 0h0m0 0h0m0 1h0m0 0h0m0 0h0m0 4h0m0 1h0m0 1h0m0 0h0m0 1h0m0 0h0m0 0h0m0 1h0m0 1h0m0 0h0m0 0h0m0 1h0m0 0h0m0 1h0m0 0h0m0 0h0m0 0h0m0 1h0m0 0h0m0 0h0m0 0h0m0 0h0m0 1h0m0 0h0m0 0h0m0 0h0m0 0h0m0 0h0m1-25h0m0 6h0m0 1h0m0 3h0m0 3h0m0 0h0m0 1h0m0 1h0m0 1h0m0 2h0m0 0h0m0 0h0m0 1h0m0 0h0m0 1h0m0 1h0m0 1h0m0 0h0m0 0h0m0 0h0m0 0h0m0 0h0m0 1h0m0 0h0m0 0h0m0 1h0m0 0h0m0 0h0m0 0h0m1-28h0m0 7h0m0 6h0m0 1h0m0 0h0m0 0h0m0 1h0m0 0h0m0 2h0m0 0h0m0 3h0m0 3h0m0 2h0m0 0h0m0 0h0m0 0h0m0 0h0m0 1h0m0 1h0m0 0h0m0 0h0m0 1h0m0 0h0m0 0h0m1-35h0m0 7h0m0 2h0m0 0h0m0 0h0m0 3h0m0 3h0m0 0h0m0 3h0m0 1h0m0 1h0m0 0h0m0 0h0m0 2h0m0 0h0m0 2h0m0 0h0m0 0h0m0 0h0m0 1h0m0 3h0m0 1h0m0 2h0m0 0h0m0 0h0m0 1h0m0 0h0m0 0h0m0 0h0m0 2h0m0 0h0m0 0h0m1-38h0m0 7h0m0 2h0m0 3h0m0 0h0m0 3h0m0 3h0m0 1h0m0 0h0m0 0h0m0 2h0m0 1h0m0 6h0m0 3h0m0 2h0m0 0h0m0 0h0m0 1h0m0 0h0m0 1h0m0 1h0m0 2h0m0 0h0m1-38h0m0 1h0m0 2h0m0 1h0m0 2h0m0 3h0m0 4h0m0 3h0m0 2h0m0 0h0m0 2h0m0 3h0m0 1h0m0 1h0m0 1h0m0 0h0m0 0h0m0 2h0m0 0h0m0 1h0m0 1h0m0 2h0m0 0h0m0 1h0m0 1h0m0 1h0m0 0h0m0 0h0m1-28h0m0 1h0m0 0h0m0 3h0m0 1h0m0 1h0m0 1h0m0 5h0m0 0h0m0 1h0m0 2h0m0 1h0m0 2h0m0 0h0m0 2h0m0 0h0m0 1h0m0 1h0m0 1h0m0 1h0m0 4h0m1-50h0m0 7h0m0 6h0m0 6h0m0 1h0m0 1h0m0 6h0m0 0h0m0 0h0m0 1h0m0 2h0m0 4h0m0 3h0m0 0h0m0 4h0m0 1h0m0 1h0m0 1h0m0 1h0m0 1h0m0 0h0m0 1h0m0 1h0m0 1h0m0 0h0m1-36h0m0 1h0m0 4h0m0 5h0m0 2h0m0 4h0m0 3h0m0 0h0m0 2h0m0 1h0m0 5h0m0 0h0m0 0h0m0 0h0m0 2h0m0 1h0m0 0h0m0 0h0m0 1h0m0 1h0m0 0h0m0 2h0m0 3h0m1-52h0m0 8h0m0 2h0m0 1h0m0 1h0m0 1h0m0 2h0m0 2h0m0 12h0m0 0h0m0 4h0m0 2h0m0 3h0m0 0h0m0 4h0m0 1h0m0 1h0m0 0h0m0 2h0m0 0h0m0 4h0m0 0h0m0 2h0m0 0h0m1-59h0m0 1h0m0 7h0m0 3h0m0 2h0m0 13h0m0 3h0m0 5h0m0 9h0m0 5h0m0 1h0m0 3h0m0 0h0m0 2h0m0 0h0m0 0h0m0 2h0m0 0h0m0 1h0m0 0h0m0 0h0m1-59h0m0 1h0m0 1h0m0 7h0m0 5h0m0 11h0m0 7h0m0 0h0m0 4h0m0 1h0m0 1h0m0 2h0m0 4h0m0 1h0m0 1h0m0 2h0m0 3h0m0 0h0m0 2h0m0 0h0m0 0h0m0 1h0m0 0h0m0 1h0m0 1h0m0 0h0m0 1h0m0 1h0m0 0h0m0 0h0m0 1h0m1-56h0m0 12h0m0 14h0m0 2h0m0 3h0m0 5h0m0 5h0m0 6h0m0 1h0m0 1h0m0 1h0m0 1h0m0 1h0m0 1h0m0 0h0m0 1h0m0 1h0m1-76h0m0 9h0m0 6h0m0 6h0m0 19h0m0 7h0m0 7h0m0 0h0m0 3h0m0 1h0m0 2h0m0 2h0m0 0h0m0 2h0m0 1h0m0 0h0m0 1h0m0 1h0m0 1h0m0 2h0m0 1h0m0 1h0m0 3h0m0 0h0m1-77h0m0 1h0m0 10h0m0 6h0m0 11h0m0 5h0m0 4h0m0 4h0m0 2h0m0 1h0m0 5h0m0 3h0m0 4h0m0 8h0m0 1h0m0 7h0m0 1h0m0 4h0m1-71h0m0 5h0m0 1h0m0 8h0m0 18h0m0 8h0m0 12h0m0 0h0m0 0h0m0 2h0m0 4h0m0 4h0m0 3h0m0 0h0m0 1h0m0 1h0m1-67h0m0 10h0m0 1h0m0 9h0m0 2h0m0 0h0m0 4h0m0 3h0m0 2h0m0 1h0m0 1h0m0 17h0m0 5h0m0 3h0m0 2h0m0 1h0m0 1h0m0 1h0m0 1h0m0 2h0m0 1h0m0 0h0m0 0h0m1-68h0m0 5h0m0 8h0m0 11h0m0 8h0m0 5h0m0 3h0m0 9h0m0 4h0m0 0h0m0 2h0m0 1h0m0 6h0m0 4h0m0 4h0m1-67h0m0 30h0m0 4h0m0 8h0m0 2h0m0 3h0m0 1h0m0 3h0m0 2h0m0 1h0m0 0h0m0 0h0m0 0h0m0 3h0m0 1h0m0 2h0m0 1h0m0 1h0m0 1h0m0 0h0m0 0h0m0 0h0m0 1h0m0 2h0m1-67h0m0 21h0m0 0h0m0 1h0m0 5h0m0 9h0m0 5h0m0 0h0m0 1h0m0 3h0m0 1h0m0 3h0m0 0h0m0 1h0m0 0h0m0 1h0m0 4h0m0 3h0m0 1h0m0 2h0m0 1h0m0 2h0m0 2h0m1-49h0m0 16h0m0 1h0m0 2h0m0 1h0m0 1h0m0 5h0m0 4h0m0 0h0m0 6h0m0 4h0m0 3h0m0 2h0m0 0h0m0 1h0m0 1h0m0 1h0m0 1h0m0 0h0m0 1h0m1-45h0m0 16h0m0 5h0m0 1h0m0 3h0m0 8h0m0 2h0m0 2h0m0 0h0m0 1h0m0 3h0m0 5h0m1-64h0m0 28h0m0 3h0m0 8h0m0 8h0m0 0h0m0 1h0m0 3h0m0 4h0m0 0h0m0 2h0m0 4h0m1-33h0m0 13h0m0 0h0m0 3h0m0 14h0m0 5h0m1-56h0m0 1h0m0 5h0m0 10h0m0 4h0m0 9h0m0 5h0m0 5h0m0 6h0m1-54h0m0 14h0m0 4h0m0 9h0m0 7h0m0 16h0m0 3h0m0 0h0m0 4h0m0 1h0m1-41h0m0 21h0m0 4h0m0 2h0m0 6h0m0 7h0m1-40h0m0 4h0m0 1h0m0 10h0m0 2h0m0 3h0m0 6h0m0 4h0m0 1h0m0 4h0m0 1h0m0 7h0m1-56h0m0 10h0m0 6h0m0 12h0m0 8h0m0 1h0m0 9h0m1-58h0m0 13h0m0 13h0m0 3h0m0 16h0m0 5h0m0 7h0m0 3h0m1-54h0m0 11h0m0 3h0m0 12h0m0 4h0m0 6h0m0 10h0m0 2h0m1-26h0m0 12h0m0 7h0m0 8h0m0 2h0m1-31h0m0 10h0m0 1h0m0 6h0m0 3h0m0 2h0m0 1h0m0 1h0m0 3h0m0 0h0m0 1h0m1-17h0m0 0h0m0 16h0m0 3h0m1-46h0m0 0h0m0 18h0m0 7h0m0 4h0m0 6h0m0 9h0m0 3h0m0 7h0m1-56h0m0 4h0m0 0h0m0 0h0m0 0h0m0 7h0m0 0h0m0 11h0m0 2h0m0 3h0m0 1h0m0 8h0m1-7h0m0 2h0m0 2h0m1-37h0m0 19h0m0 1h0m0 1h0m0 1h0m0 7h0m1-25h0m0 28h0m0 9h0m1-33h0m0 15h0m0 0h0m1-20h0m0 38h0m4-14h0m0 1h0m1-27h0m1 4h0m3 19h0m5-20h0m1 3h0"/><path d="M1027 322h0m1 7h0m0 15h0m3-22h0m1 4h0m0 14h0m3 5h0m1-22h0m0 4h0m0 2h0m0 15h0m0 11h0m2-21h0m0 2h0m0 13h0m1-25h0m0 13h0m1 4h0m0 10h0m1-26h0m1 14h0m0 27h0m1-24h0m0 7h0m1-17h0m0 28h0m0 2h0m1-24h0m0 2h0m0 8h0m0 4h0m0 4h0m0 4h0m0 6h0m1-29h0m0 11h0m0 21h0m1-49h0m0 35h0m0 12h0m0 1h0m1-34h0m0 3h0m0 4h0m0 5h0m0 9h0m0 17h0m0 1h0m0 0h0m0 4h0m1-44h0m0 21h0m0 8h0m0 4h0m0 6h0m1-37h0m0 3h0m0 5h0m0 4h0m0 3h0m0 14h0m0 3h0m0 6h0m0 1h0m1-36h0m0 7h0m0 6h0m0 8h0m0 4h0m0 5h0m0 0h0m0 0h0m0 6h0m0 3h0m0 0h0m1-32h0m0 2h0m0 6h0m0 6h0m0 2h0m0 1h0m0 6h0m0 7h0m0 5h0m1-49h0m0 14h0m0 10h0m0 6h0m0 4h0m0 6h0m0 3h0m0 0h0m0 1h0m0 1h0m0 3h0m0 5h0m0 6h0m1-42h0m0 19h0m0 6h0m0 4h0m0 4h0m0 0h0m0 0h0m0 2h0m1-48h0m0 5h0m0 1h0m0 6h0m0 3h0m0 3h0m0 6h0m0 1h0m0 10h0m0 0h0m0 5h0m0 1h0m0 4h0m0 1h0m0 1h0m1-45h0m0 15h0m0 5h0m0 2h0m0 2h0m0 5h0m0 1h0m0 3h0m0 0h0m0 8h0m0 0h0m0 1h0m0 0h0m0 4h0m0 5h0m1-68h0m0 37h0m0 7h0m0 8h0m0 10h0m0 1h0m0 0h0m0 3h0m0 2h0m0 0h0m0 1h0m1-49h0m0 7h0m0 7h0m0 0h0m0 18h0m0 3h0m0 3h0m0 1h0m0 0h0m0 2h0m0 1h0m0 1h0m0 0h0m0 2h0m0 1h0m0 1h0m0 0h0m1-45h0m0 3h0m0 2h0m0 15h0m0 8h0m0 3h0m1-34h0m0 21h0m0 6h0m0 4h0m0 4h0m0 0h0m0 2h0m0 5h0m0 0h0m0 1h0m0 5h0m0 0h0m1-56h0m0 20h0m0 0h0m0 2h0m0 5h0m0 8h0m0 9h0m0 4h0m0 1h0m0 2h0m0 1h0m0 0h0m0 1h0m0 0h0m0 1h0m0 0h0m0 1h0m0 2h0m0 1h0m1-43h0m0 3h0m0 18h0m0 1h0m0 2h0m0 1h0m0 14h0m0 0h0m0 4h0m0 2h0m0 1h0m1-56h0m0 2h0m0 13h0m0 3h0m0 3h0m0 10h0m0 5h0m0 2h0m0 4h0m0 1h0m0 8h0m0 1h0m0 1h0m0 2h0m0 1h0m0 1h0m1-57h0m0 9h0m0 18h0m0 8h0m0 1h0m0 2h0m0 4h0m0 0h0m0 9h0m0 0h0m0 0h0m0 1h0m0 1h0m0 2h0m0 1h0m0 1h0m0 0h0m0 3h0m1-46h0m0 2h0m0 0h0m0 9h0m0 4h0m0 3h0m0 5h0m0 0h0m0 1h0m0 1h0m0 2h0m0 1h0m0 1h0m0 8h0m0 3h0m0 0h0m0 2h0m0 0h0m0 1h0m0 2h0m1-75h0m0 11h0m0 0h0m0 3h0m0 0h0m0 20h0m0 6h0m0 4h0m0 9h0m0 2h0m0 2h0m0 5h0m0 1h0m0 1h0m0 5h0m0 2h0m0 0h0m0 1h0m0 1h0m0 0h0m0 0h0m0 1h0m0 1h0m1-67h0m0 4h0m0 8h0m0 10h0m0 5h0m0 10h0m0 1h0m0 1h0m0 4h0m0 6h0m0 3h0m0 0h0m0 3h0m0 1h0m0 2h0m0 0h0m0 2h0m0 2h0m0 1h0m0 0h0m0 1h0m0 1h0m0 1h0m0 1h0m0 1h0m0 3h0m1-76h0m0 28h0m0 13h0m0 3h0m0 11h0m0 1h0m0 0h0m0 3h0m0 4h0m0 2h0m0 1h0m0 0h0m0 0h0m0 2h0m0 1h0m0 0h0m0 1h0m0 1h0m0 1h0m0 1h0m0 2h0m1-47h0m0 5h0m0 2h0m0 0h0m0 6h0m0 2h0m0 6h0m0 2h0m0 2h0m0 1h0m0 2h0m0 0h0m0 1h0m0 1h0m0 0h0m0 1h0m0 5h0m0 3h0m0 2h0m0 1h0m0 0h0m0 1h0m0 0h0m0 0h0m0 2h0m0 0h0m0 0h0m0 0h0m0 1h0m0 0h0m0 0h0m0 4h0m0 0h0m1-76h0m0 12h0m0 4h0m0 9h0m0 4h0m0 1h0m0 3h0m0 8h0m0 10h0m0 1h0m0 0h0m0 1h0m0 0h0m0 4h0m0 3h0m0 1h0m0 0h0m0 1h0m0 4h0m0 0h0m0 0h0m0 1h0m0 2h0m0 0h0m0 4h0m0 0h0m0 2h0m1-62h0m0 1h0m0 14h0m0 1h0m0 1h0m0 6h0m0 1h0m0 3h0m0 9h0m0 1h0m0 0h0m0 0h0m0 3h0m0 0h0m0 7h0m0 2h0m0 0h0m0 0h0m0 2h0m0 5h0m0 2h0m0 0h0m0 0h0m0 1h0m0 2h0m0 1h0m0 0h0m0 0h0m0 0h0m1-61h0m0 15h0m0 6h0m0 3h0m0 6h0m0 0h0m0 0h0m0 2h0m0 0h0m0 0h0m0 3h0m0 1h0m0 2h0m0 3h0m0 1h0m0 0h0m0 3h0m0 4h0m0 1h0m0 1h0m0 0h0m0 3h0m0 0h0m0 1h0m0 1h0m0 1h0m0 1h0m0 2h0m0 0h0m0 1h0m1-46h0m0 11h0m0 2h0m0 4h0m0 1h0m0 2h0m0 7h0m0 1h0m0 7h0m0 0h0m0 5h0m0 0h0m0 3h0m0 1h0m0 1h0m0 0h0m0 0h0m1-51h0m0 2h0m0 5h0m0 1h0m0 5h0m0 4h0m0 2h0m0 2h0m0 1h0m0 1h0m0 4h0m0 5h0m0 1h0m0 1h0m0 2h0m0 3h0m0 3h0m0 1h0m0 0h0m0 2h0m0 3h0m0 0h0m0 0h0m0 1h0m0 0h0m0 1h0m0 0h0m0 1h0m0 0h0m0 1h0m0 1h0m0 0h0m0 0h0m0 1h0m0 0h0m0 1h0m1-45h0m0 3h0m0 9h0m0 3h0m0 3h0m0 0h0m0 2h0m0 9h0m0 5h0m0 2h0m0 1h0m0 2h0m0 1h0m0 1h0m0 0h0m0 2h0m1-48h0m0 12h0m0 7h0m0 2h0m0 7h0m0 1h0m0 1h0m0 1h0m0 3h0m0 0h0m0 4h0m0 0h0m0 0h0m0 2h0m0 2h0m0 1h0m0 1h0m0 1h0m0 1h0m0 1h0m0 3h0m0 0h0m0 0h0m0 0h0m0 1h0m0 0h0m1-41h0m0 6h0m0 1h0m0 5h0m0 1h0m0 1h0m0 1h0m0 1h0m0 5h0m0 4h0m0 1h0m0 2h0m0 1h0m0 1h0m0 3h0m0 0h0m0 1h0m0 0h0m0 2h0m0 0h0m0 0h0m0 0h0m0 1h0m0 0h0m0 1h0m0 0h0m0 1h0m0 0h0m0 1h0m0 0h0m0 2h0m0 0h0m0 0h0m1-30h0m0 3h0m0 1h0m0 4h0m0 0h0m0 0h0m0 1h0m0 3h0m0 1h0m0 1h0m0 1h0m0 0h0m0 1h0m0 1h0m0 1h0m0 1h0m0 1h0m0 1h0m0 2h0m0 0h0m0 0h0m0 1h0m0 1h0m0 1h0m0 0h0m0 0h0m0 0h0m0 0h0m0 1h0m0 1h0m0 1h0m0 0h0m0 1h0m0 0h0m0 0h0m1-26h0m0 1h0m0 2h0m0 8h0m0 0h0m0 0h0m0 3h0m0 0h0m0 1h0m0 1h0m0 2h0m0 1h0m0 1h0m0 1h0m0 0h0m0 1h0m0 0h0m0 1h0m0 0h0m0 0h0m0 0h0m0 0h0m0 1h0m0 0h0m0 0h0m0 0h0m0 1h0m0 0h0m0 1h0m0 0h0m0 2h0m1-26h0m0 2h0m0 3h0m0 2h0m0 1h0m0 2h0m0 2h0m0 1h0m0 1h0m0 1h0m0 2h0m0 1h0m0 0h0m0 0h0m0 0h0m0 1h0m0 0h0m0 0h0m0 0h0m0 2h0m0 0h0m0 0h0m0 0h0m0 1h0m0 1h0m0 0h0m0 1h0m0 0h0m0 0h0m0 0h0m0 0h0m0 0h0m0 1h0m0 0h0m0 0h0m0 0h0m0 1h0m1-16h0m0 0h0m0 2h0m0 0h0m0 1h0m0 0h0m0 1h0m0 2h0m0 1h0m0 1h0m0 1h0m0 1h0m0 0h0m0 0h0m0 1h0m0 1h0m0 0h0m0 0h0m0 1h0m0 0h0m0 1h0m0 0h0m0 0h0m0 0h0m0 1h0m0 0h0m0 1h0m0 0h0m1-15h0m0 2h0m0 1h0m0 1h0m0 2h0m0 0h0m0 0h0m0 2h0m0 1h0m0 1h0m0 1h0m0 0h0m0 1h0m0 0h0m0 0h0m0 1h0m0 0h0m0 0h0m0 0h0m0 0h0m0 1h0m0 0h0m0 0h0m0 0h0m0 0h0m0 0h0m0 1h0m0 0h0m1-11h0m0 1h0m0 3h0m0 2h0m0 0h0m0 1h0m0 1h0m0 1h0m0 0h0m0 0h0m0 0h0m0 1h0m0 0h0m0 0h0m0 0h0m0 1h0m0 0h0m0 0h0m0 0h0m0 1h0m0 0h0m0 0h0m0 0h0m0 1h0m1-13h0m0 2h0m0 0h0m0 0h0m0 2h0m0 1h0m0 1h0m0 0h0m0 0h0m0 1h0m0 1h0m0 0h0m0 0h0m0 0h0m0 0h0m0 2h0m0 0h0m0 1h0m0 0h0m0 0h0m0 0h0m0 0h0m0 0h0m0 0h0m0 1h0m0 0h0m0 0h0m0 0h0m0 0h0m1-11h0m0 1h0m0 0h0m0 0h0m0 2h0m0 1h0m0 0h0m0 1h0m0 0h0m0 0h0m0 1h0m0 0h0m0 0h0m0 1h0m0 0h0m0 1h0m0 0h0m0 1h0m0 0h0m0 1h0m0 0h0m0 0h0m0 0h0m0 1h0m0 0h0m0 0h0m0 0h0m0 0h0m0 0h0m0 1h0m0 0h0m0 0h0m0 0h0m1-13h0m0 0h0m0 1h0m0 1h0m0 1h0m0 0h0m0 0h0m0 0h0m0 1h0m0 1h0m0 1h0m0 0h0m0 0h0m0 0h0m0 1h0m0 0h0m0 1h0m0 0h0m0 1h0m0 1h0m0 0h0m0 0h0m0 0h0m0 1h0m0 0h0m0 1h0m0 0h0m0 1h0m0 0h0m0 0h0m0 0h0m0 0h0m0 0h0m0 0h0m0 1h0m0 0h0m0 0h0m0 0h0m1-9h0m0 0h0m0 0h0m0 1h0m0 0h0m0 1h0m0 1h0m0 0h0m0 0h0m0 0h0m0 0h0m0 1h0m0 1h0m0 0h0m0 0h0m0 0h0m0 1h0m0 0h0m0 0h0m0 0h0m0 0h0m0 0h0m0 1h0m0 0h0m0 0h0m0 0h0m0 0h0m0 0h0m0 0h0m0 0h0m0 0h0m0 0h0m0 1h0m0 0h0m0 0h0m0 0h0m0 0h0m0 0h0m0 0h0m0 0h0m0 0h0m0 0h0m0 0h0m0 1h0m0 0h0m0 0h0m0 0h0m0 0h0m0 0h0m0 0h0m0 0h0m0 0h0m0 0h0m0 0h0m0 0h0m0 0h0m0 0h0m0 0h0m0 0h0m0 0h0m0 0h0m0 0h0m0 0h0m1-14h0m0 2h0m0 0h0m0 1h0m0 2h0m0 0h0m0 0h0m0 1h0m0 0h0m0 0h0m0 1h0m0 0h0m0 0h0m0 1h0m0 1h0m0 0h0m0 0h0m0 1h0m0 0h0m0 1h0m0 1h0m0 0h0m0 0h0m0 0h0m0 0h0m0 0h0m0 0h0m0 1h0m0 0h0m0 0h0m0 0h0m0 0h0m0 0h0m0 0h0m0 0h0m0 0h0m0 0h0m0 0h0m0 0h0m0 0h0m0 1h0m0 0h0m0 0h0m0 0h0m0 0h0m0 0h0m0 0h0m0 0h0m0 0h0m0 0h0m0 0h0m0 0h0m0 0h0m0 0h0m1-13h0m0 0h0m0 1h0m0 1h0m0 0h0m0 0h0m0 1h0m0 0h0m0 2h0m0 0h0m0 0h0m0 0h0m0 1h0m0 0h0m0 0h0m0 0h0m0 0h0m0 0h0m0 0h0m0 1h0m0 0h0m0 0h0m0 1h0m0 0h0m0 0h0m0 1h0m0 0h0m0 0h0m0 0h0m0 0h0m0 1h0m0 0h0m0 0h0m0 0h0m0 1h0m0 0h0m0 0h0m0 0h0m0 0h0m0 0h0m0 0h0m0 0h0m0 1h0m0 0h0m0 0h0m0 0h0m0 0h0m0 0h0m0 0h0m0 0h0m0 0h0m0 0h0m0 1h0m0 0h0m0 0h0m1-13h0m0 2h0m0 1h0m0 0h0m0 1h0m0 0h0m0 1h0m0 0h0m0 1h0m0 1h0m0 0h0m0 2h0m0 0h0m0 0h0m0 0h0m0 0h0m0 0h0m0 1h0m0 0h0m0 0h0m0 1h0m0 0h0m0 0h0m0 0h0m0 0h0m0 0h0m0 0h0m0 0h0m0 0h0m0 1h0m0 0h0m0 0h0m0 0h0m0 0h0m0 0h0m1-12h0m0 1h0m0 0h0m0 0h0m0 1h0m0 2h0m0 0h0m0 0h0m0 0h0m0 0h0m0 1h0m0 0h0m0 1h0m0 0h0m0 2h0m0 0h0m0 0h0m0 0h0m0 0h0m0 0h0m0 1h0m0 0h0m0 0h0m0 0h0m0 0h0m0 0h0m0 1h0m0 0h0m0 0h0m0 0h0m0 1h0m0 0h0m0 0h0m0 0h0m0 0h0m0 0h0m0 0h0m0 0h0m0 0h0m0 1h0m1-16h0m0 2h0m0 0h0m0 3h0m0 0h0m0 1h0m0 0h0m0 2h0m0 2h0m0 0h0m0 0h0m0 0h0m0 0h0m0 0h0m0 0h0m0 1h0m0 1h0m0 0h0m0 0h0m0 0h0m0 1h0m0 0h0m0 0h0m0 0h0m0 1h0m0 0h0m0 0h0m0 0h0m0 1h0m0 0h0m0 0h0m0 0h0m0 1h0m1-17h0m0 1h0m0 3h0m0 2h0m0 1h0m0 0h0m0 0h0m0 1h0m0 0h0m0 0h0m0 1h0m0 0h0m0 0h0m0 2h0m0 0h0m0 1h0m0 0h0m0 1h0m0 0h0m0 0h0m0 0h0m0 0h0m0 1h0m0 0h0m0 0h0m0 0h0m0 1h0m0 0h0m0 1h0m1-24h0m0 5h0m0 0h0m0 1h0m0 2h0m0 0h0m0 1h0m0 0h0m0 0h0m0 1h0m0 0h0m0 1h0m0 0h0m0 0h0m0 1h0m0 2h0m0 0h0m0 1h0m0 0h0m0 1h0m0 2h0m0 0h0m0 0h0m0 1h0m0 0h0m0 0h0m0 0h0m0 1h0m0 0h0m0 0h0m0 0h0m0 0h0m0 1h0m0 1h0m0 0h0m0 0h0m0 1h0m0 0h0m0 0h0m1-28h0m0 0h0m0 3h0m0 9h0m0 6h0m0 0h0m0 1h0m0 0h0m0 3h0m0 0h0m0 0h0m0 0h0m0 0h0m0 0h0m0 2h0m0 0h0m0 1h0m0 0h0m0 0h0m0 0h0m0 0h0m0 0h0m0 0h0m0 1h0m0 0h0m0 0h0m0 1h0m0 0h0m0 0h0m1-26h0m0 3h0m0 1h0m0 4h0m0 2h0m0 4h0m0 0h0m0 1h0m0 0h0m0 1h0m0 0h0m0 1h0m0 1h0m0 1h0m0 1h0m0 2h0m0 1h0m0 2h0m1-36h0m0 4h0m0 2h0m0 1h0m0 2h0m0 2h0m0 1h0m0 1h0m0 0h0m0 3h0m0 2h0m0 0h0m0 0h0m0 2h0m0 1h0m0 2h0m0 0h0m0 2h0m0 0h0m0 0h0m0 0h0m0 0h0m0 0h0m0 1h0m0 0h0m0 2h0m0 1h0m0 0h0m0 1h0m0 1h0m0 1h0m0 0h0m0 0h0m0 1h0m0 0h0m0 1h0m0 0h0m0 1h0m0 0h0m0 0h0m0 0h0m0 0h0m0 0h0m0 1h0m1-36h0m0 7h0m0 2h0m0 2h0m0 0h0m0 2h0m0 0h0m0 4h0m0 2h0m0 0h0m0 1h0m0 2h0m0 1h0m0 0h0m0 0h0m0 1h0m0 0h0m0 1h0m0 1h0m0 2h0m0 0h0m0 1h0m0 0h0m0 3h0m0 0h0m0 1h0m0 0h0m0 1h0m0 1h0m0 0h0m0 1h0m1-41h0m0 1h0m0 2h0m0 3h0m0 3h0m0 11h0m0 1h0m0 0h0m0 0h0m0 1h0m0 0h0m0 3h0m0 2h0m0 3h0m0 0h0m0 1h0m0 1h0m0 1h0m0 1h0m0 1h0m0 0h0m0 1h0m0 0h0m0 0h0m0 0h0m0 1h0m0 1h0m0 0h0m0 1h0m0 0h0m0 0h0m0 1h0m0 0h0m0 0h0m1-58h0m0 3h0m0 4h0m0 4h0m0 5h0m0 3h0m0 2h0m0 1h0m0 0h0m0 2h0m0 7h0m0 0h0m0 1h0m0 11h0m0 2h0m0 2h0m0 0h0m0 1h0m0 2h0m0 0h0m0 1h0m0 0h0m0 2h0m0 1h0m0 0h0m0 0h0m0 1h0m0 0h0m0 1h0m1-66h0m0 21h0m0 16h0m0 10h0m0 1h0m0 0h0m0 3h0m0 1h0m0 0h0m0 0h0m0 1h0m0 1h0m0 0h0m0 0h0m0 1h0m0 1h0m0 0h0m0 1h0m0 1h0m0 1h0m0 1h0m0 0h0m0 1h0m0 3h0m0 0h0m0 1h0m0 1h0m1-59h0m0 6h0m0 3h0m0 7h0m0 1h0m0 1h0m0 4h0m0 1h0m0 8h0m0 2h0m0 3h0m0 0h0m0 1h0m0 2h0m0 1h0m0 2h0m0 0h0m0 2h0m0 3h0m0 0h0m0 1h0m0 1h0m0 1h0m0 1h0m0 0h0m0 1h0m0 0h0m0 1h0m0 1h0m0 1h0m0 0h0m0 1h0m0 1h0m0 0h0m1-59h0m0 1h0m0 3h0m0 4h0m0 1h0m0 6h0m0 4h0m0 6h0m0 1h0m0 2h0m0 2h0m0 10h0m0 3h0m0 1h0m0 1h0m0 4h0m0 6h0m0 0h0m0 0h0m0 1h0m0 1h0m0 1h0m0 1h0m1-75h0m0 4h0m0 36h0m0 9h0m0 1h0m0 6h0m0 2h0m0 0h0m0 1h0m0 0h0m0 3h0m0 8h0m0 1h0m0 0h0m0 2h0m0 0h0m1-62h0m0 5h0m0 7h0m0 0h0m0 9h0m0 1h0m0 1h0m0 5h0m0 3h0m0 3h0m0 1h0m0 4h0m0 0h0m0 3h0m0 1h0m0 2h0m0 6h0m0 2h0m0 2h0m0 1h0m0 1h0m0 2h0m0 0h0m0 1h0m0 0h0m0 1h0m0 0h0m0 1h0m0 1h0m1-61h0m0 12h0m0 3h0m0 11h0m0 1h0m0 1h0m0 4h0m0 4h0m0 3h0m0 1h0m0 1h0m0 3h0m0 3h0m0 0h0m0 2h0m0 0h0m0 3h0m0 1h0m0 0h0m0 1h0m0 0h0m0 1h0m0 1h0m0 2h0m0 1h0m0 1h0m0 1h0m1-79h0m0 13h0m0 12h0m0 2h0m0 5h0m0 12h0m0 1h0m0 1h0m0 5h0m0 5h0m0 0h0m0 2h0m0 1h0m0 2h0m0 2h0m0 1h0m0 2h0m0 0h0m0 3h0m0 2h0m0 3h0m0 1h0m0 0h0m0 1h0m0 1h0m1-66h0m0 8h0m0 13h0m0 12h0m0 9h0m0 2h0m0 0h0m0 5h0m0 3h0m0 1h0m0 0h0m0 1h0m0 1h0m0 2h0m0 6h0m0 1h0m0 1h0m0 0h0m0 1h0m1-52h0m0 5h0m0 5h0m0 3h0m0 9h0m0 1h0m0 1h0m0 5h0m0 0h0m0 1h0m0 3h0m0 2h0m0 1h0m0 4h0m0 1h0m0 2h0m0 1h0m0 1h0m0 1h0m0 0h0m0 2h0m0 1h0m1-65h0m0 11h0m0 11h0m0 3h0m0 3h0m0 1h0m0 12h0m0 0h0m0 4h0m0 0h0m0 5h0m0 1h0m0 4h0m0 4h0m0 0h0m0 0h0m0 1h0m0 3h0m0 0h0m0 1h0m0 2h0m0 1h0m0 0h0m0 0h0m0 0h0m1-70h0m0 26h0m0 18h0m0 5h0m0 1h0m0 0h0m0 7h0m0 5h0m0 1h0m0 1h0m0 0h0m0 0h0m0 1h0m0 1h0m0 0h0m0 2h0m1-46h0m0 9h0m0 20h0m0 9h0m0 0h0m0 2h0m0 0h0m0 3h0m0 2h0m1-60h0m0 5h0m0 18h0m0 3h0m0 17h0m0 1h0m0 2h0m0 1h0m0 0h0m0 4h0m0 3h0m0 4h0m0 2h0m0 1h0m0 0h0m1-73h0m0 3h0m0 25h0m0 3h0m0 2h0m0 5h0m0 2h0m0 3h0m0 1h0m0 9h0m0 3h0m0 1h0m0 3h0m0 1h0m0 0h0m0 2h0m0 3h0m0 1h0m0 0h0m0 2h0m0 0h0m0 1h0m0 0h0m0 1h0m1-58h0m0 10h0m0 7h0m0 17h0m0 3h0m0 5h0m0 1h0m0 7h0m0 0h0m0 1h0m0 1h0m0 3h0m1-49h0m0 17h0m0 7h0m0 8h0m0 5h0m0 3h0m0 0h0m0 5h0m0 1h0m1-33h0m0 1h0m0 4h0m0 14h0m0 1h0m0 1h0m0 2h0m0 1h0m0 1h0m0 1h0m0 1h0m0 9h0m1-46h0m0 15h0m0 0h0m0 3h0m0 5h0m0 3h0m0 5h0m0 0h0m0 1h0m0 11h0m0 6h0m1-68h0m0 0h0m0 7h0m0 11h0m0 6h0m0 7h0m0 13h0m0 1h0m0 1h0m0 6h0m0 3h0m0 10h0m1-43h0m0 2h0m0 2h0m0 4h0m0 4h0m0 18h0m0 5h0m0 3h0m1-36h0m0 15h0m0 2h0m0 1h0m0 2h0m0 5h0m0 1h0m0 7h0m0 1h0m0 3h0m1-63h0m0 15h0m0 6h0m0 3h0m0 0h0m0 1h0m0 5h0m0 6h0m0 6h0m0 8h0m0 0h0m0 1h0m0 2h0m0 0h0m0 4h0m1-45h0m0 20h0m0 5h0m0 3h0m0 1h0m0 0h0m0 1h0m0 5h0m0 1h0m0 2h0m0 1h0m0 0h0m0 6h0m1-59h0m0 16h0m0 13h0m0 3h0m0 11h0m0 4h0m0 10h0m0 3h0m0 4h0m1-32h0m0 3h0m0 3h0m0 4h0m0 1h0m0 3h0m0 7h0m0 2h0m0 15h0m1-60h0m0 6h0m0 1h0m0 13h0m0 28h0m1-40h0m0 15h0m0 14h0m0 9h0m1-45h0m0 10h0m0 21h0m0 0h0m0 2h0m0 3h0m1-39h0m0 16h0m0 13h0m0 4h0m0 7h0m1-45h0m0 15h0m0 4h0m0 6h0m0 2h0m0 16h0m1-44h0m0 3h0m0 23h0m0 3h0m0 1h0m0 9h0m0 8h0m1-41h0m0 17h0m0 10h0m0 12h0m0 11h0m1-46h0m0 1h0m0 17h0m0 6h0m1-16h0m2 9h0m0 9h0m2-19h0m5-18h0m0 23h0m3-7h0m1 12h0"/></g><g transform="scale(.5)" fill="none" stroke="#c4c4c4" stroke-opacity="0.2" stroke-width="7.00" stroke-linecap="round"><path d="M968 354h0m4 12h0m6-46h0m10 24h0m0 5h0m3-16h0m0 21h0m3-18h0m1-2h0m1 2h0m0 1h0m0 20h0m1-18h0m0 10h0m0 6h0m1-26h0m0 16h0m1-18h0m0 21h0m2-11h0m1-8h0m3 5h0m2-11h0m0 27h0m1-20h0m0 13h0m1-15h0m0 15h0m1-11h0m0 49h0m1-58h0m1 24h0m0 4h0m1-18h0m0 7h0m0 15h0m0 24h0m1-53h0m0 30h0m1-21h0m0 9h0m0 39h0m1-44h0m0 25h0m3-35h0m0 21h0m0 32h0m1-30h0m2 9h0m0 8h0m0 6h0m1-43h0m0 30h0m1-26h0m0 16h0m0 8h0m0 7h0m1-29h0m0 19h0m0 5h0m0 3h0m0 10h0m0 2h0m1-36h0m0 4h0m0 39h0m1-37h0m0 2h0m0 3h0m1-32h0m1 41h0m0 16h0m1-26h0m0 4h0m1-26h0m0 58h0m0 0h0m1-15h0m0 3h0m1-8h0m0 4h0m1-14h0m0 2h0m0 16h0m0 0h0m1-33h0m2 4h0m1 15h0m0 4h0m0 9h0m0 6h0m0 9h0m1-18h0m1-9h0m0 6h0m0 24h0m1-27h0m0 4h0m0 4h0m0 7h0m0 1h0m1-14h0m0 6h0m0 13h0m1-24h0m0 4h0m0 3h0m2-12h0m0 6h0m0 17h0m1 1h0m2 0h0m0 7h0m0 2h0m1-16h0m0 16h0m1-24h0m0 15h0m1-9h0m1 19h0m0 8h0m1-14h0m0 7h0m1 2h0m1-1h0m1-13h0m0 12h0m0 5h0m1-18h0m0 13h0m0 0h0m1-4h0m0 3h0m1-4h0m0 3h0m0 0h0m1 10h0m2-7h0m1 0h0m0 2h0m0 1h0m0 2h0m0 1h0m1 2h0m2-3h0m3 0h0m2 4h0m2 2h0m1-1h0m1-1h0m1 4h0m3 1h0m19 1h0m3-3h0m0 0h0m1-2h0m1 1h0m2-3h0m1 0h0m2 0h0m0 0h0m2-2h0m1-5h0m0 1h0m1 2h0m1-1h0m1-2h0m1-3h0m0 2h0m0 8h0m2-10h0m2-10h0m1 3h0m0 4h0m2-7h0m0 2h0m1-16h0m0 8h0m0 14h0m0 1h0m1-6h0m0 12h0m1-29h0m0 16h0m0 5h0m0 1h0m1-11h0m0 2h0m0 14h0m1-21h0m0 8h0m0 7h0m0 5h0m1-28h0m0 11h0m0 11h0m1-11h0m0 16h0m0 3h0m1-27h0m1-5h0m1 2h0m2-3h0m0 9h0m0 4h0m0 3h0m0 2h0m0 9h0m1-34h0m0 15h0m1-17h0m0 16h0m2-6h0m1-20h0m0 7h0m0 6h0m1-16h0m0 4h0m0 9h0m0 15h0m1-25h0m0 12h0m1-4h0m1 6h0m0 5h0m0 18h0m1-47h0m0 20h0m0 11h0m0 2h0m0 0h0m0 5h0m2-48h0m0 10h0m1 16h0m0 15h0m0 19h0m1-47h0m0 20h0m0 7h0m0 0h0m1-10h0m0 8h0m0 11h0m1-30h0m0 28h0m1-36h0m0 32h0m1-9h0m1-35h0m0 24h0m0 11h0m1-19h0m0 4h0m1 13h0m0 9h0m1-35h0m0 22h0m1 16h0m1-12h0m0 0h0m1-20h0m0 23h0m0 13h0m1-42h0m0 10h0m1 30h0m1-23h0m1 7h0m1 34h0m1-65h0m1 18h0m0 14h0m2-24h0m2 22h0m1 2h0m3-31h0m2 21h0m4-14h0m0 11h0m2-22h0m4 11h0m2 29h0m1-1h0m2 14h0m31-27h0"/><path d="M970 352h0m3-14h0m8-1h0m5 13h0m0 11h0m5-40h0m0 1h0m0 9h0m1 18h0m5 6h0m1-8h0m0 3h0m3-21h0m3 17h0m0 7h0m3-24h0m0 24h0m0 9h0m1 7h0m1-9h0m2-21h0m0 32h0m1-42h0m2 18h0m0 3h0m1-26h0m0 35h0m0 25h0m1-56h0m0 5h0m0 4h0m0 17h0m1-9h0m0 23h0m0 1h0m1-7h0m0 5h0m1-13h0m0 10h0m0 0h0m1-13h0m0 4h0m1-16h0m1 5h0m0 4h0m0 3h0m0 5h0m1-8h0m0 7h0m0 2h0m1-34h0m0 60h0m1-58h0m0 6h0m0 22h0m2-17h0m0 9h0m0 9h0m0 12h0m1-21h0m0 6h0m0 4h0m0 29h0m1-44h0m0 4h0m0 0h0m0 20h0m0 5h0m0 15h0m1-41h0m0 15h0m2-2h0m0 5h0m1-18h0m0 9h0m0 9h0m1 12h0m0 6h0m1-10h0m0 14h0m1-33h0m0 5h0m0 5h0m0 5h0m0 3h0m1 6h0m2-16h0m0 6h0m0 20h0m1-8h0m0 8h0m1-45h0m0 41h0m1-8h0m1-18h0m0 20h0m0 4h0m0 3h0m0 10h0m1 1h0m1-38h0m0 14h0m0 3h0m1 3h0m0 9h0m2-9h0m0 12h0m1-6h0m0 3h0m0 1h0m1 7h0m0 0h0m1-20h0m0 4h0m0 13h0m1-12h0m2 11h0m1 8h0m0 2h0m0 4h0m2-29h0m0 25h0m1-6h0m0 0h0m0 7h0m2-4h0m1 0h0m0 1h0m0 5h0m2-5h0m0 0h0m2 4h0m2 4h0m2-1h0m2-1h0m2 3h0m5 2h0m2 1h0m16 0h0m1-1h0m5-3h0m0 1h0m1 1h0m5-10h0m1 1h0m0 4h0m2 2h0m1-7h0m1 3h0m1-6h0m1 7h0m2-8h0m1-5h0m0 8h0m1-7h0m2 2h0m1-16h0m0 18h0m0 5h0m1-15h0m0 2h0m0 1h0m0 5h0m0 6h0m1-19h0m1-12h0m0 9h0m0 16h0m0 1h0m0 7h0m2-36h0m0 13h0m0 17h0m1-8h0m1-6h0m0 0h0m0 1h0m0 3h0m1 4h0m1-15h0m0 18h0m1 7h0m1-21h0m0 0h0m0 6h0m1-22h0m0 26h0m0 1h0m1 6h0m1-26h0m0 9h0m0 14h0m1-9h0m1-18h0m0 8h0m1-5h0m0 6h0m0 15h0m0 4h0m1-7h0m1 10h0m1-16h0m0 0h0m1-32h0m0 0h0m1 7h0m0 10h0m1-19h0m0 9h0m1-28h0m0 59h0m1-58h0m0 24h0m1-3h0m0 16h0m0 6h0m0 3h0m1 15h0m1-9h0m0 7h0m1-29h0m0 10h0m1-3h0m0 4h0m1-2h0m0 5h0m1-33h0m0 8h0m0 21h0m0 3h0m1-39h0m0 25h0m0 30h0m1-24h0m1-35h0m0 13h0m0 0h0m0 15h0m1 7h0m1-18h0m2-11h0m0 6h0m0 12h0m1-29h0m0 7h0m0 9h0m0 14h0m1-5h0m1 5h0m0 2h0m1 7h0m2 3h0m1-26h0m1 1h0m1-14h0m0 50h0m1-40h0m0 40h0m1-48h0m0 17h0m1-6h0m6 7h0m2-12h0m7 22h0m2-29h0m12-3h0"/></g><g transform="scale(.5)" fill="none" stroke="#ff0000" stroke-opacity="0.14" stroke-width="7.00" stroke-linecap="round"><path d="M936 270h0m31 45h0m0 4h0m1-17h0m1-80h0m12 6h0m3 39h0m7-30h0m6 34h0m1 27h0m1-8h0m1-9h0m17-43h0m0 39h0m1 15h0m2-49h0m0 70h0m2-3h0m3-32h0m13 6h0m1 33h0m1-58h0m0 59h0m1-67h0m2 22h0m1 44h0m6-3h0m4-136h0m3 81h0m1-28h0m2 84h0m3-71h0m3 75h0m3-32h0m0 12h0m1-1h0m2 3h0m3-25h0m35-13h0m1-30h0m1 79h0m2-40h0m0 44h0m2-102h0m0 104h0m5-8h0m1-78h0m0 80h0m2-21h0m3 7h0m1-7h0m5-7h0m1-28h0m1 53h0m9-10h0m4 11h0m1-101h0m1 106h0m3-121h0m8 99h0m1-3h0m3 25h0m2-74h0m11-57h0m1 128h0m2 3h0m8-95h0m4 89h0m6 8h0m3-7h0m1-202h0m4 151h0m6 34h0m17-186h0"/><path d="M965 243h0m7-66h0m14 86h0m17 50h0m1-50h0m0 28h0m4 11h0m2 12h0m5-30h0m2 28h0m2-125h0m3 81h0m3 34h0m10-18h0m4-52h0m6 45h0m1 38h0m8-8h0m7 4h0m1-33h0m3 27h0m1 12h0m3-55h0m0 28h0m0 2h0m1-4h0m31 17h0m5-6h0m1-40h0m3 58h0m1-21h0m2-1h0m0 2h0m0 2h0m2 5h0m4 9h0m2-22h0m3 19h0m8-5h0m6-30h0m0 42h0m1-33h0m0 2h0m1-9h0m3-85h0m1 75h0m2 33h0m1-25h0m1 18h0m0 26h0m1-160h0m0 33h0m11 69h0m2 49h0m10-13h0m4 12h0m29-30h0"/><path d="M908 161h0m31 103h0m9 48h0m30-48h0m28 28h0m2 9h0m1 4h0m1-6h0m5-7h0m7-18h0m2 18h0m12 16h0m2 0h0m1 3h0m2-147h0m0 123h0m1-29h0m2 57h0m2 4h0m1-47h0m8 33h0m0 13h0m1-75h0m2 57h0m1-34h0m8 48h0m2-68h0m1-104h0m1 170h0m3-37h0m0 28h0m1-20h0m29 2h0m0 34h0m1-12h0m1-25h0m2-47h0m2 30h0m1 19h0m1 25h0m1-118h0m1 125h0m31-7h0m3-4h0m1-53h0m0 67h0m2-32h0m2 11h0m1-89h0m0 94h0m1-30h0m1 6h0m2 26h0m5-25h0m3 7h0m1-72h0m4 104h0m4-69h0m4 32h0m5 8h0m19 7h0m12 17h0m3-203h0m46 194h0"/><path d="M952 304h0m2-44h0m10 45h0m5-80h0m6 88h0m12-36h0m6 42h0m1-55h0m6 36h0m4 1h0m4-46h0m1 55h0m1-4h0m9 10h0m2-5h0m1-82h0m6 14h0m4 2h0m5 63h0m1 0h0m1-23h0m9 25h0m4-7h0m1-109h0m0 111h0m2-7h0m5-7h0m1-55h0m3-69h0m2 137h0m2-22h0m2-23h0m3 34h0m0 22h0m2-55h0m25 45h0m2 1h0m1-56h0m3 9h0m2 56h0m6-28h0m5 25h0m1-49h0m6 7h0m1-45h0m1 71h0m0 13h0m1-34h0m3 35h0m0 0h0m2-26h0m1-73h0m25 96h0m1 1h0m1-37h0m7 43h0m22 5h0m14-97h0m12 52h0m79-77h0"/><path d="M900 224h0m55 90h0m11-61h0m6-18h0m0 13h0m1 21h0m1-132h0m0 149h0m29-18h0m3 35h0m3-123h0m0 116h0m6-120h0m0 139h0m17-13h0m4-75h0m4 76h0m4-15h0m1-56h0m3 75h0m2-14h0m2 2h0m2 23h0m1-21h0m0 0h0m1 19h0m1 2h0m2-8h0m3-117h0m7 97h0m3 5h0m28 23h0m4-42h0m1 23h0m1-18h0m5 36h0m2-12h0m0 2h0m3-7h0m2 7h0m2-32h0m8-2h0m2 19h0m0 26h0m2-37h0m3 35h0m5-4h0m9-48h0m3 25h0m3 11h0m8-31h0m2 14h0m4 31h0m1 4h0m2-111h0m41 102h0m7-17h0"/><path d="M949 297h0m11-16h0m15 21h0m4-66h0m10 41h0m14-49h0m8 67h0m5-49h0m1-60h0m4 48h0m6 8h0m4 35h0m0 35h0m1-12h0m1-119h0m0 93h0m1 9h0m5 24h0m0 2h0m1-7h0m9 13h0m2-14h0m0 18h0m2-47h0m1-24h0m2 68h0m2-33h0m5 28h0m1-43h0m2 9h0m2-15h0m3 14h0m2-100h0m1 93h0m1 32h0m0 9h0m0 4h0m25-2h0m1-12h0m0 5h0m4-15h0m2 12h0m2 1h0m1-3h0m4-31h0m1 34h0m3-77h0m1 93h0m4-4h0m2 3h0m9-60h0m0 30h0m4-3h0m5 27h0m3-1h0m0 4h0m4-22h0m4 3h0m2 12h0m2-114h0m19 118h0m6 0h0m5-1h0m3-141h0m3 140h0m12-22h0m15 29h0m31-53h0"/></g><g transform="scale(.5)" fill="none" stroke="#0000ff" stroke-opacity="0.14" stroke-width="7.00" stroke-linecap="round"><path d="M935 232h0m9 59h0m9 8h0m21-18h0m10-79h0m16 109h0m5-26h0m13 0h0m6 2h0m2 11h0m4-16h0m0 30h0m2-23h0m1 25h0m1-53h0m3 28h0m0 29h0m1-65h0m2 19h0m1 21h0m2 6h0m1-8h0m4-10h0m2-77h0m0 16h0m3 58h0m0 34h0m3-45h0m9 52h0m1-25h0m5 18h0m29-143h0m1 130h0m2-32h0m1 32h0m2 7h0m1-17h0m1-5h0m2 3h0m0 27h0m10 3h0m3-13h0m1-28h0m2-8h0m0 1h0m3 47h0m1-11h0m0 6h0m2-93h0m1 24h0m3 70h0m10-44h0m1 44h0m2-36h0m6 42h0m3 1h0m1-1h0m4-2h0m1-57h0m9-4h0m3 33h0m24-30h0m15 51h0m126-58h0"/><path d="M855 256h0m71 40h0m34-27h0m2-118h0m5 69h0m2 20h0m3-37h0m3 106h0m8-20h0m2-7h0m12 34h0m1-35h0m1 10h0m12-25h0m3 41h0m2 4h0m18 0h0m6-43h0m2 29h0m1 15h0m3-12h0m2 17h0m4-45h0m6 23h0m6-111h0m0 108h0m0 10h0m0 14h0m1-50h0m10 28h0m26 21h0m4-17h0m1-139h0m3 67h0m0 82h0m5-135h0m4 69h0m0 61h0m2 9h0m1-43h0m0 23h0m1 11h0m5-20h0m0 30h0m4-3h0m5-15h0m0 15h0m1 2h0m5 5h0m2-43h0m0 25h0m1 0h0m1 17h0m7-5h0m6-8h0m1-36h0m1 47h0m20-95h0m9 74h0m19-45h0m5 20h0"/><path d="M953 155h0m25 144h0m22-104h0m9 88h0m5-30h0m1 45h0m8-89h0m3 78h0m0 9h0m1 8h0m0 11h0m9-14h0m5 6h0m3-11h0m1 6h0m1 5h0m3-2h0m6-4h0m3-8h0m0 10h0m1-86h0m4 71h0m1 26h0m6-96h0m2 62h0m1-1h0m2 36h0m25-72h0m0 32h0m1 32h0m2-4h0m5-16h0m4 32h0m1-1h0m12-13h0m1-5h0m5 16h0m2-30h0m0 16h0m1-57h0m0 65h0m1-18h0m2-22h0m3 44h0m3 1h0m3 4h0m5-32h0m3-31h0m2 9h0m0 33h0m0 18h0m3-34h0m0 29h0m4-58h0m27 38h0m15-2h0"/><path d="M902 160h0m22 139h0m11 5h0m14-4h0m7 19h0m10-9h0m14-4h0m11 10h0m2-12h0m0 1h0m9-60h0m4 32h0m11-22h0m1-2h0m5-44h0m3 49h0m0 8h0m1 21h0m2-49h0m5 68h0m0 7h0m5-11h0m12-2h0m1-13h0m2-71h0m2 5h0m0 98h0m3-21h0m0 1h0m2-39h0m1 44h0m4-80h0m4-87h0m1 126h0m0 52h0m29-60h0m3 22h0m7 13h0m1 3h0m5-12h0m2 18h0m1-4h0m3 6h0m1-54h0m15 60h0m2-3h0m1-5h0m1-44h0m5 38h0m1-23h0m4-20h0m1 33h0m2-7h0m0 19h0m0 4h0m3-70h0m7 18h0m1 52h0m11-1h0m6-10h0m2 22h0m3-85h0m5-35h0m27-52h0m7 85h0m5 72h0"/><path d="M950 248h0m23 12h0m7 47h0m1-29h0m14 21h0m1-25h0m15 43h0m2-46h0m1 42h0m4-17h0m2-8h0m7-5h0m4-10h0m1 35h0m2-19h0m3-40h0m4 46h0m3-39h0m1 48h0m4 2h0m1-11h0m3 19h0m1-1h0m7-15h0m1 17h0m1-37h0m0 40h0m1-74h0m6 70h0m3-29h0m0 12h0m0 16h0m1-20h0m26-75h0m0 82h0m2 8h0m6-77h0m4 62h0m6 4h0m2-33h0m0 16h0m4-23h0m2-46h0m0 38h0m2 54h0m1-1h0m4-43h0m6 45h0m1-21h0m2 1h0m4 2h0m6 9h0m0 17h0m3-44h0m1 6h0m0 24h0m5 21h0m2-25h0m3-9h0m4-19h0m20 33h0m19-2h0m22-30h0m16 3h0"/><path d="M943 315h0m14-33h0m26 28h0m2-14h0m1-73h0m22 81h0m1-57h0m3 42h0m1 12h0m11 5h0m1-23h0m1 2h0m0 31h0m1-106h0m2 109h0m1-69h0m5 41h0m4 27h0m2-79h0m4 29h0m2-4h0m9 37h0m2-41h0m0 51h0m6-109h0m1 56h0m3 41h0m7 6h0m25 6h0m1-117h0m1 21h0m2 79h0m0 24h0m1-3h0m2 4h0m1-24h0m3 5h0m3 12h0m2-1h0m2-27h0m0 13h0m1 20h0m1-73h0m3 33h0m1 35h0m7-16h0m0 2h0m3-50h0m1 68h0m2-54h0m0 48h0m1 4h0m4-4h0m1-81h0m2 85h0m4-53h0m1-38h0m2 72h0m3-18h0m3 22h0m2-54h0m7 11h0m6 20h0m8 27h0m1 7h0m2-5h0m11-24h0m10 16h0m18-13h0"/></g><g transform="scale(.5)" fill="none" stroke="#9a2cf8" stroke-opacity="0.2" stroke-width="7.00" stroke-linecap="round"><path d="M1017 305h0m4 8h0m7-34h0m16 37h0m3 1h0m3-40h0m5-20h0m1 40h0m2-19h0m3 28h0m4 0h0m2-10h0m2 19h0m33-76h0m2 78h0m4-48h0m0 48h0m3-27h0m3 3h0m0 9h0m2 17h0m1-22h0m1 17h0m0 0h0m5-11h0m0 1h0m0 0h0m0 14h0m1-8h0m3-33h0m0 36h0m1-18h0m4-7h0m0 2h0m0 14h0m3 12h0m3-3h0m0 1h0m2-5h0m0 5h0m1-58h0m3 63h0m2-14h0m2-36h0m0 28h0"/><path d="M1024 294h0m8 17h0m11-6h0m7 14h0m8-10h0m1 7h0m2-131h0m7 105h0m34 13h0m3 7h0m0 3h0m2-20h0m0 13h0m2-17h0m5-14h0m0 31h0m1-36h0m1 37h0m3-22h0m0 23h0m4 5h0m3-23h0m2 17h0m2-46h0m0 48h0m0 9h0m1-11h0m2 2h0m4 4h0m2-71h0m1 74h0m0 2h0m2-9h0m0 4h0m4-6h0m2 11h0"/><path d="M1029 304h0m1 7h0m2-2h0m13-5h0m0 1h0m2-10h0m1 24h0m10-7h0m3-116h0m0 120h0m3-29h0m1-6h0m1 15h0m6 12h0m30 9h0m7-19h0m2 6h0m4-4h0m0 10h0m1 3h0m1-1h0m1 4h0m2-28h0m3 27h0m2-35h0m0 20h0m2 16h0m1-4h0m1 2h0m1-3h0m1-20h0m2 23h0m9-12h0m4 15h0m2-70h0"/><path d="M1019 270h0m5 34h0m7 10h0m2 5h0m1-6h0m3-57h0m5 63h0m5-47h0m2 33h0m2 3h0m2-21h0m1-2h0m5 32h0m4-73h0m0 7h0m4 55h0m0 5h0m1 3h0m5-31h0m28 9h0m5 20h0m8-11h0m3-14h0m1 31h0m4-16h0m3 9h0m2-6h0m0 1h0m3 9h0m1-34h0m0 29h0m1-3h0m0 0h0m3 0h0m1-92h0m2 80h0m0 15h0m1 0h0m3 4h0m1-21h0m0 15h0m1 6h0m0 4h0m3-95h0m0 53h0"/><path d="M1023 312h0m4-26h0m0 19h0m3 6h0m10-1h0m1 6h0m2-14h0m12-4h0m6 9h0m0 4h0m4-4h0m38 11h0m4-9h0m1 10h0m3-14h0m1 10h0m0 3h0m1-43h0m0 40h0m1 3h0m2-15h0m2 6h0m3-44h0m5 32h0m0 21h0m2-3h0m1-23h0m3 9h0m0 14h0m1-22h0m4 24h0m2-18h0m0 4h0m2-16h0m0 15h0m1 0h0m5 0h0m0 13h0m0 0h0"/><path d="M1022 317h0m4-33h0m9 15h0m10-16h0m1 23h0m3-29h0m6 40h0m6-5h0m4-2h0m7-17h0m25-9h0m5 32h0m1-5h0m2 2h0m0 6h0m2-15h0m1-106h0m0 121h0m2-74h0m3 30h0m0 19h0m0 10h0m2 15h0m1-1h0m6-3h0m1-50h0m0 50h0m2 1h0m2-1h0m5-15h0m0 14h0m2-55h0m1 9h0m0 25h0m1 23h0m4-23h0m1-108h0m1 131h0m2-3h0m4 0h0"/></g><g transform="scale(.5)" fill="none" stroke="#a020f0" stroke-opacity="0.15" stroke-width="7.00" stroke-linecap="round"><path d="M992 298h0m7-89h0m11 106h0m12-49h0m20 22h0m1 31h0m3-22h0m1-50h0m1 53h0m11-30h0m0 47h0m3-58h0m5 34h0m35 9h0m5-9h0m1-8h0m0 33h0m9 0h0m5 1h0m5-5h0m2 4h0m6-29h0m0 14h0m2 4h0m1-58h0m27 38h0m1-30h0m2-26h0m1 13h0m0 73h0m8-52h0m0 8h0m25 16h0m3-6h0"/><path d="M1003 312h0m27-4h0m4 7h0m7-82h0m0 49h0m3 29h0m1-32h0m2 24h0m5 12h0m0 2h0m1-4h0m2-2h0m0 5h0m7-7h0m2-5h0m0 6h0m1 7h0m2 2h0m3-36h0m4 5h0m0 8h0m1-56h0m0 79h0m33-13h0m9 4h0m1-10h0m2-75h0m7 45h0m3-12h0m0 53h0m3 6h0m1-13h0m1-6h0m16 21h0m5-17h0m7-22h0m6 6h0m10-37h0"/><path d="M997 234h0m8 85h0m15-18h0m1-6h0m5 15h0m2-16h0m2 15h0m17 4h0m2 2h0m1-39h0m2 29h0m6 0h0m3-5h0m5-11h0m2-67h0m32 78h0m3 14h0m0 5h0m2-12h0m5-4h0m7-44h0m3 39h0m7 18h0m2-47h0m6 43h0m15 7h0m20-5h0m3-16h0m24-16h0m6-7h0m39 19h0"/><path d="M974 317h0m27 0h0m3-3h0m7-166h0m15 160h0m8 5h0m5-58h0m3 45h0m0 16h0m4-1h0m2-7h0m12-14h0m4-19h0m3 12h0m4-41h0m0 59h0m31 8h0m3 4h0m2-28h0m9-3h0m2 26h0m3-2h0m0 9h0m2-3h0m1-40h0m2 22h0m4 21h0m4-16h0m3-48h0m4 30h0m14-17h0m0 50h0m1-9h0m2-23h0m4 14h0m7-14h0m49 30h0m9 2h0"/><path d="M1009 289h0m31 22h0m5-8h0m5-70h0m5 71h0m0 11h0m10-109h0m3 65h0m4 10h0m28-23h0m1 44h0m3-46h0m7 48h0m3 11h0m2-1h0m6-1h0m3-15h0m1 16h0m6-84h0m1 89h0m8-21h0m3-23h0m17 15h0m6-115h0m7 128h0m2-72h0m3 64h0m6-92h0m0 38h0"/><path d="M960 310h0m60-41h0m11 19h0m1 23h0m4-4h0m3-9h0m3-51h0m2 65h0m4-30h0m1-88h0m3 74h0m5 26h0m16-22h0m1 44h0m26-46h0m0 47h0m1-77h0m2 67h0m1-14h0m0 20h0m3 5h0m1-15h0m11 4h0m0 8h0m3-10h0m2-10h0m1 8h0m15-16h0m10 13h0m51 2h0"/></g>
<line x1="27.4" x2="332" y1="160.35" y2="160.35" stroke="#151515" stroke-width="1.15" stroke-dasharray="3.6,2.917"/>
<line x1="371.2" x2="676" y1="159.8" y2="159.8" stroke="#151515" stroke-width="1.15" stroke-dasharray="3.6,2.917"/>
<line x1="143.4" y1="135.3" x2="144.3" y2="149.6" stroke="#111" stroke-width="0.75"/><line x1="134.5" y1="142.2" x2="136.3" y2="151.2" stroke="#111" stroke-width="0.75"/><line x1="144.5" y1="149.8" x2="159.0" y2="142.0" stroke="#111" stroke-width="0.75"/><circle cx="190.2" cy="84.4" r="1.75" fill="#a020f0" stroke="#000" stroke-width="0.55"/><circle cx="160.2" cy="87.8" r="1.75" fill="#a020f0" stroke="#000" stroke-width="0.55"/><circle cx="130.0" cy="107.7" r="1.75" fill="#0000e0" stroke="#000" stroke-width="0.55"/><circle cx="167.4" cy="112.7" r="1.75" fill="#a020f0" stroke="#000" stroke-width="0.55"/><circle cx="177.7" cy="136.7" r="1.75" fill="#e00000" stroke="#000" stroke-width="0.55"/><circle cx="143.4" cy="135.3" r="1.75" fill="#a020f0" stroke="#000" stroke-width="0.55"/><circle cx="134.5" cy="142.2" r="1.75" fill="#0000e0" stroke="#000" stroke-width="0.55"/><circle cx="127.7" cy="149.3" r="1.75" fill="#e00000" stroke="#000" stroke-width="0.55"/><circle cx="136.4" cy="151.4" r="1.75" fill="#e00000" stroke="#000" stroke-width="0.55"/><circle cx="143.0" cy="152.8" r="1.75" fill="#a020f0" stroke="#000" stroke-width="0.55"/><circle cx="144.5" cy="149.7" r="1.75" fill="#e00000" stroke="#000" stroke-width="0.55"/><circle cx="159.0" cy="142.0" r="1.75" fill="#0000e0" stroke="#000" stroke-width="0.55"/><circle cx="158.3" cy="148.8" r="1.75" fill="#0000e0" stroke="#000" stroke-width="0.55"/><rect x="179.3" y="73.8" width="43.2" height="7.5" rx="1.6" fill="#fff" fill-opacity="0.85" stroke="#6e6e6e" stroke-width="0.7"/><text x="200.9" y="79.7" font-size="6.8" font-weight="bold" fill="#1a1a1a" text-anchor="middle" textLength="40.8" lengthAdjust="spacingAndGlyphs">RPL37−P (Y)</text><rect x="127.1" y="91.5" width="44.5" height="7.4" rx="1.6" fill="#fff" fill-opacity="0.85" stroke="#6e6e6e" stroke-width="0.7"/><text x="149.3" y="97.3" font-size="6.8" font-weight="bold" fill="#1a1a1a" text-anchor="middle" textLength="42.1" lengthAdjust="spacingAndGlyphs">VARS1−P (Y)</text><rect x="65.9" y="104.1" width="59.9" height="7.3" rx="1.6" fill="#fff" fill-opacity="0.85" stroke="#6e6e6e" stroke-width="0.7"/><text x="95.8" y="109.8" font-size="6.8" font-weight="bold" fill="#1a1a1a" text-anchor="middle" textLength="57.5" lengthAdjust="spacingAndGlyphs">POGLUT3−2 P (Y)</text><rect x="157.3" y="116.4" width="44.3" height="7.3" rx="1.6" fill="#fff" fill-opacity="0.85" stroke="#6e6e6e" stroke-width="0.7"/><text x="179.4" y="122.1" font-size="6.8" font-weight="bold" fill="#1a1a1a" text-anchor="middle" textLength="41.9" lengthAdjust="spacingAndGlyphs">SRSF1−P (Y)</text><rect x="111.6" y="124.9" width="40.6" height="7.3" rx="1.6" fill="#fff" fill-opacity="0.85" stroke="#6e6e6e" stroke-width="0.7"/><text x="131.9" y="130.6" font-size="6.8" font-weight="bold" fill="#1a1a1a" text-anchor="middle" textLength="38.2" lengthAdjust="spacingAndGlyphs">ADSL−P (Y)</text><rect x="181.4" y="129.2" width="48.5" height="7.3" rx="1.6" fill="#fff" fill-opacity="0.85" stroke="#6e6e6e" stroke-width="0.7"/><text x="205.7" y="134.9" font-size="6.8" font-weight="bold" fill="#1a1a1a" text-anchor="middle" textLength="46.1" lengthAdjust="spacingAndGlyphs">RNF213−P (Y)</text>
<line x1="533.5" y1="104.5" x2="524.4" y2="114.5" stroke="#111" stroke-width="0.75"/><line x1="524.4" y1="114.5" x2="526.1" y2="124.0" stroke="#111" stroke-width="0.75"/><line x1="457.8" y1="127.6" x2="467.0" y2="119.9" stroke="#111" stroke-width="0.75"/><line x1="467.0" y1="119.9" x2="496.5" y2="155.1" stroke="#111" stroke-width="0.75"/><line x1="470.0" y1="138.4" x2="494.5" y2="153.0" stroke="#111" stroke-width="0.75"/><line x1="586.4" y1="91.9" x2="584.1" y2="99.8" stroke="#111" stroke-width="0.75"/><line x1="532.3" y1="154.7" x2="550.7" y2="158.2" stroke="#111" stroke-width="0.75"/><line x1="601.5" y1="143.3" x2="594.5" y2="152.3" stroke="#111" stroke-width="0.75"/><line x1="558.4" y1="139.6" x2="557.4" y2="153.2" stroke="#111" stroke-width="0.75"/><line x1="564.7" y1="136.6" x2="562.1" y2="143.6" stroke="#111" stroke-width="0.75"/><circle cx="467.0" cy="119.9" r="1.75" fill="#a020f0" stroke="#000" stroke-width="0.55"/><circle cx="457.8" cy="127.6" r="1.75" fill="#e00000" stroke="#000" stroke-width="0.55"/><circle cx="524.4" cy="114.5" r="1.75" fill="#0000e0" stroke="#000" stroke-width="0.55"/><circle cx="526.1" cy="124.0" r="1.75" fill="#e00000" stroke="#000" stroke-width="0.55"/><circle cx="491.1" cy="140.0" r="1.75" fill="#e00000" stroke="#000" stroke-width="0.55"/><circle cx="493.3" cy="146.6" r="1.75" fill="#a020f0" stroke="#000" stroke-width="0.55"/><circle cx="495.2" cy="149.5" r="1.75" fill="#0000e0" stroke="#000" stroke-width="0.55"/><circle cx="487.9" cy="151.0" r="1.75" fill="#e00000" stroke="#000" stroke-width="0.55"/><circle cx="496.5" cy="155.1" r="1.75" fill="#0000e0" stroke="#000" stroke-width="0.55"/><circle cx="517.4" cy="135.7" r="1.75" fill="#0000e0" stroke="#000" stroke-width="0.55"/><circle cx="521.3" cy="133.9" r="1.75" fill="#e00000" stroke="#000" stroke-width="0.55"/><circle cx="520.0" cy="139.7" r="1.75" fill="#e00000" stroke="#000" stroke-width="0.55"/><circle cx="516.6" cy="144.9" r="1.75" fill="#e00000" stroke="#000" stroke-width="0.55"/><circle cx="526.6" cy="144.1" r="1.75" fill="#e00000" stroke="#000" stroke-width="0.55"/><circle cx="523.6" cy="147.3" r="1.75" fill="#e00000" stroke="#000" stroke-width="0.55"/><circle cx="514.2" cy="153.5" r="1.75" fill="#e00000" stroke="#000" stroke-width="0.55"/><circle cx="522.5" cy="157.1" r="1.75" fill="#e00000" stroke="#000" stroke-width="0.55"/><circle cx="532.3" cy="154.7" r="1.75" fill="#0000e0" stroke="#000" stroke-width="0.55"/><circle cx="531.5" cy="156.4" r="1.75" fill="#e00000" stroke="#000" stroke-width="0.55"/><circle cx="586.4" cy="91.9" r="1.75" fill="#a020f0" stroke="#000" stroke-width="0.55"/><circle cx="584.1" cy="99.8" r="1.75" fill="#0000e0" stroke="#000" stroke-width="0.55"/><circle cx="561.0" cy="117.4" r="1.75" fill="#a020f0" stroke="#000" stroke-width="0.55"/><circle cx="568.9" cy="129.6" r="1.75" fill="#0000e0" stroke="#000" stroke-width="0.55"/><circle cx="557.7" cy="131.6" r="1.75" fill="#0000e0" stroke="#000" stroke-width="0.55"/><circle cx="564.7" cy="136.6" r="1.75" fill="#e00000" stroke="#000" stroke-width="0.55"/><circle cx="558.4" cy="139.6" r="1.75" fill="#e00000" stroke="#000" stroke-width="0.55"/><circle cx="567.6" cy="139.2" r="1.75" fill="#0000e0" stroke="#000" stroke-width="0.55"/><circle cx="578.8" cy="139.4" r="1.75" fill="#e00000" stroke="#000" stroke-width="0.55"/><circle cx="581.4" cy="141.0" r="1.75" fill="#a020f0" stroke="#000" stroke-width="0.55"/><circle cx="562.1" cy="143.6" r="1.75" fill="#e00000" stroke="#000" stroke-width="0.55"/><circle cx="568.9" cy="144.8" r="1.75" fill="#a020f0" stroke="#000" stroke-width="0.55"/><circle cx="573.2" cy="144.8" r="1.75" fill="#a020f0" stroke="#000" stroke-width="0.55"/><circle cx="563.9" cy="147.4" r="1.75" fill="#0000e0" stroke="#000" stroke-width="0.55"/><circle cx="568.0" cy="147.6" r="1.75" fill="#a020f0" stroke="#000" stroke-width="0.55"/><circle cx="555.7" cy="149.5" r="1.75" fill="#a020f0" stroke="#000" stroke-width="0.55"/><circle cx="561.0" cy="150.9" r="1.75" fill="#0000e0" stroke="#000" stroke-width="0.55"/><circle cx="565.6" cy="151.5" r="1.75" fill="#a020f0" stroke="#000" stroke-width="0.55"/><circle cx="571.7" cy="151.5" r="1.75" fill="#a020f0" stroke="#000" stroke-width="0.55"/><circle cx="555.1" cy="152.3" r="1.75" fill="#0000e0" stroke="#000" stroke-width="0.55"/><circle cx="564.8" cy="154.4" r="1.75" fill="#e00000" stroke="#000" stroke-width="0.55"/><circle cx="556.3" cy="155.0" r="1.75" fill="#a020f0" stroke="#000" stroke-width="0.55"/><circle cx="554.5" cy="157.9" r="1.75" fill="#a020f0" stroke="#000" stroke-width="0.55"/><circle cx="559.2" cy="158.1" r="1.75" fill="#e00000" stroke="#000" stroke-width="0.55"/><circle cx="550.7" cy="158.2" r="1.75" fill="#0000e0" stroke="#000" stroke-width="0.55"/><circle cx="601.5" cy="143.3" r="1.75" fill="#0000e0" stroke="#000" stroke-width="0.55"/><circle cx="594.5" cy="152.3" r="1.75" fill="#a020f0" stroke="#000" stroke-width="0.55"/><rect x="511.0" y="97.3" width="47.4" height="7.3" rx="1.6" fill="#fff" fill-opacity="0.85" stroke="#6e6e6e" stroke-width="0.7"/><text x="534.7" y="103.0" font-size="6.8" font-weight="bold" fill="#1a1a1a" text-anchor="middle" textLength="45.0" lengthAdjust="spacingAndGlyphs">HMGA1−P (S)</text><rect x="439.7" y="109.8" width="76.6" height="7.0" rx="1.6" fill="#fff" fill-opacity="0.85" stroke="#6e6e6e" stroke-width="0.7"/><text x="478.0" y="115.2" font-size="6.8" font-weight="bold" fill="#1a1a1a" text-anchor="middle" textLength="74.2" lengthAdjust="spacingAndGlyphs">RAPGEF1−Ac (K),P (T)</text><rect x="408.9" y="131.3" width="75.9" height="7.2" rx="1.6" fill="#fff" fill-opacity="0.85" stroke="#6e6e6e" stroke-width="0.7"/><text x="446.9" y="136.9" font-size="6.8" font-weight="bold" fill="#1a1a1a" text-anchor="middle" textLength="73.5" lengthAdjust="spacingAndGlyphs">RAPGEF1−Ac (K),P (T)</text><rect x="565.7" y="81.0" width="63.6" height="7.2" rx="1.6" fill="#fff" fill-opacity="0.85" stroke="#6e6e6e" stroke-width="0.7"/><text x="597.5" y="86.6" font-size="6.8" font-weight="bold" fill="#1a1a1a" text-anchor="middle" textLength="61.2" lengthAdjust="spacingAndGlyphs">GLUL−3 P (S),P (T)</text><rect x="564.0" y="103.5" width="63.2" height="7.2" rx="1.6" fill="#fff" fill-opacity="0.85" stroke="#6e6e6e" stroke-width="0.7"/><text x="595.6" y="109.1" font-size="6.8" font-weight="bold" fill="#1a1a1a" text-anchor="middle" textLength="60.8" lengthAdjust="spacingAndGlyphs">GLUL−3 P (S),P (T)</text><rect x="565.0" y="119.3" width="49.4" height="7.2" rx="1.6" fill="#fff" fill-opacity="0.85" stroke="#6e6e6e" stroke-width="0.7"/><text x="589.7" y="124.9" font-size="6.8" font-weight="bold" fill="#1a1a1a" text-anchor="middle" textLength="47.0" lengthAdjust="spacingAndGlyphs">ASH2L−3 P (T)</text>
<text x="23.7" y="207.9" font-size="6.6" fill="#555" text-anchor="end" font-weight="normal" >0</text>
<text x="23.7" y="173.2" font-size="6.6" fill="#555" text-anchor="end" font-weight="normal" >1</text>
<text x="23.7" y="138.4" font-size="6.6" fill="#555" text-anchor="end" font-weight="normal" >2</text>
<text x="23.7" y="103.7" font-size="6.6" fill="#555" text-anchor="end" font-weight="normal" >3</text>
<text x="23.7" y="68.9" font-size="6.6" fill="#555" text-anchor="end" font-weight="normal" >4</text>
<text x="23.7" y="34.2" font-size="6.6" fill="#555" text-anchor="end" font-weight="normal" >5</text>
<text x="53.9" y="222.0" font-size="6.6" fill="#555" text-anchor="middle" font-weight="normal" >−5</text>
<text x="150.4" y="222.0" font-size="6.6" fill="#555" text-anchor="middle" font-weight="normal" >0</text>
<text x="246.9" y="222.0" font-size="6.6" fill="#555" text-anchor="middle" font-weight="normal" >5</text>
<text x="179.5" y="15.4" font-size="9.9" fill="#222" text-anchor="middle" font-weight="normal" >Living Cell</text>
<text x="179.7" y="232.4" font-size="8.3" fill="#222" text-anchor="middle" font-weight="normal" >Log2 Fold Change</text>
<text transform="translate(15.7,118.3) rotate(-90)" font-size="8.35" fill="#222" text-anchor="middle">−log10(P−Value)</text>
<circle cx="58.9" cy="253.2" r="1.9" fill="#b5120f"/>
<text x="69.7" y="255.6" font-size="6.85" fill="#222" text-anchor="start" font-weight="normal" >Ruxolitinib treatment</text>
<circle cx="143.3" cy="253.2" r="1.9" fill="#8a1be0"/>
<text x="154.1" y="255.6" font-size="6.85" fill="#222" text-anchor="start" font-weight="normal" >Combination treatment</text>
<circle cx="234.6" cy="253.2" r="1.9" fill="#1010a8"/>
<text x="245.8" y="255.6" font-size="6.85" fill="#222" text-anchor="start" font-weight="normal" >Ulixertinib treatment</text>
<text x="367.7" y="207.8" font-size="6.6" fill="#555" text-anchor="end" font-weight="normal" >0</text>
<text x="367.7" y="173.0" font-size="6.6" fill="#555" text-anchor="end" font-weight="normal" >1</text>
<text x="367.7" y="138.1" font-size="6.6" fill="#555" text-anchor="end" font-weight="normal" >2</text>
<text x="367.7" y="103.2" font-size="6.6" fill="#555" text-anchor="end" font-weight="normal" >3</text>
<text x="367.7" y="68.4" font-size="6.6" fill="#555" text-anchor="end" font-weight="normal" >4</text>
<text x="367.7" y="33.5" font-size="6.6" fill="#555" text-anchor="end" font-weight="normal" >5</text>
<text x="417.3" y="222.0" font-size="6.6" fill="#555" text-anchor="middle" font-weight="normal" >−4</text>
<text x="480.5" y="222.0" font-size="6.6" fill="#555" text-anchor="middle" font-weight="normal" >−2</text>
<text x="543.7" y="222.0" font-size="6.6" fill="#555" text-anchor="middle" font-weight="normal" >0</text>
<text x="606.9" y="222.0" font-size="6.6" fill="#555" text-anchor="middle" font-weight="normal" >2</text>
<text x="670.1" y="222.0" font-size="6.6" fill="#555" text-anchor="middle" font-weight="normal" >4</text>
<text x="524.0" y="15.4" font-size="9.9" fill="#222" text-anchor="middle" font-weight="normal" >Living Cell</text>
<text x="523.1" y="231.8" font-size="8.3" fill="#222" text-anchor="middle" font-weight="normal" >Log2 Fold Change</text>
<text transform="translate(359.3,118.3) rotate(-90)" font-size="8.35" fill="#222" text-anchor="middle">−log10(P−Value)</text>
<circle cx="397.6" cy="253.2" r="1.9" fill="#b5120f"/>
<text x="408.0" y="255.6" font-size="6.85" fill="#222" text-anchor="start" font-weight="normal" >LY3009120 treatment</text>
<circle cx="484.5" cy="253.2" r="1.9" fill="#8a1be0"/>
<text x="495.3" y="255.6" font-size="6.85" fill="#222" text-anchor="start" font-weight="normal" >Combination treatment</text>
<circle cx="575.4" cy="253.2" r="1.9" fill="#1010a8"/>
<text x="586.6" y="255.6" font-size="6.85" fill="#222" text-anchor="start" font-weight="normal" >Sapanisertib treatment</text>
<rect x="54" y="280.3" width="621.7" height="15.300000000000011" fill="#fff" stroke="#3c3c3c" stroke-width="1.3"/>
<text x="364.8" y="291.9" font-size="9.5" fill="#000" text-anchor="middle" font-weight="bold" >BLM | TGFSATR(DiMeth)K(Ac)NLFER | z = 2</text>
<line x1="53.6" x2="53.6" y1="295.6" y2="416.5" stroke="#8a8a8a" stroke-width="1.25"/>
<line x1="51" x2="53.6" y1="411.20" y2="411.20" stroke="#8a8a8a" stroke-width="1.1"/>
<text x="48.6" y="415.2" font-size="11.2" fill="#4d4d4d" text-anchor="end" font-weight="normal" >0</text>
<line x1="51" x2="53.6" y1="373.75" y2="373.75" stroke="#8a8a8a" stroke-width="1.1"/>
<text x="48.6" y="377.8" font-size="11.2" fill="#4d4d4d" text-anchor="end" font-weight="normal" >1000</text>
<line x1="51" x2="53.6" y1="336.30" y2="336.30" stroke="#8a8a8a" stroke-width="1.1"/>
<text x="48.6" y="340.3" font-size="11.2" fill="#4d4d4d" text-anchor="end" font-weight="normal" >2000</text>
<line x1="51" x2="53.6" y1="298.85" y2="298.85" stroke="#8a8a8a" stroke-width="1.1"/>
<text x="48.6" y="302.9" font-size="11.2" fill="#4d4d4d" text-anchor="end" font-weight="normal" >3000</text>
<line x1="81.5" x2="81.5" y1="408.3" y2="411.2" stroke="#ff2e2e" stroke-width="1.6"/>
<line x1="145.8" x2="145.8" y1="336.6" y2="411.2" stroke="#ff2e2e" stroke-width="1.6"/>
<line x1="195.2" x2="195.2" y1="388" y2="411.2" stroke="#ff2e2e" stroke-width="1.6"/>
<line x1="215.7" x2="215.7" y1="391" y2="411.2" stroke="#3c22ff" stroke-width="1.6"/>
<line x1="245.4" x2="245.4" y1="401.2" y2="411.2" stroke="#ff2e2e" stroke-width="1.6"/>
<line x1="253.3" x2="253.3" y1="378.9" y2="411.2" stroke="#3c22ff" stroke-width="1.6"/>
<line x1="319.3" x2="319.3" y1="393.9" y2="411.2" stroke="#ff2e2e" stroke-width="1.6"/>
<line x1="409" x2="409" y1="395.4" y2="411.2" stroke="#3c22ff" stroke-width="1.6"/>
<line x1="467.4" x2="467.4" y1="400.9" y2="411.2" stroke="#ff2e2e" stroke-width="1.6"/>
<line x1="474.6" x2="474.6" y1="393.7" y2="411.2" stroke="#ff2e2e" stroke-width="1.6"/>
<line x1="475.8" x2="475.8" y1="387" y2="411.2" stroke="#3c22ff" stroke-width="1.6"/>
<line x1="483.3" x2="483.3" y1="403.4" y2="411.2" stroke="#3c22ff" stroke-width="1.6"/>
<line x1="505.5" x2="505.5" y1="399.3" y2="411.2" stroke="#ff2e2e" stroke-width="1.6"/>
<line x1="513.3" x2="513.3" y1="372.4" y2="411.2" stroke="#ff2e2e" stroke-width="1.6"/>
<line x1="533" x2="533" y1="375.3" y2="411.2" stroke="#3c22ff" stroke-width="1.6"/>
<line x1="575" x2="575" y1="394.8" y2="411.2" stroke="#3c22ff" stroke-width="1.6"/>
<line x1="582.8" x2="582.8" y1="301.8" y2="411.2" stroke="#3c22ff" stroke-width="1.6"/>
<line x1="639" x2="639" y1="406.1" y2="411.2" stroke="#3c22ff" stroke-width="1.6"/>
<line x1="646.6" x2="646.6" y1="397.5" y2="411.2" stroke="#3c22ff" stroke-width="1.6"/>
<line x1="483.3" x2="500.7" y1="403.4" y2="403.4" stroke="#3c22ff" stroke-width="0.8"/>
<line x1="624.2" x2="639" y1="408.8" y2="407.5" stroke="#3c22ff" stroke-width="0.8"/>
<line x1="647.2" x2="662" y1="395.9" y2="392" stroke="#3c22ff" stroke-width="0.8"/>
<text x="85.6" y="411.3" font-size="10.9" fill="#ff2e2e" textLength="11.7" lengthAdjust="spacingAndGlyphs">y2</text>
<text x="129.6" y="344.2" font-size="10.9" fill="#ff2e2e" textLength="11.6" lengthAdjust="spacingAndGlyphs">y3</text>
<text x="199.1" y="390.5" font-size="10.9" fill="#ff2e2e" textLength="11.8" lengthAdjust="spacingAndGlyphs">y4</text>
<text x="219.4" y="398.3" font-size="10.9" fill="#3c22ff" textLength="11.7" lengthAdjust="spacingAndGlyphs">b3</text>
<text x="237.3" y="385.9" font-size="10.9" fill="#3c22ff" textLength="11.8" lengthAdjust="spacingAndGlyphs">b4</text>
<text x="249.1" y="404.3" font-size="10.9" fill="#ff2e2e" textLength="11.8" lengthAdjust="spacingAndGlyphs">y5</text>
<text x="303" y="400.9" font-size="10.9" fill="#ff2e2e" textLength="11.8" lengthAdjust="spacingAndGlyphs">y6</text>
<text x="392.7" y="402.1" font-size="10.9" fill="#3c22ff" textLength="11.9" lengthAdjust="spacingAndGlyphs">b7</text>
<text x="425.4" y="401.7" font-size="10.9" fill="#ff2e2e" textLength="37.6" lengthAdjust="spacingAndGlyphs">y9-H2O</text>
<text x="433.5" y="387.2" font-size="10.9" fill="#3c22ff" textLength="37.9" lengthAdjust="spacingAndGlyphs">b8-H2O</text>
<text x="478.9" y="402.5" font-size="10.9" fill="#ff2e2e" textLength="11.5" lengthAdjust="spacingAndGlyphs">y9</text>
<text x="496.8" y="413.9" font-size="10.9" fill="#3c22ff" textLength="11.2" lengthAdjust="spacingAndGlyphs">b8</text>
<text x="490.6" y="375.6" font-size="10.9" fill="#ff2e2e" textLength="17.6" lengthAdjust="spacingAndGlyphs">y10</text>
<text x="496.8" y="396.2" font-size="10.9" fill="#ff2e2e" textLength="42.4" lengthAdjust="spacingAndGlyphs">y10-NH3</text>
<text x="536.5" y="378.4" font-size="10.9" fill="#3c22ff" textLength="12.1" lengthAdjust="spacingAndGlyphs">b9</text>
<text x="530.2" y="410.0" font-size="10.9" fill="#3c22ff" textLength="42.7" lengthAdjust="spacingAndGlyphs">b10-NH3</text>
<text x="560.8" y="313.3" font-size="10.9" fill="#3c22ff" textLength="18.3" lengthAdjust="spacingAndGlyphs">b10</text>
<text x="578.9" y="394.6" font-size="10.9" fill="#3c22ff" textLength="44.0" lengthAdjust="spacingAndGlyphs">b10-H2O</text>
<text x="578.9" y="414.6" font-size="10.9" fill="#3c22ff" textLength="44.0" lengthAdjust="spacingAndGlyphs">b11-H2O</text>
<text x="629" y="405.4" font-size="10.9" fill="#3c22ff" textLength="42.5" lengthAdjust="spacingAndGlyphs">b11-NH3</text>
<text x="653.9" y="391.1" font-size="10.9" fill="#3c22ff" textLength="17.6" lengthAdjust="spacingAndGlyphs">b11</text>
<rect x="54" y="421.4" width="621.7" height="15.800000000000011" fill="#fff" stroke="#3c3c3c" stroke-width="1.3"/>
<text x="364.8" y="433.0" font-size="9.5" fill="#000" text-anchor="middle" font-weight="bold" >NPM1 | VEAK(Ac)FINYVK | z = 2</text>
<line x1="53.6" x2="53.6" y1="437.2" y2="557.5" stroke="#8a8a8a" stroke-width="1.25"/>
<line x1="51" x2="53.6" y1="552.80" y2="552.80" stroke="#8a8a8a" stroke-width="1.1"/>
<text x="48.6" y="556.8" font-size="11.2" fill="#4d4d4d" text-anchor="end" font-weight="normal" >0</text>
<line x1="51" x2="53.6" y1="515.35" y2="515.35" stroke="#8a8a8a" stroke-width="1.1"/>
<text x="48.6" y="519.3" font-size="11.2" fill="#4d4d4d" text-anchor="end" font-weight="normal" >1000</text>
<line x1="51" x2="53.6" y1="477.90" y2="477.90" stroke="#8a8a8a" stroke-width="1.1"/>
<text x="48.6" y="481.9" font-size="11.2" fill="#4d4d4d" text-anchor="end" font-weight="normal" >2000</text>
<line x1="51" x2="53.6" y1="440.45" y2="440.45" stroke="#8a8a8a" stroke-width="1.1"/>
<text x="48.6" y="444.4" font-size="11.2" fill="#4d4d4d" text-anchor="end" font-weight="normal" >3000</text>
<line x1="145.3" x2="145.3" y1="548.5" y2="552.8" stroke="#ff2e2e" stroke-width="1.6"/>
<line x1="145.8" x2="145.8" y1="507.5" y2="552.8" stroke="#ff2e2e" stroke-width="1.6"/>
<line x1="182" x2="182" y1="522.7" y2="552.8" stroke="#3c22ff" stroke-width="1.6"/>
<line x1="189.3" x2="189.3" y1="530.3" y2="552.8" stroke="#ff2e2e" stroke-width="1.6"/>
<line x1="212.7" x2="212.7" y1="540.5" y2="552.8" stroke="#3c22ff" stroke-width="1.6"/>
<line x1="260.3" x2="260.3" y1="537.6" y2="552.8" stroke="#ff2e2e" stroke-width="1.6"/>
<line x1="287.3" x2="287.3" y1="512.8" y2="552.8" stroke="#3c22ff" stroke-width="1.6"/>
<line x1="302.8" x2="302.8" y1="548.4" y2="552.8" stroke="#ff2e2e" stroke-width="1.6"/>
<line x1="310.1" x2="310.1" y1="511.9" y2="552.8" stroke="#ff2e2e" stroke-width="1.6"/>
<line x1="351.5" x2="351.5" y1="532.3" y2="552.8" stroke="#3c22ff" stroke-width="1.6"/>
<line x1="359.7" x2="359.7" y1="535.3" y2="552.8" stroke="#ff2e2e" stroke-width="1.6"/>
<line x1="400.6" x2="400.6" y1="503.1" y2="552.8" stroke="#3c22ff" stroke-width="1.6"/>
<line x1="423.9" x2="423.9" y1="515.4" y2="552.8" stroke="#ff2e2e" stroke-width="1.6"/>
<line x1="450.2" x2="450.2" y1="528" y2="552.8" stroke="#3c22ff" stroke-width="1.6"/>
<line x1="490.7" x2="490.7" y1="548.8" y2="552.8" stroke="#ff2e2e" stroke-width="1.6"/>
<line x1="498" x2="498" y1="534.2" y2="552.8" stroke="#ff2e2e" stroke-width="1.6"/>
<line x1="521.6" x2="521.6" y1="480.2" y2="552.8" stroke="#3c22ff" stroke-width="1.6"/>
<line x1="521.1" x2="521.1" y1="516.7" y2="552.8" stroke="#ff2e2e" stroke-width="1.6"/>
<line x1="529.2" x2="529.2" y1="523.4" y2="552.8" stroke="#ff2e2e" stroke-width="1.6"/>
<line x1="557.2" x2="557.2" y1="548.8" y2="552.8" stroke="#3c22ff" stroke-width="1.6"/>
<line x1="565.1" x2="565.1" y1="506.5" y2="552.8" stroke="#3c22ff" stroke-width="1.6"/>
<line x1="577.7" x2="577.7" y1="547.4" y2="552.8" stroke="#ff2e2e" stroke-width="1.6"/>
<line x1="585.5" x2="585.5" y1="513.8" y2="552.8" stroke="#ff2e2e" stroke-width="1.6"/>
<text x="149.6" y="511.4" font-size="10.9" fill="#ff2e2e" textLength="11.7" lengthAdjust="spacingAndGlyphs">y1</text>
<text x="140.9" y="547.0" font-size="10.9" fill="#ff2e2e" textLength="36.5" lengthAdjust="spacingAndGlyphs">y2-NH3</text>
<text x="184.7" y="547.0" font-size="10.9" fill="#3c22ff" textLength="12.5" lengthAdjust="spacingAndGlyphs">b2</text>
<text x="192.8" y="533.3" font-size="10.9" fill="#ff2e2e" textLength="11.7" lengthAdjust="spacingAndGlyphs">y2</text>
<text x="216.5" y="547.3" font-size="10.9" fill="#3c22ff" textLength="12.0" lengthAdjust="spacingAndGlyphs">b3</text>
<text x="244.5" y="545.0" font-size="10.9" fill="#ff2e2e" textLength="11.7" lengthAdjust="spacingAndGlyphs">y3</text>
<text x="290.8" y="515.8" font-size="10.9" fill="#3c22ff" textLength="11.7" lengthAdjust="spacingAndGlyphs">b4</text>
<text x="314.2" y="515.8" font-size="10.9" fill="#ff2e2e" textLength="11.6" lengthAdjust="spacingAndGlyphs">y4</text>
<text x="306.9" y="548.5" font-size="10.9" fill="#ff2e2e" textLength="35.9" lengthAdjust="spacingAndGlyphs">y4-NH3</text>
<text x="335.5" y="534.8" font-size="10.9" fill="#3c22ff" textLength="11.7" lengthAdjust="spacingAndGlyphs">b5</text>
<text x="363.2" y="542.1" font-size="10.9" fill="#ff2e2e" textLength="11.7" lengthAdjust="spacingAndGlyphs">y5</text>
<text x="384.5" y="510.0" font-size="10.9" fill="#3c22ff" textLength="11.7" lengthAdjust="spacingAndGlyphs">b6</text>
<text x="407.6" y="522.5" font-size="10.9" fill="#ff2e2e" textLength="12.0" lengthAdjust="spacingAndGlyphs">y6</text>
<text x="454.3" y="531.3" font-size="10.9" fill="#3c22ff" textLength="11.7" lengthAdjust="spacingAndGlyphs">b7</text>
<text x="481" y="517.1" font-size="10.9" fill="#ff2e2e" textLength="36.5" lengthAdjust="spacingAndGlyphs">y8-NH3</text>
<text x="524.8" y="517.1" font-size="10.9" fill="#3c22ff" textLength="12.6" lengthAdjust="spacingAndGlyphs">b8</text>
<text x="533" y="530.8" font-size="10.9" fill="#ff2e2e" textLength="11.7" lengthAdjust="spacingAndGlyphs">y8</text>
<text x="481.9" y="534.6" font-size="10.9" fill="#ff2e2e" textLength="11.7" lengthAdjust="spacingAndGlyphs">y7</text>
<text x="474" y="547.8" font-size="10.9" fill="#ff2e2e" textLength="36.2" lengthAdjust="spacingAndGlyphs">y7-NH3</text>
<text x="548.5" y="513.3" font-size="10.9" fill="#3c22ff" textLength="12.2" lengthAdjust="spacingAndGlyphs">b9</text>
<text x="568.9" y="520.6" font-size="10.9" fill="#ff2e2e" textLength="12.3" lengthAdjust="spacingAndGlyphs">y9</text>
<text x="516.9" y="555.7" font-size="10.9" fill="#3c22ff" textLength="36.5" lengthAdjust="spacingAndGlyphs">b9-NH3</text>
<text x="581.8" y="548.4" font-size="10.9" fill="#ff2e2e" textLength="37.9" lengthAdjust="spacingAndGlyphs">y9-H2O</text>
<line x1="53" x2="676" y1="558" y2="558" stroke="#8a8a8a" stroke-width="1.25"/>
<line x1="123.40" x2="123.40" y1="558" y2="560.8" stroke="#8a8a8a" stroke-width="1.1"/>
<text x="123.4" y="571.6" font-size="11.2" fill="#4d4d4d" text-anchor="middle" font-weight="normal" >400</text>
<line x1="298.27" x2="298.27" y1="558" y2="560.8" stroke="#8a8a8a" stroke-width="1.1"/>
<text x="298.3" y="571.6" font-size="11.2" fill="#4d4d4d" text-anchor="middle" font-weight="normal" >800</text>
<line x1="473.14" x2="473.14" y1="558" y2="560.8" stroke="#8a8a8a" stroke-width="1.1"/>
<text x="473.1" y="571.6" font-size="11.2" fill="#4d4d4d" text-anchor="middle" font-weight="normal" >1200</text>
<line x1="648.00" x2="648.00" y1="558" y2="560.8" stroke="#8a8a8a" stroke-width="1.1"/>
<text x="648.0" y="571.6" font-size="11.2" fill="#4d4d4d" text-anchor="middle" font-weight="normal" >1600</text>
<text x="364.0" y="588.2" font-size="15" fill="#000" text-anchor="middle" font-weight="bold" >m/z</text>
<text transform="translate(18.7,426.8) rotate(-90)" font-size="15" font-weight="bold" fill="#000" text-anchor="middle">Intensity</text>
</svg>
</body></html>
